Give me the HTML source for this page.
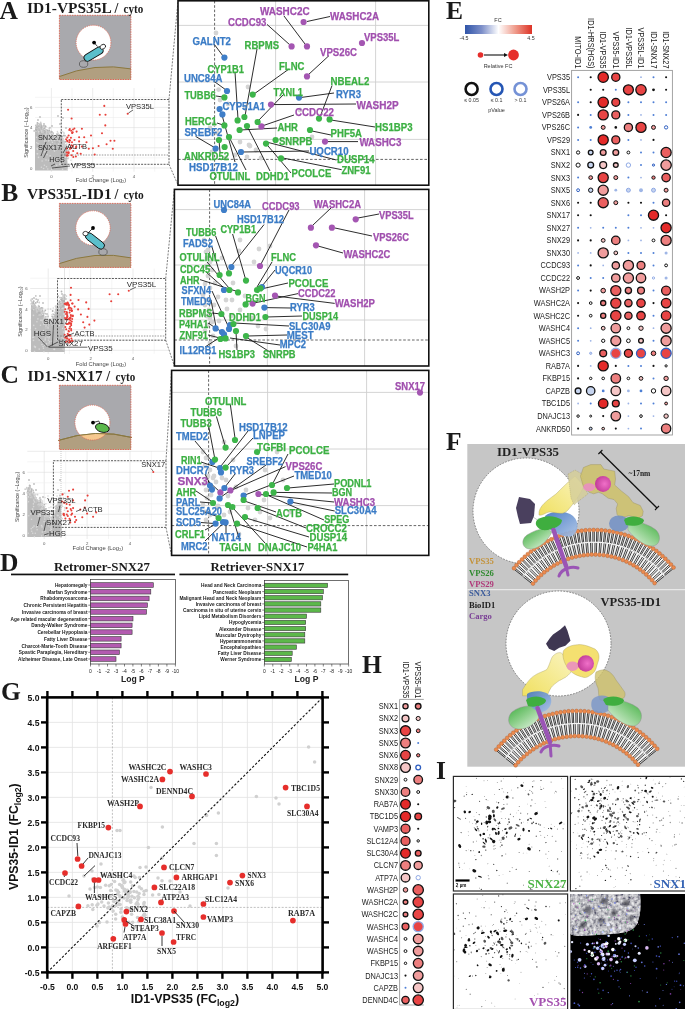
<!DOCTYPE html>
<html><head><meta charset="utf-8"><style>
html,body{margin:0;padding:0;background:#fff;width:685px;height:1009px;overflow:hidden}
svg{display:block;will-change:transform}
</style></head><body>
<svg width="685" height="1009" viewBox="0 0 685 1009" font-family='"Liberation Sans", sans-serif'>
<line x1="51.4" y1="88.0" x2="51.4" y2="171.7" stroke="#dedede" stroke-width="0.6"/>
<line x1="72.0" y1="88.0" x2="72.0" y2="171.7" stroke="#eeeeee" stroke-width="0.6"/>
<line x1="92.7" y1="88.0" x2="92.7" y2="171.7" stroke="#dedede" stroke-width="0.6"/>
<line x1="113.3" y1="88.0" x2="113.3" y2="171.7" stroke="#eeeeee" stroke-width="0.6"/>
<line x1="134.0" y1="88.0" x2="134.0" y2="171.7" stroke="#dedede" stroke-width="0.6"/>
<line x1="154.7" y1="88.0" x2="154.7" y2="171.7" stroke="#eeeeee" stroke-width="0.6"/>
<line x1="35.0" y1="168.0" x2="170.0" y2="168.0" stroke="#dedede" stroke-width="0.6"/>
<line x1="35.0" y1="157.9" x2="170.0" y2="157.9" stroke="#eeeeee" stroke-width="0.6"/>
<line x1="35.0" y1="147.8" x2="170.0" y2="147.8" stroke="#dedede" stroke-width="0.6"/>
<line x1="35.0" y1="137.7" x2="170.0" y2="137.7" stroke="#eeeeee" stroke-width="0.6"/>
<line x1="35.0" y1="127.6" x2="170.0" y2="127.6" stroke="#dedede" stroke-width="0.6"/>
<line x1="35.0" y1="117.5" x2="170.0" y2="117.5" stroke="#eeeeee" stroke-width="0.6"/>
<line x1="35.0" y1="107.4" x2="170.0" y2="107.4" stroke="#dedede" stroke-width="0.6"/>
<line x1="35.0" y1="97.3" x2="170.0" y2="97.3" stroke="#eeeeee" stroke-width="0.6"/>
<text x="51.4" y="177.7" font-size="4.3" font-family='"Liberation Sans", sans-serif' fill="#555" text-anchor="middle">0</text>
<text x="92.7" y="177.7" font-size="4.3" font-family='"Liberation Sans", sans-serif' fill="#555" text-anchor="middle">2</text>
<text x="134.0" y="177.7" font-size="4.3" font-family='"Liberation Sans", sans-serif' fill="#555" text-anchor="middle">4</text>
<text x="32.5" y="169.5" font-size="4.3" font-family='"Liberation Sans", sans-serif' fill="#555" text-anchor="end">0</text>
<text x="32.5" y="149.3" font-size="4.3" font-family='"Liberation Sans", sans-serif' fill="#555" text-anchor="end">2</text>
<text x="32.5" y="129.1" font-size="4.3" font-family='"Liberation Sans", sans-serif' fill="#555" text-anchor="end">4</text>
<text x="32.5" y="108.9" font-size="4.3" font-family='"Liberation Sans", sans-serif' fill="#555" text-anchor="end">6</text>
<text x="101.0" y="182.0" font-size="5.8" font-family='"Liberation Sans", sans-serif' fill="#444" text-anchor="middle">Fold Change (Log₂)</text>
<text transform="translate(27.5,132.7) rotate(-90)" font-family='"Liberation Sans", sans-serif' font-size="5.4" fill="#444" text-anchor="middle">Significance (−Log₁₀)</text>
<path d="M35.0,128.0 L40.0,127.0 L46.0,131.0 L52.0,136.0 L58.0,140.0 L62.0,141.0 L65.0,146.0 L67.0,156.0 L68.0,170.5 L35.0,170.5 Z" fill="#bcbcbc"/>
<circle cx="55.8" cy="142.7" r="0.9" fill="#c4c4c4"/><circle cx="63.1" cy="142.9" r="0.9" fill="#c4c4c4"/><circle cx="64.8" cy="145.3" r="0.9" fill="#b4b4b4"/><circle cx="36.8" cy="130.7" r="0.9" fill="#cfcfcf"/><circle cx="56.7" cy="137.5" r="0.9" fill="#b4b4b4"/><circle cx="58.0" cy="139.0" r="0.9" fill="#b4b4b4"/><circle cx="42.7" cy="129.9" r="0.9" fill="#cfcfcf"/><circle cx="66.2" cy="148.2" r="0.9" fill="#b4b4b4"/><circle cx="61.4" cy="139.7" r="0.9" fill="#cfcfcf"/><circle cx="66.9" cy="146.7" r="0.9" fill="#cfcfcf"/><circle cx="46.0" cy="129.8" r="0.9" fill="#b4b4b4"/><circle cx="65.7" cy="149.4" r="0.9" fill="#cfcfcf"/><circle cx="35.9" cy="128.7" r="0.9" fill="#c4c4c4"/><circle cx="63.8" cy="146.8" r="0.9" fill="#cfcfcf"/><circle cx="48.2" cy="132.5" r="0.9" fill="#c4c4c4"/><circle cx="68.0" cy="158.3" r="0.9" fill="#b4b4b4"/><circle cx="37.4" cy="123.0" r="0.9" fill="#b4b4b4"/><circle cx="54.9" cy="143.2" r="0.9" fill="#c4c4c4"/><circle cx="65.0" cy="135.7" r="0.9" fill="#b4b4b4"/><circle cx="51.0" cy="139.3" r="0.9" fill="#b4b4b4"/><circle cx="41.1" cy="131.8" r="0.9" fill="#cfcfcf"/><circle cx="36.1" cy="129.9" r="0.9" fill="#b4b4b4"/><circle cx="65.4" cy="153.5" r="0.9" fill="#b4b4b4"/><circle cx="35.9" cy="127.4" r="0.9" fill="#c4c4c4"/><circle cx="50.7" cy="136.9" r="0.9" fill="#cfcfcf"/><circle cx="45.7" cy="131.2" r="0.9" fill="#b4b4b4"/><circle cx="65.6" cy="151.8" r="0.9" fill="#cfcfcf"/><circle cx="58.1" cy="146.1" r="0.9" fill="#cfcfcf"/><circle cx="37.3" cy="128.2" r="0.9" fill="#c4c4c4"/><circle cx="45.1" cy="127.5" r="0.9" fill="#cfcfcf"/><circle cx="55.2" cy="139.3" r="0.9" fill="#b4b4b4"/><circle cx="40.7" cy="122.4" r="0.9" fill="#cfcfcf"/><circle cx="36.1" cy="129.5" r="0.9" fill="#b4b4b4"/><circle cx="36.5" cy="126.7" r="0.9" fill="#b4b4b4"/><circle cx="48.0" cy="131.4" r="0.9" fill="#c4c4c4"/><circle cx="45.2" cy="134.9" r="0.9" fill="#cfcfcf"/><circle cx="60.5" cy="141.1" r="0.9" fill="#b4b4b4"/><circle cx="55.0" cy="137.3" r="0.9" fill="#b4b4b4"/><circle cx="60.7" cy="135.8" r="0.9" fill="#c4c4c4"/><circle cx="46.6" cy="134.4" r="0.9" fill="#cfcfcf"/><circle cx="37.9" cy="126.7" r="0.9" fill="#c4c4c4"/><circle cx="46.6" cy="130.2" r="0.9" fill="#c4c4c4"/><circle cx="65.1" cy="145.8" r="0.9" fill="#cfcfcf"/><circle cx="54.3" cy="138.7" r="0.9" fill="#b4b4b4"/><circle cx="63.4" cy="141.4" r="0.9" fill="#c4c4c4"/><circle cx="56.6" cy="138.6" r="0.9" fill="#c4c4c4"/><circle cx="65.9" cy="147.8" r="0.9" fill="#c4c4c4"/><circle cx="58.7" cy="147.6" r="0.9" fill="#b4b4b4"/><circle cx="55.7" cy="137.3" r="0.9" fill="#b4b4b4"/><circle cx="47.2" cy="131.6" r="0.9" fill="#b4b4b4"/><circle cx="65.9" cy="153.3" r="0.9" fill="#b4b4b4"/><circle cx="49.8" cy="133.0" r="0.9" fill="#b4b4b4"/><circle cx="41.9" cy="126.3" r="0.9" fill="#b4b4b4"/><circle cx="41.3" cy="132.0" r="0.9" fill="#cfcfcf"/><circle cx="40.4" cy="126.7" r="0.9" fill="#c4c4c4"/><circle cx="54.7" cy="137.8" r="0.9" fill="#cfcfcf"/><circle cx="61.7" cy="138.2" r="0.9" fill="#cfcfcf"/><circle cx="53.2" cy="138.4" r="0.9" fill="#cfcfcf"/><circle cx="39.3" cy="126.8" r="0.9" fill="#cfcfcf"/><circle cx="65.3" cy="149.7" r="0.9" fill="#b4b4b4"/><circle cx="40.6" cy="126.7" r="0.9" fill="#b4b4b4"/><circle cx="63.1" cy="144.5" r="0.9" fill="#cfcfcf"/><circle cx="66.0" cy="151.4" r="0.9" fill="#c4c4c4"/><circle cx="47.1" cy="135.3" r="0.9" fill="#cfcfcf"/><circle cx="36.8" cy="127.4" r="0.9" fill="#cfcfcf"/><circle cx="60.0" cy="142.3" r="0.9" fill="#cfcfcf"/><circle cx="39.9" cy="131.7" r="0.9" fill="#b4b4b4"/><circle cx="53.2" cy="133.2" r="0.9" fill="#c4c4c4"/><circle cx="59.0" cy="144.5" r="0.9" fill="#c4c4c4"/><circle cx="53.9" cy="138.7" r="0.9" fill="#cfcfcf"/><circle cx="63.4" cy="141.8" r="0.9" fill="#b4b4b4"/><circle cx="48.4" cy="134.4" r="0.9" fill="#cfcfcf"/><circle cx="65.0" cy="145.3" r="0.9" fill="#c4c4c4"/><circle cx="61.9" cy="139.4" r="0.9" fill="#b4b4b4"/><circle cx="66.9" cy="154.0" r="0.9" fill="#cfcfcf"/><circle cx="49.6" cy="137.4" r="0.9" fill="#cfcfcf"/><circle cx="62.6" cy="142.2" r="0.9" fill="#c4c4c4"/><circle cx="62.2" cy="142.8" r="0.9" fill="#cfcfcf"/><circle cx="57.7" cy="139.7" r="0.9" fill="#cfcfcf"/><circle cx="61.1" cy="138.4" r="0.9" fill="#c4c4c4"/><circle cx="66.2" cy="152.7" r="0.9" fill="#b4b4b4"/><circle cx="59.8" cy="138.7" r="0.9" fill="#cfcfcf"/><circle cx="37.4" cy="126.9" r="0.9" fill="#b4b4b4"/><circle cx="60.8" cy="132.2" r="0.9" fill="#b4b4b4"/><circle cx="54.6" cy="139.8" r="0.9" fill="#c4c4c4"/><circle cx="56.6" cy="140.6" r="0.9" fill="#b4b4b4"/><circle cx="56.8" cy="134.5" r="0.9" fill="#c4c4c4"/><circle cx="60.6" cy="141.8" r="0.9" fill="#c4c4c4"/><circle cx="44.2" cy="130.6" r="0.9" fill="#b4b4b4"/><circle cx="41.6" cy="126.0" r="0.9" fill="#b4b4b4"/><circle cx="60.0" cy="136.5" r="0.9" fill="#cfcfcf"/><circle cx="60.2" cy="141.4" r="0.9" fill="#c4c4c4"/><circle cx="37.5" cy="124.5" r="0.9" fill="#b4b4b4"/><circle cx="57.8" cy="137.3" r="0.9" fill="#cfcfcf"/><circle cx="43.8" cy="125.9" r="0.9" fill="#b4b4b4"/><circle cx="64.4" cy="143.0" r="0.9" fill="#cfcfcf"/><circle cx="53.0" cy="137.2" r="0.9" fill="#b4b4b4"/><circle cx="37.3" cy="128.2" r="0.9" fill="#c4c4c4"/><circle cx="51.7" cy="137.9" r="0.9" fill="#cfcfcf"/><circle cx="39.9" cy="124.1" r="0.9" fill="#b4b4b4"/><circle cx="44.9" cy="125.8" r="0.9" fill="#c4c4c4"/><circle cx="37.8" cy="125.5" r="0.9" fill="#cfcfcf"/><circle cx="65.6" cy="149.2" r="0.9" fill="#b4b4b4"/><circle cx="66.0" cy="147.6" r="0.9" fill="#b4b4b4"/><circle cx="42.9" cy="129.4" r="0.9" fill="#c4c4c4"/><circle cx="63.2" cy="148.3" r="0.9" fill="#c4c4c4"/><circle cx="39.8" cy="125.7" r="0.9" fill="#cfcfcf"/><circle cx="48.5" cy="132.8" r="0.9" fill="#cfcfcf"/><circle cx="40.2" cy="128.5" r="0.9" fill="#cfcfcf"/><circle cx="49.0" cy="133.6" r="0.9" fill="#cfcfcf"/><circle cx="63.9" cy="150.4" r="0.9" fill="#cfcfcf"/><circle cx="66.3" cy="158.7" r="0.9" fill="#b4b4b4"/><circle cx="61.8" cy="137.8" r="0.9" fill="#c4c4c4"/><circle cx="36.9" cy="128.2" r="0.9" fill="#c4c4c4"/><circle cx="44.3" cy="134.0" r="0.9" fill="#c4c4c4"/><circle cx="66.0" cy="148.3" r="0.9" fill="#c4c4c4"/><circle cx="48.9" cy="136.2" r="0.9" fill="#cfcfcf"/><circle cx="60.7" cy="138.9" r="0.9" fill="#c4c4c4"/><circle cx="47.6" cy="130.5" r="0.9" fill="#b4b4b4"/><circle cx="55.1" cy="136.0" r="0.9" fill="#b4b4b4"/><circle cx="65.6" cy="148.6" r="0.9" fill="#b4b4b4"/><circle cx="63.1" cy="138.8" r="0.9" fill="#b4b4b4"/><circle cx="63.6" cy="144.7" r="0.9" fill="#c4c4c4"/><circle cx="60.8" cy="137.4" r="0.9" fill="#b4b4b4"/><circle cx="62.3" cy="140.9" r="0.9" fill="#cfcfcf"/><circle cx="68.5" cy="150.2" r="0.9" fill="#c4c4c4"/><circle cx="56.8" cy="142.2" r="0.9" fill="#cfcfcf"/><circle cx="37.2" cy="125.1" r="0.9" fill="#c4c4c4"/><circle cx="59.0" cy="136.9" r="0.9" fill="#c4c4c4"/><circle cx="60.3" cy="138.4" r="0.9" fill="#b4b4b4"/><circle cx="38.1" cy="123.6" r="0.9" fill="#c4c4c4"/><circle cx="66.7" cy="155.3" r="0.9" fill="#c4c4c4"/><circle cx="37.0" cy="127.0" r="0.9" fill="#b4b4b4"/><circle cx="58.0" cy="138.8" r="0.9" fill="#b4b4b4"/><circle cx="56.4" cy="142.5" r="0.9" fill="#b4b4b4"/><circle cx="65.2" cy="148.2" r="0.9" fill="#c4c4c4"/><circle cx="52.0" cy="138.3" r="0.9" fill="#b4b4b4"/><circle cx="37.6" cy="129.6" r="0.9" fill="#cfcfcf"/><circle cx="49.0" cy="133.0" r="0.9" fill="#cfcfcf"/><circle cx="61.9" cy="142.4" r="0.9" fill="#b4b4b4"/><circle cx="42.9" cy="126.3" r="0.9" fill="#cfcfcf"/><circle cx="62.7" cy="140.2" r="0.9" fill="#cfcfcf"/><circle cx="61.5" cy="141.6" r="0.9" fill="#b4b4b4"/><circle cx="45.7" cy="126.4" r="0.9" fill="#b4b4b4"/><circle cx="62.4" cy="143.4" r="0.9" fill="#c4c4c4"/><circle cx="38.9" cy="130.4" r="0.9" fill="#b4b4b4"/><circle cx="64.0" cy="145.2" r="0.9" fill="#cfcfcf"/><circle cx="49.6" cy="131.8" r="0.9" fill="#c4c4c4"/><circle cx="61.1" cy="145.4" r="0.9" fill="#c4c4c4"/><circle cx="65.2" cy="156.9" r="0.9" fill="#c4c4c4"/><circle cx="56.8" cy="137.7" r="0.9" fill="#b4b4b4"/><circle cx="64.0" cy="143.1" r="0.9" fill="#cfcfcf"/><circle cx="67.3" cy="152.6" r="0.9" fill="#b4b4b4"/><circle cx="57.4" cy="140.6" r="0.9" fill="#cfcfcf"/><circle cx="59.2" cy="139.5" r="0.9" fill="#b4b4b4"/><circle cx="35.8" cy="131.1" r="0.9" fill="#cfcfcf"/><circle cx="48.1" cy="133.7" r="0.9" fill="#b4b4b4"/><circle cx="41.2" cy="128.0" r="0.9" fill="#b4b4b4"/><circle cx="49.3" cy="128.5" r="0.9" fill="#cfcfcf"/><circle cx="47.8" cy="134.0" r="0.9" fill="#c4c4c4"/><circle cx="41.6" cy="134.4" r="0.9" fill="#b4b4b4"/><circle cx="37.5" cy="125.7" r="0.9" fill="#c4c4c4"/><circle cx="60.8" cy="141.7" r="0.9" fill="#c4c4c4"/><circle cx="58.3" cy="138.6" r="0.9" fill="#b4b4b4"/><circle cx="64.5" cy="153.9" r="0.9" fill="#b4b4b4"/><circle cx="58.9" cy="141.4" r="0.9" fill="#b4b4b4"/><circle cx="65.1" cy="141.7" r="0.9" fill="#c4c4c4"/><circle cx="66.8" cy="150.2" r="0.9" fill="#b4b4b4"/><circle cx="46.1" cy="130.3" r="0.9" fill="#cfcfcf"/><circle cx="67.0" cy="152.6" r="0.9" fill="#cfcfcf"/><circle cx="51.1" cy="132.7" r="0.9" fill="#c4c4c4"/><circle cx="62.5" cy="136.3" r="0.9" fill="#b4b4b4"/><circle cx="64.3" cy="148.9" r="0.9" fill="#cfcfcf"/><circle cx="49.3" cy="137.2" r="0.9" fill="#c4c4c4"/><circle cx="60.3" cy="136.0" r="0.9" fill="#b4b4b4"/><circle cx="57.2" cy="141.6" r="0.9" fill="#b4b4b4"/><circle cx="63.7" cy="143.9" r="0.9" fill="#c4c4c4"/><circle cx="59.1" cy="141.3" r="0.9" fill="#c4c4c4"/><circle cx="61.0" cy="138.5" r="0.9" fill="#b4b4b4"/><circle cx="38.9" cy="130.7" r="0.9" fill="#b4b4b4"/><circle cx="47.3" cy="132.4" r="0.9" fill="#b4b4b4"/><circle cx="60.5" cy="138.9" r="0.9" fill="#b4b4b4"/><circle cx="47.2" cy="139.0" r="0.9" fill="#cfcfcf"/><circle cx="61.2" cy="135.4" r="0.9" fill="#c4c4c4"/><circle cx="58.5" cy="137.6" r="0.9" fill="#b4b4b4"/><circle cx="57.6" cy="137.8" r="0.9" fill="#b4b4b4"/><circle cx="66.3" cy="159.3" r="0.9" fill="#c4c4c4"/><circle cx="66.4" cy="154.7" r="0.9" fill="#b4b4b4"/><circle cx="67.2" cy="147.0" r="0.9" fill="#cfcfcf"/><circle cx="56.1" cy="139.4" r="0.9" fill="#c4c4c4"/><circle cx="40.7" cy="130.5" r="0.9" fill="#cfcfcf"/><circle cx="66.2" cy="145.6" r="0.9" fill="#b4b4b4"/><circle cx="61.1" cy="146.3" r="0.9" fill="#b4b4b4"/><circle cx="66.4" cy="144.8" r="0.9" fill="#cfcfcf"/><circle cx="39.1" cy="126.7" r="0.9" fill="#cfcfcf"/><circle cx="60.2" cy="140.0" r="0.9" fill="#b4b4b4"/><circle cx="51.6" cy="134.6" r="0.9" fill="#c4c4c4"/><circle cx="40.8" cy="124.2" r="0.9" fill="#c4c4c4"/><circle cx="48.3" cy="134.8" r="0.9" fill="#c4c4c4"/><circle cx="65.3" cy="141.7" r="0.9" fill="#b4b4b4"/><circle cx="63.8" cy="135.4" r="0.9" fill="#b4b4b4"/><circle cx="62.1" cy="146.3" r="0.9" fill="#c4c4c4"/><circle cx="42.9" cy="132.1" r="0.9" fill="#cfcfcf"/><circle cx="46.6" cy="133.0" r="0.9" fill="#cfcfcf"/><circle cx="63.7" cy="140.9" r="0.9" fill="#cfcfcf"/><circle cx="37.8" cy="129.2" r="0.9" fill="#c4c4c4"/><circle cx="51.1" cy="131.3" r="0.9" fill="#c4c4c4"/><circle cx="57.3" cy="140.7" r="0.9" fill="#b4b4b4"/><circle cx="43.5" cy="129.2" r="0.9" fill="#c4c4c4"/><circle cx="38.9" cy="126.1" r="0.9" fill="#b4b4b4"/><circle cx="36.5" cy="130.0" r="0.9" fill="#b4b4b4"/><circle cx="52.1" cy="132.4" r="0.9" fill="#cfcfcf"/><circle cx="43.7" cy="131.3" r="0.9" fill="#c4c4c4"/><circle cx="54.4" cy="137.9" r="0.9" fill="#c4c4c4"/><circle cx="65.4" cy="151.7" r="0.9" fill="#b4b4b4"/><circle cx="49.2" cy="130.3" r="0.9" fill="#b4b4b4"/><circle cx="59.4" cy="135.1" r="0.9" fill="#b4b4b4"/><circle cx="62.1" cy="140.6" r="0.9" fill="#c4c4c4"/><circle cx="58.2" cy="137.5" r="0.9" fill="#cfcfcf"/><circle cx="61.1" cy="151.8" r="0.9" fill="#cfcfcf"/><circle cx="66.8" cy="154.7" r="0.9" fill="#cfcfcf"/><circle cx="45.5" cy="132.3" r="0.9" fill="#c4c4c4"/><circle cx="64.1" cy="147.8" r="0.9" fill="#c4c4c4"/><circle cx="57.8" cy="134.9" r="0.9" fill="#b4b4b4"/><circle cx="59.7" cy="137.0" r="0.9" fill="#c4c4c4"/><circle cx="45.4" cy="136.2" r="0.9" fill="#cfcfcf"/><circle cx="40.0" cy="128.6" r="0.9" fill="#c4c4c4"/><circle cx="45.0" cy="128.9" r="0.9" fill="#cfcfcf"/><circle cx="61.5" cy="137.9" r="0.9" fill="#cfcfcf"/><circle cx="40.4" cy="125.9" r="0.9" fill="#c4c4c4"/><circle cx="60.2" cy="140.8" r="0.9" fill="#b4b4b4"/><circle cx="55.6" cy="139.7" r="0.9" fill="#cfcfcf"/><circle cx="52.9" cy="134.4" r="0.9" fill="#cfcfcf"/><circle cx="44.8" cy="132.3" r="0.9" fill="#b4b4b4"/><circle cx="57.1" cy="137.1" r="0.9" fill="#c4c4c4"/><circle cx="61.2" cy="138.1" r="0.9" fill="#c4c4c4"/><circle cx="57.8" cy="133.2" r="0.9" fill="#cfcfcf"/><circle cx="57.3" cy="140.4" r="0.9" fill="#cfcfcf"/><circle cx="50.0" cy="127.7" r="0.9" fill="#c4c4c4"/><circle cx="35.8" cy="125.3" r="0.9" fill="#c4c4c4"/><circle cx="57.3" cy="141.8" r="0.9" fill="#b4b4b4"/><circle cx="41.1" cy="124.1" r="0.9" fill="#c4c4c4"/><circle cx="38.7" cy="132.7" r="0.9" fill="#cfcfcf"/><circle cx="49.2" cy="140.0" r="0.9" fill="#cfcfcf"/><circle cx="65.6" cy="154.8" r="0.9" fill="#b4b4b4"/><circle cx="44.1" cy="128.2" r="0.9" fill="#b4b4b4"/><circle cx="39.1" cy="131.7" r="0.9" fill="#cfcfcf"/><circle cx="52.8" cy="136.1" r="0.9" fill="#c4c4c4"/><circle cx="39.3" cy="131.6" r="0.9" fill="#c4c4c4"/><circle cx="42.0" cy="127.6" r="0.9" fill="#b4b4b4"/><circle cx="58.5" cy="138.3" r="0.9" fill="#c4c4c4"/><circle cx="40.0" cy="130.7" r="0.9" fill="#b4b4b4"/><circle cx="40.2" cy="132.3" r="0.9" fill="#b4b4b4"/><circle cx="42.6" cy="128.3" r="0.9" fill="#cfcfcf"/><circle cx="61.9" cy="150.0" r="0.9" fill="#cfcfcf"/><circle cx="34.2" cy="130.9" r="0.9" fill="#c4c4c4"/><circle cx="65.2" cy="152.2" r="0.9" fill="#c4c4c4"/><circle cx="53.3" cy="136.7" r="0.9" fill="#cfcfcf"/><circle cx="63.3" cy="142.9" r="0.9" fill="#cfcfcf"/><circle cx="51.8" cy="131.9" r="0.9" fill="#b4b4b4"/><circle cx="56.6" cy="139.1" r="0.8" fill="#d8d8d8"/><circle cx="46.5" cy="166.8" r="0.8" fill="#d8d8d8"/><circle cx="59.3" cy="141.0" r="0.8" fill="#d8d8d8"/><circle cx="58.4" cy="133.6" r="0.8" fill="#d8d8d8"/><circle cx="70.4" cy="147.5" r="0.8" fill="#d8d8d8"/><circle cx="54.5" cy="151.1" r="0.8" fill="#d8d8d8"/><circle cx="37.6" cy="153.8" r="0.8" fill="#d8d8d8"/><circle cx="46.0" cy="140.0" r="0.8" fill="#d8d8d8"/><circle cx="64.1" cy="133.5" r="0.8" fill="#d8d8d8"/><circle cx="46.0" cy="160.0" r="0.8" fill="#d8d8d8"/><circle cx="44.6" cy="141.1" r="0.8" fill="#d8d8d8"/><circle cx="55.2" cy="137.4" r="0.8" fill="#d8d8d8"/><circle cx="67.4" cy="169.2" r="0.8" fill="#d8d8d8"/><circle cx="37.2" cy="148.3" r="0.8" fill="#d8d8d8"/><circle cx="62.3" cy="145.3" r="0.8" fill="#d8d8d8"/><circle cx="68.5" cy="149.8" r="0.8" fill="#d8d8d8"/><circle cx="42.3" cy="152.1" r="0.8" fill="#d8d8d8"/><circle cx="58.6" cy="144.3" r="0.8" fill="#d8d8d8"/><circle cx="59.0" cy="161.1" r="0.8" fill="#d8d8d8"/><circle cx="54.1" cy="150.1" r="0.8" fill="#d8d8d8"/><circle cx="65.6" cy="157.2" r="0.8" fill="#d8d8d8"/><circle cx="54.2" cy="167.8" r="0.8" fill="#d8d8d8"/><circle cx="42.1" cy="161.0" r="0.8" fill="#d8d8d8"/><circle cx="41.8" cy="154.1" r="0.8" fill="#d8d8d8"/><circle cx="44.2" cy="147.5" r="0.8" fill="#d8d8d8"/><circle cx="63.1" cy="161.2" r="0.8" fill="#d8d8d8"/><circle cx="63.7" cy="139.4" r="0.8" fill="#d8d8d8"/><circle cx="53.1" cy="138.8" r="0.8" fill="#d8d8d8"/><circle cx="56.3" cy="149.8" r="0.8" fill="#d8d8d8"/><circle cx="37.2" cy="153.7" r="0.8" fill="#d8d8d8"/><circle cx="61.0" cy="152.7" r="0.8" fill="#d8d8d8"/><circle cx="66.6" cy="137.1" r="0.8" fill="#d8d8d8"/><circle cx="41.3" cy="130.7" r="0.8" fill="#d8d8d8"/><circle cx="53.4" cy="147.3" r="0.8" fill="#d8d8d8"/><circle cx="51.5" cy="140.4" r="0.8" fill="#d8d8d8"/><circle cx="63.9" cy="132.9" r="0.8" fill="#d8d8d8"/><circle cx="67.8" cy="152.6" r="0.8" fill="#d8d8d8"/><circle cx="55.0" cy="161.4" r="0.8" fill="#d8d8d8"/><circle cx="44.3" cy="135.8" r="0.8" fill="#d8d8d8"/><circle cx="46.9" cy="131.7" r="0.8" fill="#d8d8d8"/><circle cx="47.0" cy="154.7" r="0.8" fill="#d8d8d8"/><circle cx="54.4" cy="140.5" r="0.8" fill="#d8d8d8"/><circle cx="56.6" cy="133.5" r="0.8" fill="#d8d8d8"/><circle cx="64.7" cy="136.8" r="0.8" fill="#d8d8d8"/><circle cx="44.9" cy="136.3" r="0.8" fill="#d8d8d8"/><circle cx="60.2" cy="163.0" r="0.8" fill="#d8d8d8"/><circle cx="63.5" cy="132.4" r="0.8" fill="#d8d8d8"/><circle cx="50.4" cy="144.5" r="0.8" fill="#d8d8d8"/><circle cx="43.6" cy="168.5" r="0.8" fill="#d8d8d8"/><circle cx="37.5" cy="149.4" r="0.8" fill="#d8d8d8"/><circle cx="62.6" cy="169.2" r="0.8" fill="#d8d8d8"/><circle cx="41.1" cy="148.1" r="0.8" fill="#d8d8d8"/><circle cx="62.1" cy="131.6" r="0.8" fill="#d8d8d8"/><circle cx="44.4" cy="165.3" r="0.8" fill="#d8d8d8"/><circle cx="41.0" cy="145.6" r="0.8" fill="#d8d8d8"/><circle cx="46.4" cy="146.9" r="0.8" fill="#d8d8d8"/><circle cx="38.7" cy="131.4" r="0.8" fill="#d8d8d8"/><circle cx="70.9" cy="160.3" r="0.8" fill="#d8d8d8"/><circle cx="61.7" cy="139.1" r="0.8" fill="#d8d8d8"/><circle cx="44.9" cy="151.9" r="0.8" fill="#d8d8d8"/><circle cx="44.5" cy="148.3" r="0.8" fill="#d8d8d8"/><circle cx="68.6" cy="144.5" r="0.8" fill="#d8d8d8"/><circle cx="47.8" cy="169.0" r="0.8" fill="#d8d8d8"/><circle cx="57.4" cy="131.6" r="0.8" fill="#d8d8d8"/><circle cx="50.1" cy="155.8" r="0.8" fill="#d8d8d8"/><circle cx="38.0" cy="143.6" r="0.8" fill="#d8d8d8"/><circle cx="60.3" cy="164.3" r="0.8" fill="#d8d8d8"/><circle cx="56.7" cy="165.2" r="0.8" fill="#d8d8d8"/><circle cx="52.2" cy="145.6" r="0.8" fill="#d8d8d8"/><circle cx="65.5" cy="145.1" r="0.8" fill="#d8d8d8"/><circle cx="63.3" cy="138.6" r="0.8" fill="#d8d8d8"/><circle cx="48.2" cy="137.3" r="0.8" fill="#d8d8d8"/><circle cx="55.2" cy="136.5" r="0.8" fill="#d8d8d8"/><circle cx="43.1" cy="138.5" r="0.8" fill="#d8d8d8"/><circle cx="52.4" cy="142.2" r="0.8" fill="#d8d8d8"/><circle cx="51.6" cy="169.4" r="0.8" fill="#d8d8d8"/><circle cx="59.8" cy="164.3" r="0.8" fill="#d8d8d8"/><circle cx="43.2" cy="145.2" r="0.8" fill="#d8d8d8"/><circle cx="38.5" cy="157.4" r="0.8" fill="#d8d8d8"/><circle cx="48.7" cy="140.9" r="0.8" fill="#d8d8d8"/><circle cx="36.6" cy="137.2" r="0.8" fill="#d8d8d8"/><circle cx="45.2" cy="145.6" r="0.8" fill="#d8d8d8"/><circle cx="68.3" cy="158.4" r="0.8" fill="#d8d8d8"/><circle cx="45.4" cy="144.3" r="0.8" fill="#d8d8d8"/><circle cx="41.4" cy="167.2" r="0.8" fill="#d8d8d8"/><circle cx="48.6" cy="160.4" r="0.8" fill="#d8d8d8"/><circle cx="61.3" cy="166.0" r="0.8" fill="#d8d8d8"/><circle cx="36.7" cy="142.8" r="0.8" fill="#d8d8d8"/><circle cx="49.5" cy="133.3" r="0.8" fill="#d8d8d8"/><circle cx="66.9" cy="142.9" r="0.8" fill="#d8d8d8"/><circle cx="38.0" cy="120.0" r="0.9" fill="#bdbdbd"/><circle cx="44.0" cy="124.0" r="0.9" fill="#bdbdbd"/><circle cx="60.0" cy="124.0" r="0.9" fill="#bdbdbd"/><circle cx="63.0" cy="118.0" r="0.9" fill="#bdbdbd"/><circle cx="66.0" cy="128.0" r="0.9" fill="#bdbdbd"/><circle cx="58.0" cy="116.0" r="0.9" fill="#bdbdbd"/><circle cx="40.0" cy="117.0" r="0.9" fill="#bdbdbd"/><circle cx="52.0" cy="126.0" r="0.9" fill="#bdbdbd"/>
<rect x="61.3" y="99.5" width="107.7" height="64.8" fill="none" stroke="#333" stroke-width="0.8" stroke-dasharray="2,1.2"/>
<line x1="61.3" y1="155.0" x2="169.0" y2="155.0" stroke="#555" stroke-width="0.6" stroke-dasharray="1.5,1.2"/>
<circle cx="68.1" cy="109.8" r="1.05" fill="#e8403a"/>
<circle cx="71.6" cy="118.5" r="1.05" fill="#e8403a"/>
<circle cx="104.3" cy="105.9" r="1.05" fill="#e8403a"/>
<circle cx="99.8" cy="114.8" r="1.05" fill="#e8403a"/>
<circle cx="105.5" cy="114.8" r="1.05" fill="#e8403a"/>
<circle cx="105.3" cy="125.4" r="1.05" fill="#e8403a"/>
<circle cx="81.9" cy="128.8" r="1.05" fill="#e8403a"/>
<circle cx="69.3" cy="130.0" r="1.05" fill="#e8403a"/>
<circle cx="72.3" cy="132.7" r="1.05" fill="#e8403a"/>
<circle cx="76.6" cy="131.6" r="1.05" fill="#e8403a"/>
<circle cx="91.0" cy="135.5" r="1.05" fill="#e8403a"/>
<circle cx="102.0" cy="133.2" r="1.05" fill="#e8403a"/>
<circle cx="68.6" cy="135.5" r="1.05" fill="#e8403a"/>
<circle cx="70.9" cy="137.8" r="1.05" fill="#e8403a"/>
<circle cx="79.1" cy="137.3" r="1.05" fill="#e8403a"/>
<circle cx="84.2" cy="137.3" r="1.05" fill="#e8403a"/>
<circle cx="74.5" cy="140.0" r="1.05" fill="#e8403a"/>
<circle cx="79.1" cy="141.4" r="1.05" fill="#e8403a"/>
<circle cx="86.5" cy="142.3" r="1.05" fill="#e8403a"/>
<circle cx="69.3" cy="142.3" r="1.05" fill="#e8403a"/>
<circle cx="71.6" cy="145.3" r="1.05" fill="#e8403a"/>
<circle cx="76.2" cy="146.5" r="1.05" fill="#e8403a"/>
<circle cx="81.9" cy="146.5" r="1.05" fill="#e8403a"/>
<circle cx="88.8" cy="148.8" r="1.05" fill="#e8403a"/>
<circle cx="92.9" cy="148.3" r="1.05" fill="#e8403a"/>
<circle cx="98.6" cy="146.0" r="1.05" fill="#e8403a"/>
<circle cx="106.6" cy="144.2" r="1.05" fill="#e8403a"/>
<circle cx="110.5" cy="140.7" r="1.05" fill="#e8403a"/>
<circle cx="114.4" cy="140.7" r="1.05" fill="#e8403a"/>
<circle cx="112.8" cy="148.8" r="1.05" fill="#e8403a"/>
<circle cx="94.7" cy="154.5" r="1.05" fill="#e8403a"/>
<circle cx="70.0" cy="148.8" r="1.05" fill="#e8403a"/>
<circle cx="73.2" cy="151.0" r="1.05" fill="#e8403a"/>
<circle cx="77.3" cy="153.3" r="1.05" fill="#e8403a"/>
<circle cx="80.7" cy="153.8" r="1.05" fill="#e8403a"/>
<circle cx="68.6" cy="153.3" r="1.05" fill="#e8403a"/>
<circle cx="67.7" cy="155.6" r="1.05" fill="#e8403a"/>
<circle cx="71.6" cy="155.2" r="1.05" fill="#e8403a"/>
<circle cx="127.7" cy="113.7" r="1.05" fill="#e8403a"/>
<circle cx="70.7" cy="147.7" r="1.00" fill="#e8403a"/>
<circle cx="72.7" cy="132.3" r="1.00" fill="#e8403a"/>
<circle cx="66.1" cy="139.2" r="1.00" fill="#e8403a"/>
<circle cx="68.7" cy="152.3" r="1.00" fill="#e8403a"/>
<circle cx="72.9" cy="146.0" r="1.00" fill="#e8403a"/>
<circle cx="71.6" cy="147.8" r="1.00" fill="#e8403a"/>
<circle cx="67.5" cy="141.2" r="1.00" fill="#e8403a"/>
<circle cx="67.6" cy="155.2" r="1.00" fill="#e8403a"/>
<circle cx="66.6" cy="152.6" r="1.00" fill="#e8403a"/>
<circle cx="66.7" cy="148.6" r="1.00" fill="#e8403a"/>
<circle cx="69.4" cy="140.1" r="1.00" fill="#e8403a"/>
<circle cx="74.4" cy="128.6" r="1.00" fill="#e8403a"/>
<circle cx="66.6" cy="155.5" r="1.00" fill="#e8403a"/>
<circle cx="71.1" cy="130.7" r="1.00" fill="#e8403a"/>
<circle cx="75.9" cy="156.4" r="1.00" fill="#e8403a"/>
<circle cx="67.1" cy="140.7" r="1.00" fill="#e8403a"/>
<circle cx="67.4" cy="137.4" r="1.00" fill="#e8403a"/>
<circle cx="72.2" cy="132.9" r="1.00" fill="#e8403a"/>
<circle cx="73.0" cy="129.5" r="1.00" fill="#e8403a"/>
<circle cx="67.7" cy="152.5" r="1.00" fill="#e8403a"/>
<circle cx="70.0" cy="140.6" r="1.00" fill="#e8403a"/>
<circle cx="72.0" cy="142.3" r="1.00" fill="#e8403a"/>
<circle cx="69.8" cy="128.9" r="1.00" fill="#e8403a"/>
<circle cx="73.3" cy="157.0" r="1.00" fill="#e8403a"/>
<circle cx="75.8" cy="147.9" r="1.00" fill="#e8403a"/>
<line x1="128.5" y1="113.0" x2="133.0" y2="110.0" stroke="#222" stroke-width="0.7"/>
<line x1="46.0" y1="142.0" x2="41.0" y2="156.0" stroke="#222" stroke-width="0.7"/>
<line x1="47.0" y1="151.0" x2="43.5" y2="158.0" stroke="#222" stroke-width="0.7"/>
<line x1="67.0" y1="146.0" x2="63.0" y2="153.0" stroke="#222" stroke-width="0.7"/>
<line x1="55.0" y1="164.0" x2="51.0" y2="166.0" stroke="#222" stroke-width="0.7"/>
<line x1="70.0" y1="166.0" x2="52.0" y2="168.0" stroke="#222" stroke-width="0.7"/>
<text x="125.9" y="109.3" font-size="8" font-family='"Liberation Sans", sans-serif' fill="#2a2a2a" textLength="28.1" lengthAdjust="spacingAndGlyphs">VPS35L</text>
<text x="37.9" y="140.0" font-size="8" font-family='"Liberation Sans", sans-serif' fill="#2a2a2a" textLength="23.4" lengthAdjust="spacingAndGlyphs">SNX27</text>
<text x="37.9" y="149.9" font-size="8" font-family='"Liberation Sans", sans-serif' fill="#2a2a2a" textLength="23.4" lengthAdjust="spacingAndGlyphs">SNX17</text>
<text x="67.0" y="148.8" font-size="8" font-family='"Liberation Sans", sans-serif' fill="#2a2a2a" textLength="19.9" lengthAdjust="spacingAndGlyphs">ACTB</text>
<text x="49.3" y="162.0" font-size="8" font-family='"Liberation Sans", sans-serif' fill="#2a2a2a" textLength="15.4" lengthAdjust="spacingAndGlyphs">HGS</text>
<text x="70.9" y="168.2" font-size="8" font-family='"Liberation Sans", sans-serif' fill="#2a2a2a" textLength="24.3" lengthAdjust="spacingAndGlyphs">VPS35</text>
<line x1="169.0" y1="99.5" x2="178.0" y2="0.8" stroke="#444" stroke-width="0.7" stroke-dasharray="2,1.3"/>
<line x1="169.0" y1="164.3" x2="178.0" y2="185.0" stroke="#444" stroke-width="0.7" stroke-dasharray="2,1.3"/>
<line x1="48.2" y1="268.5" x2="48.2" y2="353.8" stroke="#dedede" stroke-width="0.6"/>
<line x1="69.4" y1="268.5" x2="69.4" y2="353.8" stroke="#eeeeee" stroke-width="0.6"/>
<line x1="90.6" y1="268.5" x2="90.6" y2="353.8" stroke="#dedede" stroke-width="0.6"/>
<line x1="111.8" y1="268.5" x2="111.8" y2="353.8" stroke="#eeeeee" stroke-width="0.6"/>
<line x1="133.0" y1="268.5" x2="133.0" y2="353.8" stroke="#dedede" stroke-width="0.6"/>
<line x1="154.2" y1="268.5" x2="154.2" y2="353.8" stroke="#eeeeee" stroke-width="0.6"/>
<line x1="30.2" y1="350.3" x2="168.0" y2="350.3" stroke="#dedede" stroke-width="0.6"/>
<line x1="30.2" y1="340.0" x2="168.0" y2="340.0" stroke="#eeeeee" stroke-width="0.6"/>
<line x1="30.2" y1="329.7" x2="168.0" y2="329.7" stroke="#dedede" stroke-width="0.6"/>
<line x1="30.2" y1="319.4" x2="168.0" y2="319.4" stroke="#eeeeee" stroke-width="0.6"/>
<line x1="30.2" y1="309.1" x2="168.0" y2="309.1" stroke="#dedede" stroke-width="0.6"/>
<line x1="30.2" y1="298.8" x2="168.0" y2="298.8" stroke="#eeeeee" stroke-width="0.6"/>
<line x1="30.2" y1="288.5" x2="168.0" y2="288.5" stroke="#dedede" stroke-width="0.6"/>
<line x1="30.2" y1="278.2" x2="168.0" y2="278.2" stroke="#eeeeee" stroke-width="0.6"/>
<text x="48.2" y="359.8" font-size="4.3" font-family='"Liberation Sans", sans-serif' fill="#555" text-anchor="middle">0</text>
<text x="90.6" y="359.8" font-size="4.3" font-family='"Liberation Sans", sans-serif' fill="#555" text-anchor="middle">2</text>
<text x="133.0" y="359.8" font-size="4.3" font-family='"Liberation Sans", sans-serif' fill="#555" text-anchor="middle">4</text>
<text x="27.7" y="351.8" font-size="4.3" font-family='"Liberation Sans", sans-serif' fill="#555" text-anchor="end">0</text>
<text x="27.7" y="331.2" font-size="4.3" font-family='"Liberation Sans", sans-serif' fill="#555" text-anchor="end">2</text>
<text x="27.7" y="310.6" font-size="4.3" font-family='"Liberation Sans", sans-serif' fill="#555" text-anchor="end">4</text>
<text x="27.7" y="290.0" font-size="4.3" font-family='"Liberation Sans", sans-serif' fill="#555" text-anchor="end">6</text>
<text x="101.0" y="366.0" font-size="5.8" font-family='"Liberation Sans", sans-serif' fill="#444" text-anchor="middle">Fold Change (Log₂)</text>
<text transform="translate(22,311.7) rotate(-90)" font-family='"Liberation Sans", sans-serif' font-size="5.4" fill="#444" text-anchor="middle">Significance (−Log₁₀)</text>
<path d="M31.0,305.0 L36.0,306.0 L41.0,312.0 L45.0,320.0 L48.0,326.0 L52.0,321.0 L56.0,312.0 L60.0,304.0 L63.0,300.0 L64.5,300.0 L64.5,352.0 L31.0,352.0 Z" fill="#bcbcbc"/>
<circle cx="41.3" cy="311.5" r="0.9" fill="#cfcfcf"/><circle cx="38.5" cy="314.3" r="0.9" fill="#b4b4b4"/><circle cx="46.6" cy="329.4" r="0.9" fill="#b4b4b4"/><circle cx="63.3" cy="304.2" r="0.9" fill="#b4b4b4"/><circle cx="34.6" cy="304.9" r="0.9" fill="#b4b4b4"/><circle cx="61.9" cy="301.1" r="0.9" fill="#cfcfcf"/><circle cx="34.0" cy="303.9" r="0.9" fill="#c4c4c4"/><circle cx="49.8" cy="326.7" r="0.9" fill="#cfcfcf"/><circle cx="43.6" cy="313.6" r="0.9" fill="#c4c4c4"/><circle cx="32.1" cy="307.9" r="0.9" fill="#c4c4c4"/><circle cx="62.7" cy="302.2" r="0.9" fill="#b4b4b4"/><circle cx="50.4" cy="322.6" r="0.9" fill="#cfcfcf"/><circle cx="64.4" cy="295.9" r="0.9" fill="#cfcfcf"/><circle cx="56.3" cy="314.1" r="0.9" fill="#c4c4c4"/><circle cx="55.7" cy="312.6" r="0.9" fill="#b4b4b4"/><circle cx="56.2" cy="310.0" r="0.9" fill="#b4b4b4"/><circle cx="65.5" cy="302.8" r="0.9" fill="#cfcfcf"/><circle cx="46.5" cy="324.2" r="0.9" fill="#cfcfcf"/><circle cx="47.4" cy="325.5" r="0.9" fill="#b4b4b4"/><circle cx="45.2" cy="313.7" r="0.9" fill="#c4c4c4"/><circle cx="64.7" cy="299.0" r="0.9" fill="#c4c4c4"/><circle cx="61.4" cy="299.3" r="0.9" fill="#b4b4b4"/><circle cx="51.9" cy="324.8" r="0.9" fill="#cfcfcf"/><circle cx="39.1" cy="310.2" r="0.9" fill="#c4c4c4"/><circle cx="49.0" cy="326.8" r="0.9" fill="#cfcfcf"/><circle cx="40.7" cy="308.6" r="0.9" fill="#b4b4b4"/><circle cx="39.8" cy="312.2" r="0.9" fill="#cfcfcf"/><circle cx="47.7" cy="327.3" r="0.9" fill="#cfcfcf"/><circle cx="42.5" cy="308.1" r="0.9" fill="#b4b4b4"/><circle cx="45.7" cy="318.3" r="0.9" fill="#cfcfcf"/><circle cx="58.6" cy="308.3" r="0.9" fill="#c4c4c4"/><circle cx="40.4" cy="309.9" r="0.9" fill="#cfcfcf"/><circle cx="52.2" cy="316.4" r="0.9" fill="#b4b4b4"/><circle cx="63.8" cy="300.3" r="0.9" fill="#b4b4b4"/><circle cx="63.8" cy="301.0" r="0.9" fill="#b4b4b4"/><circle cx="52.0" cy="321.6" r="0.9" fill="#b4b4b4"/><circle cx="59.6" cy="311.7" r="0.9" fill="#cfcfcf"/><circle cx="65.9" cy="299.0" r="0.9" fill="#c4c4c4"/><circle cx="45.6" cy="318.8" r="0.9" fill="#cfcfcf"/><circle cx="59.6" cy="304.5" r="0.9" fill="#b4b4b4"/><circle cx="60.0" cy="306.0" r="0.9" fill="#c4c4c4"/><circle cx="63.6" cy="300.5" r="0.9" fill="#c4c4c4"/><circle cx="52.7" cy="311.0" r="0.9" fill="#b4b4b4"/><circle cx="45.7" cy="326.0" r="0.9" fill="#cfcfcf"/><circle cx="55.4" cy="321.3" r="0.9" fill="#cfcfcf"/><circle cx="34.6" cy="306.4" r="0.9" fill="#b4b4b4"/><circle cx="42.8" cy="313.2" r="0.9" fill="#c4c4c4"/><circle cx="66.4" cy="296.1" r="0.9" fill="#cfcfcf"/><circle cx="34.1" cy="307.3" r="0.9" fill="#c4c4c4"/><circle cx="48.5" cy="326.1" r="0.9" fill="#c4c4c4"/><circle cx="51.4" cy="322.9" r="0.9" fill="#c4c4c4"/><circle cx="56.4" cy="314.0" r="0.9" fill="#c4c4c4"/><circle cx="53.0" cy="317.9" r="0.9" fill="#b4b4b4"/><circle cx="55.8" cy="310.5" r="0.9" fill="#cfcfcf"/><circle cx="43.8" cy="322.8" r="0.9" fill="#cfcfcf"/><circle cx="43.5" cy="315.5" r="0.9" fill="#b4b4b4"/><circle cx="39.3" cy="308.5" r="0.9" fill="#c4c4c4"/><circle cx="39.9" cy="310.5" r="0.9" fill="#cfcfcf"/><circle cx="61.1" cy="299.3" r="0.9" fill="#c4c4c4"/><circle cx="61.2" cy="302.5" r="0.9" fill="#b4b4b4"/><circle cx="37.3" cy="301.9" r="0.9" fill="#b4b4b4"/><circle cx="62.9" cy="300.7" r="0.9" fill="#b4b4b4"/><circle cx="49.8" cy="321.6" r="0.9" fill="#c4c4c4"/><circle cx="56.1" cy="307.3" r="0.9" fill="#cfcfcf"/><circle cx="61.0" cy="302.8" r="0.9" fill="#b4b4b4"/><circle cx="45.4" cy="316.9" r="0.9" fill="#cfcfcf"/><circle cx="35.3" cy="305.8" r="0.9" fill="#c4c4c4"/><circle cx="64.4" cy="295.0" r="0.9" fill="#cfcfcf"/><circle cx="47.9" cy="316.6" r="0.9" fill="#b4b4b4"/><circle cx="33.7" cy="301.2" r="0.9" fill="#b4b4b4"/><circle cx="44.1" cy="311.8" r="0.9" fill="#c4c4c4"/><circle cx="41.4" cy="307.9" r="0.9" fill="#b4b4b4"/><circle cx="31.8" cy="307.9" r="0.9" fill="#c4c4c4"/><circle cx="43.4" cy="316.8" r="0.9" fill="#c4c4c4"/><circle cx="38.8" cy="309.4" r="0.9" fill="#cfcfcf"/><circle cx="50.5" cy="320.0" r="0.9" fill="#cfcfcf"/><circle cx="54.7" cy="321.5" r="0.9" fill="#b4b4b4"/><circle cx="37.9" cy="311.9" r="0.9" fill="#c4c4c4"/><circle cx="55.4" cy="312.6" r="0.9" fill="#c4c4c4"/><circle cx="49.2" cy="323.7" r="0.9" fill="#b4b4b4"/><circle cx="55.6" cy="306.2" r="0.9" fill="#cfcfcf"/><circle cx="56.2" cy="320.2" r="0.9" fill="#b4b4b4"/><circle cx="62.4" cy="298.8" r="0.9" fill="#b4b4b4"/><circle cx="62.5" cy="301.4" r="0.9" fill="#b4b4b4"/><circle cx="52.7" cy="323.6" r="0.9" fill="#b4b4b4"/><circle cx="54.3" cy="318.3" r="0.9" fill="#b4b4b4"/><circle cx="36.9" cy="307.1" r="0.9" fill="#cfcfcf"/><circle cx="63.3" cy="299.9" r="0.9" fill="#cfcfcf"/><circle cx="50.0" cy="327.1" r="0.9" fill="#b4b4b4"/><circle cx="42.0" cy="312.6" r="0.9" fill="#c4c4c4"/><circle cx="55.1" cy="320.8" r="0.9" fill="#c4c4c4"/><circle cx="63.9" cy="298.1" r="0.9" fill="#b4b4b4"/><circle cx="44.0" cy="318.6" r="0.9" fill="#c4c4c4"/><circle cx="40.1" cy="310.0" r="0.9" fill="#c4c4c4"/><circle cx="58.9" cy="310.3" r="0.9" fill="#cfcfcf"/><circle cx="63.4" cy="305.8" r="0.9" fill="#b4b4b4"/><circle cx="45.9" cy="326.5" r="0.9" fill="#cfcfcf"/><circle cx="53.3" cy="322.0" r="0.9" fill="#cfcfcf"/><circle cx="50.5" cy="320.6" r="0.9" fill="#cfcfcf"/><circle cx="45.9" cy="320.1" r="0.9" fill="#b4b4b4"/><circle cx="46.8" cy="320.6" r="0.9" fill="#c4c4c4"/><circle cx="37.8" cy="312.2" r="0.9" fill="#cfcfcf"/><circle cx="33.3" cy="306.5" r="0.9" fill="#c4c4c4"/><circle cx="59.0" cy="310.2" r="0.9" fill="#b4b4b4"/><circle cx="42.4" cy="316.3" r="0.9" fill="#b4b4b4"/><circle cx="62.5" cy="301.1" r="0.9" fill="#c4c4c4"/><circle cx="48.8" cy="325.4" r="0.9" fill="#cfcfcf"/><circle cx="33.4" cy="304.9" r="0.9" fill="#c4c4c4"/><circle cx="64.2" cy="302.5" r="0.9" fill="#cfcfcf"/><circle cx="37.4" cy="312.1" r="0.9" fill="#c4c4c4"/><circle cx="56.5" cy="309.0" r="0.9" fill="#c4c4c4"/><circle cx="32.4" cy="309.1" r="0.9" fill="#c4c4c4"/><circle cx="48.8" cy="320.5" r="0.9" fill="#c4c4c4"/><circle cx="53.8" cy="323.0" r="0.9" fill="#c4c4c4"/><circle cx="48.0" cy="323.7" r="0.9" fill="#cfcfcf"/><circle cx="38.5" cy="314.2" r="0.9" fill="#b4b4b4"/><circle cx="57.6" cy="308.1" r="0.9" fill="#cfcfcf"/><circle cx="61.1" cy="305.5" r="0.9" fill="#c4c4c4"/><circle cx="61.1" cy="302.8" r="0.9" fill="#b4b4b4"/><circle cx="64.2" cy="297.6" r="0.9" fill="#c4c4c4"/><circle cx="58.8" cy="308.9" r="0.9" fill="#c4c4c4"/><circle cx="39.2" cy="314.9" r="0.9" fill="#cfcfcf"/><circle cx="38.0" cy="312.6" r="0.9" fill="#cfcfcf"/><circle cx="32.9" cy="310.4" r="0.9" fill="#b4b4b4"/><circle cx="46.3" cy="321.5" r="0.9" fill="#b4b4b4"/><circle cx="46.3" cy="324.4" r="0.9" fill="#c4c4c4"/><circle cx="35.1" cy="306.3" r="0.9" fill="#cfcfcf"/><circle cx="63.2" cy="295.1" r="0.9" fill="#cfcfcf"/><circle cx="39.8" cy="312.2" r="0.9" fill="#b4b4b4"/><circle cx="57.0" cy="314.1" r="0.9" fill="#b4b4b4"/><circle cx="47.7" cy="324.8" r="0.9" fill="#cfcfcf"/><circle cx="46.0" cy="321.8" r="0.9" fill="#c4c4c4"/><circle cx="61.3" cy="305.6" r="0.9" fill="#c4c4c4"/><circle cx="44.8" cy="318.6" r="0.9" fill="#b4b4b4"/><circle cx="51.9" cy="323.7" r="0.9" fill="#b4b4b4"/><circle cx="42.8" cy="321.0" r="0.9" fill="#b4b4b4"/><circle cx="56.8" cy="307.5" r="0.9" fill="#cfcfcf"/><circle cx="40.8" cy="314.9" r="0.9" fill="#cfcfcf"/><circle cx="63.4" cy="299.8" r="0.9" fill="#cfcfcf"/><circle cx="31.4" cy="301.1" r="0.9" fill="#cfcfcf"/><circle cx="44.8" cy="321.6" r="0.9" fill="#c4c4c4"/><circle cx="57.9" cy="313.8" r="0.9" fill="#c4c4c4"/><circle cx="60.7" cy="301.8" r="0.9" fill="#cfcfcf"/><circle cx="44.4" cy="318.3" r="0.9" fill="#c4c4c4"/><circle cx="55.3" cy="314.3" r="0.9" fill="#c4c4c4"/><circle cx="40.9" cy="308.3" r="0.9" fill="#c4c4c4"/><circle cx="62.0" cy="297.7" r="0.9" fill="#cfcfcf"/><circle cx="47.1" cy="328.4" r="0.9" fill="#c4c4c4"/><circle cx="37.7" cy="312.4" r="0.9" fill="#b4b4b4"/><circle cx="55.2" cy="317.1" r="0.9" fill="#cfcfcf"/><circle cx="57.7" cy="305.6" r="0.9" fill="#cfcfcf"/><circle cx="62.6" cy="306.1" r="0.9" fill="#b4b4b4"/><circle cx="61.3" cy="299.8" r="0.9" fill="#b4b4b4"/><circle cx="61.2" cy="302.3" r="0.9" fill="#cfcfcf"/><circle cx="49.2" cy="324.6" r="0.9" fill="#b4b4b4"/><circle cx="46.4" cy="319.2" r="0.9" fill="#cfcfcf"/><circle cx="57.7" cy="308.5" r="0.9" fill="#c4c4c4"/><circle cx="32.2" cy="299.0" r="0.9" fill="#c4c4c4"/><circle cx="47.4" cy="325.5" r="0.9" fill="#cfcfcf"/><circle cx="42.2" cy="309.2" r="0.9" fill="#cfcfcf"/><circle cx="39.1" cy="311.2" r="0.9" fill="#c4c4c4"/><circle cx="55.7" cy="312.3" r="0.9" fill="#b4b4b4"/><circle cx="58.9" cy="304.7" r="0.9" fill="#cfcfcf"/><circle cx="46.5" cy="319.4" r="0.9" fill="#cfcfcf"/><circle cx="63.9" cy="299.0" r="0.9" fill="#cfcfcf"/><circle cx="62.9" cy="301.6" r="0.9" fill="#cfcfcf"/><circle cx="59.9" cy="302.2" r="0.9" fill="#cfcfcf"/><circle cx="62.2" cy="308.5" r="0.9" fill="#b4b4b4"/><circle cx="43.4" cy="316.8" r="0.9" fill="#c4c4c4"/><circle cx="33.2" cy="304.3" r="0.9" fill="#cfcfcf"/><circle cx="31.2" cy="303.8" r="0.9" fill="#cfcfcf"/><circle cx="60.9" cy="308.1" r="0.9" fill="#b4b4b4"/><circle cx="48.0" cy="320.5" r="0.9" fill="#cfcfcf"/><circle cx="36.6" cy="310.8" r="0.9" fill="#cfcfcf"/><circle cx="42.8" cy="322.0" r="0.9" fill="#cfcfcf"/><circle cx="54.6" cy="316.3" r="0.9" fill="#b4b4b4"/><circle cx="63.9" cy="300.7" r="0.9" fill="#c4c4c4"/><circle cx="42.8" cy="311.5" r="0.9" fill="#cfcfcf"/><circle cx="32.2" cy="303.7" r="0.9" fill="#c4c4c4"/><circle cx="61.5" cy="291.5" r="0.9" fill="#b4b4b4"/><circle cx="43.7" cy="319.0" r="0.9" fill="#c4c4c4"/><circle cx="46.6" cy="322.4" r="0.9" fill="#b4b4b4"/><circle cx="47.4" cy="326.9" r="0.9" fill="#c4c4c4"/><circle cx="61.7" cy="297.9" r="0.9" fill="#c4c4c4"/><circle cx="45.8" cy="320.8" r="0.9" fill="#c4c4c4"/><circle cx="51.7" cy="323.2" r="0.9" fill="#c4c4c4"/><circle cx="63.5" cy="301.0" r="0.9" fill="#b4b4b4"/><circle cx="57.4" cy="306.6" r="0.9" fill="#cfcfcf"/><circle cx="49.0" cy="325.8" r="0.9" fill="#c4c4c4"/><circle cx="44.6" cy="325.6" r="0.9" fill="#b4b4b4"/><circle cx="53.4" cy="319.3" r="0.9" fill="#b4b4b4"/><circle cx="46.1" cy="325.0" r="0.9" fill="#cfcfcf"/><circle cx="41.1" cy="309.8" r="0.9" fill="#cfcfcf"/><circle cx="48.0" cy="321.9" r="0.9" fill="#cfcfcf"/><circle cx="36.3" cy="308.9" r="0.9" fill="#cfcfcf"/><circle cx="43.9" cy="321.3" r="0.9" fill="#b4b4b4"/><circle cx="38.6" cy="305.6" r="0.9" fill="#cfcfcf"/><circle cx="48.2" cy="327.9" r="0.9" fill="#cfcfcf"/><circle cx="59.6" cy="304.3" r="0.9" fill="#b4b4b4"/><circle cx="42.5" cy="310.9" r="0.9" fill="#b4b4b4"/><circle cx="46.1" cy="316.6" r="0.9" fill="#c4c4c4"/><circle cx="44.2" cy="322.1" r="0.9" fill="#b4b4b4"/><circle cx="57.4" cy="309.3" r="0.9" fill="#cfcfcf"/><circle cx="45.6" cy="322.9" r="0.9" fill="#cfcfcf"/><circle cx="38.8" cy="312.5" r="0.9" fill="#b4b4b4"/><circle cx="47.7" cy="325.1" r="0.9" fill="#b4b4b4"/><circle cx="35.7" cy="302.9" r="0.9" fill="#b4b4b4"/><circle cx="32.6" cy="302.2" r="0.9" fill="#cfcfcf"/><circle cx="64.3" cy="301.0" r="0.9" fill="#b4b4b4"/><circle cx="52.7" cy="321.3" r="0.9" fill="#cfcfcf"/><circle cx="38.3" cy="307.9" r="0.9" fill="#cfcfcf"/><circle cx="59.9" cy="305.1" r="0.9" fill="#cfcfcf"/><circle cx="56.0" cy="317.0" r="0.9" fill="#b4b4b4"/><circle cx="64.8" cy="297.8" r="0.9" fill="#c4c4c4"/><circle cx="62.0" cy="304.1" r="0.9" fill="#cfcfcf"/><circle cx="35.8" cy="295.9" r="0.9" fill="#c4c4c4"/><circle cx="56.1" cy="309.5" r="0.9" fill="#c4c4c4"/><circle cx="65.1" cy="294.9" r="0.9" fill="#cfcfcf"/><circle cx="51.1" cy="320.6" r="0.9" fill="#cfcfcf"/><circle cx="45.9" cy="328.4" r="0.9" fill="#c4c4c4"/><circle cx="39.1" cy="306.7" r="0.9" fill="#b4b4b4"/><circle cx="63.4" cy="301.3" r="0.9" fill="#b4b4b4"/><circle cx="53.8" cy="314.4" r="0.9" fill="#b4b4b4"/><circle cx="56.4" cy="312.7" r="0.9" fill="#b4b4b4"/><circle cx="52.6" cy="322.6" r="0.9" fill="#b4b4b4"/><circle cx="47.4" cy="319.0" r="0.9" fill="#cfcfcf"/><circle cx="46.6" cy="322.8" r="0.9" fill="#b4b4b4"/><circle cx="53.4" cy="317.1" r="0.9" fill="#cfcfcf"/><circle cx="57.8" cy="304.1" r="0.9" fill="#b4b4b4"/><circle cx="49.1" cy="320.5" r="0.9" fill="#c4c4c4"/><circle cx="53.4" cy="323.2" r="0.9" fill="#c4c4c4"/><circle cx="36.2" cy="299.2" r="0.9" fill="#c4c4c4"/><circle cx="59.2" cy="308.1" r="0.9" fill="#b4b4b4"/><circle cx="37.7" cy="311.0" r="0.9" fill="#c4c4c4"/><circle cx="60.0" cy="297.6" r="0.9" fill="#c4c4c4"/><circle cx="34.8" cy="306.5" r="0.9" fill="#c4c4c4"/><circle cx="60.9" cy="305.1" r="0.9" fill="#c4c4c4"/><circle cx="51.1" cy="323.0" r="0.9" fill="#cfcfcf"/><circle cx="64.2" cy="296.3" r="0.9" fill="#cfcfcf"/><circle cx="43.2" cy="315.5" r="0.9" fill="#b4b4b4"/><circle cx="53.5" cy="318.6" r="0.9" fill="#b4b4b4"/><circle cx="63.1" cy="296.2" r="0.9" fill="#cfcfcf"/><circle cx="39.2" cy="302.5" r="0.9" fill="#cfcfcf"/><circle cx="37.0" cy="311.9" r="0.9" fill="#cfcfcf"/><circle cx="31.9" cy="302.9" r="0.9" fill="#cfcfcf"/><circle cx="53.8" cy="317.2" r="0.9" fill="#cfcfcf"/><circle cx="57.6" cy="309.6" r="0.9" fill="#b4b4b4"/><circle cx="59.2" cy="302.4" r="0.9" fill="#b4b4b4"/><circle cx="45.3" cy="310.4" r="0.9" fill="#b4b4b4"/><circle cx="59.4" cy="307.2" r="0.9" fill="#c4c4c4"/><circle cx="33.4" cy="303.0" r="0.9" fill="#b4b4b4"/><circle cx="41.6" cy="313.1" r="0.9" fill="#cfcfcf"/><circle cx="49.6" cy="325.5" r="0.9" fill="#b4b4b4"/><circle cx="57.4" cy="305.4" r="0.9" fill="#c4c4c4"/><circle cx="51.8" cy="322.9" r="0.9" fill="#c4c4c4"/><circle cx="36.4" cy="308.2" r="0.9" fill="#cfcfcf"/><circle cx="62.1" cy="300.4" r="0.9" fill="#b4b4b4"/><circle cx="30.9" cy="300.1" r="0.9" fill="#cfcfcf"/><circle cx="59.5" cy="301.2" r="0.9" fill="#b4b4b4"/><circle cx="43.9" cy="319.0" r="0.9" fill="#cfcfcf"/><circle cx="39.2" cy="349.1" r="0.8" fill="#d8d8d8"/><circle cx="63.4" cy="338.7" r="0.8" fill="#d8d8d8"/><circle cx="63.7" cy="314.1" r="0.8" fill="#d8d8d8"/><circle cx="67.1" cy="317.0" r="0.8" fill="#d8d8d8"/><circle cx="46.6" cy="343.9" r="0.8" fill="#d8d8d8"/><circle cx="48.1" cy="309.0" r="0.8" fill="#d8d8d8"/><circle cx="48.1" cy="315.3" r="0.8" fill="#d8d8d8"/><circle cx="33.7" cy="309.7" r="0.8" fill="#d8d8d8"/><circle cx="53.4" cy="330.7" r="0.8" fill="#d8d8d8"/><circle cx="44.0" cy="324.3" r="0.8" fill="#d8d8d8"/><circle cx="43.5" cy="348.2" r="0.8" fill="#d8d8d8"/><circle cx="35.4" cy="346.8" r="0.8" fill="#d8d8d8"/><circle cx="66.0" cy="330.1" r="0.8" fill="#d8d8d8"/><circle cx="54.5" cy="349.4" r="0.8" fill="#d8d8d8"/><circle cx="37.7" cy="307.7" r="0.8" fill="#d8d8d8"/><circle cx="43.9" cy="351.8" r="0.8" fill="#d8d8d8"/><circle cx="36.9" cy="321.8" r="0.8" fill="#d8d8d8"/><circle cx="63.5" cy="332.0" r="0.8" fill="#d8d8d8"/><circle cx="64.7" cy="327.6" r="0.8" fill="#d8d8d8"/><circle cx="55.5" cy="320.6" r="0.8" fill="#d8d8d8"/><circle cx="66.7" cy="314.4" r="0.8" fill="#d8d8d8"/><circle cx="64.3" cy="350.0" r="0.8" fill="#d8d8d8"/><circle cx="47.2" cy="337.0" r="0.8" fill="#d8d8d8"/><circle cx="48.4" cy="340.2" r="0.8" fill="#d8d8d8"/><circle cx="34.5" cy="351.5" r="0.8" fill="#d8d8d8"/><circle cx="49.1" cy="343.0" r="0.8" fill="#d8d8d8"/><circle cx="51.2" cy="319.0" r="0.8" fill="#d8d8d8"/><circle cx="36.9" cy="331.3" r="0.8" fill="#d8d8d8"/><circle cx="47.3" cy="335.5" r="0.8" fill="#d8d8d8"/><circle cx="43.4" cy="330.5" r="0.8" fill="#d8d8d8"/><circle cx="33.6" cy="337.2" r="0.8" fill="#d8d8d8"/><circle cx="49.8" cy="319.0" r="0.8" fill="#d8d8d8"/><circle cx="35.6" cy="328.6" r="0.8" fill="#d8d8d8"/><circle cx="34.4" cy="346.2" r="0.8" fill="#d8d8d8"/><circle cx="49.0" cy="337.9" r="0.8" fill="#d8d8d8"/><circle cx="43.5" cy="311.5" r="0.8" fill="#d8d8d8"/><circle cx="46.9" cy="316.6" r="0.8" fill="#d8d8d8"/><circle cx="63.0" cy="308.4" r="0.8" fill="#d8d8d8"/><circle cx="35.2" cy="347.4" r="0.8" fill="#d8d8d8"/><circle cx="32.9" cy="337.4" r="0.8" fill="#d8d8d8"/><circle cx="54.5" cy="323.4" r="0.8" fill="#d8d8d8"/><circle cx="65.9" cy="319.3" r="0.8" fill="#d8d8d8"/><circle cx="42.0" cy="344.6" r="0.8" fill="#d8d8d8"/><circle cx="41.4" cy="309.9" r="0.8" fill="#d8d8d8"/><circle cx="52.1" cy="341.3" r="0.8" fill="#d8d8d8"/><circle cx="44.1" cy="324.6" r="0.8" fill="#d8d8d8"/><circle cx="43.3" cy="335.8" r="0.8" fill="#d8d8d8"/><circle cx="49.4" cy="336.6" r="0.8" fill="#d8d8d8"/><circle cx="45.2" cy="339.9" r="0.8" fill="#d8d8d8"/><circle cx="51.9" cy="314.8" r="0.8" fill="#d8d8d8"/><circle cx="46.5" cy="335.2" r="0.8" fill="#d8d8d8"/><circle cx="59.3" cy="325.6" r="0.8" fill="#d8d8d8"/><circle cx="43.1" cy="346.6" r="0.8" fill="#d8d8d8"/><circle cx="53.9" cy="349.3" r="0.8" fill="#d8d8d8"/><circle cx="64.1" cy="326.8" r="0.8" fill="#d8d8d8"/><circle cx="45.3" cy="338.0" r="0.8" fill="#d8d8d8"/><circle cx="59.0" cy="320.5" r="0.8" fill="#d8d8d8"/><circle cx="41.9" cy="320.6" r="0.8" fill="#d8d8d8"/><circle cx="40.5" cy="325.3" r="0.8" fill="#d8d8d8"/><circle cx="49.6" cy="341.6" r="0.8" fill="#d8d8d8"/><circle cx="33.7" cy="325.4" r="0.8" fill="#d8d8d8"/><circle cx="42.1" cy="320.1" r="0.8" fill="#d8d8d8"/><circle cx="41.8" cy="341.6" r="0.8" fill="#d8d8d8"/><circle cx="33.5" cy="340.4" r="0.8" fill="#d8d8d8"/><circle cx="62.6" cy="328.4" r="0.8" fill="#d8d8d8"/><circle cx="63.0" cy="349.0" r="0.8" fill="#d8d8d8"/><circle cx="40.7" cy="320.3" r="0.8" fill="#d8d8d8"/><circle cx="59.1" cy="320.0" r="0.8" fill="#d8d8d8"/><circle cx="48.8" cy="325.0" r="0.8" fill="#d8d8d8"/><circle cx="56.6" cy="339.3" r="0.8" fill="#d8d8d8"/><circle cx="64.4" cy="346.9" r="0.8" fill="#d8d8d8"/><circle cx="61.5" cy="340.1" r="0.8" fill="#d8d8d8"/><circle cx="59.3" cy="308.5" r="0.8" fill="#d8d8d8"/><circle cx="62.1" cy="308.6" r="0.8" fill="#d8d8d8"/><circle cx="67.7" cy="309.6" r="0.8" fill="#d8d8d8"/><circle cx="37.9" cy="318.9" r="0.8" fill="#d8d8d8"/><circle cx="33.5" cy="315.4" r="0.8" fill="#d8d8d8"/><circle cx="39.2" cy="339.9" r="0.8" fill="#d8d8d8"/><circle cx="62.0" cy="337.8" r="0.8" fill="#d8d8d8"/><circle cx="46.0" cy="322.9" r="0.8" fill="#d8d8d8"/><circle cx="50.6" cy="309.1" r="0.8" fill="#d8d8d8"/><circle cx="55.0" cy="312.0" r="0.8" fill="#d8d8d8"/><circle cx="48.6" cy="321.7" r="0.8" fill="#d8d8d8"/><circle cx="67.8" cy="313.3" r="0.8" fill="#d8d8d8"/><circle cx="53.3" cy="308.0" r="0.8" fill="#d8d8d8"/><circle cx="52.8" cy="314.1" r="0.8" fill="#d8d8d8"/><circle cx="44.9" cy="345.2" r="0.8" fill="#d8d8d8"/><circle cx="43.4" cy="341.5" r="0.8" fill="#d8d8d8"/><circle cx="60.3" cy="317.0" r="0.8" fill="#d8d8d8"/><circle cx="57.3" cy="336.0" r="0.8" fill="#d8d8d8"/><circle cx="34.0" cy="298.0" r="0.9" fill="#bdbdbd"/><circle cx="38.0" cy="300.0" r="0.9" fill="#bdbdbd"/><circle cx="43.0" cy="303.0" r="0.9" fill="#bdbdbd"/><circle cx="58.0" cy="296.0" r="0.9" fill="#bdbdbd"/><circle cx="62.0" cy="294.0" r="0.9" fill="#bdbdbd"/><circle cx="47.0" cy="314.0" r="0.9" fill="#bdbdbd"/><circle cx="40.0" cy="296.0" r="0.9" fill="#bdbdbd"/>
<rect x="57.5" y="278.5" width="108.2" height="61.7" fill="none" stroke="#333" stroke-width="0.8" stroke-dasharray="2,1.2"/>
<line x1="57.5" y1="336.0" x2="165.7" y2="336.0" stroke="#555" stroke-width="0.6" stroke-dasharray="1.5,1.2"/>
<line x1="64.5" y1="268.5" x2="64.5" y2="353.8" stroke="#aaa" stroke-width="0.6" stroke-dasharray="1,1"/>
<circle cx="71.0" cy="287.7" r="1.05" fill="#e8403a"/>
<circle cx="70.6" cy="294.9" r="1.05" fill="#e8403a"/>
<circle cx="78.5" cy="300.0" r="1.05" fill="#e8403a"/>
<circle cx="86.2" cy="302.4" r="1.05" fill="#e8403a"/>
<circle cx="109.6" cy="294.2" r="1.05" fill="#e8403a"/>
<circle cx="118.2" cy="294.2" r="1.05" fill="#e8403a"/>
<circle cx="111.2" cy="301.2" r="1.05" fill="#e8403a"/>
<circle cx="94.4" cy="320.6" r="1.05" fill="#e8403a"/>
<circle cx="87.4" cy="316.9" r="1.05" fill="#e8403a"/>
<circle cx="80.9" cy="314.5" r="1.05" fill="#e8403a"/>
<circle cx="83.2" cy="322.2" r="1.05" fill="#e8403a"/>
<circle cx="89.3" cy="324.6" r="1.05" fill="#e8403a"/>
<circle cx="84.6" cy="327.6" r="1.05" fill="#e8403a"/>
<circle cx="78.1" cy="309.4" r="1.05" fill="#e8403a"/>
<circle cx="74.6" cy="306.6" r="1.05" fill="#e8403a"/>
<circle cx="88.6" cy="308.9" r="1.05" fill="#e8403a"/>
<circle cx="128.8" cy="290.7" r="1.05" fill="#e8403a"/>
<circle cx="72.4" cy="340.8" r="1.00" fill="#e8403a"/>
<circle cx="72.1" cy="303.6" r="1.00" fill="#e8403a"/>
<circle cx="69.5" cy="318.2" r="1.00" fill="#e8403a"/>
<circle cx="69.0" cy="305.6" r="1.00" fill="#e8403a"/>
<circle cx="66.1" cy="319.1" r="1.00" fill="#e8403a"/>
<circle cx="66.4" cy="319.6" r="1.00" fill="#e8403a"/>
<circle cx="64.7" cy="303.7" r="1.00" fill="#e8403a"/>
<circle cx="70.5" cy="318.1" r="1.00" fill="#e8403a"/>
<circle cx="68.9" cy="331.6" r="1.00" fill="#e8403a"/>
<circle cx="67.6" cy="302.5" r="1.00" fill="#e8403a"/>
<circle cx="71.2" cy="325.3" r="1.00" fill="#e8403a"/>
<circle cx="70.1" cy="326.7" r="1.00" fill="#e8403a"/>
<circle cx="72.8" cy="315.6" r="1.00" fill="#e8403a"/>
<circle cx="71.0" cy="315.9" r="1.00" fill="#e8403a"/>
<circle cx="69.4" cy="328.4" r="1.00" fill="#e8403a"/>
<circle cx="67.2" cy="303.7" r="1.00" fill="#e8403a"/>
<circle cx="68.5" cy="330.9" r="1.00" fill="#e8403a"/>
<circle cx="69.5" cy="319.2" r="1.00" fill="#e8403a"/>
<circle cx="70.0" cy="307.8" r="1.00" fill="#e8403a"/>
<circle cx="66.0" cy="313.9" r="1.00" fill="#e8403a"/>
<circle cx="71.4" cy="308.4" r="1.00" fill="#e8403a"/>
<circle cx="65.5" cy="304.2" r="1.00" fill="#e8403a"/>
<circle cx="64.8" cy="311.8" r="1.00" fill="#e8403a"/>
<circle cx="69.4" cy="335.3" r="1.00" fill="#e8403a"/>
<circle cx="67.3" cy="315.9" r="1.00" fill="#e8403a"/>
<circle cx="67.0" cy="313.1" r="1.00" fill="#e8403a"/>
<circle cx="71.1" cy="323.6" r="1.00" fill="#e8403a"/>
<circle cx="66.7" cy="304.6" r="1.00" fill="#e8403a"/>
<circle cx="71.2" cy="330.4" r="1.00" fill="#e8403a"/>
<circle cx="71.5" cy="310.2" r="1.00" fill="#e8403a"/>
<circle cx="69.1" cy="339.5" r="1.00" fill="#e8403a"/>
<circle cx="69.5" cy="340.7" r="1.00" fill="#e8403a"/>
<circle cx="65.9" cy="341.9" r="1.00" fill="#e8403a"/>
<circle cx="65.0" cy="317.9" r="1.00" fill="#e8403a"/>
<circle cx="64.7" cy="334.8" r="1.00" fill="#e8403a"/>
<circle cx="70.3" cy="341.9" r="1.00" fill="#e8403a"/>
<circle cx="71.3" cy="340.8" r="1.00" fill="#e8403a"/>
<circle cx="69.1" cy="342.5" r="1.00" fill="#e8403a"/>
<circle cx="70.9" cy="314.9" r="1.00" fill="#e8403a"/>
<circle cx="72.8" cy="316.2" r="1.00" fill="#e8403a"/>
<circle cx="66.1" cy="303.3" r="1.00" fill="#e8403a"/>
<circle cx="68.5" cy="308.5" r="1.00" fill="#e8403a"/>
<circle cx="72.4" cy="340.9" r="1.00" fill="#e8403a"/>
<circle cx="66.3" cy="304.5" r="1.00" fill="#e8403a"/>
<circle cx="69.0" cy="307.3" r="1.00" fill="#e8403a"/>
<circle cx="69.1" cy="335.0" r="1.00" fill="#e8403a"/>
<circle cx="66.7" cy="318.1" r="1.00" fill="#e8403a"/>
<circle cx="72.2" cy="319.1" r="1.00" fill="#e8403a"/>
<circle cx="67.4" cy="338.4" r="1.00" fill="#e8403a"/>
<circle cx="71.4" cy="338.5" r="1.00" fill="#e8403a"/>
<circle cx="70.3" cy="317.7" r="1.00" fill="#e8403a"/>
<circle cx="70.4" cy="335.7" r="1.00" fill="#e8403a"/>
<circle cx="69.9" cy="310.3" r="1.00" fill="#e8403a"/>
<circle cx="67.0" cy="317.6" r="1.00" fill="#e8403a"/>
<circle cx="71.1" cy="324.0" r="1.00" fill="#e8403a"/>
<circle cx="69.2" cy="335.5" r="1.00" fill="#e8403a"/>
<circle cx="65.4" cy="327.1" r="1.00" fill="#e8403a"/>
<circle cx="67.3" cy="324.1" r="1.00" fill="#e8403a"/>
<circle cx="71.6" cy="310.7" r="1.00" fill="#e8403a"/>
<circle cx="72.6" cy="303.4" r="1.00" fill="#e8403a"/>
<circle cx="69.3" cy="323.3" r="1.00" fill="#e8403a"/>
<circle cx="66.5" cy="324.1" r="1.00" fill="#e8403a"/>
<circle cx="68.5" cy="319.3" r="1.00" fill="#e8403a"/>
<circle cx="70.6" cy="300.2" r="1.00" fill="#e8403a"/>
<circle cx="67.7" cy="333.8" r="1.00" fill="#e8403a"/>
<circle cx="65.7" cy="337.3" r="1.00" fill="#e8403a"/>
<circle cx="66.2" cy="329.3" r="1.00" fill="#e8403a"/>
<circle cx="66.0" cy="319.3" r="1.00" fill="#e8403a"/>
<circle cx="68.1" cy="303.5" r="1.00" fill="#e8403a"/>
<circle cx="70.4" cy="320.6" r="1.00" fill="#e8403a"/>
<circle cx="70.4" cy="323.2" r="1.00" fill="#e8403a"/>
<circle cx="69.2" cy="322.6" r="1.00" fill="#e8403a"/>
<circle cx="67.0" cy="338.6" r="1.00" fill="#e8403a"/>
<circle cx="65.2" cy="337.7" r="1.00" fill="#e8403a"/>
<circle cx="71.8" cy="321.4" r="1.00" fill="#e8403a"/>
<circle cx="71.1" cy="329.0" r="1.00" fill="#e8403a"/>
<circle cx="69.6" cy="312.5" r="1.00" fill="#e8403a"/>
<circle cx="67.2" cy="315.0" r="1.00" fill="#e8403a"/>
<circle cx="67.1" cy="341.3" r="1.00" fill="#e8403a"/>
<circle cx="67.4" cy="316.7" r="1.00" fill="#e8403a"/>
<circle cx="68.1" cy="335.1" r="1.00" fill="#e8403a"/>
<circle cx="68.6" cy="323.8" r="1.00" fill="#e8403a"/>
<circle cx="66.7" cy="312.0" r="1.00" fill="#e8403a"/>
<circle cx="65.3" cy="309.3" r="1.00" fill="#e8403a"/>
<circle cx="66.7" cy="336.6" r="1.00" fill="#e8403a"/>
<circle cx="68.8" cy="304.7" r="1.00" fill="#e8403a"/>
<circle cx="68.4" cy="305.2" r="1.00" fill="#e8403a"/>
<circle cx="69.3" cy="319.0" r="1.00" fill="#e8403a"/>
<circle cx="71.8" cy="311.1" r="1.00" fill="#e8403a"/>
<circle cx="71.7" cy="310.6" r="1.00" fill="#e8403a"/>
<line x1="130.0" y1="290.0" x2="136.0" y2="287.0" stroke="#222" stroke-width="0.7"/>
<line x1="53.5" y1="325.0" x2="52.4" y2="345.6" stroke="#222" stroke-width="0.7"/>
<line x1="38.4" y1="337.4" x2="47.2" y2="346.8" stroke="#222" stroke-width="0.7"/>
<line x1="74.0" y1="333.0" x2="65.0" y2="337.0" stroke="#222" stroke-width="0.7"/>
<line x1="58.0" y1="342.0" x2="48.0" y2="347.0" stroke="#222" stroke-width="0.7"/>
<line x1="48.9" y1="347.2" x2="87.4" y2="347.2" stroke="#222" stroke-width="0.7"/>
<text x="126.7" y="286.5" font-size="8" font-family='"Liberation Sans", sans-serif' fill="#2a2a2a" textLength="29.6" lengthAdjust="spacingAndGlyphs">VPS35L</text>
<text x="43.5" y="323.9" font-size="8" font-family='"Liberation Sans", sans-serif' fill="#2a2a2a" textLength="24.8" lengthAdjust="spacingAndGlyphs">SNX17</text>
<text x="33.7" y="335.5" font-size="8" font-family='"Liberation Sans", sans-serif' fill="#2a2a2a" textLength="17.5" lengthAdjust="spacingAndGlyphs">HGS</text>
<text x="74.6" y="335.5" font-size="8" font-family='"Liberation Sans", sans-serif' fill="#2a2a2a" textLength="19.8" lengthAdjust="spacingAndGlyphs">ACTB</text>
<text x="58.2" y="345.6" font-size="8" font-family='"Liberation Sans", sans-serif' fill="#2a2a2a" textLength="24.5" lengthAdjust="spacingAndGlyphs">SNX27</text>
<text x="87.9" y="351.0" font-size="8" font-family='"Liberation Sans", sans-serif' fill="#2a2a2a" textLength="24.7" lengthAdjust="spacingAndGlyphs">VPS35</text>
<line x1="165.7" y1="278.5" x2="174.4" y2="189.4" stroke="#444" stroke-width="0.7" stroke-dasharray="2,1.3"/>
<line x1="165.7" y1="340.2" x2="174.4" y2="366.0" stroke="#444" stroke-width="0.7" stroke-dasharray="2,1.3"/>
<line x1="44.2" y1="451.0" x2="44.2" y2="539.0" stroke="#dedede" stroke-width="0.6"/>
<line x1="65.7" y1="451.0" x2="65.7" y2="539.0" stroke="#eeeeee" stroke-width="0.6"/>
<line x1="87.1" y1="451.0" x2="87.1" y2="539.0" stroke="#dedede" stroke-width="0.6"/>
<line x1="108.5" y1="451.0" x2="108.5" y2="539.0" stroke="#eeeeee" stroke-width="0.6"/>
<line x1="130.0" y1="451.0" x2="130.0" y2="539.0" stroke="#dedede" stroke-width="0.6"/>
<line x1="151.4" y1="451.0" x2="151.4" y2="539.0" stroke="#eeeeee" stroke-width="0.6"/>
<line x1="27.3" y1="535.3" x2="169.0" y2="535.3" stroke="#dedede" stroke-width="0.6"/>
<line x1="27.3" y1="524.8" x2="169.0" y2="524.8" stroke="#eeeeee" stroke-width="0.6"/>
<line x1="27.3" y1="514.3" x2="169.0" y2="514.3" stroke="#dedede" stroke-width="0.6"/>
<line x1="27.3" y1="503.8" x2="169.0" y2="503.8" stroke="#eeeeee" stroke-width="0.6"/>
<line x1="27.3" y1="493.3" x2="169.0" y2="493.3" stroke="#dedede" stroke-width="0.6"/>
<line x1="27.3" y1="482.8" x2="169.0" y2="482.8" stroke="#eeeeee" stroke-width="0.6"/>
<line x1="27.3" y1="472.3" x2="169.0" y2="472.3" stroke="#dedede" stroke-width="0.6"/>
<line x1="27.3" y1="461.8" x2="169.0" y2="461.8" stroke="#eeeeee" stroke-width="0.6"/>
<line x1="27.3" y1="451.3" x2="169.0" y2="451.3" stroke="#dedede" stroke-width="0.6"/>
<text x="44.2" y="545.0" font-size="4.3" font-family='"Liberation Sans", sans-serif' fill="#555" text-anchor="middle">0</text>
<text x="87.1" y="545.0" font-size="4.3" font-family='"Liberation Sans", sans-serif' fill="#555" text-anchor="middle">2</text>
<text x="130.0" y="545.0" font-size="4.3" font-family='"Liberation Sans", sans-serif' fill="#555" text-anchor="middle">4</text>
<text x="24.8" y="536.8" font-size="4.3" font-family='"Liberation Sans", sans-serif' fill="#555" text-anchor="end">0</text>
<text x="24.8" y="515.8" font-size="4.3" font-family='"Liberation Sans", sans-serif' fill="#555" text-anchor="end">2</text>
<text x="24.8" y="494.8" font-size="4.3" font-family='"Liberation Sans", sans-serif' fill="#555" text-anchor="end">4</text>
<text x="24.8" y="473.8" font-size="4.3" font-family='"Liberation Sans", sans-serif' fill="#555" text-anchor="end">6</text>
<text x="97.9" y="550.0" font-size="5.8" font-family='"Liberation Sans", sans-serif' fill="#444" text-anchor="middle">Fold Change (Log₂)</text>
<text transform="translate(19,496.8) rotate(-90)" font-family='"Liberation Sans", sans-serif' font-size="5.4" fill="#444" text-anchor="middle">Significance (−Log₁₀)</text>
<path d="M27.3,490.0 L31.0,492.0 L36.0,498.0 L41.0,505.0 L45.0,511.0 L48.0,519.0 L50.0,526.0 L53.0,519.0 L56.0,510.0 L59.0,503.0 L61.0,500.0 L62.0,537.0 L27.3,537.0 Z" fill="#bcbcbc"/>
<circle cx="61.2" cy="503.1" r="0.9" fill="#c4c4c4"/><circle cx="60.1" cy="505.3" r="0.9" fill="#cfcfcf"/><circle cx="55.9" cy="506.4" r="0.9" fill="#c4c4c4"/><circle cx="33.6" cy="492.5" r="0.9" fill="#b4b4b4"/><circle cx="59.1" cy="498.0" r="0.9" fill="#c4c4c4"/><circle cx="48.7" cy="522.3" r="0.9" fill="#b4b4b4"/><circle cx="50.6" cy="525.4" r="0.9" fill="#b4b4b4"/><circle cx="48.9" cy="518.9" r="0.9" fill="#c4c4c4"/><circle cx="47.9" cy="516.5" r="0.9" fill="#c4c4c4"/><circle cx="50.7" cy="525.3" r="0.9" fill="#cfcfcf"/><circle cx="58.7" cy="505.3" r="0.9" fill="#c4c4c4"/><circle cx="28.2" cy="489.8" r="0.9" fill="#b4b4b4"/><circle cx="51.5" cy="520.0" r="0.9" fill="#cfcfcf"/><circle cx="55.7" cy="511.5" r="0.9" fill="#c4c4c4"/><circle cx="50.7" cy="523.6" r="0.9" fill="#b4b4b4"/><circle cx="29.6" cy="488.7" r="0.9" fill="#cfcfcf"/><circle cx="39.4" cy="503.9" r="0.9" fill="#cfcfcf"/><circle cx="35.1" cy="499.5" r="0.9" fill="#c4c4c4"/><circle cx="53.5" cy="516.5" r="0.9" fill="#cfcfcf"/><circle cx="53.3" cy="515.7" r="0.9" fill="#c4c4c4"/><circle cx="38.0" cy="500.6" r="0.9" fill="#cfcfcf"/><circle cx="49.1" cy="520.5" r="0.9" fill="#c4c4c4"/><circle cx="49.2" cy="525.5" r="0.9" fill="#c4c4c4"/><circle cx="60.7" cy="505.9" r="0.9" fill="#cfcfcf"/><circle cx="28.6" cy="492.4" r="0.9" fill="#cfcfcf"/><circle cx="34.5" cy="496.1" r="0.9" fill="#cfcfcf"/><circle cx="31.2" cy="492.2" r="0.9" fill="#c4c4c4"/><circle cx="58.1" cy="512.3" r="0.9" fill="#c4c4c4"/><circle cx="30.2" cy="492.5" r="0.9" fill="#b4b4b4"/><circle cx="30.7" cy="492.1" r="0.9" fill="#cfcfcf"/><circle cx="33.8" cy="499.4" r="0.9" fill="#c4c4c4"/><circle cx="46.0" cy="518.9" r="0.9" fill="#b4b4b4"/><circle cx="30.0" cy="490.3" r="0.9" fill="#cfcfcf"/><circle cx="40.2" cy="505.5" r="0.9" fill="#c4c4c4"/><circle cx="45.9" cy="514.4" r="0.9" fill="#b4b4b4"/><circle cx="45.6" cy="510.4" r="0.9" fill="#c4c4c4"/><circle cx="58.9" cy="504.6" r="0.9" fill="#b4b4b4"/><circle cx="27.9" cy="491.2" r="0.9" fill="#cfcfcf"/><circle cx="44.5" cy="508.7" r="0.9" fill="#c4c4c4"/><circle cx="53.7" cy="506.8" r="0.9" fill="#c4c4c4"/><circle cx="45.0" cy="508.9" r="0.9" fill="#b4b4b4"/><circle cx="47.6" cy="520.4" r="0.9" fill="#c4c4c4"/><circle cx="49.8" cy="516.4" r="0.9" fill="#cfcfcf"/><circle cx="37.6" cy="502.3" r="0.9" fill="#b4b4b4"/><circle cx="58.0" cy="502.6" r="0.9" fill="#c4c4c4"/><circle cx="46.4" cy="511.3" r="0.9" fill="#c4c4c4"/><circle cx="42.4" cy="507.7" r="0.9" fill="#c4c4c4"/><circle cx="54.7" cy="516.1" r="0.9" fill="#c4c4c4"/><circle cx="37.0" cy="500.6" r="0.9" fill="#b4b4b4"/><circle cx="50.0" cy="528.5" r="0.9" fill="#b4b4b4"/><circle cx="42.3" cy="508.0" r="0.9" fill="#b4b4b4"/><circle cx="59.0" cy="502.3" r="0.9" fill="#b4b4b4"/><circle cx="61.0" cy="498.5" r="0.9" fill="#c4c4c4"/><circle cx="53.1" cy="518.2" r="0.9" fill="#cfcfcf"/><circle cx="51.4" cy="517.6" r="0.9" fill="#b4b4b4"/><circle cx="52.6" cy="522.2" r="0.9" fill="#c4c4c4"/><circle cx="29.5" cy="495.7" r="0.9" fill="#b4b4b4"/><circle cx="45.7" cy="515.6" r="0.9" fill="#cfcfcf"/><circle cx="52.2" cy="522.5" r="0.9" fill="#b4b4b4"/><circle cx="42.3" cy="503.7" r="0.9" fill="#c4c4c4"/><circle cx="59.9" cy="495.4" r="0.9" fill="#c4c4c4"/><circle cx="47.4" cy="519.3" r="0.9" fill="#cfcfcf"/><circle cx="40.8" cy="505.0" r="0.9" fill="#c4c4c4"/><circle cx="56.3" cy="510.4" r="0.9" fill="#cfcfcf"/><circle cx="51.7" cy="520.1" r="0.9" fill="#cfcfcf"/><circle cx="29.6" cy="485.4" r="0.9" fill="#b4b4b4"/><circle cx="47.2" cy="513.7" r="0.9" fill="#cfcfcf"/><circle cx="49.8" cy="522.8" r="0.9" fill="#c4c4c4"/><circle cx="40.0" cy="497.7" r="0.9" fill="#c4c4c4"/><circle cx="48.7" cy="516.0" r="0.9" fill="#b4b4b4"/><circle cx="45.1" cy="515.2" r="0.9" fill="#cfcfcf"/><circle cx="61.2" cy="501.1" r="0.9" fill="#c4c4c4"/><circle cx="39.3" cy="503.0" r="0.9" fill="#c4c4c4"/><circle cx="59.2" cy="500.5" r="0.9" fill="#cfcfcf"/><circle cx="55.4" cy="516.4" r="0.9" fill="#b4b4b4"/><circle cx="35.1" cy="499.1" r="0.9" fill="#c4c4c4"/><circle cx="57.2" cy="508.1" r="0.9" fill="#b4b4b4"/><circle cx="31.7" cy="493.3" r="0.9" fill="#b4b4b4"/><circle cx="39.6" cy="498.4" r="0.9" fill="#cfcfcf"/><circle cx="53.2" cy="512.4" r="0.9" fill="#cfcfcf"/><circle cx="59.8" cy="500.2" r="0.9" fill="#cfcfcf"/><circle cx="48.2" cy="517.9" r="0.9" fill="#b4b4b4"/><circle cx="39.5" cy="500.4" r="0.9" fill="#cfcfcf"/><circle cx="50.3" cy="523.9" r="0.9" fill="#cfcfcf"/><circle cx="37.4" cy="500.4" r="0.9" fill="#cfcfcf"/><circle cx="45.2" cy="511.8" r="0.9" fill="#b4b4b4"/><circle cx="57.3" cy="506.1" r="0.9" fill="#cfcfcf"/><circle cx="49.5" cy="519.0" r="0.9" fill="#b4b4b4"/><circle cx="44.9" cy="511.3" r="0.9" fill="#b4b4b4"/><circle cx="35.1" cy="496.1" r="0.9" fill="#cfcfcf"/><circle cx="29.8" cy="487.8" r="0.9" fill="#b4b4b4"/><circle cx="29.4" cy="489.1" r="0.9" fill="#c4c4c4"/><circle cx="53.1" cy="520.1" r="0.9" fill="#c4c4c4"/><circle cx="50.8" cy="531.4" r="0.9" fill="#cfcfcf"/><circle cx="45.0" cy="509.4" r="0.9" fill="#c4c4c4"/><circle cx="52.7" cy="522.4" r="0.9" fill="#c4c4c4"/><circle cx="31.8" cy="497.2" r="0.9" fill="#cfcfcf"/><circle cx="60.0" cy="499.7" r="0.9" fill="#b4b4b4"/><circle cx="41.2" cy="502.5" r="0.9" fill="#cfcfcf"/><circle cx="46.3" cy="510.9" r="0.9" fill="#b4b4b4"/><circle cx="39.0" cy="506.6" r="0.9" fill="#c4c4c4"/><circle cx="60.3" cy="504.1" r="0.9" fill="#b4b4b4"/><circle cx="42.2" cy="510.4" r="0.9" fill="#cfcfcf"/><circle cx="44.9" cy="516.5" r="0.9" fill="#cfcfcf"/><circle cx="44.1" cy="510.4" r="0.9" fill="#cfcfcf"/><circle cx="51.9" cy="520.4" r="0.9" fill="#b4b4b4"/><circle cx="58.8" cy="507.2" r="0.9" fill="#b4b4b4"/><circle cx="30.3" cy="495.5" r="0.9" fill="#b4b4b4"/><circle cx="49.8" cy="520.9" r="0.9" fill="#c4c4c4"/><circle cx="59.6" cy="502.6" r="0.9" fill="#c4c4c4"/><circle cx="48.9" cy="525.7" r="0.9" fill="#cfcfcf"/><circle cx="50.7" cy="528.0" r="0.9" fill="#cfcfcf"/><circle cx="36.3" cy="497.8" r="0.9" fill="#cfcfcf"/><circle cx="40.3" cy="502.9" r="0.9" fill="#b4b4b4"/><circle cx="27.7" cy="491.5" r="0.9" fill="#b4b4b4"/><circle cx="31.1" cy="492.6" r="0.9" fill="#c4c4c4"/><circle cx="39.9" cy="504.9" r="0.9" fill="#cfcfcf"/><circle cx="26.9" cy="488.8" r="0.9" fill="#cfcfcf"/><circle cx="59.0" cy="501.6" r="0.9" fill="#cfcfcf"/><circle cx="40.3" cy="501.4" r="0.9" fill="#b4b4b4"/><circle cx="55.2" cy="510.8" r="0.9" fill="#c4c4c4"/><circle cx="58.4" cy="502.9" r="0.9" fill="#b4b4b4"/><circle cx="52.8" cy="516.8" r="0.9" fill="#c4c4c4"/><circle cx="48.3" cy="514.4" r="0.9" fill="#b4b4b4"/><circle cx="56.2" cy="506.2" r="0.9" fill="#c4c4c4"/><circle cx="49.3" cy="527.7" r="0.9" fill="#b4b4b4"/><circle cx="46.2" cy="508.8" r="0.9" fill="#c4c4c4"/><circle cx="47.6" cy="517.6" r="0.9" fill="#c4c4c4"/><circle cx="33.8" cy="495.3" r="0.9" fill="#c4c4c4"/><circle cx="33.4" cy="493.5" r="0.9" fill="#cfcfcf"/><circle cx="54.5" cy="521.7" r="0.9" fill="#cfcfcf"/><circle cx="30.7" cy="493.4" r="0.9" fill="#cfcfcf"/><circle cx="52.5" cy="520.0" r="0.9" fill="#b4b4b4"/><circle cx="55.8" cy="519.3" r="0.9" fill="#c4c4c4"/><circle cx="48.2" cy="516.0" r="0.9" fill="#cfcfcf"/><circle cx="40.7" cy="499.5" r="0.9" fill="#c4c4c4"/><circle cx="51.3" cy="527.1" r="0.9" fill="#cfcfcf"/><circle cx="43.4" cy="506.9" r="0.9" fill="#c4c4c4"/><circle cx="50.1" cy="526.3" r="0.9" fill="#b4b4b4"/><circle cx="44.3" cy="510.6" r="0.9" fill="#c4c4c4"/><circle cx="30.6" cy="493.7" r="0.9" fill="#b4b4b4"/><circle cx="56.1" cy="507.1" r="0.9" fill="#cfcfcf"/><circle cx="47.4" cy="520.2" r="0.9" fill="#b4b4b4"/><circle cx="46.4" cy="516.3" r="0.9" fill="#c4c4c4"/><circle cx="36.9" cy="500.0" r="0.9" fill="#cfcfcf"/><circle cx="39.1" cy="504.2" r="0.9" fill="#cfcfcf"/><circle cx="36.5" cy="502.2" r="0.9" fill="#c4c4c4"/><circle cx="30.6" cy="493.6" r="0.9" fill="#cfcfcf"/><circle cx="28.5" cy="488.2" r="0.9" fill="#b4b4b4"/><circle cx="41.8" cy="508.2" r="0.9" fill="#cfcfcf"/><circle cx="47.7" cy="514.3" r="0.9" fill="#b4b4b4"/><circle cx="34.8" cy="500.3" r="0.9" fill="#b4b4b4"/><circle cx="60.1" cy="499.2" r="0.9" fill="#b4b4b4"/><circle cx="29.2" cy="489.4" r="0.9" fill="#c4c4c4"/><circle cx="25.2" cy="489.2" r="0.9" fill="#cfcfcf"/><circle cx="51.3" cy="517.8" r="0.9" fill="#c4c4c4"/><circle cx="60.5" cy="501.8" r="0.9" fill="#c4c4c4"/><circle cx="53.8" cy="520.1" r="0.9" fill="#b4b4b4"/><circle cx="27.6" cy="496.6" r="0.9" fill="#cfcfcf"/><circle cx="52.9" cy="523.8" r="0.9" fill="#cfcfcf"/><circle cx="30.8" cy="497.4" r="0.9" fill="#cfcfcf"/><circle cx="59.0" cy="504.5" r="0.9" fill="#cfcfcf"/><circle cx="46.4" cy="515.6" r="0.9" fill="#cfcfcf"/><circle cx="50.7" cy="522.7" r="0.9" fill="#b4b4b4"/><circle cx="31.0" cy="495.5" r="0.9" fill="#c4c4c4"/><circle cx="50.2" cy="522.5" r="0.9" fill="#c4c4c4"/><circle cx="52.5" cy="518.3" r="0.9" fill="#cfcfcf"/><circle cx="58.2" cy="508.9" r="0.9" fill="#c4c4c4"/><circle cx="57.1" cy="511.2" r="0.9" fill="#b4b4b4"/><circle cx="44.9" cy="516.6" r="0.9" fill="#cfcfcf"/><circle cx="61.5" cy="503.2" r="0.9" fill="#cfcfcf"/><circle cx="52.6" cy="519.7" r="0.9" fill="#c4c4c4"/><circle cx="46.6" cy="517.7" r="0.9" fill="#c4c4c4"/><circle cx="57.3" cy="505.5" r="0.9" fill="#c4c4c4"/><circle cx="31.6" cy="491.0" r="0.9" fill="#b4b4b4"/><circle cx="49.2" cy="526.8" r="0.9" fill="#c4c4c4"/><circle cx="61.2" cy="504.6" r="0.9" fill="#c4c4c4"/><circle cx="27.4" cy="492.8" r="0.9" fill="#c4c4c4"/><circle cx="52.0" cy="518.8" r="0.9" fill="#cfcfcf"/><circle cx="40.7" cy="504.0" r="0.9" fill="#cfcfcf"/><circle cx="60.1" cy="500.1" r="0.9" fill="#c4c4c4"/><circle cx="47.1" cy="520.5" r="0.9" fill="#b4b4b4"/><circle cx="61.7" cy="505.3" r="0.9" fill="#cfcfcf"/><circle cx="48.8" cy="517.6" r="0.9" fill="#c4c4c4"/><circle cx="35.0" cy="496.5" r="0.9" fill="#cfcfcf"/><circle cx="60.4" cy="499.2" r="0.9" fill="#c4c4c4"/><circle cx="49.2" cy="521.9" r="0.9" fill="#c4c4c4"/><circle cx="57.4" cy="505.0" r="0.9" fill="#cfcfcf"/><circle cx="27.5" cy="492.6" r="0.9" fill="#cfcfcf"/><circle cx="60.1" cy="497.3" r="0.9" fill="#cfcfcf"/><circle cx="45.6" cy="511.0" r="0.9" fill="#c4c4c4"/><circle cx="55.9" cy="508.7" r="0.9" fill="#b4b4b4"/><circle cx="44.1" cy="508.0" r="0.9" fill="#cfcfcf"/><circle cx="42.6" cy="505.6" r="0.9" fill="#c4c4c4"/><circle cx="43.5" cy="509.3" r="0.9" fill="#b4b4b4"/><circle cx="45.2" cy="514.5" r="0.9" fill="#b4b4b4"/><circle cx="33.2" cy="490.4" r="0.9" fill="#c4c4c4"/><circle cx="59.6" cy="506.8" r="0.9" fill="#b4b4b4"/><circle cx="57.0" cy="507.7" r="0.9" fill="#cfcfcf"/><circle cx="41.8" cy="510.4" r="0.9" fill="#c4c4c4"/><circle cx="57.4" cy="506.0" r="0.9" fill="#cfcfcf"/><circle cx="42.2" cy="509.2" r="0.9" fill="#cfcfcf"/><circle cx="60.7" cy="504.8" r="0.9" fill="#cfcfcf"/><circle cx="44.0" cy="512.8" r="0.9" fill="#cfcfcf"/><circle cx="49.9" cy="526.3" r="0.9" fill="#b4b4b4"/><circle cx="37.4" cy="501.3" r="0.9" fill="#c4c4c4"/><circle cx="36.0" cy="498.2" r="0.9" fill="#cfcfcf"/><circle cx="52.2" cy="520.8" r="0.9" fill="#c4c4c4"/><circle cx="60.8" cy="507.5" r="0.9" fill="#b4b4b4"/><circle cx="28.2" cy="489.9" r="0.9" fill="#c4c4c4"/><circle cx="47.2" cy="516.0" r="0.9" fill="#cfcfcf"/><circle cx="54.8" cy="515.2" r="0.9" fill="#b4b4b4"/><circle cx="44.3" cy="504.6" r="0.9" fill="#b4b4b4"/><circle cx="49.2" cy="515.1" r="0.9" fill="#c4c4c4"/><circle cx="47.8" cy="520.3" r="0.9" fill="#cfcfcf"/><circle cx="53.4" cy="514.2" r="0.9" fill="#b4b4b4"/><circle cx="40.4" cy="509.3" r="0.9" fill="#cfcfcf"/><circle cx="43.6" cy="507.3" r="0.9" fill="#c4c4c4"/><circle cx="35.6" cy="497.6" r="0.9" fill="#cfcfcf"/><circle cx="57.8" cy="502.4" r="0.9" fill="#c4c4c4"/><circle cx="29.5" cy="494.0" r="0.9" fill="#cfcfcf"/><circle cx="26.8" cy="487.7" r="0.9" fill="#cfcfcf"/><circle cx="49.5" cy="522.2" r="0.9" fill="#c4c4c4"/><circle cx="56.6" cy="506.3" r="0.9" fill="#b4b4b4"/><circle cx="44.5" cy="510.5" r="0.9" fill="#b4b4b4"/><circle cx="50.0" cy="527.0" r="0.9" fill="#c4c4c4"/><circle cx="59.6" cy="500.5" r="0.9" fill="#cfcfcf"/><circle cx="36.4" cy="500.7" r="0.9" fill="#c4c4c4"/><circle cx="33.9" cy="494.4" r="0.9" fill="#cfcfcf"/><circle cx="44.6" cy="511.4" r="0.9" fill="#cfcfcf"/><circle cx="32.3" cy="497.8" r="0.9" fill="#c4c4c4"/><circle cx="40.6" cy="500.6" r="0.9" fill="#c4c4c4"/><circle cx="54.2" cy="517.9" r="0.9" fill="#cfcfcf"/><circle cx="53.5" cy="519.6" r="0.9" fill="#c4c4c4"/><circle cx="51.0" cy="525.9" r="0.9" fill="#cfcfcf"/><circle cx="28.7" cy="487.6" r="0.9" fill="#c4c4c4"/><circle cx="29.7" cy="487.3" r="0.9" fill="#c4c4c4"/><circle cx="38.2" cy="504.7" r="0.9" fill="#cfcfcf"/><circle cx="30.2" cy="491.6" r="0.9" fill="#c4c4c4"/><circle cx="47.9" cy="521.4" r="0.9" fill="#b4b4b4"/><circle cx="52.4" cy="516.5" r="0.9" fill="#c4c4c4"/><circle cx="53.4" cy="521.9" r="0.9" fill="#cfcfcf"/><circle cx="56.3" cy="499.9" r="0.9" fill="#c4c4c4"/><circle cx="30.4" cy="494.4" r="0.9" fill="#c4c4c4"/><circle cx="50.0" cy="525.2" r="0.9" fill="#b4b4b4"/><circle cx="43.4" cy="510.3" r="0.9" fill="#c4c4c4"/><circle cx="60.8" cy="501.0" r="0.9" fill="#cfcfcf"/><circle cx="49.2" cy="523.2" r="0.9" fill="#c4c4c4"/><circle cx="54.8" cy="518.1" r="0.9" fill="#cfcfcf"/><circle cx="60.4" cy="501.1" r="0.9" fill="#b4b4b4"/><circle cx="57.3" cy="515.5" r="0.9" fill="#cfcfcf"/><circle cx="54.4" cy="516.0" r="0.9" fill="#cfcfcf"/><circle cx="47.1" cy="513.7" r="0.9" fill="#b4b4b4"/><circle cx="35.5" cy="498.2" r="0.9" fill="#cfcfcf"/><circle cx="30.6" cy="488.5" r="0.9" fill="#cfcfcf"/><circle cx="60.8" cy="498.4" r="0.9" fill="#b4b4b4"/><circle cx="31.8" cy="489.2" r="0.9" fill="#b4b4b4"/><circle cx="37.5" cy="494.7" r="0.9" fill="#cfcfcf"/><circle cx="57.4" cy="506.8" r="0.9" fill="#b4b4b4"/><circle cx="35.7" cy="502.1" r="0.9" fill="#c4c4c4"/><circle cx="49.0" cy="507.8" r="0.8" fill="#d8d8d8"/><circle cx="36.1" cy="498.5" r="0.8" fill="#d8d8d8"/><circle cx="43.5" cy="510.9" r="0.8" fill="#d8d8d8"/><circle cx="62.9" cy="513.2" r="0.8" fill="#d8d8d8"/><circle cx="42.5" cy="514.4" r="0.8" fill="#d8d8d8"/><circle cx="39.3" cy="514.6" r="0.8" fill="#d8d8d8"/><circle cx="42.6" cy="501.1" r="0.8" fill="#d8d8d8"/><circle cx="42.0" cy="526.9" r="0.8" fill="#d8d8d8"/><circle cx="31.5" cy="519.3" r="0.8" fill="#d8d8d8"/><circle cx="62.3" cy="518.5" r="0.8" fill="#d8d8d8"/><circle cx="45.0" cy="531.1" r="0.8" fill="#d8d8d8"/><circle cx="54.9" cy="507.2" r="0.8" fill="#d8d8d8"/><circle cx="28.3" cy="533.2" r="0.8" fill="#d8d8d8"/><circle cx="44.8" cy="506.4" r="0.8" fill="#d8d8d8"/><circle cx="28.5" cy="501.8" r="0.8" fill="#d8d8d8"/><circle cx="55.2" cy="519.2" r="0.8" fill="#d8d8d8"/><circle cx="34.0" cy="526.1" r="0.8" fill="#d8d8d8"/><circle cx="57.1" cy="496.1" r="0.8" fill="#d8d8d8"/><circle cx="50.9" cy="507.0" r="0.8" fill="#d8d8d8"/><circle cx="42.2" cy="505.0" r="0.8" fill="#d8d8d8"/><circle cx="48.0" cy="496.0" r="0.8" fill="#d8d8d8"/><circle cx="63.5" cy="498.6" r="0.8" fill="#d8d8d8"/><circle cx="64.5" cy="493.2" r="0.8" fill="#d8d8d8"/><circle cx="43.3" cy="504.3" r="0.8" fill="#d8d8d8"/><circle cx="64.7" cy="507.5" r="0.8" fill="#d8d8d8"/><circle cx="65.0" cy="508.8" r="0.8" fill="#d8d8d8"/><circle cx="32.5" cy="509.0" r="0.8" fill="#d8d8d8"/><circle cx="30.7" cy="513.9" r="0.8" fill="#d8d8d8"/><circle cx="34.3" cy="501.9" r="0.8" fill="#d8d8d8"/><circle cx="33.6" cy="506.6" r="0.8" fill="#d8d8d8"/><circle cx="64.7" cy="516.1" r="0.8" fill="#d8d8d8"/><circle cx="51.5" cy="529.3" r="0.8" fill="#d8d8d8"/><circle cx="44.1" cy="521.7" r="0.8" fill="#d8d8d8"/><circle cx="28.8" cy="515.7" r="0.8" fill="#d8d8d8"/><circle cx="58.9" cy="508.1" r="0.8" fill="#d8d8d8"/><circle cx="32.7" cy="533.3" r="0.8" fill="#d8d8d8"/><circle cx="57.1" cy="506.3" r="0.8" fill="#d8d8d8"/><circle cx="32.6" cy="509.2" r="0.8" fill="#d8d8d8"/><circle cx="45.9" cy="503.8" r="0.8" fill="#d8d8d8"/><circle cx="59.6" cy="517.3" r="0.8" fill="#d8d8d8"/><circle cx="58.0" cy="515.6" r="0.8" fill="#d8d8d8"/><circle cx="62.7" cy="520.6" r="0.8" fill="#d8d8d8"/><circle cx="46.7" cy="513.9" r="0.8" fill="#d8d8d8"/><circle cx="59.7" cy="520.0" r="0.8" fill="#d8d8d8"/><circle cx="48.7" cy="499.5" r="0.8" fill="#d8d8d8"/><circle cx="60.6" cy="522.2" r="0.8" fill="#d8d8d8"/><circle cx="64.4" cy="510.3" r="0.8" fill="#d8d8d8"/><circle cx="35.8" cy="494.4" r="0.8" fill="#d8d8d8"/><circle cx="40.5" cy="514.5" r="0.8" fill="#d8d8d8"/><circle cx="37.4" cy="524.6" r="0.8" fill="#d8d8d8"/><circle cx="35.3" cy="533.3" r="0.8" fill="#d8d8d8"/><circle cx="33.9" cy="500.2" r="0.8" fill="#d8d8d8"/><circle cx="32.7" cy="527.5" r="0.8" fill="#d8d8d8"/><circle cx="60.6" cy="523.1" r="0.8" fill="#d8d8d8"/><circle cx="37.1" cy="529.7" r="0.8" fill="#d8d8d8"/><circle cx="53.9" cy="503.4" r="0.8" fill="#d8d8d8"/><circle cx="61.4" cy="526.3" r="0.8" fill="#d8d8d8"/><circle cx="38.2" cy="516.1" r="0.8" fill="#d8d8d8"/><circle cx="28.6" cy="496.9" r="0.8" fill="#d8d8d8"/><circle cx="31.2" cy="528.8" r="0.8" fill="#d8d8d8"/><circle cx="44.9" cy="519.1" r="0.8" fill="#d8d8d8"/><circle cx="61.9" cy="504.9" r="0.8" fill="#d8d8d8"/><circle cx="33.4" cy="503.9" r="0.8" fill="#d8d8d8"/><circle cx="62.6" cy="506.5" r="0.8" fill="#d8d8d8"/><circle cx="29.9" cy="495.1" r="0.8" fill="#d8d8d8"/><circle cx="42.3" cy="532.0" r="0.8" fill="#d8d8d8"/><circle cx="36.6" cy="527.0" r="0.8" fill="#d8d8d8"/><circle cx="41.6" cy="536.0" r="0.8" fill="#d8d8d8"/><circle cx="50.6" cy="502.7" r="0.8" fill="#d8d8d8"/><circle cx="40.3" cy="515.9" r="0.8" fill="#d8d8d8"/><circle cx="43.0" cy="512.3" r="0.8" fill="#d8d8d8"/><circle cx="63.4" cy="493.7" r="0.8" fill="#d8d8d8"/><circle cx="41.5" cy="525.5" r="0.8" fill="#d8d8d8"/><circle cx="61.4" cy="531.4" r="0.8" fill="#d8d8d8"/><circle cx="42.2" cy="508.2" r="0.8" fill="#d8d8d8"/><circle cx="61.0" cy="517.9" r="0.8" fill="#d8d8d8"/><circle cx="63.4" cy="497.5" r="0.8" fill="#d8d8d8"/><circle cx="56.7" cy="524.8" r="0.8" fill="#d8d8d8"/><circle cx="64.8" cy="503.3" r="0.8" fill="#d8d8d8"/><circle cx="50.3" cy="530.3" r="0.8" fill="#d8d8d8"/><circle cx="45.0" cy="497.6" r="0.8" fill="#d8d8d8"/><circle cx="53.4" cy="499.4" r="0.8" fill="#d8d8d8"/><circle cx="34.4" cy="536.7" r="0.8" fill="#d8d8d8"/><circle cx="45.4" cy="535.2" r="0.8" fill="#d8d8d8"/><circle cx="62.9" cy="498.6" r="0.8" fill="#d8d8d8"/><circle cx="36.9" cy="526.3" r="0.8" fill="#d8d8d8"/><circle cx="34.8" cy="496.6" r="0.8" fill="#d8d8d8"/><circle cx="31.7" cy="531.2" r="0.8" fill="#d8d8d8"/><circle cx="61.1" cy="531.2" r="0.8" fill="#d8d8d8"/><circle cx="42.4" cy="502.7" r="0.8" fill="#d8d8d8"/><circle cx="30.0" cy="486.0" r="0.9" fill="#bdbdbd"/><circle cx="34.0" cy="484.0" r="0.9" fill="#bdbdbd"/><circle cx="29.0" cy="480.0" r="0.9" fill="#bdbdbd"/><circle cx="43.0" cy="497.0" r="0.9" fill="#bdbdbd"/><circle cx="52.0" cy="498.0" r="0.9" fill="#bdbdbd"/><circle cx="58.0" cy="490.0" r="0.9" fill="#bdbdbd"/><circle cx="60.0" cy="480.0" r="0.9" fill="#bdbdbd"/><circle cx="36.0" cy="490.0" r="0.9" fill="#bdbdbd"/>
<rect x="53.4" y="460.7" width="112.6" height="66.7" fill="none" stroke="#333" stroke-width="0.8" stroke-dasharray="2,1.2"/>
<line x1="61.0" y1="451.0" x2="61.0" y2="539.0" stroke="#aaa" stroke-width="0.6" stroke-dasharray="1,1"/>
<circle cx="73.1" cy="489.6" r="1.05" fill="#e8403a"/>
<circle cx="69.0" cy="490.8" r="1.05" fill="#e8403a"/>
<circle cx="62.5" cy="494.4" r="1.05" fill="#e8403a"/>
<circle cx="67.8" cy="496.8" r="1.05" fill="#e8403a"/>
<circle cx="87.6" cy="495.6" r="1.05" fill="#e8403a"/>
<circle cx="85.1" cy="500.4" r="1.05" fill="#e8403a"/>
<circle cx="73.1" cy="500.4" r="1.05" fill="#e8403a"/>
<circle cx="64.2" cy="502.8" r="1.05" fill="#e8403a"/>
<circle cx="69.7" cy="504.7" r="1.05" fill="#e8403a"/>
<circle cx="66.6" cy="508.1" r="1.05" fill="#e8403a"/>
<circle cx="73.1" cy="508.1" r="1.05" fill="#e8403a"/>
<circle cx="84.7" cy="507.6" r="1.05" fill="#e8403a"/>
<circle cx="80.3" cy="509.5" r="1.05" fill="#e8403a"/>
<circle cx="67.8" cy="511.2" r="1.05" fill="#e8403a"/>
<circle cx="72.1" cy="513.6" r="1.05" fill="#e8403a"/>
<circle cx="63.5" cy="514.4" r="1.05" fill="#e8403a"/>
<circle cx="67.8" cy="516.0" r="1.05" fill="#e8403a"/>
<circle cx="75.0" cy="516.8" r="1.05" fill="#e8403a"/>
<circle cx="87.1" cy="513.6" r="1.05" fill="#e8403a"/>
<circle cx="93.1" cy="516.8" r="1.05" fill="#e8403a"/>
<circle cx="96.2" cy="512.4" r="1.05" fill="#e8403a"/>
<circle cx="65.4" cy="518.5" r="1.05" fill="#e8403a"/>
<circle cx="76.2" cy="520.1" r="1.05" fill="#e8403a"/>
<circle cx="82.3" cy="517.3" r="1.05" fill="#e8403a"/>
<circle cx="75.0" cy="522.1" r="1.05" fill="#e8403a"/>
<circle cx="153.3" cy="472.0" r="1.05" fill="#e8403a"/>
<circle cx="66.8" cy="514.6" r="1.00" fill="#e8403a"/>
<circle cx="70.3" cy="522.5" r="1.00" fill="#e8403a"/>
<circle cx="70.7" cy="509.1" r="1.00" fill="#e8403a"/>
<circle cx="71.4" cy="510.6" r="1.00" fill="#e8403a"/>
<circle cx="64.4" cy="502.4" r="1.00" fill="#e8403a"/>
<circle cx="66.6" cy="503.9" r="1.00" fill="#e8403a"/>
<circle cx="64.0" cy="515.3" r="1.00" fill="#e8403a"/>
<circle cx="69.5" cy="518.8" r="1.00" fill="#e8403a"/>
<circle cx="62.0" cy="501.5" r="1.00" fill="#e8403a"/>
<circle cx="63.8" cy="513.8" r="1.00" fill="#e8403a"/>
<circle cx="70.2" cy="520.0" r="1.00" fill="#e8403a"/>
<circle cx="71.3" cy="514.7" r="1.00" fill="#e8403a"/>
<line x1="151.0" y1="468.5" x2="153.0" y2="471.0" stroke="#222" stroke-width="0.7"/>
<line x1="60.0" y1="505.5" x2="58.5" y2="512.0" stroke="#222" stroke-width="0.7"/>
<line x1="40.0" y1="517.0" x2="37.5" y2="526.0" stroke="#222" stroke-width="0.7"/>
<line x1="81.0" y1="509.5" x2="76.0" y2="511.5" stroke="#222" stroke-width="0.7"/>
<line x1="46.0" y1="522.0" x2="44.0" y2="531.0" stroke="#222" stroke-width="0.7"/>
<line x1="48.5" y1="533.5" x2="44.0" y2="535.0" stroke="#222" stroke-width="0.7"/>
<text x="141.3" y="467.2" font-size="8" font-family='"Liberation Sans", sans-serif' fill="#2a2a2a" textLength="24.0" lengthAdjust="spacingAndGlyphs">SNX17</text>
<text x="47.3" y="503.3" font-size="8" font-family='"Liberation Sans", sans-serif' fill="#2a2a2a" textLength="28.2" lengthAdjust="spacingAndGlyphs">VPS35L</text>
<text x="30.5" y="514.8" font-size="8" font-family='"Liberation Sans", sans-serif' fill="#2a2a2a" textLength="24.1" lengthAdjust="spacingAndGlyphs">VPS35</text>
<text x="82.3" y="512.0" font-size="8" font-family='"Liberation Sans", sans-serif' fill="#2a2a2a" textLength="20.4" lengthAdjust="spacingAndGlyphs">ACTB</text>
<text x="46.1" y="525.0" font-size="8" font-family='"Liberation Sans", sans-serif' fill="#2a2a2a" textLength="25.3" lengthAdjust="spacingAndGlyphs">SNX27</text>
<text x="49.0" y="536.0" font-size="8" font-family='"Liberation Sans", sans-serif' fill="#2a2a2a" textLength="16.9" lengthAdjust="spacingAndGlyphs">HGS</text>
<line x1="166.0" y1="460.7" x2="171.6" y2="370.4" stroke="#444" stroke-width="0.7" stroke-dasharray="2,1.3"/>
<line x1="166.0" y1="527.4" x2="171.6" y2="555.4" stroke="#444" stroke-width="0.7" stroke-dasharray="2,1.3"/>
<rect x="178" y="0.8" width="250.8" height="184.4" fill="#fff"/>
<line x1="275.6" y1="0.8" x2="275.6" y2="185.2" stroke="#cfcfcf" stroke-width="0.9"/>
<line x1="375.6" y1="0.8" x2="375.6" y2="185.2" stroke="#cfcfcf" stroke-width="0.9"/>
<line x1="178.0" y1="25.4" x2="428.8" y2="25.4" stroke="#cfcfcf" stroke-width="0.9"/>
<line x1="178.0" y1="82.0" x2="428.8" y2="82.0" stroke="#cfcfcf" stroke-width="0.9"/>
<line x1="178.0" y1="139.4" x2="428.8" y2="139.4" stroke="#cfcfcf" stroke-width="0.9"/>
<line x1="214.6" y1="0.8" x2="214.6" y2="185.2" stroke="#555" stroke-width="0.9" stroke-dasharray="2.6,1.8"/>
<line x1="178.0" y1="159.4" x2="428.8" y2="159.4" stroke="#555" stroke-width="0.9" stroke-dasharray="2.6,1.8"/>
<circle cx="216.0" cy="33.0" r="2.40" fill="#d4d4d4"/>
<circle cx="218.6" cy="89.6" r="2.40" fill="#d4d4d4"/>
<circle cx="248.0" cy="87.0" r="2.40" fill="#d4d4d4"/>
<circle cx="210.0" cy="128.0" r="2.40" fill="#d4d4d4"/>
<circle cx="214.0" cy="124.0" r="2.40" fill="#d4d4d4"/>
<circle cx="249.0" cy="145.0" r="2.40" fill="#d4d4d4"/>
<circle cx="247.0" cy="157.0" r="2.40" fill="#d4d4d4"/>
<circle cx="235.0" cy="155.0" r="2.40" fill="#d4d4d4"/>
<circle cx="250.0" cy="146.0" r="2.40" fill="#d4d4d4"/>
<circle cx="261.0" cy="158.0" r="2.40" fill="#d4d4d4"/>
<circle cx="228.0" cy="104.0" r="2.40" fill="#d4d4d4"/>
<circle cx="220.0" cy="100.0" r="2.40" fill="#d4d4d4"/>
<circle cx="256.0" cy="150.0" r="2.40" fill="#d4d4d4"/>
<circle cx="240.0" cy="142.0" r="2.40" fill="#d4d4d4"/>
<circle cx="212.0" cy="152.0" r="2.40" fill="#d4d4d4"/>
<circle cx="300.0" cy="110.0" r="2.40" fill="#d4d4d4"/>
<circle cx="312.0" cy="137.0" r="2.40" fill="#d4d4d4"/>
<circle cx="226.0" cy="158.0" r="2.40" fill="#d4d4d4"/>
<circle cx="217.0" cy="133.0" r="2.40" fill="#d4d4d4"/>
<circle cx="245.0" cy="108.0" r="2.40" fill="#d4d4d4"/>
<line x1="284.0" y1="16.0" x2="305.0" y2="44.0" stroke="#151515" stroke-width="0.9"/>
<line x1="267.0" y1="24.4" x2="290.0" y2="45.0" stroke="#151515" stroke-width="0.9"/>
<line x1="214.0" y1="44.0" x2="223.0" y2="56.0" stroke="#151515" stroke-width="0.9"/>
<line x1="307.0" y1="21.5" x2="330.0" y2="16.5" stroke="#151515" stroke-width="0.9"/>
<line x1="329.0" y1="55.6" x2="308.0" y2="75.0" stroke="#151515" stroke-width="0.9"/>
<line x1="257.0" y1="49.0" x2="245.0" y2="116.0" stroke="#151515" stroke-width="0.9"/>
<line x1="235.0" y1="72.0" x2="238.0" y2="119.0" stroke="#151515" stroke-width="0.9"/>
<line x1="289.0" y1="69.0" x2="254.0" y2="94.0" stroke="#151515" stroke-width="0.9"/>
<line x1="215.0" y1="82.0" x2="226.0" y2="90.0" stroke="#151515" stroke-width="0.9"/>
<line x1="216.0" y1="96.0" x2="223.0" y2="97.0" stroke="#151515" stroke-width="0.9"/>
<line x1="332.0" y1="85.6" x2="320.0" y2="117.0" stroke="#151515" stroke-width="0.9"/>
<line x1="334.0" y1="93.0" x2="300.0" y2="97.6" stroke="#151515" stroke-width="0.9"/>
<line x1="284.0" y1="94.0" x2="258.0" y2="121.0" stroke="#151515" stroke-width="0.9"/>
<line x1="272.0" y1="104.6" x2="356.0" y2="104.0" stroke="#151515" stroke-width="0.9"/>
<line x1="294.0" y1="115.0" x2="262.0" y2="126.0" stroke="#151515" stroke-width="0.9"/>
<line x1="331.0" y1="120.0" x2="375.0" y2="127.0" stroke="#151515" stroke-width="0.9"/>
<line x1="277.0" y1="128.0" x2="240.0" y2="130.0" stroke="#151515" stroke-width="0.9"/>
<line x1="217.0" y1="123.0" x2="223.0" y2="125.0" stroke="#151515" stroke-width="0.9"/>
<line x1="312.0" y1="131.0" x2="331.0" y2="135.0" stroke="#151515" stroke-width="0.9"/>
<line x1="328.0" y1="141.6" x2="358.0" y2="141.6" stroke="#151515" stroke-width="0.9"/>
<line x1="195.6" y1="136.4" x2="214.6" y2="147.6" stroke="#151515" stroke-width="0.9"/>
<line x1="242.0" y1="152.0" x2="309.0" y2="151.0" stroke="#151515" stroke-width="0.9"/>
<line x1="235.0" y1="162.0" x2="222.0" y2="115.0" stroke="#151515" stroke-width="0.9"/>
<line x1="246.0" y1="170.0" x2="229.0" y2="137.0" stroke="#151515" stroke-width="0.9"/>
<line x1="270.0" y1="171.0" x2="247.0" y2="126.0" stroke="#151515" stroke-width="0.9"/>
<line x1="291.0" y1="173.0" x2="266.0" y2="143.6" stroke="#151515" stroke-width="0.9"/>
<line x1="266.4" y1="142.0" x2="336.4" y2="160.0" stroke="#151515" stroke-width="0.9"/>
<line x1="281.4" y1="157.7" x2="341.7" y2="169.7" stroke="#151515" stroke-width="0.9"/>
<line x1="220.0" y1="152.0" x2="219.0" y2="140.0" stroke="#151515" stroke-width="0.9"/>
<circle cx="303.6" cy="22.0" r="3.10" fill="#a456b2"/>
<circle cx="291.6" cy="46.4" r="3.10" fill="#a456b2"/>
<circle cx="307.0" cy="46.4" r="3.10" fill="#a456b2"/>
<circle cx="362.0" cy="43.0" r="3.10" fill="#a456b2"/>
<circle cx="307.0" cy="76.4" r="3.10" fill="#a456b2"/>
<circle cx="271.0" cy="104.6" r="3.10" fill="#a456b2"/>
<circle cx="261.4" cy="126.4" r="3.10" fill="#a456b2"/>
<circle cx="325.0" cy="141.6" r="3.10" fill="#a456b2"/>
<circle cx="224.4" cy="57.6" r="3.10" fill="#3f7ec8"/>
<circle cx="227.0" cy="91.0" r="3.10" fill="#3f7ec8"/>
<circle cx="299.0" cy="97.6" r="3.10" fill="#3f7ec8"/>
<circle cx="219.6" cy="109.0" r="3.10" fill="#3f7ec8"/>
<circle cx="222.4" cy="114.4" r="3.10" fill="#3f7ec8"/>
<circle cx="215.6" cy="148.6" r="3.10" fill="#3f7ec8"/>
<circle cx="241.0" cy="152.0" r="3.10" fill="#3f7ec8"/>
<circle cx="224.4" cy="97.4" r="3.10" fill="#3db54a"/>
<circle cx="252.7" cy="94.6" r="3.10" fill="#3db54a"/>
<circle cx="244.4" cy="117.0" r="3.10" fill="#3db54a"/>
<circle cx="237.6" cy="120.4" r="3.10" fill="#3db54a"/>
<circle cx="257.6" cy="122.0" r="3.10" fill="#3db54a"/>
<circle cx="247.0" cy="126.0" r="3.10" fill="#3db54a"/>
<circle cx="239.6" cy="130.0" r="3.10" fill="#3db54a"/>
<circle cx="224.4" cy="125.4" r="3.10" fill="#3db54a"/>
<circle cx="229.0" cy="137.0" r="3.10" fill="#3db54a"/>
<circle cx="219.0" cy="140.0" r="3.10" fill="#3db54a"/>
<circle cx="275.6" cy="140.0" r="3.10" fill="#3db54a"/>
<circle cx="266.0" cy="143.6" r="3.10" fill="#3db54a"/>
<circle cx="224.6" cy="147.0" r="3.10" fill="#3db54a"/>
<circle cx="281.0" cy="158.4" r="3.10" fill="#3db54a"/>
<circle cx="319.0" cy="118.6" r="3.10" fill="#3db54a"/>
<circle cx="329.6" cy="119.4" r="3.10" fill="#3db54a"/>
<circle cx="310.0" cy="130.0" r="3.10" fill="#3db54a"/>
<text x="260.0" y="14.7" font-size="10.3" font-family='"Liberation Sans", sans-serif' font-weight="bold" fill="#a04fae" textLength="49.6" lengthAdjust="spacingAndGlyphs" stroke="#a04fae" stroke-width="0.25">WASHC2C</text>
<text x="228.0" y="26.1" font-size="10.3" font-family='"Liberation Sans", sans-serif' font-weight="bold" fill="#a04fae" textLength="38.4" lengthAdjust="spacingAndGlyphs" stroke="#a04fae" stroke-width="0.25">CCDC93</text>
<text x="330.0" y="19.5" font-size="10.3" font-family='"Liberation Sans", sans-serif' font-weight="bold" fill="#a04fae" textLength="49.0" lengthAdjust="spacingAndGlyphs" stroke="#a04fae" stroke-width="0.25">WASHC2A</text>
<text x="364.0" y="40.7" font-size="10.3" font-family='"Liberation Sans", sans-serif' font-weight="bold" fill="#a04fae" textLength="35.4" lengthAdjust="spacingAndGlyphs" stroke="#a04fae" stroke-width="0.25">VPS35L</text>
<text x="192.4" y="44.7" font-size="10.3" font-family='"Liberation Sans", sans-serif' font-weight="bold" fill="#3b7cc6" textLength="38.6" lengthAdjust="spacingAndGlyphs" stroke="#3b7cc6" stroke-width="0.25">GALNT2</text>
<text x="244.6" y="49.1" font-size="10.3" font-family='"Liberation Sans", sans-serif' font-weight="bold" fill="#3cb043" textLength="34.4" lengthAdjust="spacingAndGlyphs" stroke="#3cb043" stroke-width="0.25">RBPMS</text>
<text x="320.0" y="55.5" font-size="10.3" font-family='"Liberation Sans", sans-serif' font-weight="bold" fill="#a04fae" textLength="37.0" lengthAdjust="spacingAndGlyphs" stroke="#a04fae" stroke-width="0.25">VPS26C</text>
<text x="279.0" y="70.1" font-size="10.3" font-family='"Liberation Sans", sans-serif' font-weight="bold" fill="#3cb043" textLength="25.4" lengthAdjust="spacingAndGlyphs" stroke="#3cb043" stroke-width="0.25">FLNC</text>
<text x="207.6" y="72.7" font-size="10.3" font-family='"Liberation Sans", sans-serif' font-weight="bold" fill="#3cb043" textLength="36.4" lengthAdjust="spacingAndGlyphs" stroke="#3cb043" stroke-width="0.25">CYP1B1</text>
<text x="184.0" y="82.1" font-size="10.3" font-family='"Liberation Sans", sans-serif' font-weight="bold" fill="#3b7cc6" textLength="38.4" lengthAdjust="spacingAndGlyphs" stroke="#3b7cc6" stroke-width="0.25">UNC84A</text>
<text x="330.6" y="84.7" font-size="10.3" font-family='"Liberation Sans", sans-serif' font-weight="bold" fill="#3cb043" textLength="38.8" lengthAdjust="spacingAndGlyphs" stroke="#3cb043" stroke-width="0.25">NBEAL2</text>
<text x="273.6" y="95.5" font-size="10.3" font-family='"Liberation Sans", sans-serif' font-weight="bold" fill="#3cb043" textLength="29.4" lengthAdjust="spacingAndGlyphs" stroke="#3cb043" stroke-width="0.25">TXNL1</text>
<text x="336.0" y="97.5" font-size="10.3" font-family='"Liberation Sans", sans-serif' font-weight="bold" fill="#3b7cc6" textLength="25.0" lengthAdjust="spacingAndGlyphs" stroke="#3b7cc6" stroke-width="0.25">RYR3</text>
<text x="184.4" y="99.1" font-size="10.3" font-family='"Liberation Sans", sans-serif' font-weight="bold" fill="#3cb043" textLength="31.2" lengthAdjust="spacingAndGlyphs" stroke="#3cb043" stroke-width="0.25">TUBB6</text>
<text x="222.4" y="109.5" font-size="10.3" font-family='"Liberation Sans", sans-serif' font-weight="bold" fill="#3b7cc6" textLength="42.6" lengthAdjust="spacingAndGlyphs" stroke="#3b7cc6" stroke-width="0.25">CYP51A1</text>
<text x="356.6" y="109.1" font-size="10.3" font-family='"Liberation Sans", sans-serif' font-weight="bold" fill="#a04fae" textLength="42.0" lengthAdjust="spacingAndGlyphs" stroke="#a04fae" stroke-width="0.25">WASH2P</text>
<text x="295.0" y="115.5" font-size="10.3" font-family='"Liberation Sans", sans-serif' font-weight="bold" fill="#a04fae" textLength="39.0" lengthAdjust="spacingAndGlyphs" stroke="#a04fae" stroke-width="0.25">CCDC22</text>
<text x="185.0" y="124.7" font-size="10.3" font-family='"Liberation Sans", sans-serif' font-weight="bold" fill="#3cb043" textLength="31.6" lengthAdjust="spacingAndGlyphs" stroke="#3cb043" stroke-width="0.25">HERC1</text>
<text x="375.0" y="131.1" font-size="10.3" font-family='"Liberation Sans", sans-serif' font-weight="bold" fill="#3cb043" textLength="37.6" lengthAdjust="spacingAndGlyphs" stroke="#3cb043" stroke-width="0.25">HS1BP3</text>
<text x="277.4" y="131.1" font-size="10.3" font-family='"Liberation Sans", sans-serif' font-weight="bold" fill="#3cb043" textLength="20.6" lengthAdjust="spacingAndGlyphs" stroke="#3cb043" stroke-width="0.25">AHR</text>
<text x="184.4" y="136.1" font-size="10.3" font-family='"Liberation Sans", sans-serif' font-weight="bold" fill="#3b7cc6" textLength="38.0" lengthAdjust="spacingAndGlyphs" stroke="#3b7cc6" stroke-width="0.25">SREBF2</text>
<text x="330.6" y="136.7" font-size="10.3" font-family='"Liberation Sans", sans-serif' font-weight="bold" fill="#3cb043" textLength="31.4" lengthAdjust="spacingAndGlyphs" stroke="#3cb043" stroke-width="0.25">PHF5A</text>
<text x="279.0" y="144.7" font-size="10.3" font-family='"Liberation Sans", sans-serif' font-weight="bold" fill="#3cb043" textLength="33.4" lengthAdjust="spacingAndGlyphs" stroke="#3cb043" stroke-width="0.25">SNRPB</text>
<text x="359.4" y="145.5" font-size="10.3" font-family='"Liberation Sans", sans-serif' font-weight="bold" fill="#a04fae" textLength="42.0" lengthAdjust="spacingAndGlyphs" stroke="#a04fae" stroke-width="0.25">WASHC3</text>
<text x="309.4" y="154.7" font-size="10.3" font-family='"Liberation Sans", sans-serif' font-weight="bold" fill="#3b7cc6" textLength="39.2" lengthAdjust="spacingAndGlyphs" stroke="#3b7cc6" stroke-width="0.25">UQCR10</text>
<text x="184.0" y="160.1" font-size="10.3" font-family='"Liberation Sans", sans-serif' font-weight="bold" fill="#3cb043" textLength="45.0" lengthAdjust="spacingAndGlyphs" stroke="#3cb043" stroke-width="0.25">ANKRD52</text>
<text x="337.0" y="163.1" font-size="10.3" font-family='"Liberation Sans", sans-serif' font-weight="bold" fill="#3cb043" textLength="37.6" lengthAdjust="spacingAndGlyphs" stroke="#3cb043" stroke-width="0.25">DUSP14</text>
<text x="189.0" y="170.7" font-size="10.3" font-family='"Liberation Sans", sans-serif' font-weight="bold" fill="#3b7cc6" textLength="49.0" lengthAdjust="spacingAndGlyphs" stroke="#3b7cc6" stroke-width="0.25">HSD17B12</text>
<text x="341.4" y="173.5" font-size="10.3" font-family='"Liberation Sans", sans-serif' font-weight="bold" fill="#3cb043" textLength="29.2" lengthAdjust="spacingAndGlyphs" stroke="#3cb043" stroke-width="0.25">ZNF91</text>
<text x="291.6" y="177.1" font-size="10.3" font-family='"Liberation Sans", sans-serif' font-weight="bold" fill="#3cb043" textLength="39.8" lengthAdjust="spacingAndGlyphs" stroke="#3cb043" stroke-width="0.25">PCOLCE</text>
<text x="209.4" y="179.5" font-size="10.3" font-family='"Liberation Sans", sans-serif' font-weight="bold" fill="#3cb043" textLength="41.0" lengthAdjust="spacingAndGlyphs" stroke="#3cb043" stroke-width="0.25">OTULINL</text>
<text x="256.0" y="179.5" font-size="10.3" font-family='"Liberation Sans", sans-serif' font-weight="bold" fill="#3cb043" textLength="33.0" lengthAdjust="spacingAndGlyphs" stroke="#3cb043" stroke-width="0.25">DDHD1</text>
<rect x="178" y="0.8" width="250.8" height="184.4" fill="none" stroke="#111" stroke-width="1.6"/>
<rect x="174.4" y="189.4" width="254.4" height="176.6" fill="#fff"/>
<line x1="267.4" y1="189.4" x2="267.4" y2="366.0" stroke="#cfcfcf" stroke-width="0.9"/>
<line x1="364.6" y1="189.4" x2="364.6" y2="366.0" stroke="#cfcfcf" stroke-width="0.9"/>
<line x1="174.4" y1="209.6" x2="428.8" y2="209.6" stroke="#cfcfcf" stroke-width="0.9"/>
<line x1="174.4" y1="265.0" x2="428.8" y2="265.0" stroke="#cfcfcf" stroke-width="0.9"/>
<line x1="174.4" y1="320.0" x2="428.8" y2="320.0" stroke="#cfcfcf" stroke-width="0.9"/>
<line x1="209.6" y1="189.4" x2="209.6" y2="366.0" stroke="#555" stroke-width="0.9" stroke-dasharray="2.6,1.8"/>
<line x1="174.4" y1="340.0" x2="428.8" y2="340.0" stroke="#555" stroke-width="0.9" stroke-dasharray="2.6,1.8"/>
<circle cx="206.0" cy="252.0" r="2.40" fill="#d4d4d4"/>
<circle cx="207.0" cy="258.0" r="2.40" fill="#d4d4d4"/>
<circle cx="206.0" cy="266.0" r="2.40" fill="#d4d4d4"/>
<circle cx="208.0" cy="276.0" r="2.40" fill="#d4d4d4"/>
<circle cx="205.0" cy="284.0" r="2.40" fill="#d4d4d4"/>
<circle cx="210.0" cy="288.0" r="2.40" fill="#d4d4d4"/>
<circle cx="206.0" cy="300.0" r="2.40" fill="#d4d4d4"/>
<circle cx="209.0" cy="310.0" r="2.40" fill="#d4d4d4"/>
<circle cx="207.0" cy="316.0" r="2.40" fill="#d4d4d4"/>
<circle cx="212.0" cy="322.0" r="2.40" fill="#d4d4d4"/>
<circle cx="205.0" cy="331.0" r="2.40" fill="#d4d4d4"/>
<circle cx="210.0" cy="343.0" r="2.40" fill="#d4d4d4"/>
<circle cx="204.0" cy="240.0" r="2.40" fill="#d4d4d4"/>
<circle cx="226.0" cy="300.0" r="2.40" fill="#d4d4d4"/>
<circle cx="231.0" cy="316.0" r="2.40" fill="#d4d4d4"/>
<circle cx="219.0" cy="321.0" r="2.40" fill="#d4d4d4"/>
<circle cx="240.0" cy="240.0" r="2.40" fill="#d4d4d4"/>
<circle cx="259.0" cy="249.0" r="2.40" fill="#d4d4d4"/>
<circle cx="239.0" cy="251.0" r="2.40" fill="#d4d4d4"/>
<circle cx="254.0" cy="262.0" r="2.40" fill="#d4d4d4"/>
<circle cx="212.0" cy="270.0" r="2.40" fill="#d4d4d4"/>
<circle cx="215.0" cy="283.0" r="2.40" fill="#d4d4d4"/>
<circle cx="218.0" cy="297.0" r="2.40" fill="#d4d4d4"/>
<circle cx="214.0" cy="305.0" r="2.40" fill="#d4d4d4"/>
<circle cx="232.0" cy="300.0" r="2.40" fill="#d4d4d4"/>
<circle cx="240.0" cy="310.0" r="2.40" fill="#d4d4d4"/>
<circle cx="252.0" cy="318.0" r="2.40" fill="#d4d4d4"/>
<circle cx="258.0" cy="326.0" r="2.40" fill="#d4d4d4"/>
<circle cx="266.0" cy="329.0" r="2.40" fill="#d4d4d4"/>
<circle cx="210.0" cy="318.0" r="2.40" fill="#d4d4d4"/>
<circle cx="213.0" cy="336.0" r="2.40" fill="#d4d4d4"/>
<circle cx="227.0" cy="309.0" r="2.40" fill="#d4d4d4"/>
<circle cx="245.0" cy="296.0" r="2.40" fill="#d4d4d4"/>
<circle cx="208.0" cy="250.0" r="2.40" fill="#d4d4d4"/>
<circle cx="233.0" cy="283.0" r="2.40" fill="#d4d4d4"/>
<circle cx="270.0" cy="246.0" r="2.40" fill="#d4d4d4"/>
<circle cx="203.0" cy="295.0" r="2.40" fill="#d4d4d4"/>
<circle cx="210.0" cy="262.0" r="2.40" fill="#d4d4d4"/>
<circle cx="222.0" cy="258.0" r="2.40" fill="#d4d4d4"/>
<circle cx="205.0" cy="305.0" r="2.40" fill="#d4d4d4"/>
<circle cx="207.0" cy="325.0" r="2.40" fill="#d4d4d4"/>
<circle cx="236.0" cy="346.0" r="2.40" fill="#d4d4d4"/>
<line x1="289.0" y1="210.0" x2="261.0" y2="264.0" stroke="#151515" stroke-width="0.9"/>
<line x1="264.0" y1="224.6" x2="232.0" y2="265.0" stroke="#151515" stroke-width="0.9"/>
<line x1="232.6" y1="234.0" x2="245.5" y2="279.0" stroke="#151515" stroke-width="0.9"/>
<line x1="215.6" y1="236.0" x2="228.5" y2="271.5" stroke="#151515" stroke-width="0.9"/>
<line x1="212.0" y1="247.0" x2="219.6" y2="273.0" stroke="#151515" stroke-width="0.9"/>
<line x1="207.0" y1="262.0" x2="229.0" y2="288.0" stroke="#151515" stroke-width="0.9"/>
<line x1="206.0" y1="272.0" x2="223.0" y2="287.0" stroke="#151515" stroke-width="0.9"/>
<line x1="200.0" y1="279.6" x2="237.6" y2="291.6" stroke="#151515" stroke-width="0.9"/>
<line x1="272.0" y1="262.0" x2="257.0" y2="287.0" stroke="#151515" stroke-width="0.9"/>
<line x1="275.0" y1="270.0" x2="262.5" y2="285.5" stroke="#151515" stroke-width="0.9"/>
<line x1="288.0" y1="283.0" x2="261.0" y2="289.0" stroke="#151515" stroke-width="0.9"/>
<line x1="313.0" y1="225.0" x2="331.0" y2="208.0" stroke="#151515" stroke-width="0.9"/>
<line x1="358.0" y1="218.0" x2="379.0" y2="214.0" stroke="#151515" stroke-width="0.9"/>
<line x1="335.0" y1="228.0" x2="372.0" y2="236.0" stroke="#151515" stroke-width="0.9"/>
<line x1="318.0" y1="246.0" x2="343.0" y2="253.0" stroke="#151515" stroke-width="0.9"/>
<line x1="298.0" y1="293.6" x2="254.0" y2="303.0" stroke="#151515" stroke-width="0.9"/>
<line x1="334.7" y1="303.4" x2="276.0" y2="296.0" stroke="#151515" stroke-width="0.9"/>
<line x1="291.0" y1="308.0" x2="265.0" y2="307.6" stroke="#151515" stroke-width="0.9"/>
<line x1="302.0" y1="316.0" x2="266.0" y2="317.0" stroke="#151515" stroke-width="0.9"/>
<line x1="289.0" y1="326.0" x2="234.0" y2="323.0" stroke="#151515" stroke-width="0.9"/>
<line x1="287.0" y1="335.0" x2="247.0" y2="336.0" stroke="#151515" stroke-width="0.9"/>
<line x1="280.0" y1="345.0" x2="230.0" y2="338.0" stroke="#151515" stroke-width="0.9"/>
<line x1="270.0" y1="352.0" x2="246.0" y2="337.0" stroke="#151515" stroke-width="0.9"/>
<line x1="237.0" y1="350.0" x2="236.0" y2="332.0" stroke="#151515" stroke-width="0.9"/>
<line x1="212.0" y1="291.0" x2="229.0" y2="328.0" stroke="#151515" stroke-width="0.9"/>
<line x1="211.0" y1="300.0" x2="216.0" y2="327.0" stroke="#151515" stroke-width="0.9"/>
<line x1="212.0" y1="313.0" x2="221.0" y2="314.0" stroke="#151515" stroke-width="0.9"/>
<line x1="208.0" y1="323.0" x2="222.0" y2="332.0" stroke="#151515" stroke-width="0.9"/>
<line x1="208.0" y1="335.0" x2="220.0" y2="338.0" stroke="#151515" stroke-width="0.9"/>
<line x1="205.0" y1="347.0" x2="222.0" y2="336.0" stroke="#151515" stroke-width="0.9"/>
<circle cx="355.7" cy="219.3" r="3.10" fill="#a456b2"/>
<circle cx="310.9" cy="227.7" r="3.10" fill="#a456b2"/>
<circle cx="331.9" cy="227.7" r="3.10" fill="#a456b2"/>
<circle cx="316.0" cy="245.3" r="3.10" fill="#a456b2"/>
<circle cx="260.0" cy="266.0" r="3.10" fill="#a456b2"/>
<circle cx="275.0" cy="295.6" r="3.10" fill="#a456b2"/>
<circle cx="252.6" cy="303.6" r="3.10" fill="#a456b2"/>
<circle cx="224.0" cy="210.0" r="3.10" fill="#3f7ec8"/>
<circle cx="231.4" cy="267.0" r="3.10" fill="#3f7ec8"/>
<circle cx="262.0" cy="287.0" r="3.10" fill="#3f7ec8"/>
<circle cx="224.0" cy="290.0" r="3.10" fill="#3f7ec8"/>
<circle cx="264.4" cy="307.6" r="3.10" fill="#3f7ec8"/>
<circle cx="215.6" cy="328.4" r="3.10" fill="#3f7ec8"/>
<circle cx="229.0" cy="329.0" r="3.10" fill="#3f7ec8"/>
<circle cx="230.0" cy="325.0" r="3.10" fill="#3f7ec8"/>
<circle cx="222.0" cy="332.0" r="3.10" fill="#3f7ec8"/>
<circle cx="224.0" cy="334.4" r="3.10" fill="#3f7ec8"/>
<circle cx="229.0" cy="273.4" r="3.10" fill="#3db54a"/>
<circle cx="246.0" cy="280.6" r="3.10" fill="#3db54a"/>
<circle cx="219.6" cy="275.0" r="3.10" fill="#3db54a"/>
<circle cx="229.4" cy="290.0" r="3.10" fill="#3db54a"/>
<circle cx="238.0" cy="292.4" r="3.10" fill="#3db54a"/>
<circle cx="257.0" cy="290.0" r="3.10" fill="#3db54a"/>
<circle cx="260.4" cy="288.4" r="3.10" fill="#3db54a"/>
<circle cx="245.6" cy="304.4" r="3.10" fill="#3db54a"/>
<circle cx="221.4" cy="314.0" r="3.10" fill="#3db54a"/>
<circle cx="265.4" cy="317.0" r="3.10" fill="#3db54a"/>
<circle cx="233.4" cy="324.0" r="3.10" fill="#3db54a"/>
<circle cx="236.0" cy="331.0" r="3.10" fill="#3db54a"/>
<circle cx="246.0" cy="336.0" r="3.10" fill="#3db54a"/>
<circle cx="220.4" cy="339.0" r="3.10" fill="#3db54a"/>
<circle cx="225.6" cy="338.4" r="3.10" fill="#3db54a"/>
<text x="213.6" y="207.7" font-size="10.3" font-family='"Liberation Sans", sans-serif' font-weight="bold" fill="#3b7cc6" textLength="37.4" lengthAdjust="spacingAndGlyphs" stroke="#3b7cc6" stroke-width="0.25">UNC84A</text>
<text x="262.0" y="209.5" font-size="10.3" font-family='"Liberation Sans", sans-serif' font-weight="bold" fill="#a04fae" textLength="37.6" lengthAdjust="spacingAndGlyphs" stroke="#a04fae" stroke-width="0.25">CCDC93</text>
<text x="313.7" y="207.8" font-size="10.3" font-family='"Liberation Sans", sans-serif' font-weight="bold" fill="#a04fae" textLength="47.3" lengthAdjust="spacingAndGlyphs" stroke="#a04fae" stroke-width="0.25">WASHC2A</text>
<text x="379.0" y="219.1" font-size="10.3" font-family='"Liberation Sans", sans-serif' font-weight="bold" fill="#a04fae" textLength="34.6" lengthAdjust="spacingAndGlyphs" stroke="#a04fae" stroke-width="0.25">VPS35L</text>
<text x="237.0" y="222.7" font-size="10.3" font-family='"Liberation Sans", sans-serif' font-weight="bold" fill="#3b7cc6" textLength="47.0" lengthAdjust="spacingAndGlyphs" stroke="#3b7cc6" stroke-width="0.25">HSD17B12</text>
<text x="220.4" y="232.5" font-size="10.3" font-family='"Liberation Sans", sans-serif' font-weight="bold" fill="#3cb043" textLength="35.6" lengthAdjust="spacingAndGlyphs" stroke="#3cb043" stroke-width="0.25">CYP1B1</text>
<text x="186.0" y="235.7" font-size="10.3" font-family='"Liberation Sans", sans-serif' font-weight="bold" fill="#3cb043" textLength="30.4" lengthAdjust="spacingAndGlyphs" stroke="#3cb043" stroke-width="0.25">TUBB6</text>
<text x="373.0" y="240.7" font-size="10.3" font-family='"Liberation Sans", sans-serif' font-weight="bold" fill="#a04fae" textLength="36.0" lengthAdjust="spacingAndGlyphs" stroke="#a04fae" stroke-width="0.25">VPS26C</text>
<text x="183.0" y="246.7" font-size="10.3" font-family='"Liberation Sans", sans-serif' font-weight="bold" fill="#3b7cc6" textLength="30.0" lengthAdjust="spacingAndGlyphs" stroke="#3b7cc6" stroke-width="0.25">FADS2</text>
<text x="343.4" y="258.1" font-size="10.3" font-family='"Liberation Sans", sans-serif' font-weight="bold" fill="#a04fae" textLength="47.0" lengthAdjust="spacingAndGlyphs" stroke="#a04fae" stroke-width="0.25">WASHC2C</text>
<text x="179.6" y="260.5" font-size="10.3" font-family='"Liberation Sans", sans-serif' font-weight="bold" fill="#3cb043" textLength="40.0" lengthAdjust="spacingAndGlyphs" stroke="#3cb043" stroke-width="0.25">OTULINL</text>
<text x="271.0" y="260.5" font-size="10.3" font-family='"Liberation Sans", sans-serif' font-weight="bold" fill="#3cb043" textLength="25.0" lengthAdjust="spacingAndGlyphs" stroke="#3cb043" stroke-width="0.25">FLNC</text>
<text x="180.0" y="272.5" font-size="10.3" font-family='"Liberation Sans", sans-serif' font-weight="bold" fill="#3cb043" textLength="30.0" lengthAdjust="spacingAndGlyphs" stroke="#3cb043" stroke-width="0.25">CDC45</text>
<text x="275.0" y="273.7" font-size="10.3" font-family='"Liberation Sans", sans-serif' font-weight="bold" fill="#3b7cc6" textLength="37.0" lengthAdjust="spacingAndGlyphs" stroke="#3b7cc6" stroke-width="0.25">UQCR10</text>
<text x="180.0" y="283.5" font-size="10.3" font-family='"Liberation Sans", sans-serif' font-weight="bold" fill="#3cb043" textLength="19.6" lengthAdjust="spacingAndGlyphs" stroke="#3cb043" stroke-width="0.25">AHR</text>
<text x="288.4" y="287.1" font-size="10.3" font-family='"Liberation Sans", sans-serif' font-weight="bold" fill="#3cb043" textLength="40.0" lengthAdjust="spacingAndGlyphs" stroke="#3cb043" stroke-width="0.25">PCOLCE</text>
<text x="181.6" y="294.1" font-size="10.3" font-family='"Liberation Sans", sans-serif' font-weight="bold" fill="#3b7cc6" textLength="29.4" lengthAdjust="spacingAndGlyphs" stroke="#3b7cc6" stroke-width="0.25">SFXN4</text>
<text x="298.0" y="296.5" font-size="10.3" font-family='"Liberation Sans", sans-serif' font-weight="bold" fill="#a04fae" textLength="37.4" lengthAdjust="spacingAndGlyphs" stroke="#a04fae" stroke-width="0.25">CCDC22</text>
<text x="245.6" y="301.5" font-size="10.3" font-family='"Liberation Sans", sans-serif' font-weight="bold" fill="#3cb043" textLength="20.0" lengthAdjust="spacingAndGlyphs" stroke="#3cb043" stroke-width="0.25">BGN</text>
<text x="181.0" y="305.1" font-size="10.3" font-family='"Liberation Sans", sans-serif' font-weight="bold" fill="#3b7cc6" textLength="30.6" lengthAdjust="spacingAndGlyphs" stroke="#3b7cc6" stroke-width="0.25">TMED9</text>
<text x="334.7" y="307.0" font-size="10.3" font-family='"Liberation Sans", sans-serif' font-weight="bold" fill="#a04fae" textLength="40.3" lengthAdjust="spacingAndGlyphs" stroke="#a04fae" stroke-width="0.25">WASH2P</text>
<text x="290.0" y="311.1" font-size="10.3" font-family='"Liberation Sans", sans-serif' font-weight="bold" fill="#3b7cc6" textLength="24.7" lengthAdjust="spacingAndGlyphs" stroke="#3b7cc6" stroke-width="0.25">RYR3</text>
<text x="179.0" y="316.7" font-size="10.3" font-family='"Liberation Sans", sans-serif' font-weight="bold" fill="#3cb043" textLength="33.4" lengthAdjust="spacingAndGlyphs" stroke="#3cb043" stroke-width="0.25">RBPMS</text>
<text x="302.4" y="319.9" font-size="10.3" font-family='"Liberation Sans", sans-serif' font-weight="bold" fill="#3cb043" textLength="35.6" lengthAdjust="spacingAndGlyphs" stroke="#3cb043" stroke-width="0.25">DUSP14</text>
<text x="229.0" y="321.1" font-size="10.3" font-family='"Liberation Sans", sans-serif' font-weight="bold" fill="#3cb043" textLength="32.0" lengthAdjust="spacingAndGlyphs" stroke="#3cb043" stroke-width="0.25">DDHD1</text>
<text x="179.0" y="327.5" font-size="10.3" font-family='"Liberation Sans", sans-serif' font-weight="bold" fill="#3cb043" textLength="29.4" lengthAdjust="spacingAndGlyphs" stroke="#3cb043" stroke-width="0.25">P4HA1</text>
<text x="289.0" y="329.8" font-size="10.3" font-family='"Liberation Sans", sans-serif' font-weight="bold" fill="#3b7cc6" textLength="41.5" lengthAdjust="spacingAndGlyphs" stroke="#3b7cc6" stroke-width="0.25">SLC30A9</text>
<text x="286.7" y="338.5" font-size="10.3" font-family='"Liberation Sans", sans-serif' font-weight="bold" fill="#3b7cc6" textLength="27.0" lengthAdjust="spacingAndGlyphs" stroke="#3b7cc6" stroke-width="0.25">MEST</text>
<text x="179.6" y="339.1" font-size="10.3" font-family='"Liberation Sans", sans-serif' font-weight="bold" fill="#3cb043" textLength="28.4" lengthAdjust="spacingAndGlyphs" stroke="#3cb043" stroke-width="0.25">ZNF91</text>
<text x="279.7" y="348.0" font-size="10.3" font-family='"Liberation Sans", sans-serif' font-weight="bold" fill="#3b7cc6" textLength="26.3" lengthAdjust="spacingAndGlyphs" stroke="#3b7cc6" stroke-width="0.25">MPC2</text>
<text x="179.6" y="353.5" font-size="10.3" font-family='"Liberation Sans", sans-serif' font-weight="bold" fill="#3b7cc6" textLength="36.8" lengthAdjust="spacingAndGlyphs" stroke="#3b7cc6" stroke-width="0.25">IL12RB1</text>
<text x="218.4" y="358.1" font-size="10.3" font-family='"Liberation Sans", sans-serif' font-weight="bold" fill="#3cb043" textLength="36.6" lengthAdjust="spacingAndGlyphs" stroke="#3cb043" stroke-width="0.25">HS1BP3</text>
<text x="263.0" y="358.1" font-size="10.3" font-family='"Liberation Sans", sans-serif' font-weight="bold" fill="#3cb043" textLength="32.6" lengthAdjust="spacingAndGlyphs" stroke="#3cb043" stroke-width="0.25">SNRPB</text>
<rect x="174.4" y="189.4" width="254.4" height="176.6" fill="none" stroke="#111" stroke-width="1.6"/>
<rect x="171.6" y="370.4" width="257.2" height="185.0" fill="#fff"/>
<line x1="267.6" y1="370.4" x2="267.6" y2="555.4" stroke="#cfcfcf" stroke-width="0.9"/>
<line x1="366.6" y1="370.4" x2="366.6" y2="555.4" stroke="#cfcfcf" stroke-width="0.9"/>
<line x1="171.6" y1="392.4" x2="428.8" y2="392.4" stroke="#cfcfcf" stroke-width="0.9"/>
<line x1="171.6" y1="449.0" x2="428.8" y2="449.0" stroke="#cfcfcf" stroke-width="0.9"/>
<line x1="171.6" y1="505.6" x2="428.8" y2="505.6" stroke="#cfcfcf" stroke-width="0.9"/>
<line x1="208.6" y1="370.4" x2="208.6" y2="555.4" stroke="#555" stroke-width="0.9" stroke-dasharray="2.6,1.8"/>
<line x1="171.6" y1="525.6" x2="428.8" y2="525.6" stroke="#555" stroke-width="0.9" stroke-dasharray="2.6,1.8"/>
<circle cx="206.0" cy="458.0" r="2.40" fill="#d4d4d4"/>
<circle cx="205.0" cy="466.0" r="2.40" fill="#d4d4d4"/>
<circle cx="208.0" cy="476.0" r="2.40" fill="#d4d4d4"/>
<circle cx="204.0" cy="484.0" r="2.40" fill="#d4d4d4"/>
<circle cx="207.0" cy="498.0" r="2.40" fill="#d4d4d4"/>
<circle cx="203.0" cy="505.0" r="2.40" fill="#d4d4d4"/>
<circle cx="210.0" cy="515.0" r="2.40" fill="#d4d4d4"/>
<circle cx="206.0" cy="520.0" r="2.40" fill="#d4d4d4"/>
<circle cx="214.0" cy="476.0" r="2.40" fill="#d4d4d4"/>
<circle cx="226.0" cy="480.0" r="2.40" fill="#d4d4d4"/>
<circle cx="217.0" cy="508.0" r="2.40" fill="#d4d4d4"/>
<circle cx="224.0" cy="515.0" r="2.40" fill="#d4d4d4"/>
<circle cx="203.0" cy="452.0" r="2.40" fill="#d4d4d4"/>
<circle cx="224.0" cy="442.0" r="2.40" fill="#d4d4d4"/>
<circle cx="265.0" cy="470.0" r="2.40" fill="#d4d4d4"/>
<circle cx="210.0" cy="470.0" r="2.40" fill="#d4d4d4"/>
<circle cx="213.0" cy="478.0" r="2.40" fill="#d4d4d4"/>
<circle cx="216.0" cy="482.0" r="2.40" fill="#d4d4d4"/>
<circle cx="206.0" cy="490.0" r="2.40" fill="#d4d4d4"/>
<circle cx="218.0" cy="506.0" r="2.40" fill="#d4d4d4"/>
<circle cx="228.0" cy="496.0" r="2.40" fill="#d4d4d4"/>
<circle cx="236.0" cy="487.0" r="2.40" fill="#d4d4d4"/>
<circle cx="248.0" cy="508.0" r="2.40" fill="#d4d4d4"/>
<circle cx="260.0" cy="512.0" r="2.40" fill="#d4d4d4"/>
<circle cx="270.0" cy="518.0" r="2.40" fill="#d4d4d4"/>
<circle cx="255.0" cy="520.0" r="2.40" fill="#d4d4d4"/>
<circle cx="230.0" cy="512.0" r="2.40" fill="#d4d4d4"/>
<circle cx="239.0" cy="534.0" r="2.40" fill="#d4d4d4"/>
<circle cx="205.0" cy="512.0" r="2.40" fill="#d4d4d4"/>
<circle cx="211.0" cy="495.0" r="2.40" fill="#d4d4d4"/>
<circle cx="233.0" cy="460.0" r="2.40" fill="#d4d4d4"/>
<circle cx="277.0" cy="452.0" r="2.40" fill="#d4d4d4"/>
<circle cx="264.0" cy="500.0" r="2.40" fill="#d4d4d4"/>
<circle cx="283.0" cy="480.0" r="2.40" fill="#d4d4d4"/>
<circle cx="290.0" cy="512.0" r="2.40" fill="#d4d4d4"/>
<circle cx="246.0" cy="490.0" r="2.40" fill="#d4d4d4"/>
<circle cx="222.0" cy="478.0" r="2.40" fill="#d4d4d4"/>
<line x1="230.4" y1="405.0" x2="235.0" y2="438.0" stroke="#151515" stroke-width="0.9"/>
<line x1="216.4" y1="416.4" x2="225.0" y2="445.5" stroke="#151515" stroke-width="0.9"/>
<line x1="208.6" y1="426.0" x2="214.5" y2="457.0" stroke="#151515" stroke-width="0.9"/>
<line x1="248.0" y1="431.0" x2="221.0" y2="466.0" stroke="#151515" stroke-width="0.9"/>
<line x1="253.0" y1="438.0" x2="227.0" y2="466.0" stroke="#151515" stroke-width="0.9"/>
<line x1="195.0" y1="441.0" x2="211.0" y2="460.0" stroke="#151515" stroke-width="0.9"/>
<line x1="201.0" y1="462.0" x2="219.0" y2="468.0" stroke="#151515" stroke-width="0.9"/>
<line x1="266.0" y1="465.0" x2="221.0" y2="497.0" stroke="#151515" stroke-width="0.9"/>
<line x1="285.6" y1="466.6" x2="232.0" y2="490.0" stroke="#151515" stroke-width="0.9"/>
<line x1="288.0" y1="454.0" x2="272.5" y2="484.0" stroke="#151515" stroke-width="0.9"/>
<line x1="294.0" y1="476.0" x2="245.0" y2="495.0" stroke="#151515" stroke-width="0.9"/>
<line x1="334.0" y1="484.0" x2="288.0" y2="488.0" stroke="#151515" stroke-width="0.9"/>
<line x1="332.0" y1="493.0" x2="275.0" y2="492.4" stroke="#151515" stroke-width="0.9"/>
<line x1="334.0" y1="502.0" x2="260.0" y2="494.5" stroke="#151515" stroke-width="0.9"/>
<line x1="334.7" y1="511.0" x2="291.0" y2="502.0" stroke="#151515" stroke-width="0.9"/>
<line x1="324.0" y1="520.0" x2="267.0" y2="495.0" stroke="#151515" stroke-width="0.9"/>
<line x1="306.0" y1="528.0" x2="258.5" y2="509.0" stroke="#151515" stroke-width="0.9"/>
<line x1="309.0" y1="537.0" x2="246.0" y2="518.0" stroke="#151515" stroke-width="0.9"/>
<line x1="307.0" y1="547.0" x2="238.0" y2="524.0" stroke="#151515" stroke-width="0.9"/>
<line x1="276.0" y1="512.0" x2="244.5" y2="501.0" stroke="#151515" stroke-width="0.9"/>
<line x1="265.0" y1="543.0" x2="233.0" y2="508.0" stroke="#151515" stroke-width="0.9"/>
<line x1="240.0" y1="541.0" x2="229.0" y2="506.0" stroke="#151515" stroke-width="0.9"/>
<line x1="226.0" y1="533.0" x2="226.0" y2="524.0" stroke="#151515" stroke-width="0.9"/>
<line x1="205.0" y1="541.0" x2="223.0" y2="523.5" stroke="#151515" stroke-width="0.9"/>
<line x1="205.0" y1="530.0" x2="215.0" y2="524.5" stroke="#151515" stroke-width="0.9"/>
<line x1="201.0" y1="522.5" x2="214.0" y2="523.5" stroke="#151515" stroke-width="0.9"/>
<line x1="205.0" y1="512.0" x2="218.5" y2="517.0" stroke="#151515" stroke-width="0.9"/>
<line x1="200.0" y1="502.0" x2="212.0" y2="503.0" stroke="#151515" stroke-width="0.9"/>
<line x1="196.0" y1="491.0" x2="212.5" y2="502.0" stroke="#151515" stroke-width="0.9"/>
<line x1="208.0" y1="481.0" x2="219.5" y2="491.5" stroke="#151515" stroke-width="0.9"/>
<line x1="205.0" y1="474.0" x2="210.0" y2="484.0" stroke="#151515" stroke-width="0.9"/>
<line x1="235.0" y1="474.0" x2="225.0" y2="487.0" stroke="#151515" stroke-width="0.9"/>
<circle cx="420.0" cy="392.6" r="3.10" fill="#a456b2"/>
<circle cx="220.4" cy="492.4" r="3.10" fill="#a456b2"/>
<circle cx="230.4" cy="490.4" r="3.10" fill="#a456b2"/>
<circle cx="258.4" cy="494.0" r="3.10" fill="#a456b2"/>
<circle cx="212.4" cy="462.0" r="3.10" fill="#3f7ec8"/>
<circle cx="220.0" cy="468.0" r="3.10" fill="#3f7ec8"/>
<circle cx="221.0" cy="472.4" r="3.10" fill="#3f7ec8"/>
<circle cx="210.0" cy="485.6" r="3.10" fill="#3f7ec8"/>
<circle cx="212.0" cy="489.6" r="3.10" fill="#3f7ec8"/>
<circle cx="224.4" cy="488.0" r="3.10" fill="#3f7ec8"/>
<circle cx="219.6" cy="498.4" r="3.10" fill="#3f7ec8"/>
<circle cx="243.6" cy="495.6" r="3.10" fill="#3f7ec8"/>
<circle cx="290.4" cy="501.6" r="3.10" fill="#3f7ec8"/>
<circle cx="215.6" cy="523.6" r="3.10" fill="#3f7ec8"/>
<circle cx="223.0" cy="522.0" r="3.10" fill="#3f7ec8"/>
<circle cx="225.6" cy="522.4" r="3.10" fill="#3f7ec8"/>
<circle cx="235.0" cy="440.0" r="3.10" fill="#3db54a"/>
<circle cx="225.6" cy="447.6" r="3.10" fill="#3db54a"/>
<circle cx="257.0" cy="452.0" r="3.10" fill="#3db54a"/>
<circle cx="215.0" cy="459.6" r="3.10" fill="#3db54a"/>
<circle cx="225.6" cy="467.6" r="3.10" fill="#3db54a"/>
<circle cx="272.0" cy="485.0" r="3.10" fill="#3db54a"/>
<circle cx="287.0" cy="488.0" r="3.10" fill="#3db54a"/>
<circle cx="266.0" cy="494.0" r="3.10" fill="#3db54a"/>
<circle cx="273.6" cy="492.4" r="3.10" fill="#3db54a"/>
<circle cx="243.6" cy="500.0" r="3.10" fill="#3db54a"/>
<circle cx="213.0" cy="503.0" r="3.10" fill="#3db54a"/>
<circle cx="228.0" cy="505.0" r="3.10" fill="#3db54a"/>
<circle cx="232.4" cy="507.0" r="3.10" fill="#3db54a"/>
<circle cx="257.6" cy="508.0" r="3.10" fill="#3db54a"/>
<circle cx="245.0" cy="517.0" r="3.10" fill="#3db54a"/>
<circle cx="218.6" cy="518.0" r="3.10" fill="#3db54a"/>
<circle cx="237.0" cy="523.6" r="3.10" fill="#3db54a"/>
<text x="395.0" y="389.5" font-size="10.3" font-family='"Liberation Sans", sans-serif' font-weight="bold" fill="#a04fae" textLength="30.0" lengthAdjust="spacingAndGlyphs" stroke="#a04fae" stroke-width="0.25">SNX17</text>
<text x="205.0" y="405.1" font-size="10.3" font-family='"Liberation Sans", sans-serif' font-weight="bold" fill="#3cb043" textLength="41.4" lengthAdjust="spacingAndGlyphs" stroke="#3cb043" stroke-width="0.25">OTULINL</text>
<text x="190.4" y="415.5" font-size="10.3" font-family='"Liberation Sans", sans-serif' font-weight="bold" fill="#3cb043" textLength="31.6" lengthAdjust="spacingAndGlyphs" stroke="#3cb043" stroke-width="0.25">TUBB6</text>
<text x="180.4" y="426.7" font-size="10.3" font-family='"Liberation Sans", sans-serif' font-weight="bold" fill="#3cb043" textLength="31.2" lengthAdjust="spacingAndGlyphs" stroke="#3cb043" stroke-width="0.25">TUBB3</text>
<text x="239.0" y="430.7" font-size="10.3" font-family='"Liberation Sans", sans-serif' font-weight="bold" fill="#3b7cc6" textLength="48.6" lengthAdjust="spacingAndGlyphs" stroke="#3b7cc6" stroke-width="0.25">HSD17B12</text>
<text x="176.0" y="440.1" font-size="10.3" font-family='"Liberation Sans", sans-serif' font-weight="bold" fill="#3b7cc6" textLength="32.0" lengthAdjust="spacingAndGlyphs" stroke="#3b7cc6" stroke-width="0.25">TMED2</text>
<text x="253.0" y="439.1" font-size="10.3" font-family='"Liberation Sans", sans-serif' font-weight="bold" fill="#3b7cc6" textLength="32.0" lengthAdjust="spacingAndGlyphs" stroke="#3b7cc6" stroke-width="0.25">LNPEP</text>
<text x="257.0" y="450.7" font-size="10.3" font-family='"Liberation Sans", sans-serif' font-weight="bold" fill="#3cb043" textLength="29.0" lengthAdjust="spacingAndGlyphs" stroke="#3cb043" stroke-width="0.25">TGFBI</text>
<text x="289.0" y="454.4" font-size="10.3" font-family='"Liberation Sans", sans-serif' font-weight="bold" fill="#3cb043" textLength="40.4" lengthAdjust="spacingAndGlyphs" stroke="#3cb043" stroke-width="0.25">PCOLCE</text>
<text x="181.0" y="463.5" font-size="10.3" font-family='"Liberation Sans", sans-serif' font-weight="bold" fill="#3cb043" textLength="20.6" lengthAdjust="spacingAndGlyphs" stroke="#3cb043" stroke-width="0.25">RIN1</text>
<text x="246.4" y="465.1" font-size="10.3" font-family='"Liberation Sans", sans-serif' font-weight="bold" fill="#3b7cc6" textLength="36.6" lengthAdjust="spacingAndGlyphs" stroke="#3b7cc6" stroke-width="0.25">SREBF2</text>
<text x="285.6" y="470.1" font-size="10.3" font-family='"Liberation Sans", sans-serif' font-weight="bold" fill="#a04fae" textLength="36.8" lengthAdjust="spacingAndGlyphs" stroke="#a04fae" stroke-width="0.25">VPS26C</text>
<text x="176.0" y="474.1" font-size="10.3" font-family='"Liberation Sans", sans-serif' font-weight="bold" fill="#3b7cc6" textLength="33.0" lengthAdjust="spacingAndGlyphs" stroke="#3b7cc6" stroke-width="0.25">DHCR7</text>
<text x="229.6" y="474.1" font-size="10.3" font-family='"Liberation Sans", sans-serif' font-weight="bold" fill="#3b7cc6" textLength="24.4" lengthAdjust="spacingAndGlyphs" stroke="#3b7cc6" stroke-width="0.25">RYR3</text>
<text x="294.4" y="478.9" font-size="10.3" font-family='"Liberation Sans", sans-serif' font-weight="bold" fill="#3b7cc6" textLength="37.5" lengthAdjust="spacingAndGlyphs" stroke="#3b7cc6" stroke-width="0.25">TMED10</text>
<text x="177.6" y="485.1" font-size="10.3" font-family='"Liberation Sans", sans-serif' font-weight="bold" fill="#a04fae" textLength="30.4" lengthAdjust="spacingAndGlyphs" stroke="#a04fae" stroke-width="0.25">SNX3</text>
<text x="334.0" y="487.0" font-size="10.3" font-family='"Liberation Sans", sans-serif' font-weight="bold" fill="#3cb043" textLength="37.5" lengthAdjust="spacingAndGlyphs" stroke="#3cb043" stroke-width="0.25">PODNL1</text>
<text x="176.0" y="495.5" font-size="10.3" font-family='"Liberation Sans", sans-serif' font-weight="bold" fill="#3cb043" textLength="20.4" lengthAdjust="spacingAndGlyphs" stroke="#3cb043" stroke-width="0.25">AHR</text>
<text x="331.9" y="496.4" font-size="10.3" font-family='"Liberation Sans", sans-serif' font-weight="bold" fill="#3cb043" textLength="20.3" lengthAdjust="spacingAndGlyphs" stroke="#3cb043" stroke-width="0.25">BGN</text>
<text x="176.0" y="505.5" font-size="10.3" font-family='"Liberation Sans", sans-serif' font-weight="bold" fill="#3b7cc6" textLength="24.4" lengthAdjust="spacingAndGlyphs" stroke="#3b7cc6" stroke-width="0.25">PARL</text>
<text x="334.0" y="505.6" font-size="10.3" font-family='"Liberation Sans", sans-serif' font-weight="bold" fill="#a04fae" textLength="41.0" lengthAdjust="spacingAndGlyphs" stroke="#a04fae" stroke-width="0.25">WASHC3</text>
<text x="334.7" y="514.3" font-size="10.3" font-family='"Liberation Sans", sans-serif' font-weight="bold" fill="#3b7cc6" textLength="42.0" lengthAdjust="spacingAndGlyphs" stroke="#3b7cc6" stroke-width="0.25">SLC30A4</text>
<text x="176.0" y="515.1" font-size="10.3" font-family='"Liberation Sans", sans-serif' font-weight="bold" fill="#3b7cc6" textLength="46.0" lengthAdjust="spacingAndGlyphs" stroke="#3b7cc6" stroke-width="0.25">SLC25A20</text>
<text x="276.0" y="517.1" font-size="10.3" font-family='"Liberation Sans", sans-serif' font-weight="bold" fill="#3cb043" textLength="26.0" lengthAdjust="spacingAndGlyphs" stroke="#3cb043" stroke-width="0.25">ACTB</text>
<text x="324.2" y="523.1" font-size="10.3" font-family='"Liberation Sans", sans-serif' font-weight="bold" fill="#3cb043" textLength="25.2" lengthAdjust="spacingAndGlyphs" stroke="#3cb043" stroke-width="0.25">SPEG</text>
<text x="176.0" y="526.1" font-size="10.3" font-family='"Liberation Sans", sans-serif' font-weight="bold" fill="#3b7cc6" textLength="25.0" lengthAdjust="spacingAndGlyphs" stroke="#3b7cc6" stroke-width="0.25">SCD5</text>
<text x="306.0" y="531.8" font-size="10.3" font-family='"Liberation Sans", sans-serif' font-weight="bold" fill="#3cb043" textLength="41.0" lengthAdjust="spacingAndGlyphs" stroke="#3cb043" stroke-width="0.25">CROCC2</text>
<text x="175.0" y="537.5" font-size="10.3" font-family='"Liberation Sans", sans-serif' font-weight="bold" fill="#3cb043" textLength="30.0" lengthAdjust="spacingAndGlyphs" stroke="#3cb043" stroke-width="0.25">CRLF1</text>
<text x="211.6" y="541.1" font-size="10.3" font-family='"Liberation Sans", sans-serif' font-weight="bold" fill="#3b7cc6" textLength="29.4" lengthAdjust="spacingAndGlyphs" stroke="#3b7cc6" stroke-width="0.25">NAT14</text>
<text x="309.5" y="541.3" font-size="10.3" font-family='"Liberation Sans", sans-serif' font-weight="bold" fill="#3cb043" textLength="37.5" lengthAdjust="spacingAndGlyphs" stroke="#3cb043" stroke-width="0.25">DUSP14</text>
<text x="181.0" y="549.5" font-size="10.3" font-family='"Liberation Sans", sans-serif' font-weight="bold" fill="#3b7cc6" textLength="26.6" lengthAdjust="spacingAndGlyphs" stroke="#3b7cc6" stroke-width="0.25">MRC2</text>
<text x="219.6" y="551.1" font-size="10.3" font-family='"Liberation Sans", sans-serif' font-weight="bold" fill="#3cb043" textLength="31.4" lengthAdjust="spacingAndGlyphs" stroke="#3cb043" stroke-width="0.25">TAGLN</text>
<text x="258.0" y="551.1" font-size="10.3" font-family='"Liberation Sans", sans-serif' font-weight="bold" fill="#3cb043" textLength="43.0" lengthAdjust="spacingAndGlyphs" stroke="#3cb043" stroke-width="0.25">DNAJC10</text>
<text x="307.4" y="551.1" font-size="10.3" font-family='"Liberation Sans", sans-serif' font-weight="bold" fill="#3cb043" textLength="30.1" lengthAdjust="spacingAndGlyphs" stroke="#3cb043" stroke-width="0.25">P4HA1</text>
<rect x="171.6" y="370.4" width="257.2" height="185.0" fill="none" stroke="#111" stroke-width="1.6"/>
<defs><clipPath id="ca"><rect x="59.4" y="15.3" width="71.5" height="64.2"/></clipPath></defs>
<rect x="59.4" y="15.3" width="71.5" height="64.2" fill="#a9a9ad"/>
<g clip-path="url(#ca)">
<circle cx="93.5" cy="42.6" r="17.40" fill="#fff"/>
<path d="M58,77 Q95,62 132,69 L132,81 L58,81 Z" fill="#b19f80" stroke="#8a7840" stroke-width="1"/>
</g>
<circle cx="93.5" cy="42.6" r="17.40" fill="none" stroke="#e46a55" stroke-width="0.8" stroke-dasharray="1.2,1"/>
<g transform="translate(93.55,54.05) rotate(-31)"><rect x="-10.5" y="-3.6" width="21" height="7.2" rx="3.6" fill="#5bbfcb" stroke="#111" stroke-width="0.9"/></g>
<ellipse cx="102.8" cy="46.8" rx="3" ry="2.2" fill="#fff" stroke="#111" stroke-width="0.8" transform="rotate(-31 102.8 46.8)"/>
<ellipse cx="83.6" cy="64" rx="4.2" ry="3.3" fill="none" stroke="#555" stroke-width="0.8"/>
<circle cx="94.1" cy="42.6" r="1.90" fill="#000"/>
<line x1="94.1" y1="42.6" x2="97.5" y2="46.5" stroke="#111" stroke-width="0.8"/>
<rect x="59.4" y="15.3" width="71.5" height="64.2" fill="none" stroke="#e0553f" stroke-width="0.8" stroke-dasharray="1.5,1"/>
<defs><clipPath id="cb"><rect x="59.4" y="203.4" width="71.5" height="64.0"/></clipPath></defs>
<rect x="59.4" y="203.4" width="71.5" height="64.0" fill="#a9a9ad"/>
<g clip-path="url(#cb)">
<circle cx="93.0" cy="228.0" r="17.20" fill="#fff"/>
<path d="M58,264 Q95,250 132,258 L132,269 L58,269 Z" fill="#b19f80" stroke="#8a7840" stroke-width="1"/>
</g>
<circle cx="93.0" cy="228.0" r="17.20" fill="none" stroke="#e46a55" stroke-width="0.8" stroke-dasharray="1.2,1"/>
<g transform="translate(95,241) rotate(38)"><rect x="-11" y="-3.6" width="22" height="7.2" rx="3.6" fill="#5bbfcb" stroke="#111" stroke-width="0.9"/></g>
<ellipse cx="85.5" cy="233.6" rx="2.6" ry="2.2" fill="#fff" stroke="#111" stroke-width="0.8"/>
<ellipse cx="103" cy="252" rx="4.2" ry="3.3" fill="none" stroke="#555" stroke-width="0.8"/>
<circle cx="93.0" cy="228.0" r="1.90" fill="#000"/>
<line x1="93.0" y1="228.0" x2="88.0" y2="233.0" stroke="#111" stroke-width="0.8"/>
<rect x="59.4" y="203.4" width="71.5" height="64" fill="none" stroke="#e0553f" stroke-width="0.8" stroke-dasharray="1.5,1"/>
<defs><clipPath id="cc"><rect x="59.4" y="385.3" width="71.5" height="64.2"/></clipPath></defs>
<rect x="59.4" y="385.3" width="71.5" height="64.2" fill="#a9a9ad"/>
<g clip-path="url(#cc)">
<circle cx="92.4" cy="422.6" r="17.50" fill="#fff"/>
<path d="M58,440.5 Q96,428 132,437.5 L132,451 L58,451 Z" fill="#b19f80" stroke="#8a7840" stroke-width="1"/>
</g>
<defs><clipPath id="ccc"><circle cx="92.4" cy="422.6" r="17.5"/></clipPath></defs>
<path d="M58,440.5 Q96,428 132,437.5 L132,451 L58,451 Z" fill="#f6c88e" clip-path="url(#ccc)"/>
<path d="M58,440.5 Q96,428 132,437.5" fill="none" stroke="#8a7840" stroke-width="1"/>
<circle cx="92.4" cy="422.6" r="17.50" fill="none" stroke="#e46a55" stroke-width="0.8" stroke-dasharray="1.2,1"/>
<ellipse cx="102.3" cy="427.9" rx="7" ry="4.3" fill="#5cb84c" stroke="#111" stroke-width="0.9" transform="rotate(15 102.3 427.9)"/>
<circle cx="93.0" cy="422.6" r="1.90" fill="#000"/>
<path d="M93,422.6 L98.8,421 L100,424" fill="none" stroke="#111" stroke-width="0.8"/>
<rect x="59.4" y="385.3" width="71.5" height="64.2" fill="none" stroke="#e0553f" stroke-width="0.8" stroke-dasharray="1.5,1"/>
<text x="-0.5" y="19.2" font-size="25.5" font-family='"Liberation Serif", serif' font-weight="bold" fill="#1a1a1a">A</text>
<text x="1.2" y="200.6" font-size="25.5" font-family='"Liberation Serif", serif' font-weight="bold" fill="#1a1a1a">B</text>
<text x="0.5" y="383.4" font-size="25.5" font-family='"Liberation Serif", serif' font-weight="bold" fill="#1a1a1a">C</text>
<text x="0.0" y="570.6" font-size="25.5" font-family='"Liberation Serif", serif' font-weight="bold" fill="#1a1a1a">D</text>
<text x="446.0" y="19.2" font-size="25.5" font-family='"Liberation Serif", serif' font-weight="bold" fill="#1a1a1a">E</text>
<text x="446.0" y="450.0" font-size="25.5" font-family='"Liberation Serif", serif' font-weight="bold" fill="#1a1a1a">F</text>
<text x="1.0" y="700.0" font-size="25.5" font-family='"Liberation Serif", serif' font-weight="bold" fill="#1a1a1a">G</text>
<text x="362.0" y="673.0" font-size="25.5" font-family='"Liberation Serif", serif' font-weight="bold" fill="#1a1a1a">H</text>
<text x="436.0" y="778.5" font-size="25.5" font-family='"Liberation Serif", serif' font-weight="bold" fill="#1a1a1a">I</text>
<text x="27.0" y="12.6" font-size="14.5" font-family='"Liberation Serif", serif' font-weight="bold" fill="#1a1a1a" textLength="84.7" lengthAdjust="spacingAndGlyphs">ID1-VPS35L</text>
<text x="114.5" y="12.6" font-size="14" font-family='"Liberation Serif", serif' font-weight="bold" fill="#1a1a1a">/</text>
<text x="123.5" y="12.6" font-size="12" font-family='"Liberation Serif", serif' font-weight="bold" fill="#1a1a1a" textLength="19.7" lengthAdjust="spacingAndGlyphs">cyto</text>
<text x="27.0" y="199.4" font-size="14.5" font-family='"Liberation Serif", serif' font-weight="bold" fill="#1a1a1a" textLength="84.7" lengthAdjust="spacingAndGlyphs">VPS35L-ID1</text>
<text x="114.5" y="199.4" font-size="14" font-family='"Liberation Serif", serif' font-weight="bold" fill="#1a1a1a">/</text>
<text x="123.5" y="199.4" font-size="12" font-family='"Liberation Serif", serif' font-weight="bold" fill="#1a1a1a" textLength="20.3" lengthAdjust="spacingAndGlyphs">cyto</text>
<text x="27.6" y="381.3" font-size="14.5" font-family='"Liberation Serif", serif' font-weight="bold" fill="#1a1a1a" textLength="74.9" lengthAdjust="spacingAndGlyphs">ID1-SNX17</text>
<text x="106.2" y="381.3" font-size="14" font-family='"Liberation Serif", serif' font-weight="bold" fill="#1a1a1a">/</text>
<text x="115.6" y="381.3" font-size="12" font-family='"Liberation Serif", serif' font-weight="bold" fill="#1a1a1a" textLength="19.7" lengthAdjust="spacingAndGlyphs">cyto</text>
<text x="54.0" y="571.4" font-size="13.5" font-family='"Liberation Serif", serif' font-weight="bold" fill="#1a1a1a" textLength="96.0" lengthAdjust="spacingAndGlyphs">Retromer-SNX27</text>
<text x="210.5" y="571.4" font-size="13.5" font-family='"Liberation Serif", serif' font-weight="bold" fill="#1a1a1a" textLength="94.0" lengthAdjust="spacingAndGlyphs">Retriever-SNX17</text>
<rect x="11.0" y="573.6" width="164.0" height="1.7" fill="#111"/>
<rect x="179.4" y="573.6" width="168.8" height="1.7" fill="#111"/>
<rect x="90.5" y="579.4" width="84.9" height="84.6" fill="#fff" stroke="#333" stroke-width="0.7"/>
<rect x="90.5" y="582.70" width="62.8" height="4.6" fill="#b35bb0" stroke="#3a3a3a" stroke-width="0.6"/>
<line x1="88.3" y1="585.0" x2="90.5" y2="585.0" stroke="#333" stroke-width="0.6"/>
<text x="87.5" y="586.9" font-size="5.3" font-family='"Liberation Sans", sans-serif' font-weight="bold" fill="#1a1a1a" text-anchor="end" textLength="32.6" lengthAdjust="spacingAndGlyphs">Hepatomegaly</text>
<rect x="90.5" y="589.43" width="60.3" height="4.6" fill="#b35bb0" stroke="#3a3a3a" stroke-width="0.6"/>
<line x1="88.3" y1="591.7" x2="90.5" y2="591.7" stroke="#333" stroke-width="0.6"/>
<text x="87.5" y="593.6" font-size="5.3" font-family='"Liberation Sans", sans-serif' font-weight="bold" fill="#1a1a1a" text-anchor="end" textLength="40.3" lengthAdjust="spacingAndGlyphs">Marfan Syndrome</text>
<rect x="90.5" y="596.16" width="58.6" height="4.6" fill="#b35bb0" stroke="#3a3a3a" stroke-width="0.6"/>
<line x1="88.3" y1="598.5" x2="90.5" y2="598.5" stroke="#333" stroke-width="0.6"/>
<text x="87.5" y="600.4" font-size="5.3" font-family='"Liberation Sans", sans-serif' font-weight="bold" fill="#1a1a1a" text-anchor="end" textLength="47.2" lengthAdjust="spacingAndGlyphs">Rhabdomyosarcoma</text>
<rect x="90.5" y="602.89" width="56.9" height="4.6" fill="#b35bb0" stroke="#3a3a3a" stroke-width="0.6"/>
<line x1="88.3" y1="605.2" x2="90.5" y2="605.2" stroke="#333" stroke-width="0.6"/>
<text x="87.5" y="607.1" font-size="5.3" font-family='"Liberation Sans", sans-serif' font-weight="bold" fill="#1a1a1a" text-anchor="end" textLength="63.9" lengthAdjust="spacingAndGlyphs">Chronic Persistent Hepatitis</text>
<rect x="90.5" y="609.62" width="56.0" height="4.6" fill="#b35bb0" stroke="#3a3a3a" stroke-width="0.6"/>
<line x1="88.3" y1="611.9" x2="90.5" y2="611.9" stroke="#333" stroke-width="0.6"/>
<text x="87.5" y="613.8" font-size="5.3" font-family='"Liberation Sans", sans-serif' font-weight="bold" fill="#1a1a1a" text-anchor="end" textLength="65.5" lengthAdjust="spacingAndGlyphs">Invasive carcinoma of breast</text>
<rect x="90.5" y="616.35" width="42.5" height="4.6" fill="#b35bb0" stroke="#3a3a3a" stroke-width="0.6"/>
<line x1="88.3" y1="618.6" x2="90.5" y2="618.6" stroke="#333" stroke-width="0.6"/>
<text x="87.5" y="620.5" font-size="5.3" font-family='"Liberation Sans", sans-serif' font-weight="bold" fill="#1a1a1a" text-anchor="end" textLength="76.9" lengthAdjust="spacingAndGlyphs">Age related macular degeneration</text>
<rect x="90.5" y="623.08" width="41.6" height="4.6" fill="#b35bb0" stroke="#3a3a3a" stroke-width="0.6"/>
<line x1="88.3" y1="625.4" x2="90.5" y2="625.4" stroke="#333" stroke-width="0.6"/>
<text x="87.5" y="627.3" font-size="5.3" font-family='"Liberation Sans", sans-serif' font-weight="bold" fill="#1a1a1a" text-anchor="end" textLength="56.3" lengthAdjust="spacingAndGlyphs">Dandy-Walker Syndrome</text>
<rect x="90.5" y="629.81" width="41.6" height="4.6" fill="#b35bb0" stroke="#3a3a3a" stroke-width="0.6"/>
<line x1="88.3" y1="632.1" x2="90.5" y2="632.1" stroke="#333" stroke-width="0.6"/>
<text x="87.5" y="634.0" font-size="5.3" font-family='"Liberation Sans", sans-serif' font-weight="bold" fill="#1a1a1a" text-anchor="end" textLength="50.1" lengthAdjust="spacingAndGlyphs">Cerebellar Hypoplasia</text>
<rect x="90.5" y="636.54" width="30.6" height="4.6" fill="#b35bb0" stroke="#3a3a3a" stroke-width="0.6"/>
<line x1="88.3" y1="638.8" x2="90.5" y2="638.8" stroke="#333" stroke-width="0.6"/>
<text x="87.5" y="640.7" font-size="5.3" font-family='"Liberation Sans", sans-serif' font-weight="bold" fill="#1a1a1a" text-anchor="end" textLength="43.5" lengthAdjust="spacingAndGlyphs">Fatty Liver Disease</text>
<rect x="90.5" y="643.27" width="30.6" height="4.6" fill="#b35bb0" stroke="#3a3a3a" stroke-width="0.6"/>
<line x1="88.3" y1="645.6" x2="90.5" y2="645.6" stroke="#333" stroke-width="0.6"/>
<text x="87.5" y="647.5" font-size="5.3" font-family='"Liberation Sans", sans-serif' font-weight="bold" fill="#1a1a1a" text-anchor="end" textLength="65.9" lengthAdjust="spacingAndGlyphs">Charcot-Marie-Tooth Disease</text>
<rect x="90.5" y="650.00" width="28.9" height="4.6" fill="#b35bb0" stroke="#3a3a3a" stroke-width="0.6"/>
<line x1="88.3" y1="652.3" x2="90.5" y2="652.3" stroke="#333" stroke-width="0.6"/>
<text x="87.5" y="654.2" font-size="5.3" font-family='"Liberation Sans", sans-serif' font-weight="bold" fill="#1a1a1a" text-anchor="end" textLength="68.7" lengthAdjust="spacingAndGlyphs">Spastic Paraplegia, Hereditary</text>
<rect x="90.5" y="656.73" width="25.5" height="4.6" fill="#b35bb0" stroke="#3a3a3a" stroke-width="0.6"/>
<line x1="88.3" y1="659.0" x2="90.5" y2="659.0" stroke="#333" stroke-width="0.6"/>
<text x="87.5" y="660.9" font-size="5.3" font-family='"Liberation Sans", sans-serif' font-weight="bold" fill="#1a1a1a" text-anchor="end" textLength="69.5" lengthAdjust="spacingAndGlyphs">Alzheimer Disease, Late Onset</text>
<line x1="90.5" y1="664.0" x2="90.5" y2="666.5" stroke="#333" stroke-width="0.6"/>
<text x="90.5" y="673.3" font-size="5.0" font-family='"Liberation Sans", sans-serif' fill="#222" text-anchor="middle">0</text>
<line x1="99.0" y1="664.0" x2="99.0" y2="666.5" stroke="#333" stroke-width="0.6"/>
<text x="99.0" y="673.3" font-size="5.0" font-family='"Liberation Sans", sans-serif' fill="#222" text-anchor="middle">-1</text>
<line x1="107.5" y1="664.0" x2="107.5" y2="666.5" stroke="#333" stroke-width="0.6"/>
<text x="107.5" y="673.3" font-size="5.0" font-family='"Liberation Sans", sans-serif' fill="#222" text-anchor="middle">-2</text>
<line x1="116.0" y1="664.0" x2="116.0" y2="666.5" stroke="#333" stroke-width="0.6"/>
<text x="116.0" y="673.3" font-size="5.0" font-family='"Liberation Sans", sans-serif' fill="#222" text-anchor="middle">-3</text>
<line x1="124.5" y1="664.0" x2="124.5" y2="666.5" stroke="#333" stroke-width="0.6"/>
<text x="124.5" y="673.3" font-size="5.0" font-family='"Liberation Sans", sans-serif' fill="#222" text-anchor="middle">-4</text>
<line x1="132.9" y1="664.0" x2="132.9" y2="666.5" stroke="#333" stroke-width="0.6"/>
<text x="132.9" y="673.3" font-size="5.0" font-family='"Liberation Sans", sans-serif' fill="#222" text-anchor="middle">-5</text>
<line x1="141.4" y1="664.0" x2="141.4" y2="666.5" stroke="#333" stroke-width="0.6"/>
<text x="141.4" y="673.3" font-size="5.0" font-family='"Liberation Sans", sans-serif' fill="#222" text-anchor="middle">-6</text>
<line x1="149.9" y1="664.0" x2="149.9" y2="666.5" stroke="#333" stroke-width="0.6"/>
<text x="149.9" y="673.3" font-size="5.0" font-family='"Liberation Sans", sans-serif' fill="#222" text-anchor="middle">-7</text>
<line x1="158.4" y1="664.0" x2="158.4" y2="666.5" stroke="#333" stroke-width="0.6"/>
<text x="158.4" y="673.3" font-size="5.0" font-family='"Liberation Sans", sans-serif' fill="#222" text-anchor="middle">-8</text>
<line x1="166.9" y1="664.0" x2="166.9" y2="666.5" stroke="#333" stroke-width="0.6"/>
<text x="166.9" y="673.3" font-size="5.0" font-family='"Liberation Sans", sans-serif' fill="#222" text-anchor="middle">-9</text>
<line x1="175.4" y1="664.0" x2="175.4" y2="666.5" stroke="#333" stroke-width="0.6"/>
<text x="175.4" y="673.3" font-size="5.0" font-family='"Liberation Sans", sans-serif' fill="#222" text-anchor="middle">-10</text>
<text x="132.9" y="681.5" font-size="8.6" font-family='"Liberation Sans", sans-serif' font-weight="bold" fill="#222" text-anchor="middle">Log P</text>
<rect x="264.4" y="580.4" width="84.2" height="83.6" fill="#fff" stroke="#333" stroke-width="0.7"/>
<rect x="264.4" y="583.25" width="63.2" height="4.3" fill="#5cb84a" stroke="#3a3a3a" stroke-width="0.6"/>
<line x1="262.2" y1="585.4" x2="264.4" y2="585.4" stroke="#333" stroke-width="0.6"/>
<text x="261.3" y="587.3" font-size="5.3" font-family='"Liberation Sans", sans-serif' font-weight="bold" fill="#1a1a1a" text-anchor="end" textLength="60.2" lengthAdjust="spacingAndGlyphs">Head and Neck Carcinoma</text>
<rect x="264.4" y="589.42" width="58.9" height="4.3" fill="#5cb84a" stroke="#3a3a3a" stroke-width="0.6"/>
<line x1="262.2" y1="591.6" x2="264.4" y2="591.6" stroke="#333" stroke-width="0.6"/>
<text x="261.3" y="593.5" font-size="5.3" font-family='"Liberation Sans", sans-serif' font-weight="bold" fill="#1a1a1a" text-anchor="end" textLength="48.3" lengthAdjust="spacingAndGlyphs">Pancreatic Neoplasm</text>
<rect x="264.4" y="595.59" width="58.1" height="4.3" fill="#5cb84a" stroke="#3a3a3a" stroke-width="0.6"/>
<line x1="262.2" y1="597.7" x2="264.4" y2="597.7" stroke="#333" stroke-width="0.6"/>
<text x="261.3" y="599.6" font-size="5.3" font-family='"Liberation Sans", sans-serif' font-weight="bold" fill="#1a1a1a" text-anchor="end" textLength="81.9" lengthAdjust="spacingAndGlyphs">Malignant Head and Neck Neoplasm</text>
<rect x="264.4" y="601.76" width="56.4" height="4.3" fill="#5cb84a" stroke="#3a3a3a" stroke-width="0.6"/>
<line x1="262.2" y1="603.9" x2="264.4" y2="603.9" stroke="#333" stroke-width="0.6"/>
<text x="261.3" y="605.8" font-size="5.3" font-family='"Liberation Sans", sans-serif' font-weight="bold" fill="#1a1a1a" text-anchor="end" textLength="65.5" lengthAdjust="spacingAndGlyphs">Invasive carcinoma of breast</text>
<rect x="264.4" y="607.93" width="56.4" height="4.3" fill="#5cb84a" stroke="#3a3a3a" stroke-width="0.6"/>
<line x1="262.2" y1="610.1" x2="264.4" y2="610.1" stroke="#333" stroke-width="0.6"/>
<text x="261.3" y="612.0" font-size="5.3" font-family='"Liberation Sans", sans-serif' font-weight="bold" fill="#1a1a1a" text-anchor="end" textLength="78.2" lengthAdjust="spacingAndGlyphs">Carcinoma in situ of uterine cervix</text>
<rect x="264.4" y="614.10" width="42.1" height="4.3" fill="#5cb84a" stroke="#3a3a3a" stroke-width="0.6"/>
<line x1="262.2" y1="616.2" x2="264.4" y2="616.2" stroke="#333" stroke-width="0.6"/>
<text x="261.3" y="618.1" font-size="5.3" font-family='"Liberation Sans", sans-serif' font-weight="bold" fill="#1a1a1a" text-anchor="end" textLength="62.6" lengthAdjust="spacingAndGlyphs">Lipid Metabolism Disorders</text>
<rect x="264.4" y="620.27" width="41.3" height="4.3" fill="#5cb84a" stroke="#3a3a3a" stroke-width="0.6"/>
<line x1="262.2" y1="622.4" x2="264.4" y2="622.4" stroke="#333" stroke-width="0.6"/>
<text x="261.3" y="624.3" font-size="5.3" font-family='"Liberation Sans", sans-serif' font-weight="bold" fill="#1a1a1a" text-anchor="end" textLength="32.3" lengthAdjust="spacingAndGlyphs">Hypoglycemia</text>
<rect x="264.4" y="626.44" width="41.3" height="4.3" fill="#5cb84a" stroke="#3a3a3a" stroke-width="0.6"/>
<line x1="262.2" y1="628.6" x2="264.4" y2="628.6" stroke="#333" stroke-width="0.6"/>
<text x="261.3" y="630.5" font-size="5.3" font-family='"Liberation Sans", sans-serif' font-weight="bold" fill="#1a1a1a" text-anchor="end" textLength="42.4" lengthAdjust="spacingAndGlyphs">Alexander Disease</text>
<rect x="264.4" y="632.61" width="40.4" height="4.3" fill="#5cb84a" stroke="#3a3a3a" stroke-width="0.6"/>
<line x1="262.2" y1="634.8" x2="264.4" y2="634.8" stroke="#333" stroke-width="0.6"/>
<text x="261.3" y="636.7" font-size="5.3" font-family='"Liberation Sans", sans-serif' font-weight="bold" fill="#1a1a1a" text-anchor="end" textLength="45.9" lengthAdjust="spacingAndGlyphs">Muscular Dystrophy</text>
<rect x="264.4" y="638.78" width="40.4" height="4.3" fill="#5cb84a" stroke="#3a3a3a" stroke-width="0.6"/>
<line x1="262.2" y1="640.9" x2="264.4" y2="640.9" stroke="#333" stroke-width="0.6"/>
<text x="261.3" y="642.8" font-size="5.3" font-family='"Liberation Sans", sans-serif' font-weight="bold" fill="#1a1a1a" text-anchor="end" textLength="41.4" lengthAdjust="spacingAndGlyphs">Hyperammonemia</text>
<rect x="264.4" y="644.95" width="32.0" height="4.3" fill="#5cb84a" stroke="#3a3a3a" stroke-width="0.6"/>
<line x1="262.2" y1="647.1" x2="264.4" y2="647.1" stroke="#333" stroke-width="0.6"/>
<text x="261.3" y="649.0" font-size="5.3" font-family='"Liberation Sans", sans-serif' font-weight="bold" fill="#1a1a1a" text-anchor="end" textLength="40.8" lengthAdjust="spacingAndGlyphs">Encephalopathies</text>
<rect x="264.4" y="651.12" width="27.8" height="4.3" fill="#5cb84a" stroke="#3a3a3a" stroke-width="0.6"/>
<line x1="262.2" y1="653.3" x2="264.4" y2="653.3" stroke="#333" stroke-width="0.6"/>
<text x="261.3" y="655.2" font-size="5.3" font-family='"Liberation Sans", sans-serif' font-weight="bold" fill="#1a1a1a" text-anchor="end" textLength="43.5" lengthAdjust="spacingAndGlyphs">Fatty Liver Disease</text>
<rect x="264.4" y="657.29" width="26.9" height="4.3" fill="#5cb84a" stroke="#3a3a3a" stroke-width="0.6"/>
<line x1="262.2" y1="659.4" x2="264.4" y2="659.4" stroke="#333" stroke-width="0.6"/>
<text x="261.3" y="661.3" font-size="5.3" font-family='"Liberation Sans", sans-serif' font-weight="bold" fill="#1a1a1a" text-anchor="end" textLength="41.0" lengthAdjust="spacingAndGlyphs">Werner Syndrome</text>
<line x1="264.4" y1="664.0" x2="264.4" y2="666.5" stroke="#333" stroke-width="0.6"/>
<text x="264.4" y="673.3" font-size="5.0" font-family='"Liberation Sans", sans-serif' fill="#222" text-anchor="middle">0</text>
<line x1="272.8" y1="664.0" x2="272.8" y2="666.5" stroke="#333" stroke-width="0.6"/>
<text x="272.8" y="673.3" font-size="5.0" font-family='"Liberation Sans", sans-serif' fill="#222" text-anchor="middle">-1</text>
<line x1="281.2" y1="664.0" x2="281.2" y2="666.5" stroke="#333" stroke-width="0.6"/>
<text x="281.2" y="673.3" font-size="5.0" font-family='"Liberation Sans", sans-serif' fill="#222" text-anchor="middle">-2</text>
<line x1="289.7" y1="664.0" x2="289.7" y2="666.5" stroke="#333" stroke-width="0.6"/>
<text x="289.7" y="673.3" font-size="5.0" font-family='"Liberation Sans", sans-serif' fill="#222" text-anchor="middle">-3</text>
<line x1="298.1" y1="664.0" x2="298.1" y2="666.5" stroke="#333" stroke-width="0.6"/>
<text x="298.1" y="673.3" font-size="5.0" font-family='"Liberation Sans", sans-serif' fill="#222" text-anchor="middle">-4</text>
<line x1="306.5" y1="664.0" x2="306.5" y2="666.5" stroke="#333" stroke-width="0.6"/>
<text x="306.5" y="673.3" font-size="5.0" font-family='"Liberation Sans", sans-serif' fill="#222" text-anchor="middle">-5</text>
<line x1="314.9" y1="664.0" x2="314.9" y2="666.5" stroke="#333" stroke-width="0.6"/>
<text x="314.9" y="673.3" font-size="5.0" font-family='"Liberation Sans", sans-serif' fill="#222" text-anchor="middle">-6</text>
<line x1="323.3" y1="664.0" x2="323.3" y2="666.5" stroke="#333" stroke-width="0.6"/>
<text x="323.3" y="673.3" font-size="5.0" font-family='"Liberation Sans", sans-serif' fill="#222" text-anchor="middle">-7</text>
<line x1="331.8" y1="664.0" x2="331.8" y2="666.5" stroke="#333" stroke-width="0.6"/>
<text x="331.8" y="673.3" font-size="5.0" font-family='"Liberation Sans", sans-serif' fill="#222" text-anchor="middle">-8</text>
<line x1="340.2" y1="664.0" x2="340.2" y2="666.5" stroke="#333" stroke-width="0.6"/>
<text x="340.2" y="673.3" font-size="5.0" font-family='"Liberation Sans", sans-serif' fill="#222" text-anchor="middle">-9</text>
<line x1="348.6" y1="664.0" x2="348.6" y2="666.5" stroke="#333" stroke-width="0.6"/>
<text x="348.6" y="673.3" font-size="5.0" font-family='"Liberation Sans", sans-serif' fill="#222" text-anchor="middle">-10</text>
<text x="306.5" y="681.5" font-size="8.6" font-family='"Liberation Sans", sans-serif' font-weight="bold" fill="#222" text-anchor="middle">Log P</text>
<line x1="72.4" y1="697.4" x2="72.4" y2="972.4" stroke="#e2e2e2" stroke-width="0.8"/>
<line x1="47.2" y1="947.4" x2="322.6" y2="947.4" stroke="#e2e2e2" stroke-width="0.8"/>
<line x1="97.4" y1="697.4" x2="97.4" y2="972.4" stroke="#e2e2e2" stroke-width="0.8"/>
<line x1="47.2" y1="922.4" x2="322.6" y2="922.4" stroke="#e2e2e2" stroke-width="0.8"/>
<line x1="122.4" y1="697.4" x2="122.4" y2="972.4" stroke="#e2e2e2" stroke-width="0.8"/>
<line x1="47.2" y1="897.4" x2="322.6" y2="897.4" stroke="#e2e2e2" stroke-width="0.8"/>
<line x1="147.4" y1="697.4" x2="147.4" y2="972.4" stroke="#e2e2e2" stroke-width="0.8"/>
<line x1="47.2" y1="872.4" x2="322.6" y2="872.4" stroke="#e2e2e2" stroke-width="0.8"/>
<line x1="172.4" y1="697.4" x2="172.4" y2="972.4" stroke="#e2e2e2" stroke-width="0.8"/>
<line x1="47.2" y1="847.4" x2="322.6" y2="847.4" stroke="#e2e2e2" stroke-width="0.8"/>
<line x1="197.4" y1="697.4" x2="197.4" y2="972.4" stroke="#e2e2e2" stroke-width="0.8"/>
<line x1="47.2" y1="822.4" x2="322.6" y2="822.4" stroke="#e2e2e2" stroke-width="0.8"/>
<line x1="222.4" y1="697.4" x2="222.4" y2="972.4" stroke="#e2e2e2" stroke-width="0.8"/>
<line x1="47.2" y1="797.4" x2="322.6" y2="797.4" stroke="#e2e2e2" stroke-width="0.8"/>
<line x1="247.4" y1="697.4" x2="247.4" y2="972.4" stroke="#e2e2e2" stroke-width="0.8"/>
<line x1="47.2" y1="772.4" x2="322.6" y2="772.4" stroke="#e2e2e2" stroke-width="0.8"/>
<line x1="272.4" y1="697.4" x2="272.4" y2="972.4" stroke="#e2e2e2" stroke-width="0.8"/>
<line x1="47.2" y1="747.4" x2="322.6" y2="747.4" stroke="#e2e2e2" stroke-width="0.8"/>
<line x1="297.4" y1="697.4" x2="297.4" y2="972.4" stroke="#e2e2e2" stroke-width="0.8"/>
<line x1="47.2" y1="722.4" x2="322.6" y2="722.4" stroke="#e2e2e2" stroke-width="0.8"/>
<line x1="112.4" y1="697.4" x2="112.4" y2="972.4" stroke="#b0b0b0" stroke-width="0.8" stroke-dasharray="2,1.5"/>
<line x1="47.2" y1="907.4" x2="322.6" y2="907.4" stroke="#b0b0b0" stroke-width="0.8" stroke-dasharray="2,1.5"/>
<circle cx="194.0" cy="843.6" r="1.75" fill="#d0d0d0"/>
<circle cx="216.4" cy="843.6" r="1.75" fill="#d0d0d0"/>
<circle cx="216.4" cy="855.6" r="1.75" fill="#d0d0d0"/>
<circle cx="175.6" cy="871.0" r="1.75" fill="#d0d0d0"/>
<circle cx="158.0" cy="878.0" r="1.75" fill="#d0d0d0"/>
<circle cx="162.0" cy="880.8" r="1.75" fill="#d0d0d0"/>
<circle cx="170.0" cy="881.0" r="1.75" fill="#d0d0d0"/>
<circle cx="180.0" cy="892.0" r="1.75" fill="#d0d0d0"/>
<circle cx="190.0" cy="906.0" r="1.75" fill="#d0d0d0"/>
<circle cx="151.0" cy="787.6" r="1.75" fill="#d0d0d0"/>
<circle cx="117.0" cy="830.4" r="1.75" fill="#d0d0d0"/>
<circle cx="120.0" cy="830.4" r="1.75" fill="#d0d0d0"/>
<circle cx="162.4" cy="827.0" r="1.75" fill="#d0d0d0"/>
<circle cx="206.6" cy="815.6" r="1.75" fill="#d0d0d0"/>
<circle cx="148.4" cy="847.4" r="1.75" fill="#d0d0d0"/>
<circle cx="146.0" cy="867.0" r="1.75" fill="#d0d0d0"/>
<circle cx="140.0" cy="867.6" r="1.75" fill="#d0d0d0"/>
<circle cx="162.0" cy="858.0" r="1.75" fill="#d0d0d0"/>
<circle cx="308.6" cy="747.0" r="1.75" fill="#d0d0d0"/>
<circle cx="314.6" cy="762.0" r="1.75" fill="#d0d0d0"/>
<circle cx="256.4" cy="796.4" r="1.75" fill="#d0d0d0"/>
<circle cx="276.0" cy="798.0" r="1.75" fill="#d0d0d0"/>
<circle cx="279.0" cy="804.0" r="1.75" fill="#d0d0d0"/>
<circle cx="218.4" cy="813.0" r="1.75" fill="#d0d0d0"/>
<circle cx="206.0" cy="815.0" r="1.75" fill="#d0d0d0"/>
<circle cx="228.0" cy="888.0" r="1.75" fill="#d0d0d0"/>
<circle cx="92.0" cy="871.0" r="1.75" fill="#d0d0d0"/>
<circle cx="84.0" cy="876.0" r="1.75" fill="#d0d0d0"/>
<circle cx="101.0" cy="864.0" r="1.75" fill="#d0d0d0"/>
<circle cx="77.0" cy="859.5" r="1.75" fill="#d0d0d0"/>
<circle cx="72.0" cy="883.0" r="1.75" fill="#d0d0d0"/>
<circle cx="90.0" cy="889.0" r="1.75" fill="#d0d0d0"/>
<circle cx="69.0" cy="896.0" r="1.75" fill="#d0d0d0"/>
<circle cx="98.0" cy="904.0" r="1.75" fill="#d0d0d0"/>
<circle cx="104.0" cy="906.0" r="1.75" fill="#d0d0d0"/>
<circle cx="118.6" cy="892.2" r="1.75" fill="#d0d0d0"/>
<circle cx="119.0" cy="904.6" r="1.75" fill="#d0d0d0"/>
<circle cx="108.4" cy="903.1" r="1.75" fill="#d0d0d0"/>
<circle cx="139.1" cy="893.5" r="1.75" fill="#d0d0d0"/>
<circle cx="138.0" cy="896.2" r="1.75" fill="#d0d0d0"/>
<circle cx="128.3" cy="897.1" r="1.75" fill="#d0d0d0"/>
<circle cx="97.4" cy="887.1" r="1.75" fill="#d0d0d0"/>
<circle cx="130.0" cy="892.4" r="1.75" fill="#d0d0d0"/>
<circle cx="97.0" cy="926.1" r="1.75" fill="#d0d0d0"/>
<circle cx="109.1" cy="906.9" r="1.75" fill="#d0d0d0"/>
<circle cx="127.0" cy="900.6" r="1.75" fill="#d0d0d0"/>
<circle cx="130.2" cy="909.5" r="1.75" fill="#d0d0d0"/>
<circle cx="127.0" cy="894.0" r="1.75" fill="#d0d0d0"/>
<circle cx="112.5" cy="874.1" r="1.75" fill="#d0d0d0"/>
<circle cx="130.7" cy="881.9" r="1.75" fill="#d0d0d0"/>
<circle cx="113.1" cy="911.0" r="1.75" fill="#d0d0d0"/>
<circle cx="117.2" cy="901.5" r="1.75" fill="#d0d0d0"/>
<circle cx="131.9" cy="896.2" r="1.75" fill="#d0d0d0"/>
<circle cx="115.7" cy="914.3" r="1.75" fill="#d0d0d0"/>
<circle cx="114.6" cy="881.6" r="1.75" fill="#d0d0d0"/>
<circle cx="110.3" cy="896.2" r="1.75" fill="#d0d0d0"/>
<circle cx="128.8" cy="922.2" r="1.75" fill="#d0d0d0"/>
<circle cx="123.1" cy="880.3" r="1.75" fill="#d0d0d0"/>
<circle cx="92.2" cy="904.7" r="1.75" fill="#d0d0d0"/>
<circle cx="120.8" cy="912.2" r="1.75" fill="#d0d0d0"/>
<circle cx="129.9" cy="900.8" r="1.75" fill="#d0d0d0"/>
<circle cx="100.4" cy="887.5" r="1.75" fill="#d0d0d0"/>
<circle cx="132.4" cy="885.7" r="1.75" fill="#d0d0d0"/>
<circle cx="144.0" cy="894.5" r="1.75" fill="#d0d0d0"/>
<circle cx="124.2" cy="919.4" r="1.75" fill="#d0d0d0"/>
<circle cx="131.6" cy="909.1" r="1.75" fill="#d0d0d0"/>
<circle cx="115.6" cy="918.9" r="1.75" fill="#d0d0d0"/>
<circle cx="107.9" cy="907.9" r="1.75" fill="#d0d0d0"/>
<circle cx="141.7" cy="930.4" r="1.75" fill="#d0d0d0"/>
<circle cx="100.5" cy="896.3" r="1.75" fill="#d0d0d0"/>
<circle cx="144.1" cy="891.2" r="1.75" fill="#d0d0d0"/>
<circle cx="127.8" cy="910.9" r="1.75" fill="#d0d0d0"/>
<circle cx="105.6" cy="885.2" r="1.75" fill="#d0d0d0"/>
<circle cx="138.9" cy="897.5" r="1.75" fill="#d0d0d0"/>
<circle cx="126.1" cy="893.4" r="1.75" fill="#d0d0d0"/>
<circle cx="146.3" cy="890.6" r="1.75" fill="#d0d0d0"/>
<circle cx="130.2" cy="891.7" r="1.75" fill="#d0d0d0"/>
<circle cx="98.9" cy="880.7" r="1.75" fill="#d0d0d0"/>
<circle cx="136.7" cy="892.0" r="1.75" fill="#d0d0d0"/>
<circle cx="92.8" cy="909.4" r="1.75" fill="#d0d0d0"/>
<circle cx="135.0" cy="927.1" r="1.75" fill="#d0d0d0"/>
<circle cx="119.6" cy="884.6" r="1.75" fill="#d0d0d0"/>
<circle cx="102.7" cy="875.7" r="1.75" fill="#d0d0d0"/>
<circle cx="130.7" cy="902.2" r="1.75" fill="#d0d0d0"/>
<circle cx="127.3" cy="890.2" r="1.75" fill="#d0d0d0"/>
<circle cx="124.2" cy="882.7" r="1.75" fill="#d0d0d0"/>
<circle cx="112.5" cy="906.1" r="1.75" fill="#d0d0d0"/>
<circle cx="138.0" cy="899.5" r="1.75" fill="#d0d0d0"/>
<circle cx="109.2" cy="885.7" r="1.75" fill="#d0d0d0"/>
<circle cx="144.4" cy="906.6" r="1.75" fill="#d0d0d0"/>
<circle cx="101.7" cy="901.9" r="1.75" fill="#d0d0d0"/>
<circle cx="120.2" cy="904.4" r="1.75" fill="#d0d0d0"/>
<circle cx="143.5" cy="915.3" r="1.75" fill="#d0d0d0"/>
<circle cx="141.3" cy="918.9" r="1.75" fill="#d0d0d0"/>
<circle cx="110.6" cy="890.4" r="1.75" fill="#d0d0d0"/>
<circle cx="139.3" cy="887.0" r="1.75" fill="#d0d0d0"/>
<circle cx="127.6" cy="897.8" r="1.75" fill="#d0d0d0"/>
<circle cx="124.7" cy="891.3" r="1.75" fill="#d0d0d0"/>
<circle cx="119.8" cy="895.7" r="1.75" fill="#d0d0d0"/>
<circle cx="131.0" cy="899.9" r="1.75" fill="#d0d0d0"/>
<circle cx="133.9" cy="891.4" r="1.75" fill="#d0d0d0"/>
<circle cx="152.6" cy="895.0" r="1.75" fill="#d0d0d0"/>
<circle cx="116.0" cy="905.5" r="1.75" fill="#d0d0d0"/>
<circle cx="122.2" cy="886.0" r="1.75" fill="#d0d0d0"/>
<circle cx="117.4" cy="894.1" r="1.75" fill="#d0d0d0"/>
<circle cx="105.5" cy="896.2" r="1.75" fill="#d0d0d0"/>
<circle cx="128.4" cy="896.3" r="1.75" fill="#d0d0d0"/>
<circle cx="115.9" cy="890.1" r="1.75" fill="#d0d0d0"/>
<circle cx="126.6" cy="907.7" r="1.75" fill="#d0d0d0"/>
<circle cx="158.9" cy="894.6" r="1.75" fill="#d0d0d0"/>
<circle cx="114.1" cy="901.4" r="1.75" fill="#d0d0d0"/>
<circle cx="119.0" cy="900.8" r="1.75" fill="#d0d0d0"/>
<circle cx="137.5" cy="917.4" r="1.75" fill="#d0d0d0"/>
<circle cx="121.4" cy="885.6" r="1.75" fill="#d0d0d0"/>
<circle cx="135.2" cy="877.5" r="1.75" fill="#d0d0d0"/>
<circle cx="96.9" cy="905.2" r="1.75" fill="#d0d0d0"/>
<circle cx="117.3" cy="890.6" r="1.75" fill="#d0d0d0"/>
<circle cx="138.7" cy="921.6" r="1.75" fill="#d0d0d0"/>
<circle cx="132.6" cy="922.3" r="1.75" fill="#d0d0d0"/>
<circle cx="125.0" cy="882.0" r="1.75" fill="#d0d0d0"/>
<circle cx="120.2" cy="897.0" r="1.75" fill="#d0d0d0"/>
<circle cx="134.4" cy="897.8" r="1.75" fill="#d0d0d0"/>
<circle cx="121.1" cy="876.9" r="1.75" fill="#d0d0d0"/>
<circle cx="138.1" cy="904.3" r="1.75" fill="#d0d0d0"/>
<circle cx="136.1" cy="903.9" r="1.75" fill="#d0d0d0"/>
<circle cx="124.4" cy="889.3" r="1.75" fill="#d0d0d0"/>
<circle cx="125.7" cy="890.3" r="1.75" fill="#d0d0d0"/>
<circle cx="99.5" cy="922.5" r="1.75" fill="#d0d0d0"/>
<circle cx="131.6" cy="914.3" r="1.75" fill="#d0d0d0"/>
<circle cx="107.0" cy="922.0" r="1.75" fill="#d0d0d0"/>
<circle cx="141.4" cy="888.7" r="1.75" fill="#d0d0d0"/>
<circle cx="144.5" cy="914.0" r="1.75" fill="#d0d0d0"/>
<circle cx="122.4" cy="917.0" r="1.75" fill="#d0d0d0"/>
<circle cx="133.9" cy="876.1" r="1.75" fill="#d0d0d0"/>
<circle cx="109.0" cy="876.5" r="1.75" fill="#d0d0d0"/>
<circle cx="137.2" cy="902.6" r="1.75" fill="#d0d0d0"/>
<circle cx="92.8" cy="878.8" r="1.75" fill="#d0d0d0"/>
<circle cx="121.0" cy="908.9" r="1.75" fill="#d0d0d0"/>
<circle cx="128.4" cy="893.8" r="1.75" fill="#d0d0d0"/>
<circle cx="144.9" cy="915.2" r="1.75" fill="#d0d0d0"/>
<circle cx="139.4" cy="877.6" r="1.75" fill="#d0d0d0"/>
<circle cx="144.2" cy="902.6" r="1.75" fill="#d0d0d0"/>
<circle cx="111.2" cy="884.6" r="1.75" fill="#d0d0d0"/>
<circle cx="124.1" cy="898.0" r="1.75" fill="#d0d0d0"/>
<circle cx="143.8" cy="903.9" r="1.75" fill="#d0d0d0"/>
<circle cx="87.9" cy="905.7" r="1.75" fill="#d0d0d0"/>
<circle cx="94.6" cy="887.6" r="1.75" fill="#d0d0d0"/>
<circle cx="127.2" cy="909.1" r="1.75" fill="#d0d0d0"/>
<circle cx="122.3" cy="887.4" r="1.75" fill="#d0d0d0"/>
<circle cx="123.6" cy="880.0" r="1.75" fill="#d0d0d0"/>
<line x1="47.2" y1="972.4" x2="322.6" y2="697.4" stroke="#111" stroke-width="1.1" stroke-dasharray="2.4,1.8"/>
<rect x="47.2" y="697.4" width="275.4" height="275" fill="none" stroke="#000" stroke-width="2.6"/>
<line x1="41.0" y1="972.4" x2="47.2" y2="972.4" stroke="#000" stroke-width="2.4"/>
<line x1="322.6" y1="972.4" x2="329.0" y2="972.4" stroke="#000" stroke-width="2.4"/>
<line x1="47.4" y1="697.4" x2="47.4" y2="691.0" stroke="#000" stroke-width="2.4"/>
<line x1="47.4" y1="972.4" x2="47.4" y2="978.8" stroke="#000" stroke-width="2.4"/>
<text x="39.5" y="975.6" font-size="8.6" font-family='"Liberation Sans", sans-serif' font-weight="bold" fill="#111" text-anchor="end">-0.5</text>
<text x="47.4" y="989.5" font-size="8.6" font-family='"Liberation Sans", sans-serif' font-weight="bold" fill="#111" text-anchor="middle">-0.5</text>
<line x1="41.0" y1="947.4" x2="47.2" y2="947.4" stroke="#000" stroke-width="2.4"/>
<line x1="322.6" y1="947.4" x2="329.0" y2="947.4" stroke="#000" stroke-width="2.4"/>
<line x1="72.4" y1="697.4" x2="72.4" y2="691.0" stroke="#000" stroke-width="2.4"/>
<line x1="72.4" y1="972.4" x2="72.4" y2="978.8" stroke="#000" stroke-width="2.4"/>
<text x="39.5" y="950.6" font-size="8.6" font-family='"Liberation Sans", sans-serif' font-weight="bold" fill="#111" text-anchor="end">0.0</text>
<text x="72.4" y="989.5" font-size="8.6" font-family='"Liberation Sans", sans-serif' font-weight="bold" fill="#111" text-anchor="middle">0.0</text>
<line x1="41.0" y1="922.4" x2="47.2" y2="922.4" stroke="#000" stroke-width="2.4"/>
<line x1="322.6" y1="922.4" x2="329.0" y2="922.4" stroke="#000" stroke-width="2.4"/>
<line x1="97.4" y1="697.4" x2="97.4" y2="691.0" stroke="#000" stroke-width="2.4"/>
<line x1="97.4" y1="972.4" x2="97.4" y2="978.8" stroke="#000" stroke-width="2.4"/>
<text x="39.5" y="925.6" font-size="8.6" font-family='"Liberation Sans", sans-serif' font-weight="bold" fill="#111" text-anchor="end">0.5</text>
<text x="97.4" y="989.5" font-size="8.6" font-family='"Liberation Sans", sans-serif' font-weight="bold" fill="#111" text-anchor="middle">0.5</text>
<line x1="41.0" y1="897.4" x2="47.2" y2="897.4" stroke="#000" stroke-width="2.4"/>
<line x1="322.6" y1="897.4" x2="329.0" y2="897.4" stroke="#000" stroke-width="2.4"/>
<line x1="122.4" y1="697.4" x2="122.4" y2="691.0" stroke="#000" stroke-width="2.4"/>
<line x1="122.4" y1="972.4" x2="122.4" y2="978.8" stroke="#000" stroke-width="2.4"/>
<text x="39.5" y="900.6" font-size="8.6" font-family='"Liberation Sans", sans-serif' font-weight="bold" fill="#111" text-anchor="end">1.0</text>
<text x="122.4" y="989.5" font-size="8.6" font-family='"Liberation Sans", sans-serif' font-weight="bold" fill="#111" text-anchor="middle">1.0</text>
<line x1="41.0" y1="872.4" x2="47.2" y2="872.4" stroke="#000" stroke-width="2.4"/>
<line x1="322.6" y1="872.4" x2="329.0" y2="872.4" stroke="#000" stroke-width="2.4"/>
<line x1="147.4" y1="697.4" x2="147.4" y2="691.0" stroke="#000" stroke-width="2.4"/>
<line x1="147.4" y1="972.4" x2="147.4" y2="978.8" stroke="#000" stroke-width="2.4"/>
<text x="39.5" y="875.6" font-size="8.6" font-family='"Liberation Sans", sans-serif' font-weight="bold" fill="#111" text-anchor="end">1.5</text>
<text x="147.4" y="989.5" font-size="8.6" font-family='"Liberation Sans", sans-serif' font-weight="bold" fill="#111" text-anchor="middle">1.5</text>
<line x1="41.0" y1="847.4" x2="47.2" y2="847.4" stroke="#000" stroke-width="2.4"/>
<line x1="322.6" y1="847.4" x2="329.0" y2="847.4" stroke="#000" stroke-width="2.4"/>
<line x1="172.4" y1="697.4" x2="172.4" y2="691.0" stroke="#000" stroke-width="2.4"/>
<line x1="172.4" y1="972.4" x2="172.4" y2="978.8" stroke="#000" stroke-width="2.4"/>
<text x="39.5" y="850.6" font-size="8.6" font-family='"Liberation Sans", sans-serif' font-weight="bold" fill="#111" text-anchor="end">2.0</text>
<text x="172.4" y="989.5" font-size="8.6" font-family='"Liberation Sans", sans-serif' font-weight="bold" fill="#111" text-anchor="middle">2.0</text>
<line x1="41.0" y1="822.4" x2="47.2" y2="822.4" stroke="#000" stroke-width="2.4"/>
<line x1="322.6" y1="822.4" x2="329.0" y2="822.4" stroke="#000" stroke-width="2.4"/>
<line x1="197.4" y1="697.4" x2="197.4" y2="691.0" stroke="#000" stroke-width="2.4"/>
<line x1="197.4" y1="972.4" x2="197.4" y2="978.8" stroke="#000" stroke-width="2.4"/>
<text x="39.5" y="825.6" font-size="8.6" font-family='"Liberation Sans", sans-serif' font-weight="bold" fill="#111" text-anchor="end">2.5</text>
<text x="197.4" y="989.5" font-size="8.6" font-family='"Liberation Sans", sans-serif' font-weight="bold" fill="#111" text-anchor="middle">2.5</text>
<line x1="41.0" y1="797.4" x2="47.2" y2="797.4" stroke="#000" stroke-width="2.4"/>
<line x1="322.6" y1="797.4" x2="329.0" y2="797.4" stroke="#000" stroke-width="2.4"/>
<line x1="222.4" y1="697.4" x2="222.4" y2="691.0" stroke="#000" stroke-width="2.4"/>
<line x1="222.4" y1="972.4" x2="222.4" y2="978.8" stroke="#000" stroke-width="2.4"/>
<text x="39.5" y="800.6" font-size="8.6" font-family='"Liberation Sans", sans-serif' font-weight="bold" fill="#111" text-anchor="end">3.0</text>
<text x="222.4" y="989.5" font-size="8.6" font-family='"Liberation Sans", sans-serif' font-weight="bold" fill="#111" text-anchor="middle">3.0</text>
<line x1="41.0" y1="772.4" x2="47.2" y2="772.4" stroke="#000" stroke-width="2.4"/>
<line x1="322.6" y1="772.4" x2="329.0" y2="772.4" stroke="#000" stroke-width="2.4"/>
<line x1="247.4" y1="697.4" x2="247.4" y2="691.0" stroke="#000" stroke-width="2.4"/>
<line x1="247.4" y1="972.4" x2="247.4" y2="978.8" stroke="#000" stroke-width="2.4"/>
<text x="39.5" y="775.6" font-size="8.6" font-family='"Liberation Sans", sans-serif' font-weight="bold" fill="#111" text-anchor="end">3.5</text>
<text x="247.4" y="989.5" font-size="8.6" font-family='"Liberation Sans", sans-serif' font-weight="bold" fill="#111" text-anchor="middle">3.5</text>
<line x1="41.0" y1="747.4" x2="47.2" y2="747.4" stroke="#000" stroke-width="2.4"/>
<line x1="322.6" y1="747.4" x2="329.0" y2="747.4" stroke="#000" stroke-width="2.4"/>
<line x1="272.4" y1="697.4" x2="272.4" y2="691.0" stroke="#000" stroke-width="2.4"/>
<line x1="272.4" y1="972.4" x2="272.4" y2="978.8" stroke="#000" stroke-width="2.4"/>
<text x="39.5" y="750.6" font-size="8.6" font-family='"Liberation Sans", sans-serif' font-weight="bold" fill="#111" text-anchor="end">4.0</text>
<text x="272.4" y="989.5" font-size="8.6" font-family='"Liberation Sans", sans-serif' font-weight="bold" fill="#111" text-anchor="middle">4.0</text>
<line x1="41.0" y1="722.4" x2="47.2" y2="722.4" stroke="#000" stroke-width="2.4"/>
<line x1="322.6" y1="722.4" x2="329.0" y2="722.4" stroke="#000" stroke-width="2.4"/>
<line x1="297.4" y1="697.4" x2="297.4" y2="691.0" stroke="#000" stroke-width="2.4"/>
<line x1="297.4" y1="972.4" x2="297.4" y2="978.8" stroke="#000" stroke-width="2.4"/>
<text x="39.5" y="725.6" font-size="8.6" font-family='"Liberation Sans", sans-serif' font-weight="bold" fill="#111" text-anchor="end">4.5</text>
<text x="297.4" y="989.5" font-size="8.6" font-family='"Liberation Sans", sans-serif' font-weight="bold" fill="#111" text-anchor="middle">4.5</text>
<line x1="41.0" y1="697.4" x2="47.2" y2="697.4" stroke="#000" stroke-width="2.4"/>
<line x1="322.6" y1="697.4" x2="329.0" y2="697.4" stroke="#000" stroke-width="2.4"/>
<line x1="322.4" y1="697.4" x2="322.4" y2="691.0" stroke="#000" stroke-width="2.4"/>
<line x1="322.4" y1="972.4" x2="322.4" y2="978.8" stroke="#000" stroke-width="2.4"/>
<text x="39.5" y="700.6" font-size="8.6" font-family='"Liberation Sans", sans-serif' font-weight="bold" fill="#111" text-anchor="end">5.0</text>
<text x="322.4" y="989.5" font-size="8.6" font-family='"Liberation Sans", sans-serif' font-weight="bold" fill="#111" text-anchor="middle">5.0</text>
<text x="185" y="1002.6" font-family='"Liberation Sans", sans-serif' font-weight="bold" font-size="12.4" fill="#111" text-anchor="middle">ID1-VPS35 (FC<tspan font-size="8.8" dy="3">log2</tspan><tspan dy="-3">)</tspan></text>
<text transform="translate(18,836.7) rotate(-90)" x="0" y="0" font-family='"Liberation Sans", sans-serif' font-weight="bold" font-size="12.2" fill="#111" text-anchor="middle">VPS35-ID1 (FC<tspan font-size="8.6" dy="2.7">log2</tspan><tspan dy="-2.7">)</tspan></text>
<circle cx="170.0" cy="771.6" r="2.85" fill="#e62e2b"/>
<circle cx="206.0" cy="774.0" r="2.85" fill="#e62e2b"/>
<circle cx="162.4" cy="779.4" r="2.85" fill="#e62e2b"/>
<circle cx="192.0" cy="796.4" r="2.85" fill="#e62e2b"/>
<circle cx="140.0" cy="806.4" r="2.85" fill="#e62e2b"/>
<circle cx="108.4" cy="827.6" r="2.85" fill="#e62e2b"/>
<circle cx="285.6" cy="787.6" r="2.85" fill="#e62e2b"/>
<circle cx="307.0" cy="806.4" r="2.85" fill="#e62e2b"/>
<circle cx="77.6" cy="859.0" r="2.85" fill="#e62e2b"/>
<circle cx="81.6" cy="866.0" r="2.85" fill="#e62e2b"/>
<circle cx="65.0" cy="873.0" r="2.85" fill="#e62e2b"/>
<circle cx="94.4" cy="880.0" r="2.85" fill="#e62e2b"/>
<circle cx="98.6" cy="880.0" r="2.85" fill="#e62e2b"/>
<circle cx="78.4" cy="906.4" r="2.85" fill="#e62e2b"/>
<circle cx="126.4" cy="911.6" r="2.85" fill="#e62e2b"/>
<circle cx="141.0" cy="919.4" r="2.85" fill="#e62e2b"/>
<circle cx="124.2" cy="919.9" r="2.85" fill="#e62e2b"/>
<circle cx="125.5" cy="924.0" r="2.85" fill="#e62e2b"/>
<circle cx="113.3" cy="938.8" r="2.85" fill="#e62e2b"/>
<circle cx="161.0" cy="902.4" r="2.85" fill="#e62e2b"/>
<circle cx="154.4" cy="887.4" r="2.85" fill="#e62e2b"/>
<circle cx="164.0" cy="867.4" r="2.85" fill="#e62e2b"/>
<circle cx="176.4" cy="877.4" r="2.85" fill="#e62e2b"/>
<circle cx="174.0" cy="911.0" r="2.85" fill="#e62e2b"/>
<circle cx="203.4" cy="904.0" r="2.85" fill="#e62e2b"/>
<circle cx="203.4" cy="917.0" r="2.85" fill="#e62e2b"/>
<circle cx="242.4" cy="875.6" r="2.85" fill="#e62e2b"/>
<circle cx="230.0" cy="882.6" r="2.85" fill="#e62e2b"/>
<circle cx="162.0" cy="933.0" r="2.85" fill="#e62e2b"/>
<circle cx="173.6" cy="942.0" r="2.85" fill="#e62e2b"/>
<circle cx="292.9" cy="920.6" r="2.85" fill="#e62e2b"/>
<line x1="77.0" y1="843.0" x2="77.8" y2="856.0" stroke="#222" stroke-width="0.9"/>
<line x1="88.0" y1="858.0" x2="83.0" y2="864.0" stroke="#222" stroke-width="0.9"/>
<line x1="64.0" y1="877.0" x2="65.0" y2="875.5" stroke="#222" stroke-width="0.9"/>
<line x1="94.4" y1="882.5" x2="94.4" y2="893.0" stroke="#222" stroke-width="0.9"/>
<line x1="84.0" y1="876.0" x2="95.0" y2="865.6" stroke="#222" stroke-width="0.9"/>
<line x1="174.0" y1="911.0" x2="184.0" y2="922.0" stroke="#222" stroke-width="0.9"/>
<line x1="162.0" y1="936.0" x2="162.0" y2="946.0" stroke="#222" stroke-width="0.9"/>
<line x1="126.0" y1="921.0" x2="133.0" y2="925.5" stroke="#222" stroke-width="0.9"/>
<line x1="125.0" y1="927.0" x2="124.0" y2="932.5" stroke="#222" stroke-width="0.9"/>
<text x="128.4" y="770.0" font-size="8.4" font-family='"Liberation Serif", serif' font-weight="bold" fill="#2a2a2a" textLength="38.0" lengthAdjust="spacingAndGlyphs">WASHC2C</text>
<text x="179.6" y="770.0" font-size="8.4" font-family='"Liberation Serif", serif' font-weight="bold" fill="#2a2a2a" textLength="32.4" lengthAdjust="spacingAndGlyphs">WASHC3</text>
<text x="121.0" y="781.6" font-size="8.4" font-family='"Liberation Serif", serif' font-weight="bold" fill="#2a2a2a" textLength="38.0" lengthAdjust="spacingAndGlyphs">WASHC2A</text>
<text x="156.0" y="794.0" font-size="8.4" font-family='"Liberation Serif", serif' font-weight="bold" fill="#2a2a2a" textLength="37.0" lengthAdjust="spacingAndGlyphs">DENND4C</text>
<text x="107.0" y="806.0" font-size="8.4" font-family='"Liberation Serif", serif' font-weight="bold" fill="#2a2a2a" textLength="32.0" lengthAdjust="spacingAndGlyphs">WASH2P</text>
<text x="77.6" y="827.6" font-size="8.4" font-family='"Liberation Serif", serif' font-weight="bold" fill="#2a2a2a" textLength="27.4" lengthAdjust="spacingAndGlyphs">FKBP15</text>
<text x="291.0" y="790.5" font-size="8.4" font-family='"Liberation Serif", serif' font-weight="bold" fill="#2a2a2a" textLength="29.0" lengthAdjust="spacingAndGlyphs">TBC1D5</text>
<text x="287.0" y="816.4" font-size="8.4" font-family='"Liberation Serif", serif' font-weight="bold" fill="#2a2a2a" textLength="31.6" lengthAdjust="spacingAndGlyphs">SLC30A4</text>
<text x="50.4" y="841.0" font-size="8.4" font-family='"Liberation Serif", serif' font-weight="bold" fill="#2a2a2a" textLength="29.6" lengthAdjust="spacingAndGlyphs">CCDC93</text>
<text x="88.4" y="858.0" font-size="8.4" font-family='"Liberation Serif", serif' font-weight="bold" fill="#2a2a2a" textLength="33.2" lengthAdjust="spacingAndGlyphs">DNAJC13</text>
<text x="49.0" y="885.0" font-size="8.4" font-family='"Liberation Serif", serif' font-weight="bold" fill="#2a2a2a" textLength="29.0" lengthAdjust="spacingAndGlyphs">CCDC22</text>
<text x="100.0" y="878.4" font-size="8.4" font-family='"Liberation Serif", serif' font-weight="bold" fill="#2a2a2a" textLength="32.4" lengthAdjust="spacingAndGlyphs">WASHC4</text>
<text x="85.0" y="900.0" font-size="8.4" font-family='"Liberation Serif", serif' font-weight="bold" fill="#2a2a2a" textLength="32.0" lengthAdjust="spacingAndGlyphs">WASHC5</text>
<text x="50.4" y="916.0" font-size="8.4" font-family='"Liberation Serif", serif' font-weight="bold" fill="#2a2a2a" textLength="25.6" lengthAdjust="spacingAndGlyphs">CAPZB</text>
<text x="129.4" y="912.0" font-size="8.4" font-family='"Liberation Serif", serif' font-weight="bold" fill="#2a2a2a" textLength="18.6" lengthAdjust="spacingAndGlyphs">SNX2</text>
<text x="144.0" y="923.0" font-size="8.4" font-family='"Liberation Serif", serif' font-weight="bold" fill="#2a2a2a" textLength="32.0" lengthAdjust="spacingAndGlyphs">SLC38A1</text>
<text x="130.4" y="930.8" font-size="8.4" font-family='"Liberation Serif", serif' font-weight="bold" fill="#2a2a2a" textLength="28.4" lengthAdjust="spacingAndGlyphs">STEAP3</text>
<text x="123.0" y="940.3" font-size="8.4" font-family='"Liberation Serif", serif' font-weight="bold" fill="#2a2a2a" textLength="23.4" lengthAdjust="spacingAndGlyphs">ATP7A</text>
<text x="97.2" y="949.3" font-size="8.4" font-family='"Liberation Serif", serif' font-weight="bold" fill="#2a2a2a" textLength="34.6" lengthAdjust="spacingAndGlyphs">ARFGEF1</text>
<text x="169.0" y="870.0" font-size="8.4" font-family='"Liberation Serif", serif' font-weight="bold" fill="#2a2a2a" textLength="25.4" lengthAdjust="spacingAndGlyphs">CLCN7</text>
<text x="181.6" y="880.0" font-size="8.4" font-family='"Liberation Serif", serif' font-weight="bold" fill="#2a2a2a" textLength="36.4" lengthAdjust="spacingAndGlyphs">ARHGAP1</text>
<text x="159.0" y="890.0" font-size="8.4" font-family='"Liberation Serif", serif' font-weight="bold" fill="#2a2a2a" textLength="36.0" lengthAdjust="spacingAndGlyphs">SLC22A18</text>
<text x="161.6" y="899.6" font-size="8.4" font-family='"Liberation Serif", serif' font-weight="bold" fill="#2a2a2a" textLength="27.4" lengthAdjust="spacingAndGlyphs">ATP2A3</text>
<text x="205.0" y="902.4" font-size="8.4" font-family='"Liberation Serif", serif' font-weight="bold" fill="#2a2a2a" textLength="32.0" lengthAdjust="spacingAndGlyphs">SLC12A4</text>
<text x="176.0" y="928.0" font-size="8.4" font-family='"Liberation Serif", serif' font-weight="bold" fill="#2a2a2a" textLength="23.0" lengthAdjust="spacingAndGlyphs">SNX30</text>
<text x="207.0" y="922.4" font-size="8.4" font-family='"Liberation Serif", serif' font-weight="bold" fill="#2a2a2a" textLength="26.0" lengthAdjust="spacingAndGlyphs">VAMP3</text>
<text x="247.6" y="878.4" font-size="8.4" font-family='"Liberation Serif", serif' font-weight="bold" fill="#2a2a2a" textLength="18.4" lengthAdjust="spacingAndGlyphs">SNX3</text>
<text x="235.0" y="885.6" font-size="8.4" font-family='"Liberation Serif", serif' font-weight="bold" fill="#2a2a2a" textLength="19.0" lengthAdjust="spacingAndGlyphs">SNX6</text>
<text x="157.0" y="954.0" font-size="8.4" font-family='"Liberation Serif", serif' font-weight="bold" fill="#2a2a2a" textLength="19.0" lengthAdjust="spacingAndGlyphs">SNX5</text>
<text x="176.0" y="940.0" font-size="8.4" font-family='"Liberation Serif", serif' font-weight="bold" fill="#2a2a2a" textLength="20.0" lengthAdjust="spacingAndGlyphs">TFRC</text>
<text x="288.0" y="915.5" font-size="8.4" font-family='"Liberation Serif", serif' font-weight="bold" fill="#2a2a2a" textLength="27.0" lengthAdjust="spacingAndGlyphs">RAB7A</text>
<rect x="571.6" y="70.4" width="100.8" height="364.6" fill="none" stroke="#9a9a9a" stroke-width="0.9"/>
<text transform="translate(575.2,68.5) rotate(90)" x="0" y="0" font-family='"Liberation Sans", sans-serif' font-size="8.2" fill="#222" text-anchor="end" textLength="32.3" lengthAdjust="spacingAndGlyphs">MITO-ID1</text>
<text transform="translate(587.8,68.5) rotate(90)" x="0" y="0" font-family='"Liberation Sans", sans-serif' font-size="8.2" fill="#222" text-anchor="end" textLength="50.4" lengthAdjust="spacingAndGlyphs">ID1-HRS(HGS)</text>
<text transform="translate(600.3,68.5) rotate(90)" x="0" y="0" font-family='"Liberation Sans", sans-serif' font-size="8.2" fill="#222" text-anchor="end" textLength="36.9" lengthAdjust="spacingAndGlyphs">ID1-VPS35</text>
<text transform="translate(612.9,68.5) rotate(90)" x="0" y="0" font-family='"Liberation Sans", sans-serif' font-size="8.2" fill="#222" text-anchor="end" textLength="36.9" lengthAdjust="spacingAndGlyphs">VPS35-ID1</text>
<text transform="translate(625.5,68.5) rotate(90)" x="0" y="0" font-family='"Liberation Sans", sans-serif' font-size="8.2" fill="#222" text-anchor="end" textLength="41.0" lengthAdjust="spacingAndGlyphs">ID1-VPS35L</text>
<text transform="translate(638.1,68.5) rotate(90)" x="0" y="0" font-family='"Liberation Sans", sans-serif' font-size="8.2" fill="#222" text-anchor="end" textLength="41.0" lengthAdjust="spacingAndGlyphs">VPS35L-ID1</text>
<text transform="translate(650.6,68.5) rotate(90)" x="0" y="0" font-family='"Liberation Sans", sans-serif' font-size="8.2" fill="#222" text-anchor="end" textLength="37.3" lengthAdjust="spacingAndGlyphs">ID1-SNX17</text>
<text transform="translate(663.2,68.5) rotate(90)" x="0" y="0" font-family='"Liberation Sans", sans-serif' font-size="8.2" fill="#222" text-anchor="end" textLength="37.3" lengthAdjust="spacingAndGlyphs">ID1-SNX27</text>
<text x="570.0" y="80.1" font-size="8.2" font-family='"Liberation Sans", sans-serif' fill="#222" text-anchor="end" textLength="23.0" lengthAdjust="spacingAndGlyphs">VPS35</text>
<circle cx="578.1" cy="77.2" r="1.00" fill="#4f7fd6"/>
<circle cx="590.7" cy="77.2" r="1.05" fill="#111"/>
<circle cx="603.2" cy="77.2" r="5.18" fill="#e42a29" stroke="#111111" stroke-width="1.3"/>
<circle cx="615.8" cy="77.2" r="4.10" fill="#e84444" stroke="#111111" stroke-width="1.3"/>
<circle cx="641.0" cy="77.2" r="0.90" fill="#9cb3e6"/>
<circle cx="653.5" cy="77.2" r="1.00" fill="#4f7fd6"/>
<circle cx="666.1" cy="77.2" r="1.05" fill="#111"/>
<text x="570.0" y="92.7" font-size="8.2" font-family='"Liberation Sans", sans-serif' fill="#222" text-anchor="end" textLength="27.1" lengthAdjust="spacingAndGlyphs">VPS35L</text>
<circle cx="590.7" cy="89.8" r="1.05" fill="#111"/>
<circle cx="603.2" cy="89.8" r="1.05" fill="#111"/>
<circle cx="615.8" cy="89.8" r="1.00" fill="#4f7fd6"/>
<circle cx="628.4" cy="89.8" r="4.97" fill="#e84444" stroke="#111111" stroke-width="1.3"/>
<circle cx="641.0" cy="89.8" r="5.18" fill="#e84444" stroke="#111111" stroke-width="1.3"/>
<circle cx="653.5" cy="89.8" r="1.40" fill="#111111"/>
<circle cx="666.1" cy="89.8" r="1.05" fill="#111"/>
<text x="570.0" y="105.2" font-size="8.2" font-family='"Liberation Sans", sans-serif' fill="#222" text-anchor="end" textLength="27.9" lengthAdjust="spacingAndGlyphs">VPS26A</text>
<circle cx="578.1" cy="102.3" r="1.00" fill="#4f7fd6"/>
<circle cx="590.7" cy="102.3" r="1.05" fill="#111"/>
<circle cx="603.2" cy="102.3" r="5.18" fill="#e42a29" stroke="#111111" stroke-width="1.3"/>
<circle cx="615.8" cy="102.3" r="3.99" fill="#e84444" stroke="#111111" stroke-width="1.3"/>
<circle cx="628.4" cy="102.3" r="1.00" fill="#4f7fd6"/>
<circle cx="641.0" cy="102.3" r="1.00" fill="#4f7fd6"/>
<circle cx="653.5" cy="102.3" r="1.00" fill="#4f7fd6"/>
<circle cx="666.1" cy="102.3" r="1.00" fill="#4f7fd6"/>
<text x="570.0" y="117.8" font-size="8.2" font-family='"Liberation Sans", sans-serif' fill="#222" text-anchor="end" textLength="27.9" lengthAdjust="spacingAndGlyphs">VPS26B</text>
<circle cx="578.1" cy="114.9" r="1.05" fill="#111"/>
<circle cx="590.7" cy="114.9" r="1.00" fill="#4f7fd6"/>
<circle cx="603.2" cy="114.9" r="5.07" fill="#e84444" stroke="#111111" stroke-width="1.3"/>
<circle cx="615.8" cy="114.9" r="3.99" fill="#ea5f5f" stroke="#111111" stroke-width="1.3"/>
<circle cx="628.4" cy="114.9" r="1.00" fill="#4f7fd6"/>
<circle cx="641.0" cy="114.9" r="0.90" fill="#9cb3e6"/>
<circle cx="653.5" cy="114.9" r="1.00" fill="#4f7fd6"/>
<circle cx="666.1" cy="114.9" r="1.00" fill="#4f7fd6"/>
<text x="570.0" y="130.3" font-size="8.2" font-family='"Liberation Sans", sans-serif' fill="#222" text-anchor="end" textLength="28.3" lengthAdjust="spacingAndGlyphs">VPS26C</text>
<circle cx="578.1" cy="127.4" r="1.00" fill="#4f7fd6"/>
<circle cx="590.7" cy="127.4" r="1.40" fill="#4d7fd4"/>
<circle cx="603.2" cy="127.4" r="1.98" fill="#f09c9c" stroke="#111111" stroke-width="1.0"/>
<circle cx="615.8" cy="127.4" r="1.30" fill="#111111"/>
<circle cx="628.4" cy="127.4" r="4.10" fill="#ed7f7f" stroke="#111111" stroke-width="1.3"/>
<circle cx="641.0" cy="127.4" r="5.07" fill="#e84444" stroke="#111111" stroke-width="1.3"/>
<circle cx="653.5" cy="127.4" r="1.98" fill="#f09c9c" stroke="#111111" stroke-width="1.0"/>
<circle cx="666.1" cy="127.4" r="1.66" fill="#ffffff" stroke="#2f5fc0" stroke-width="1.0"/>
<text x="570.0" y="142.8" font-size="8.2" font-family='"Liberation Sans", sans-serif' fill="#222" text-anchor="end" textLength="23.0" lengthAdjust="spacingAndGlyphs">VPS29</text>
<circle cx="578.1" cy="139.9" r="1.00" fill="#4f7fd6"/>
<circle cx="590.7" cy="139.9" r="1.00" fill="#4f7fd6"/>
<circle cx="603.2" cy="139.9" r="5.07" fill="#e42a29" stroke="#111111" stroke-width="1.3"/>
<circle cx="615.8" cy="139.9" r="3.99" fill="#ea5f5f" stroke="#111111" stroke-width="1.3"/>
<circle cx="628.4" cy="139.9" r="1.00" fill="#4f7fd6"/>
<circle cx="641.0" cy="139.9" r="0.90" fill="#9cb3e6"/>
<circle cx="653.5" cy="139.9" r="1.05" fill="#111"/>
<text x="570.0" y="155.4" font-size="8.2" font-family='"Liberation Sans", sans-serif' fill="#222" text-anchor="end" textLength="19.3" lengthAdjust="spacingAndGlyphs">SNX1</text>
<circle cx="578.1" cy="152.5" r="1.66" fill="#ffffff" stroke="#111111" stroke-width="1.0"/>
<circle cx="590.7" cy="152.5" r="2.37" fill="#c6d4ef" stroke="#111111" stroke-width="1.3"/>
<circle cx="603.2" cy="152.5" r="2.91" fill="#f09c9c" stroke="#111111" stroke-width="1.3"/>
<circle cx="615.8" cy="152.5" r="2.91" fill="#f09c9c" stroke="#111111" stroke-width="1.3"/>
<circle cx="628.4" cy="152.5" r="1.44" fill="#ffffff" stroke="#111111" stroke-width="1.0"/>
<circle cx="641.0" cy="152.5" r="1.00" fill="#4f7fd6"/>
<circle cx="653.5" cy="152.5" r="1.00" fill="#4f7fd6"/>
<circle cx="666.1" cy="152.5" r="5.07" fill="#ea5f5f" stroke="#111111" stroke-width="1.3"/>
<text x="570.0" y="168.0" font-size="8.2" font-family='"Liberation Sans", sans-serif' fill="#222" text-anchor="end" textLength="19.3" lengthAdjust="spacingAndGlyphs">SNX2</text>
<circle cx="578.1" cy="165.1" r="2.09" fill="#ffffff" stroke="#111111" stroke-width="1.0"/>
<circle cx="590.7" cy="165.1" r="2.91" fill="#c6d4ef" stroke="#111111" stroke-width="1.3"/>
<circle cx="603.2" cy="165.1" r="3.45" fill="#f5c6c6" stroke="#111111" stroke-width="1.3"/>
<circle cx="615.8" cy="165.1" r="2.37" fill="#f5c6c6" stroke="#111111" stroke-width="1.3"/>
<circle cx="628.4" cy="165.1" r="2.20" fill="#ffffff" stroke="#8ea8e4" stroke-width="1.0"/>
<circle cx="641.0" cy="165.1" r="1.00" fill="#4f7fd6"/>
<circle cx="653.5" cy="165.1" r="1.12" fill="#c6d4ef" stroke="#2f5fc0" stroke-width="1.0"/>
<circle cx="666.1" cy="165.1" r="5.18" fill="#f09c9c" stroke="#111111" stroke-width="1.3"/>
<text x="570.0" y="180.5" font-size="8.2" font-family='"Liberation Sans", sans-serif' fill="#222" text-anchor="end" textLength="19.3" lengthAdjust="spacingAndGlyphs">SNX3</text>
<circle cx="578.1" cy="177.6" r="1.00" fill="#4f7fd6"/>
<circle cx="590.7" cy="177.6" r="1.88" fill="#f09c9c" stroke="#111111" stroke-width="1.0"/>
<circle cx="603.2" cy="177.6" r="5.07" fill="#e84444" stroke="#111111" stroke-width="1.3"/>
<circle cx="615.8" cy="177.6" r="1.98" fill="#f09c9c" stroke="#111111" stroke-width="1.0"/>
<circle cx="628.4" cy="177.6" r="1.00" fill="#4f7fd6"/>
<circle cx="641.0" cy="177.6" r="0.90" fill="#9cb3e6"/>
<circle cx="653.5" cy="177.6" r="1.66" fill="#ed7f7f" stroke="#111111" stroke-width="1.0"/>
<circle cx="666.1" cy="177.6" r="4.21" fill="#ea5f5f" stroke="#111111" stroke-width="1.3"/>
<text x="570.0" y="193.1" font-size="8.2" font-family='"Liberation Sans", sans-serif' fill="#222" text-anchor="end" textLength="19.3" lengthAdjust="spacingAndGlyphs">SNX5</text>
<circle cx="578.1" cy="190.2" r="1.44" fill="#ffffff" stroke="#2f5fc0" stroke-width="1.0"/>
<circle cx="590.7" cy="190.2" r="2.20" fill="#c6d4ef" stroke="#111111" stroke-width="1.0"/>
<circle cx="603.2" cy="190.2" r="5.07" fill="#f09c9c" stroke="#111111" stroke-width="1.3"/>
<circle cx="615.8" cy="190.2" r="1.40" fill="#9fb6e6"/>
<circle cx="628.4" cy="190.2" r="1.98" fill="#c6d4ef" stroke="#8ea8e4" stroke-width="1.0"/>
<circle cx="641.0" cy="190.2" r="1.94" fill="#9fb6e6"/>
<circle cx="653.5" cy="190.2" r="1.98" fill="#c6d4ef" stroke="#8ea8e4" stroke-width="1.0"/>
<circle cx="666.1" cy="190.2" r="1.98" fill="#f09c9c" stroke="#111111" stroke-width="1.0"/>
<text x="570.0" y="205.6" font-size="8.2" font-family='"Liberation Sans", sans-serif' fill="#222" text-anchor="end" textLength="19.3" lengthAdjust="spacingAndGlyphs">SNX6</text>
<circle cx="578.1" cy="202.7" r="1.05" fill="#111"/>
<circle cx="590.7" cy="202.7" r="1.05" fill="#111"/>
<circle cx="603.2" cy="202.7" r="5.07" fill="#ea5f5f" stroke="#111111" stroke-width="1.3"/>
<circle cx="615.8" cy="202.7" r="1.98" fill="#f09c9c" stroke="#111111" stroke-width="1.0"/>
<circle cx="628.4" cy="202.7" r="1.05" fill="#111"/>
<circle cx="641.0" cy="202.7" r="1.05" fill="#111"/>
<circle cx="653.5" cy="202.7" r="1.00" fill="#4f7fd6"/>
<circle cx="666.1" cy="202.7" r="3.67" fill="#ed7f7f" stroke="#111111" stroke-width="1.3"/>
<text x="570.0" y="218.2" font-size="8.2" font-family='"Liberation Sans", sans-serif' fill="#222" text-anchor="end" textLength="23.4" lengthAdjust="spacingAndGlyphs">SNX17</text>
<circle cx="578.1" cy="215.2" r="1.05" fill="#111"/>
<circle cx="590.7" cy="215.2" r="1.05" fill="#111"/>
<circle cx="628.4" cy="215.2" r="1.00" fill="#4f7fd6"/>
<circle cx="641.0" cy="215.2" r="1.00" fill="#4f7fd6"/>
<circle cx="653.5" cy="215.2" r="5.07" fill="#e42a29" stroke="#111111" stroke-width="1.3"/>
<circle cx="666.1" cy="215.2" r="1.05" fill="#111"/>
<text x="570.0" y="230.7" font-size="8.2" font-family='"Liberation Sans", sans-serif' fill="#222" text-anchor="end" textLength="23.4" lengthAdjust="spacingAndGlyphs">SNX27</text>
<circle cx="578.1" cy="227.8" r="1.00" fill="#4f7fd6"/>
<circle cx="590.7" cy="227.8" r="0.90" fill="#9cb3e6"/>
<circle cx="603.2" cy="227.8" r="1.00" fill="#4f7fd6"/>
<circle cx="615.8" cy="227.8" r="1.00" fill="#4f7fd6"/>
<circle cx="628.4" cy="227.8" r="1.00" fill="#4f7fd6"/>
<circle cx="641.0" cy="227.8" r="0.90" fill="#9cb3e6"/>
<circle cx="653.5" cy="227.8" r="0.90" fill="#9cb3e6"/>
<circle cx="666.1" cy="227.8" r="5.07" fill="#e42a29" stroke="#111111" stroke-width="1.3"/>
<text x="570.0" y="243.3" font-size="8.2" font-family='"Liberation Sans", sans-serif' fill="#222" text-anchor="end" textLength="23.4" lengthAdjust="spacingAndGlyphs">SNX29</text>
<circle cx="578.1" cy="240.4" r="1.05" fill="#111"/>
<circle cx="590.7" cy="240.4" r="1.05" fill="#111"/>
<circle cx="603.2" cy="240.4" r="1.88" fill="#f5c6c6" stroke="#111111" stroke-width="1.0"/>
<circle cx="615.8" cy="240.4" r="4.21" fill="#ed7f7f" stroke="#111111" stroke-width="1.3"/>
<circle cx="628.4" cy="240.4" r="0.90" fill="#9cb3e6"/>
<circle cx="641.0" cy="240.4" r="0.90" fill="#9cb3e6"/>
<circle cx="653.5" cy="240.4" r="1.44" fill="#ffffff" stroke="#111111" stroke-width="1.0"/>
<circle cx="666.1" cy="240.4" r="5.07" fill="#ed7f7f" stroke="#111111" stroke-width="1.3"/>
<text x="570.0" y="255.8" font-size="8.2" font-family='"Liberation Sans", sans-serif' fill="#222" text-anchor="end" textLength="23.4" lengthAdjust="spacingAndGlyphs">SNX30</text>
<circle cx="578.1" cy="252.9" r="0.90" fill="#9cb3e6"/>
<circle cx="590.7" cy="252.9" r="0.90" fill="#9cb3e6"/>
<circle cx="603.2" cy="252.9" r="5.07" fill="#f09c9c" stroke="#111111" stroke-width="1.3"/>
<circle cx="615.8" cy="252.9" r="1.88" fill="#f5c6c6" stroke="#111111" stroke-width="1.0"/>
<circle cx="628.4" cy="252.9" r="1.00" fill="#4f7fd6"/>
<circle cx="641.0" cy="252.9" r="1.00" fill="#4f7fd6"/>
<circle cx="653.5" cy="252.9" r="1.00" fill="#4f7fd6"/>
<circle cx="666.1" cy="252.9" r="1.51" fill="#9fb6e6"/>
<text x="570.0" y="268.3" font-size="8.2" font-family='"Liberation Sans", sans-serif' fill="#222" text-anchor="end" textLength="29.5" lengthAdjust="spacingAndGlyphs">CCDC93</text>
<circle cx="578.1" cy="265.4" r="1.00" fill="#4f7fd6"/>
<circle cx="590.7" cy="265.4" r="1.05" fill="#111"/>
<circle cx="603.2" cy="265.4" r="0.90" fill="#9cb3e6"/>
<circle cx="615.8" cy="265.4" r="3.67" fill="#f09c9c" stroke="#111111" stroke-width="1.3"/>
<circle cx="628.4" cy="265.4" r="5.07" fill="#f09c9c" stroke="#111111" stroke-width="1.3"/>
<circle cx="641.0" cy="265.4" r="3.99" fill="#ed7f7f" stroke="#111111" stroke-width="1.3"/>
<circle cx="653.5" cy="265.4" r="1.00" fill="#4f7fd6"/>
<circle cx="666.1" cy="265.4" r="1.44" fill="#ffffff" stroke="#111111" stroke-width="1.0"/>
<text x="570.0" y="280.9" font-size="8.2" font-family='"Liberation Sans", sans-serif' fill="#222" text-anchor="end" textLength="29.5" lengthAdjust="spacingAndGlyphs">CCDC22</text>
<circle cx="578.1" cy="278.0" r="1.44" fill="#ffffff" stroke="#111111" stroke-width="1.0"/>
<circle cx="590.7" cy="278.0" r="1.00" fill="#4f7fd6"/>
<circle cx="603.2" cy="278.0" r="1.00" fill="#4f7fd6"/>
<circle cx="615.8" cy="278.0" r="4.21" fill="#f09c9c" stroke="#111111" stroke-width="1.3"/>
<circle cx="628.4" cy="278.0" r="5.07" fill="#f09c9c" stroke="#111111" stroke-width="1.3"/>
<circle cx="641.0" cy="278.0" r="4.75" fill="#f09c9c" stroke="#111111" stroke-width="1.3"/>
<circle cx="653.5" cy="278.0" r="1.12" fill="#ffffff" stroke="#8ea8e4" stroke-width="1.0"/>
<circle cx="666.1" cy="278.0" r="1.51" fill="#9fb6e6"/>
<text x="570.0" y="293.4" font-size="8.2" font-family='"Liberation Sans", sans-serif' fill="#222" text-anchor="end" textLength="30.9" lengthAdjust="spacingAndGlyphs">WASH2P</text>
<circle cx="578.1" cy="290.6" r="1.00" fill="#4f7fd6"/>
<circle cx="590.7" cy="290.6" r="1.05" fill="#111"/>
<circle cx="603.2" cy="290.6" r="2.31" fill="#f09c9c" stroke="#111111" stroke-width="1.0"/>
<circle cx="615.8" cy="290.6" r="5.07" fill="#ea5f5f" stroke="#111111" stroke-width="1.3"/>
<circle cx="628.4" cy="290.6" r="3.13" fill="#ed7f7f" stroke="#111111" stroke-width="1.3"/>
<circle cx="641.0" cy="290.6" r="3.45" fill="#ed7f7f" stroke="#111111" stroke-width="1.3"/>
<circle cx="653.5" cy="290.6" r="1.00" fill="#4f7fd6"/>
<circle cx="666.1" cy="290.6" r="4.53" fill="#ea5f5f" stroke="#111111" stroke-width="1.3"/>
<text x="570.0" y="306.0" font-size="8.2" font-family='"Liberation Sans", sans-serif' fill="#222" text-anchor="end" textLength="36.2" lengthAdjust="spacingAndGlyphs">WASHC2A</text>
<circle cx="578.1" cy="303.1" r="1.05" fill="#111"/>
<circle cx="590.7" cy="303.1" r="1.34" fill="#ffffff" stroke="#111111" stroke-width="1.0"/>
<circle cx="603.2" cy="303.1" r="2.59" fill="#ed7f7f" stroke="#111111" stroke-width="1.3"/>
<circle cx="615.8" cy="303.1" r="5.07" fill="#e84444" stroke="#111111" stroke-width="1.3"/>
<circle cx="628.4" cy="303.1" r="3.67" fill="#ea5f5f" stroke="#111111" stroke-width="1.3"/>
<circle cx="641.0" cy="303.1" r="4.21" fill="#e84444" stroke="#111111" stroke-width="1.3"/>
<circle cx="653.5" cy="303.1" r="1.05" fill="#111"/>
<circle cx="666.1" cy="303.1" r="4.75" fill="#e84444" stroke="#111111" stroke-width="1.3"/>
<text x="570.0" y="318.6" font-size="8.2" font-family='"Liberation Sans", sans-serif' fill="#222" text-anchor="end" textLength="36.6" lengthAdjust="spacingAndGlyphs">WASHC2C</text>
<circle cx="578.1" cy="315.7" r="1.05" fill="#111"/>
<circle cx="590.7" cy="315.7" r="1.34" fill="#ffffff" stroke="#111111" stroke-width="1.0"/>
<circle cx="603.2" cy="315.7" r="2.59" fill="#ed7f7f" stroke="#111111" stroke-width="1.3"/>
<circle cx="615.8" cy="315.7" r="5.18" fill="#e84444" stroke="#111111" stroke-width="1.3"/>
<circle cx="628.4" cy="315.7" r="3.67" fill="#ea5f5f" stroke="#111111" stroke-width="1.3"/>
<circle cx="641.0" cy="315.7" r="4.21" fill="#e84444" stroke="#111111" stroke-width="1.3"/>
<circle cx="653.5" cy="315.7" r="1.00" fill="#4f7fd6"/>
<circle cx="666.1" cy="315.7" r="4.75" fill="#e84444" stroke="#111111" stroke-width="1.3"/>
<text x="570.0" y="331.1" font-size="8.2" font-family='"Liberation Sans", sans-serif' fill="#222" text-anchor="end" textLength="31.3" lengthAdjust="spacingAndGlyphs">WASHC4</text>
<circle cx="578.1" cy="328.2" r="1.00" fill="#4f7fd6"/>
<circle cx="590.7" cy="328.2" r="0.90" fill="#9cb3e6"/>
<circle cx="603.2" cy="328.2" r="1.88" fill="#f5c6c6" stroke="#111111" stroke-width="1.0"/>
<circle cx="615.8" cy="328.2" r="4.75" fill="#f09c9c" stroke="#111111" stroke-width="1.3"/>
<circle cx="628.4" cy="328.2" r="1.44" fill="#ffffff" stroke="#111111" stroke-width="1.0"/>
<circle cx="641.0" cy="328.2" r="2.20" fill="#f5c6c6" stroke="#111111" stroke-width="1.0"/>
<circle cx="653.5" cy="328.2" r="0.90" fill="#9cb3e6"/>
<circle cx="666.1" cy="328.2" r="5.07" fill="#f09c9c" stroke="#111111" stroke-width="1.3"/>
<text x="570.0" y="343.6" font-size="8.2" font-family='"Liberation Sans", sans-serif' fill="#222" text-anchor="end" textLength="31.3" lengthAdjust="spacingAndGlyphs">WASHC5</text>
<circle cx="578.1" cy="340.8" r="1.00" fill="#4f7fd6"/>
<circle cx="590.7" cy="340.8" r="0.90" fill="#9cb3e6"/>
<circle cx="603.2" cy="340.8" r="1.66" fill="#ffffff" stroke="#111111" stroke-width="1.0"/>
<circle cx="615.8" cy="340.8" r="4.97" fill="#f09c9c" stroke="#111111" stroke-width="1.3"/>
<circle cx="628.4" cy="340.8" r="1.88" fill="#ffffff" stroke="#111111" stroke-width="1.0"/>
<circle cx="641.0" cy="340.8" r="2.37" fill="#f5c6c6" stroke="#111111" stroke-width="1.3"/>
<circle cx="653.5" cy="340.8" r="1.00" fill="#4f7fd6"/>
<circle cx="666.1" cy="340.8" r="5.07" fill="#f09c9c" stroke="#111111" stroke-width="1.3"/>
<text x="570.0" y="356.2" font-size="8.2" font-family='"Liberation Sans", sans-serif' fill="#222" text-anchor="end" textLength="31.3" lengthAdjust="spacingAndGlyphs">WASHC3</text>
<circle cx="578.1" cy="353.3" r="1.44" fill="#ffffff" stroke="#2f5fc0" stroke-width="1.0"/>
<circle cx="590.7" cy="353.3" r="1.12" fill="#c6d4ef" stroke="#8ea8e4" stroke-width="1.0"/>
<circle cx="603.2" cy="353.3" r="3.45" fill="#ea5f5f" stroke="#111111" stroke-width="1.3"/>
<circle cx="615.8" cy="353.3" r="5.07" fill="#e84444" stroke="#8ea8e4" stroke-width="1.3"/>
<circle cx="628.4" cy="353.3" r="3.99" fill="#e84444" stroke="#111111" stroke-width="1.3"/>
<circle cx="641.0" cy="353.3" r="4.53" fill="#e84444" stroke="#2f5fc0" stroke-width="1.3"/>
<circle cx="653.5" cy="353.3" r="2.31" fill="#ed7f7f" stroke="#111111" stroke-width="1.0"/>
<circle cx="666.1" cy="353.3" r="5.07" fill="#e84444" stroke="#2f5fc0" stroke-width="1.3"/>
<text x="570.0" y="368.8" font-size="8.2" font-family='"Liberation Sans", sans-serif' fill="#222" text-anchor="end" textLength="24.2" lengthAdjust="spacingAndGlyphs">RAB7A</text>
<circle cx="578.1" cy="365.9" r="1.05" fill="#111"/>
<circle cx="590.7" cy="365.9" r="0.90" fill="#9cb3e6"/>
<circle cx="603.2" cy="365.9" r="5.07" fill="#e42a29" stroke="#111111" stroke-width="1.3"/>
<circle cx="615.8" cy="365.9" r="1.05" fill="#111"/>
<circle cx="628.4" cy="365.9" r="1.00" fill="#4f7fd6"/>
<circle cx="641.0" cy="365.9" r="1.00" fill="#4f7fd6"/>
<circle cx="653.5" cy="365.9" r="1.05" fill="#111"/>
<circle cx="666.1" cy="365.9" r="1.12" fill="#ffffff" stroke="#111111" stroke-width="1.0"/>
<text x="570.0" y="381.3" font-size="8.2" font-family='"Liberation Sans", sans-serif' fill="#222" text-anchor="end" textLength="27.5" lengthAdjust="spacingAndGlyphs">FKBP15</text>
<circle cx="578.1" cy="378.4" r="1.05" fill="#111"/>
<circle cx="590.7" cy="378.4" r="1.23" fill="#ffffff" stroke="#111111" stroke-width="1.0"/>
<circle cx="603.2" cy="378.4" r="1.34" fill="#ffffff" stroke="#111111" stroke-width="1.0"/>
<circle cx="615.8" cy="378.4" r="4.75" fill="#ed7f7f" stroke="#111111" stroke-width="1.3"/>
<circle cx="628.4" cy="378.4" r="1.34" fill="#ffffff" stroke="#111111" stroke-width="1.0"/>
<circle cx="641.0" cy="378.4" r="1.88" fill="#f5c6c6" stroke="#111111" stroke-width="1.0"/>
<circle cx="653.5" cy="378.4" r="1.00" fill="#4f7fd6"/>
<circle cx="666.1" cy="378.4" r="2.20" fill="#f09c9c" stroke="#111111" stroke-width="1.0"/>
<text x="570.0" y="393.8" font-size="8.2" font-family='"Liberation Sans", sans-serif' fill="#222" text-anchor="end" textLength="24.6" lengthAdjust="spacingAndGlyphs">CAPZB</text>
<circle cx="578.1" cy="390.9" r="2.91" fill="#c6d4ef" stroke="#111111" stroke-width="1.3"/>
<circle cx="590.7" cy="390.9" r="4.21" fill="#c6d4ef" stroke="#111111" stroke-width="1.3"/>
<circle cx="603.2" cy="390.9" r="1.40" fill="#4d7fd4"/>
<circle cx="615.8" cy="390.9" r="4.75" fill="#f5c6c6" stroke="#111111" stroke-width="1.3"/>
<circle cx="628.4" cy="390.9" r="1.40" fill="#9fb6e6"/>
<circle cx="641.0" cy="390.9" r="1.40" fill="#4d7fd4"/>
<circle cx="653.5" cy="390.9" r="2.20" fill="#ffffff" stroke="#111111" stroke-width="1.0"/>
<circle cx="666.1" cy="390.9" r="4.75" fill="#f5c6c6" stroke="#111111" stroke-width="1.3"/>
<text x="570.0" y="406.4" font-size="8.2" font-family='"Liberation Sans", sans-serif' fill="#222" text-anchor="end" textLength="28.3" lengthAdjust="spacingAndGlyphs">TBC1D5</text>
<circle cx="578.1" cy="403.5" r="0.90" fill="#9cb3e6"/>
<circle cx="590.7" cy="403.5" r="1.00" fill="#4f7fd6"/>
<circle cx="603.2" cy="403.5" r="4.75" fill="#e42a29" stroke="#111111" stroke-width="1.3"/>
<circle cx="615.8" cy="403.5" r="3.45" fill="#e84444" stroke="#111111" stroke-width="1.3"/>
<circle cx="628.4" cy="403.5" r="0.90" fill="#9cb3e6"/>
<circle cx="641.0" cy="403.5" r="1.00" fill="#4f7fd6"/>
<circle cx="653.5" cy="403.5" r="1.00" fill="#4f7fd6"/>
<circle cx="666.1" cy="403.5" r="1.44" fill="#f09c9c" stroke="#111111" stroke-width="1.0"/>
<text x="570.0" y="418.9" font-size="8.2" font-family='"Liberation Sans", sans-serif' fill="#222" text-anchor="end" textLength="32.8" lengthAdjust="spacingAndGlyphs">DNAJC13</text>
<circle cx="578.1" cy="416.1" r="1.23" fill="#ffffff" stroke="#111111" stroke-width="1.0"/>
<circle cx="590.7" cy="416.1" r="1.01" fill="#ffffff" stroke="#111111" stroke-width="1.0"/>
<circle cx="603.2" cy="416.1" r="1.05" fill="#111"/>
<circle cx="615.8" cy="416.1" r="4.75" fill="#f09c9c" stroke="#111111" stroke-width="1.3"/>
<circle cx="628.4" cy="416.1" r="0.90" fill="#9cb3e6"/>
<circle cx="641.0" cy="416.1" r="1.34" fill="#ffffff" stroke="#111111" stroke-width="1.0"/>
<circle cx="653.5" cy="416.1" r="0.90" fill="#9cb3e6"/>
<circle cx="666.1" cy="416.1" r="2.20" fill="#f5c6c6" stroke="#111111" stroke-width="1.0"/>
<text x="570.0" y="431.5" font-size="8.2" font-family='"Liberation Sans", sans-serif' fill="#222" text-anchor="end" textLength="34.0" lengthAdjust="spacingAndGlyphs">ANKRD50</text>
<circle cx="578.1" cy="428.6" r="1.05" fill="#111"/>
<circle cx="590.7" cy="428.6" r="1.44" fill="#c6d4ef" stroke="#111111" stroke-width="1.0"/>
<circle cx="603.2" cy="428.6" r="1.34" fill="#f5c6c6" stroke="#111111" stroke-width="1.0"/>
<circle cx="615.8" cy="428.6" r="1.05" fill="#111"/>
<circle cx="628.4" cy="428.6" r="0.90" fill="#9cb3e6"/>
<circle cx="641.0" cy="428.6" r="1.00" fill="#4f7fd6"/>
<circle cx="666.1" cy="428.6" r="4.64" fill="#ed7f7f" stroke="#111111" stroke-width="1.3"/>
<defs><linearGradient id="fcg" x1="0" x2="1" y1="0" y2="0"><stop offset="0" stop-color="#2f54a8"/><stop offset="0.25" stop-color="#7d8fc9"/><stop offset="0.5" stop-color="#ffffff"/><stop offset="0.75" stop-color="#ef9c8c"/><stop offset="1" stop-color="#dd3226"/></linearGradient></defs>
<rect x="465.0" y="25.0" width="67.0" height="9.0" fill="url(#fcg)"/>
<text x="498.0" y="22.0" font-size="5.5" font-family='"Liberation Sans", sans-serif' fill="#333" text-anchor="middle">FC</text>
<text x="464.0" y="40.0" font-size="5.3" font-family='"Liberation Sans", sans-serif' fill="#333" text-anchor="middle">-4.5</text>
<text x="531.0" y="40.0" font-size="5.3" font-family='"Liberation Sans", sans-serif' fill="#333" text-anchor="middle">4.5</text>
<circle cx="480.5" cy="55.0" r="2.80" fill="#e62e2b"/>
<line x1="484.0" y1="55.0" x2="505.0" y2="55.0" stroke="#111" stroke-width="1.1"/>
<path d="M504,53 L508,55 L504,57 Z" fill="#111"/>
<circle cx="513.5" cy="55.0" r="5.40" fill="#e62e2b"/>
<text x="498.0" y="67.5" font-size="5.5" font-family='"Liberation Sans", sans-serif' fill="#333" text-anchor="middle">Relative FC</text>
<circle cx="471.6" cy="89.0" r="6.00" fill="none" stroke="#111" stroke-width="2.6"/>
<circle cx="496.5" cy="89.0" r="6.00" fill="none" stroke="#2556b4" stroke-width="2.6"/>
<circle cx="520.5" cy="89.0" r="6.00" fill="none" stroke="#7592d6" stroke-width="2.6"/>
<text x="471.6" y="101.5" font-size="5.3" font-family='"Liberation Sans", sans-serif' fill="#333" text-anchor="middle">≤ 0.05</text>
<text x="496.5" y="101.5" font-size="5.3" font-family='"Liberation Sans", sans-serif' fill="#333" text-anchor="middle">≤ 0.1</text>
<text x="520.5" y="101.5" font-size="5.3" font-family='"Liberation Sans", sans-serif' fill="#333" text-anchor="middle">&gt; 0.1</text>
<text x="496.5" y="111.5" font-size="5.5" font-family='"Liberation Sans", sans-serif' fill="#333" text-anchor="middle">pValue</text>
<path d="M423.8,699.4 L399.6,699.4 L399.6,1005 L423.8,1005" fill="none" stroke="#9a9a9a" stroke-width="0.9"/>
<text transform="translate(402.6,661.5) rotate(90)" x="0" y="0" font-family='"Liberation Sans", sans-serif' font-size="8.2" fill="#222" textLength="36.9" lengthAdjust="spacingAndGlyphs">ID1-VPS35</text>
<text transform="translate(415.3,661.5) rotate(90)" x="0" y="0" font-family='"Liberation Sans", sans-serif' font-size="8.2" fill="#222" textLength="36.9" lengthAdjust="spacingAndGlyphs">VPS35-ID1</text>
<text x="398.0" y="709.2" font-size="8.2" font-family='"Liberation Sans", sans-serif' fill="#222" text-anchor="end" textLength="19.3" lengthAdjust="spacingAndGlyphs">SNX1</text>
<circle cx="405.5" cy="706.3" r="2.59" fill="#f09c9c" stroke="#111111" stroke-width="1.3"/>
<circle cx="418.2" cy="706.3" r="2.81" fill="#ed7f7f" stroke="#111111" stroke-width="1.3"/>
<text x="398.0" y="721.4" font-size="8.2" font-family='"Liberation Sans", sans-serif' fill="#222" text-anchor="end" textLength="19.3" lengthAdjust="spacingAndGlyphs">SNX2</text>
<circle cx="405.5" cy="718.5" r="3.45" fill="#f5c6c6" stroke="#111111" stroke-width="1.3"/>
<circle cx="418.2" cy="718.5" r="2.09" fill="#f5c6c6" stroke="#111111" stroke-width="1.0"/>
<text x="398.0" y="733.7" font-size="8.2" font-family='"Liberation Sans", sans-serif' fill="#222" text-anchor="end" textLength="19.3" lengthAdjust="spacingAndGlyphs">SNX3</text>
<circle cx="405.5" cy="730.8" r="5.07" fill="#e84444" stroke="#111111" stroke-width="1.3"/>
<circle cx="418.2" cy="730.8" r="1.88" fill="#ed7f7f" stroke="#111111" stroke-width="1.0"/>
<text x="398.0" y="745.9" font-size="8.2" font-family='"Liberation Sans", sans-serif' fill="#222" text-anchor="end" textLength="19.3" lengthAdjust="spacingAndGlyphs">SNX5</text>
<circle cx="405.5" cy="743.0" r="4.86" fill="#ed7f7f" stroke="#111111" stroke-width="1.3"/>
<circle cx="418.2" cy="743.0" r="1.00" fill="#4f7fd6"/>
<text x="398.0" y="758.2" font-size="8.2" font-family='"Liberation Sans", sans-serif' fill="#222" text-anchor="end" textLength="19.3" lengthAdjust="spacingAndGlyphs">SNX6</text>
<circle cx="405.5" cy="755.3" r="4.86" fill="#e84444" stroke="#111111" stroke-width="1.3"/>
<circle cx="418.2" cy="755.3" r="1.66" fill="#ed7f7f" stroke="#111111" stroke-width="1.0"/>
<text x="398.0" y="770.4" font-size="8.2" font-family='"Liberation Sans", sans-serif' fill="#222" text-anchor="end" textLength="19.3" lengthAdjust="spacingAndGlyphs">SNX8</text>
<circle cx="405.5" cy="767.5" r="4.86" fill="#f5c6c6" stroke="#111111" stroke-width="1.3"/>
<circle cx="418.2" cy="767.5" r="2.37" fill="#ffffff" stroke="#2f5fc0" stroke-width="1.3"/>
<text x="398.0" y="782.6" font-size="8.2" font-family='"Liberation Sans", sans-serif' fill="#222" text-anchor="end" textLength="23.4" lengthAdjust="spacingAndGlyphs">SNX29</text>
<circle cx="405.5" cy="779.7" r="1.44" fill="#ffffff" stroke="#111111" stroke-width="1.0"/>
<circle cx="418.2" cy="779.7" r="4.32" fill="#ed7f7f" stroke="#111111" stroke-width="1.3"/>
<text x="398.0" y="794.9" font-size="8.2" font-family='"Liberation Sans", sans-serif' fill="#222" text-anchor="end" textLength="23.4" lengthAdjust="spacingAndGlyphs">SNX30</text>
<circle cx="405.5" cy="792.0" r="4.32" fill="#ed7f7f" stroke="#111111" stroke-width="1.3"/>
<circle cx="418.2" cy="792.0" r="1.44" fill="#ffffff" stroke="#111111" stroke-width="1.0"/>
<text x="398.0" y="807.1" font-size="8.2" font-family='"Liberation Sans", sans-serif' fill="#222" text-anchor="end" textLength="24.2" lengthAdjust="spacingAndGlyphs">RAB7A</text>
<circle cx="405.5" cy="804.2" r="4.86" fill="#e42a29" stroke="#111111" stroke-width="1.3"/>
<circle cx="418.2" cy="804.2" r="1.05" fill="#111"/>
<text x="398.0" y="819.4" font-size="8.2" font-family='"Liberation Sans", sans-serif' fill="#222" text-anchor="end" textLength="28.3" lengthAdjust="spacingAndGlyphs">TBC1D5</text>
<circle cx="405.5" cy="816.5" r="5.07" fill="#e42a29" stroke="#111111" stroke-width="1.3"/>
<circle cx="418.2" cy="816.5" r="3.35" fill="#e84444" stroke="#111111" stroke-width="1.3"/>
<text x="398.0" y="831.6" font-size="8.2" font-family='"Liberation Sans", sans-serif' fill="#222" text-anchor="end" textLength="24.5" lengthAdjust="spacingAndGlyphs">VAMP3</text>
<circle cx="405.5" cy="828.7" r="4.53" fill="#ea5f5f" stroke="#111111" stroke-width="1.3"/>
<circle cx="418.2" cy="828.7" r="1.05" fill="#111"/>
<text x="398.0" y="843.8" font-size="8.2" font-family='"Liberation Sans", sans-serif' fill="#222" text-anchor="end" textLength="31.6" lengthAdjust="spacingAndGlyphs">SLC12A4</text>
<circle cx="405.5" cy="840.9" r="4.53" fill="#ea5f5f" stroke="#111111" stroke-width="1.3"/>
<circle cx="418.2" cy="840.9" r="1.23" fill="#ffffff" stroke="#111111" stroke-width="1.0"/>
<text x="398.0" y="856.1" font-size="8.2" font-family='"Liberation Sans", sans-serif' fill="#222" text-anchor="end" textLength="31.6" lengthAdjust="spacingAndGlyphs">SLC30A4</text>
<circle cx="405.5" cy="853.2" r="4.86" fill="#e42a29" stroke="#111111" stroke-width="1.3"/>
<circle cx="418.2" cy="853.2" r="2.91" fill="#ea5f5f" stroke="#111111" stroke-width="1.3"/>
<text x="398.0" y="868.3" font-size="8.2" font-family='"Liberation Sans", sans-serif' fill="#222" text-anchor="end" textLength="24.2" lengthAdjust="spacingAndGlyphs">CLCN7</text>
<circle cx="405.5" cy="865.4" r="4.86" fill="#ed7f7f" stroke="#111111" stroke-width="1.3"/>
<circle cx="418.2" cy="865.4" r="4.10" fill="#f09c9c" stroke="#111111" stroke-width="1.3"/>
<text x="398.0" y="880.6" font-size="8.2" font-family='"Liberation Sans", sans-serif' fill="#222" text-anchor="end" textLength="22.8" lengthAdjust="spacingAndGlyphs">ATP7A</text>
<circle cx="405.5" cy="877.7" r="4.32" fill="#f5c6c6" stroke="#111111" stroke-width="1.3"/>
<circle cx="418.2" cy="877.7" r="2.20" fill="#ffffff" stroke="#8ea8e4" stroke-width="1.0"/>
<text x="398.0" y="892.8" font-size="8.2" font-family='"Liberation Sans", sans-serif' fill="#222" text-anchor="end" textLength="30.9" lengthAdjust="spacingAndGlyphs">WASH2P</text>
<circle cx="405.5" cy="889.9" r="2.31" fill="#f09c9c" stroke="#111111" stroke-width="1.0"/>
<circle cx="418.2" cy="889.9" r="5.18" fill="#ea5f5f" stroke="#111111" stroke-width="1.3"/>
<text x="398.0" y="905.0" font-size="8.2" font-family='"Liberation Sans", sans-serif' fill="#222" text-anchor="end" textLength="36.2" lengthAdjust="spacingAndGlyphs">WASHC2A</text>
<circle cx="405.5" cy="902.1" r="2.37" fill="#ed7f7f" stroke="#111111" stroke-width="1.3"/>
<circle cx="418.2" cy="902.1" r="5.18" fill="#e84444" stroke="#111111" stroke-width="1.3"/>
<text x="398.0" y="917.3" font-size="8.2" font-family='"Liberation Sans", sans-serif' fill="#222" text-anchor="end" textLength="36.6" lengthAdjust="spacingAndGlyphs">WASHC2C</text>
<circle cx="405.5" cy="914.4" r="2.37" fill="#ed7f7f" stroke="#111111" stroke-width="1.3"/>
<circle cx="418.2" cy="914.4" r="5.18" fill="#e84444" stroke="#111111" stroke-width="1.3"/>
<text x="398.0" y="929.5" font-size="8.2" font-family='"Liberation Sans", sans-serif' fill="#222" text-anchor="end" textLength="31.3" lengthAdjust="spacingAndGlyphs">WASHC3</text>
<circle cx="405.5" cy="926.6" r="3.45" fill="#ea5f5f" stroke="#111111" stroke-width="1.3"/>
<circle cx="418.2" cy="926.6" r="5.07" fill="#e84444" stroke="#8ea8e4" stroke-width="1.3"/>
<text x="398.0" y="941.8" font-size="8.2" font-family='"Liberation Sans", sans-serif' fill="#222" text-anchor="end" textLength="31.3" lengthAdjust="spacingAndGlyphs">WASHC4</text>
<circle cx="405.5" cy="938.9" r="1.44" fill="#ffffff" stroke="#111111" stroke-width="1.0"/>
<circle cx="418.2" cy="938.9" r="4.86" fill="#f09c9c" stroke="#111111" stroke-width="1.3"/>
<text x="398.0" y="954.0" font-size="8.2" font-family='"Liberation Sans", sans-serif' fill="#222" text-anchor="end" textLength="31.3" lengthAdjust="spacingAndGlyphs">WASHC5</text>
<circle cx="405.5" cy="951.1" r="1.44" fill="#ffffff" stroke="#111111" stroke-width="1.0"/>
<circle cx="418.2" cy="951.1" r="4.86" fill="#f09c9c" stroke="#111111" stroke-width="1.3"/>
<text x="398.0" y="966.2" font-size="8.2" font-family='"Liberation Sans", sans-serif' fill="#222" text-anchor="end" textLength="27.5" lengthAdjust="spacingAndGlyphs">FKBP15</text>
<circle cx="405.5" cy="963.3" r="1.23" fill="#ffffff" stroke="#111111" stroke-width="1.0"/>
<circle cx="418.2" cy="963.3" r="4.86" fill="#ed7f7f" stroke="#111111" stroke-width="1.3"/>
<text x="398.0" y="978.5" font-size="8.2" font-family='"Liberation Sans", sans-serif' fill="#222" text-anchor="end" textLength="32.8" lengthAdjust="spacingAndGlyphs">DNAJC13</text>
<circle cx="405.5" cy="975.6" r="1.05" fill="#111"/>
<circle cx="418.2" cy="975.6" r="4.86" fill="#f09c9c" stroke="#111111" stroke-width="1.3"/>
<text x="398.0" y="990.7" font-size="8.2" font-family='"Liberation Sans", sans-serif' fill="#222" text-anchor="end" textLength="24.6" lengthAdjust="spacingAndGlyphs">CAPZB</text>
<circle cx="405.5" cy="987.8" r="1.00" fill="#4f7fd6"/>
<circle cx="418.2" cy="987.8" r="4.86" fill="#f5c6c6" stroke="#111111" stroke-width="1.3"/>
<text x="398.0" y="1003.0" font-size="8.2" font-family='"Liberation Sans", sans-serif' fill="#222" text-anchor="end" textLength="35.7" lengthAdjust="spacingAndGlyphs">DENND4C</text>
<circle cx="405.5" cy="1000.1" r="3.67" fill="#ea5f5f" stroke="#111111" stroke-width="1.3"/>
<circle cx="418.2" cy="1000.1" r="5.18" fill="#e84444" stroke="#111111" stroke-width="1.3"/>
<defs>
<linearGradient id="lg1" x1="0" y1="0" x2="1" y2="1"><stop offset="0" stop-color="#3fae3f"/><stop offset="0.45" stop-color="#8ccf8a"/><stop offset="1" stop-color="#f2faf0"/></linearGradient>
<linearGradient id="lg2" x1="1" y1="0" x2="0" y2="1"><stop offset="0" stop-color="#3fae3f"/><stop offset="0.45" stop-color="#8ccf8a"/><stop offset="1" stop-color="#eef8ec"/></linearGradient>
<linearGradient id="yg" x1="0" y1="1" x2="1" y2="0"><stop offset="0" stop-color="#f0e060"/><stop offset="1" stop-color="#faf4c0"/></linearGradient>
<linearGradient id="bg" x1="0" y1="0" x2="1" y2="1"><stop offset="0" stop-color="#3f74c2"/><stop offset="1" stop-color="#a9c2e6"/></linearGradient>
<radialGradient id="pk" cx="0.6" cy="0.5" r="0.6"><stop offset="0" stop-color="#f070c8"/><stop offset="1" stop-color="#c03a98"/></radialGradient>
</defs>
<rect x="467.3" y="444.0" width="218.0" height="322.7" fill="#c6c6c6"/>
<line x1="467.3" y1="589.6" x2="685.0" y2="589.6" stroke="#e8e8e8" stroke-width="1.4"/>
<circle cx="526.0" cy="511.0" r="53.00" fill="#fff" stroke="#6a6a6a" stroke-width="0.8" stroke-dasharray="1.6,1.4"/>
<text x="497.0" y="455.5" font-size="13" font-family='"Liberation Serif", serif' font-weight="bold" fill="#222" textLength="62.0" lengthAdjust="spacingAndGlyphs">ID1-VPS35</text>
<line x1="600.4" y1="452.0" x2="657.0" y2="508.0" stroke="#111" stroke-width="1.3"/>
<line x1="598.4" y1="454.0" x2="602.4" y2="450.0" stroke="#111" stroke-width="1.1"/>
<line x1="655.0" y1="510.0" x2="659.0" y2="506.0" stroke="#111" stroke-width="1.1"/>
<text x="628.5" y="476.0" font-size="7.5" font-family='"Liberation Serif", serif' font-weight="bold" fill="#222">~17nm</text>
<path d="M514.0,568.2 A103,103 0 0 1 673.5,567.5 L654.6,583.1 A78.5,78.5 0 0 0 533.0,583.6 Z" fill="#f4f4f4"/>
<path d="M514.7,569.8L522.6,576.0M515.7,568.6L523.4,575.0M517.2,566.8L524.8,573.3M518.2,565.6L525.7,572.3M519.8,563.9L527.2,570.7M520.9,562.8L528.1,569.7M522.6,561.0L529.6,568.2M523.6,560.0L530.6,567.2M525.4,558.3L532.2,565.7M526.5,557.4L533.2,564.9M528.3,555.8L534.8,563.4M529.4,554.8L535.8,562.6M531.3,553.3L537.5,561.2M532.5,552.4L538.6,560.4M534.4,550.9L540.3,559.1M535.6,550.1L541.4,558.3M537.6,548.7L543.2,557.1M538.9,547.9L544.3,556.3M540.9,546.6L546.2,555.2M542.2,545.8L547.3,554.5M544.3,544.6L549.2,553.4M545.6,543.9L550.4,552.7M547.7,542.8L552.3,551.7M549.1,542.1L553.5,551.1M551.2,541.1L555.5,550.2M552.6,540.4L556.7,549.6M554.8,539.5L558.7,548.7M556.2,538.9L559.9,548.2M558.4,538.0L562.0,547.4M559.8,537.5L563.2,547.0M562.1,536.7L565.3,546.3M563.5,536.3L566.6,545.9M565.9,535.6L568.6,545.2M567.3,535.2L569.9,544.9M569.6,534.6L572.0,544.3M571.1,534.2L573.3,544.0M573.4,533.7L575.5,543.5M574.9,533.4L576.8,543.3M577.3,533.0L578.9,542.9M578.7,532.8L580.2,542.7M581.1,532.4L582.4,542.4M582.6,532.2L583.7,542.2M585.0,532.0L585.9,542.0M586.5,531.9L587.2,541.9M588.9,531.7L589.4,541.8M590.4,531.7L590.7,541.7M592.8,531.6L592.9,541.7M594.3,531.6L594.3,541.7M596.7,531.6L596.5,541.7M598.2,531.7L597.8,541.7M600.6,531.8L600.0,541.8M602.1,531.9L601.3,541.9M604.5,532.1L603.5,542.1M606.0,532.3L604.8,542.3M608.4,532.6L607.0,542.6M609.9,532.8L608.3,542.8M612.2,533.3L610.4,543.1M613.7,533.5L611.7,543.4M616.1,534.0L613.9,543.8M617.5,534.4L615.2,544.1M619.9,535.0L617.3,544.7M621.3,535.3L618.6,545.0M623.6,536.0L620.7,545.6M625.0,536.5L622.0,546.0M627.3,537.2L624.0,546.7M628.7,537.7L625.3,547.2M631.0,538.6L627.3,547.9M632.4,539.1L628.6,548.4M634.6,540.1L630.6,549.3M636.0,540.7L631.8,549.8M638.2,541.7L633.8,550.8M639.5,542.4L635.0,551.4M641.6,543.5L636.9,552.4M642.9,544.2L638.1,553.0M645.0,545.4L640.0,554.1M646.3,546.1L641.1,554.7M648.4,547.4L643.0,555.9M649.6,548.2L644.1,556.6M651.6,549.6L645.9,557.8M652.8,550.4L647.0,558.6M654.8,551.9L648.8,559.9M656.0,552.7L649.8,560.7M657.9,554.3L651.6,562.1M659.0,555.2L652.6,562.9M660.9,556.8L654.2,564.3M662.0,557.8L655.2,565.2M663.8,559.4L656.8,566.7M664.8,560.4L657.8,567.6M666.5,562.1L659.3,569.2M667.6,563.2L660.3,570.1M669.2,565.0L661.8,571.7M670.2,566.1L662.6,572.7M671.8,567.9L664.1,574.4M672.7,569.1L664.9,575.4M531.3,583.2L523.4,576.9M532.2,582.0L524.5,575.6M533.9,580.1L526.3,573.4M534.9,578.9L527.5,572.2M536.6,577.1L529.4,570.1M537.7,576.0L530.6,568.9M539.5,574.3L532.7,566.9M540.7,573.2L534.0,565.7M542.6,571.6L536.1,563.9M543.8,570.6L537.4,562.8M545.7,569.1L539.7,561.0M547.0,568.2L541.1,560.0M549.0,566.7L543.4,558.4M550.3,565.9L544.8,557.4M552.4,564.5L547.2,555.9M553.8,563.7L548.7,555.0M556.0,562.5L551.2,553.7M557.3,561.8L552.7,552.9M559.6,560.7L555.3,551.6M561.0,560.0L556.8,550.9M563.3,559.0L559.4,549.7M564.7,558.4L561.0,549.1M567.1,557.6L563.7,548.1M568.5,557.1L565.3,547.5M570.9,556.3L568.0,546.7M572.4,555.9L569.7,546.2M574.8,555.2L572.4,545.5M576.3,554.9L574.1,545.1M578.8,554.4L576.9,544.5M580.3,554.1L578.6,544.2M582.8,553.7L581.4,543.7M584.3,553.5L583.1,543.5M586.8,553.2L585.9,543.2M588.3,553.1L587.6,543.1M590.9,553.0L590.5,542.9M592.4,552.9L592.2,542.9M594.9,552.9L595.0,542.9M596.4,552.9L596.7,542.9M599.0,553.1L599.6,543.0M600.5,553.2L601.3,543.1M603.0,553.4L604.1,543.4M604.5,553.6L605.8,543.6M607.0,554.0L608.7,544.0M608.5,554.2L610.3,544.3M611.0,554.7L613.1,544.9M612.5,555.1L614.8,545.3M614.9,555.7L617.6,546.0M616.4,556.1L619.2,546.5M618.8,556.8L621.9,547.3M620.3,557.3L623.6,547.8M622.6,558.2L626.2,548.8M624.1,558.8L627.8,549.4M626.4,559.7L630.5,550.5M627.8,560.4L632.0,551.3M630.1,561.5L634.6,552.5M631.4,562.2L636.1,553.3M633.6,563.4L638.6,554.7M635.0,564.2L640.1,555.5M637.1,565.5L642.5,557.0M638.4,566.3L644.0,558.0M640.5,567.8L646.3,559.6M641.7,568.7L647.7,560.6M643.7,570.2L649.9,562.3M644.9,571.1L651.3,563.4M646.8,572.8L653.4,565.2M648.0,573.8L654.7,566.4M649.8,575.5L656.8,568.3M650.9,576.6L658.0,569.5M652.6,578.4L660.0,571.6M653.7,579.6L661.1,572.9M655.3,581.5L663.0,575.0M656.3,582.6L664.1,576.3" stroke="#2a2a2a" stroke-width="0.9" fill="none"/>
<circle cx="514.0" cy="568.2" r="1.95" fill="#ec8a4e" stroke="#a85a2a" stroke-width="0.4"/>
<circle cx="516.5" cy="565.1" r="1.95" fill="#ec8a4e" stroke="#a85a2a" stroke-width="0.4"/>
<circle cx="519.2" cy="562.2" r="1.95" fill="#ec8a4e" stroke="#a85a2a" stroke-width="0.4"/>
<circle cx="522.0" cy="559.4" r="1.95" fill="#ec8a4e" stroke="#a85a2a" stroke-width="0.4"/>
<circle cx="524.8" cy="556.7" r="1.95" fill="#ec8a4e" stroke="#a85a2a" stroke-width="0.4"/>
<circle cx="527.8" cy="554.1" r="1.95" fill="#ec8a4e" stroke="#a85a2a" stroke-width="0.4"/>
<circle cx="530.9" cy="551.6" r="1.95" fill="#ec8a4e" stroke="#a85a2a" stroke-width="0.4"/>
<circle cx="534.1" cy="549.2" r="1.95" fill="#ec8a4e" stroke="#a85a2a" stroke-width="0.4"/>
<circle cx="537.4" cy="547.0" r="1.95" fill="#ec8a4e" stroke="#a85a2a" stroke-width="0.4"/>
<circle cx="540.7" cy="544.8" r="1.95" fill="#ec8a4e" stroke="#a85a2a" stroke-width="0.4"/>
<circle cx="544.2" cy="542.9" r="1.95" fill="#ec8a4e" stroke="#a85a2a" stroke-width="0.4"/>
<circle cx="547.7" cy="541.0" r="1.95" fill="#ec8a4e" stroke="#a85a2a" stroke-width="0.4"/>
<circle cx="551.3" cy="539.3" r="1.95" fill="#ec8a4e" stroke="#a85a2a" stroke-width="0.4"/>
<circle cx="554.9" cy="537.7" r="1.95" fill="#ec8a4e" stroke="#a85a2a" stroke-width="0.4"/>
<circle cx="558.6" cy="536.3" r="1.95" fill="#ec8a4e" stroke="#a85a2a" stroke-width="0.4"/>
<circle cx="562.3" cy="535.0" r="1.95" fill="#ec8a4e" stroke="#a85a2a" stroke-width="0.4"/>
<circle cx="566.1" cy="533.8" r="1.95" fill="#ec8a4e" stroke="#a85a2a" stroke-width="0.4"/>
<circle cx="570.0" cy="532.8" r="1.95" fill="#ec8a4e" stroke="#a85a2a" stroke-width="0.4"/>
<circle cx="573.8" cy="532.0" r="1.95" fill="#ec8a4e" stroke="#a85a2a" stroke-width="0.4"/>
<circle cx="577.8" cy="531.3" r="1.95" fill="#ec8a4e" stroke="#a85a2a" stroke-width="0.4"/>
<circle cx="581.7" cy="530.7" r="1.95" fill="#ec8a4e" stroke="#a85a2a" stroke-width="0.4"/>
<circle cx="585.6" cy="530.3" r="1.95" fill="#ec8a4e" stroke="#a85a2a" stroke-width="0.4"/>
<circle cx="589.6" cy="530.1" r="1.95" fill="#ec8a4e" stroke="#a85a2a" stroke-width="0.4"/>
<circle cx="593.6" cy="530.0" r="1.95" fill="#ec8a4e" stroke="#a85a2a" stroke-width="0.4"/>
<circle cx="597.5" cy="530.1" r="1.95" fill="#ec8a4e" stroke="#a85a2a" stroke-width="0.4"/>
<circle cx="601.5" cy="530.3" r="1.95" fill="#ec8a4e" stroke="#a85a2a" stroke-width="0.4"/>
<circle cx="605.4" cy="530.6" r="1.95" fill="#ec8a4e" stroke="#a85a2a" stroke-width="0.4"/>
<circle cx="609.4" cy="531.2" r="1.95" fill="#ec8a4e" stroke="#a85a2a" stroke-width="0.4"/>
<circle cx="613.3" cy="531.8" r="1.95" fill="#ec8a4e" stroke="#a85a2a" stroke-width="0.4"/>
<circle cx="617.2" cy="532.6" r="1.95" fill="#ec8a4e" stroke="#a85a2a" stroke-width="0.4"/>
<circle cx="621.0" cy="533.6" r="1.95" fill="#ec8a4e" stroke="#a85a2a" stroke-width="0.4"/>
<circle cx="624.8" cy="534.7" r="1.95" fill="#ec8a4e" stroke="#a85a2a" stroke-width="0.4"/>
<circle cx="628.6" cy="536.0" r="1.95" fill="#ec8a4e" stroke="#a85a2a" stroke-width="0.4"/>
<circle cx="632.3" cy="537.4" r="1.95" fill="#ec8a4e" stroke="#a85a2a" stroke-width="0.4"/>
<circle cx="635.9" cy="538.9" r="1.95" fill="#ec8a4e" stroke="#a85a2a" stroke-width="0.4"/>
<circle cx="639.5" cy="540.6" r="1.95" fill="#ec8a4e" stroke="#a85a2a" stroke-width="0.4"/>
<circle cx="643.0" cy="542.4" r="1.95" fill="#ec8a4e" stroke="#a85a2a" stroke-width="0.4"/>
<circle cx="646.5" cy="544.4" r="1.95" fill="#ec8a4e" stroke="#a85a2a" stroke-width="0.4"/>
<circle cx="649.9" cy="546.5" r="1.95" fill="#ec8a4e" stroke="#a85a2a" stroke-width="0.4"/>
<circle cx="653.2" cy="548.7" r="1.95" fill="#ec8a4e" stroke="#a85a2a" stroke-width="0.4"/>
<circle cx="656.4" cy="551.0" r="1.95" fill="#ec8a4e" stroke="#a85a2a" stroke-width="0.4"/>
<circle cx="659.5" cy="553.5" r="1.95" fill="#ec8a4e" stroke="#a85a2a" stroke-width="0.4"/>
<circle cx="662.5" cy="556.1" r="1.95" fill="#ec8a4e" stroke="#a85a2a" stroke-width="0.4"/>
<circle cx="665.4" cy="558.8" r="1.95" fill="#ec8a4e" stroke="#a85a2a" stroke-width="0.4"/>
<circle cx="668.2" cy="561.6" r="1.95" fill="#ec8a4e" stroke="#a85a2a" stroke-width="0.4"/>
<circle cx="670.9" cy="564.5" r="1.95" fill="#ec8a4e" stroke="#a85a2a" stroke-width="0.4"/>
<circle cx="673.5" cy="567.5" r="1.95" fill="#ec8a4e" stroke="#a85a2a" stroke-width="0.4"/>
<circle cx="533.0" cy="583.6" r="1.95" fill="#ec8a4e" stroke="#a85a2a" stroke-width="0.4"/>
<circle cx="535.6" cy="580.6" r="1.95" fill="#ec8a4e" stroke="#a85a2a" stroke-width="0.4"/>
<circle cx="538.3" cy="577.7" r="1.95" fill="#ec8a4e" stroke="#a85a2a" stroke-width="0.4"/>
<circle cx="541.2" cy="574.9" r="1.95" fill="#ec8a4e" stroke="#a85a2a" stroke-width="0.4"/>
<circle cx="544.2" cy="572.3" r="1.95" fill="#ec8a4e" stroke="#a85a2a" stroke-width="0.4"/>
<circle cx="547.3" cy="569.9" r="1.95" fill="#ec8a4e" stroke="#a85a2a" stroke-width="0.4"/>
<circle cx="550.6" cy="567.6" r="1.95" fill="#ec8a4e" stroke="#a85a2a" stroke-width="0.4"/>
<circle cx="553.9" cy="565.5" r="1.95" fill="#ec8a4e" stroke="#a85a2a" stroke-width="0.4"/>
<circle cx="557.4" cy="563.6" r="1.95" fill="#ec8a4e" stroke="#a85a2a" stroke-width="0.4"/>
<circle cx="560.9" cy="561.8" r="1.95" fill="#ec8a4e" stroke="#a85a2a" stroke-width="0.4"/>
<circle cx="564.6" cy="560.2" r="1.95" fill="#ec8a4e" stroke="#a85a2a" stroke-width="0.4"/>
<circle cx="568.3" cy="558.8" r="1.95" fill="#ec8a4e" stroke="#a85a2a" stroke-width="0.4"/>
<circle cx="572.1" cy="557.6" r="1.95" fill="#ec8a4e" stroke="#a85a2a" stroke-width="0.4"/>
<circle cx="575.9" cy="556.6" r="1.95" fill="#ec8a4e" stroke="#a85a2a" stroke-width="0.4"/>
<circle cx="579.8" cy="555.8" r="1.95" fill="#ec8a4e" stroke="#a85a2a" stroke-width="0.4"/>
<circle cx="583.8" cy="555.2" r="1.95" fill="#ec8a4e" stroke="#a85a2a" stroke-width="0.4"/>
<circle cx="587.7" cy="554.8" r="1.95" fill="#ec8a4e" stroke="#a85a2a" stroke-width="0.4"/>
<circle cx="591.7" cy="554.5" r="1.95" fill="#ec8a4e" stroke="#a85a2a" stroke-width="0.4"/>
<circle cx="595.6" cy="554.5" r="1.95" fill="#ec8a4e" stroke="#a85a2a" stroke-width="0.4"/>
<circle cx="599.6" cy="554.7" r="1.95" fill="#ec8a4e" stroke="#a85a2a" stroke-width="0.4"/>
<circle cx="603.6" cy="555.1" r="1.95" fill="#ec8a4e" stroke="#a85a2a" stroke-width="0.4"/>
<circle cx="607.5" cy="555.7" r="1.95" fill="#ec8a4e" stroke="#a85a2a" stroke-width="0.4"/>
<circle cx="611.4" cy="556.5" r="1.95" fill="#ec8a4e" stroke="#a85a2a" stroke-width="0.4"/>
<circle cx="615.2" cy="557.4" r="1.95" fill="#ec8a4e" stroke="#a85a2a" stroke-width="0.4"/>
<circle cx="619.0" cy="558.6" r="1.95" fill="#ec8a4e" stroke="#a85a2a" stroke-width="0.4"/>
<circle cx="622.8" cy="560.0" r="1.95" fill="#ec8a4e" stroke="#a85a2a" stroke-width="0.4"/>
<circle cx="626.4" cy="561.5" r="1.95" fill="#ec8a4e" stroke="#a85a2a" stroke-width="0.4"/>
<circle cx="630.0" cy="563.2" r="1.95" fill="#ec8a4e" stroke="#a85a2a" stroke-width="0.4"/>
<circle cx="633.5" cy="565.2" r="1.95" fill="#ec8a4e" stroke="#a85a2a" stroke-width="0.4"/>
<circle cx="636.9" cy="567.2" r="1.95" fill="#ec8a4e" stroke="#a85a2a" stroke-width="0.4"/>
<circle cx="640.1" cy="569.5" r="1.95" fill="#ec8a4e" stroke="#a85a2a" stroke-width="0.4"/>
<circle cx="643.3" cy="571.9" r="1.95" fill="#ec8a4e" stroke="#a85a2a" stroke-width="0.4"/>
<circle cx="646.3" cy="574.5" r="1.95" fill="#ec8a4e" stroke="#a85a2a" stroke-width="0.4"/>
<circle cx="649.2" cy="577.2" r="1.95" fill="#ec8a4e" stroke="#a85a2a" stroke-width="0.4"/>
<circle cx="652.0" cy="580.1" r="1.95" fill="#ec8a4e" stroke="#a85a2a" stroke-width="0.4"/>
<circle cx="654.6" cy="583.1" r="1.95" fill="#ec8a4e" stroke="#a85a2a" stroke-width="0.4"/>
<path d="M519,497 L530,499 L535,504 L534,516 L531,523 L520,524 L518,517 L516,508 Z" fill="#4a405e"/>
<line x1="533.0" y1="517.0" x2="545.0" y2="525.0" stroke="#888" stroke-width="0.5"/>
<path d="M527,535 C520,540 522,550 532,549 C540,548 548,540 552,532 C548,527 538,528 527,535 Z" fill="url(#lg1)" stroke="#888" stroke-width="0.4"/>
<path d="M545,516 C552,510 566,510 573,516 C580,522 578,533 572,536 C565,538 556,534 548,528 Z" fill="url(#bg)" opacity="0.92"/>
<path d="M537,520 C545,514 556,516 562,520 C562,526 552,531 542,530 C537,528 534,524 537,520 Z" fill="#3fae3f"/>
<path d="M539,515 C538,506 548,500 556,494 C562,488 568,482 575,476 L584,486 C580,495 574,503 568,510 C563,516 556,512 549,512 C545,513 542,516 539,515 Z" fill="url(#yg)" stroke="#aaa060" stroke-width="0.4"/>
<path d="M568,474 L575,470 L582,474 L584,486 L588,494 L580,500 L574,505 L571,498 Z" fill="#d6cf9a" opacity="0.85" stroke="#8a8050" stroke-width="0.4" stroke-dasharray="1,1"/>
<path d="M580.4,476.3 L583.4,467.5 L590.7,464.6 L600.9,464.6 L603.8,469.0 L614.7,471.2 L615.5,479.2 L614.7,485.0 L621.3,490.9 L628.6,496.7 L633.0,502.6 L640.3,505.5 L643.2,511.3 L642.5,515.7 L638.8,517.9 L628.6,515.7 L619.9,518.6 L617.0,514.2 L616.2,508.4 L617.7,504.0 L614.0,499.6 L608.2,498.2 L602.3,493.8 L598.7,492.3 L593.6,493.8 L589.2,492.3 L583.4,486.5 Z" fill="#cfc26a" opacity="0.85" stroke="#8a8050" stroke-width="0.4" stroke-linejoin="round"/>
<ellipse cx="589.2" cy="487.2" rx="6" ry="4" fill="#ea8fc0" opacity="0.9"/>
<circle cx="603.0" cy="483.9" r="8.00" fill="url(#pk)"/>
<ellipse cx="619" cy="523.5" rx="10" ry="8" fill="#7592c4" opacity="0.9"/>
<path d="M628,522 C636,520 648,524 656,530 C662,536 660,546 652,546 C644,546 634,538 628,530 Z" fill="url(#lg2)" stroke="#888" stroke-width="0.4"/>
<path d="M624,520 C628,515 640,516 644,520 C644,525 634,527 626,525 Z" fill="#3fae3f"/>
<path d="M553.5,530 L566,566" stroke="#9a55b5" stroke-width="4.5" stroke-linecap="round" fill="none"/>
<path d="M559,576 C562,568 572,566 578,568 M566,566 L568,575" stroke="#9a55b5" stroke-width="3" fill="none" stroke-linecap="round"/>
<text x="469.0" y="564.0" font-size="8.6" font-family='"Liberation Serif", serif' font-weight="bold" fill="#c3923a">VPS35</text>
<text x="469.0" y="575.5" font-size="8.6" font-family='"Liberation Serif", serif' font-weight="bold" fill="#2f8a2f">VPS26</text>
<text x="469.0" y="586.5" font-size="8.6" font-family='"Liberation Serif", serif' font-weight="bold" fill="#b03a7a">VPS29</text>
<circle cx="558.5" cy="643.5" r="52.50" fill="#fff" stroke="#6a6a6a" stroke-width="0.8" stroke-dasharray="1.6,1.4"/>
<text x="600.6" y="606.4" font-size="13" font-family='"Liberation Serif", serif' font-weight="bold" fill="#222" textLength="60.4" lengthAdjust="spacingAndGlyphs">VPS35-ID1</text>
<text x="469.0" y="596.0" font-size="8.6" font-family='"Liberation Serif", serif' font-weight="bold" fill="#3a5a9a">SNX3</text>
<text x="469.0" y="607.5" font-size="8.6" font-family='"Liberation Serif", serif' font-weight="bold" fill="#222">BioID1</text>
<text x="469.0" y="618.5" font-size="8.6" font-family='"Liberation Serif", serif' font-weight="bold" fill="#7a3f95">Cargo</text>
<path d="M496.2,749.6 A104,104 0 0 1 657.2,748.8 L638.0,764.7 A79,79 0 0 0 515.6,765.3 Z" fill="#f4f4f4"/>
<path d="M497.0,751.1L505.0,757.6M497.9,750.0L505.8,756.5M499.5,748.1L507.3,754.8M500.4,747.0L508.1,753.8M502.1,745.2L509.6,752.2M503.1,744.1L510.6,751.2M504.9,742.3L512.1,749.6M505.9,741.3L513.1,748.7M507.7,739.6L514.7,747.2M508.8,738.6L515.7,746.3M510.7,737.0L517.3,744.8M511.8,736.0L518.3,744.0M513.7,734.5L520.1,742.6M514.9,733.6L521.1,741.8M516.9,732.1L522.9,740.5M518.1,731.3L524.0,739.7M520.1,729.9L525.8,738.4M521.3,729.1L526.9,737.7M523.4,727.7L528.8,736.5M524.7,727.0L529.9,735.8M526.8,725.7L531.9,734.7M528.1,725.0L533.0,734.1M530.3,723.9L535.0,733.0M531.6,723.2L536.2,732.4M533.8,722.1L538.2,731.5M535.2,721.5L539.4,730.9M537.4,720.6L541.4,730.1M538.8,720.0L542.6,729.5M541.1,719.1L544.7,728.7M542.5,718.6L546.0,728.3M544.8,717.8L548.1,727.6M546.2,717.3L549.3,727.2M548.6,716.6L551.4,726.5M550.0,716.2L552.7,726.2M552.4,715.6L554.9,725.6M553.8,715.3L556.2,725.3M556.2,714.7L558.3,724.8M557.7,714.4L559.6,724.6M560.1,714.0L561.8,724.2M561.6,713.8L563.1,724.0M564.0,713.4L565.3,723.6M565.5,713.2L566.6,723.5M567.9,713.0L568.9,723.3M569.4,712.9L570.2,723.2M571.9,712.7L572.4,723.0M573.3,712.7L573.7,723.0M575.8,712.6L575.9,722.9M577.3,712.6L577.3,722.9M579.8,712.6L579.5,722.9M581.2,712.7L580.8,723.0M583.7,712.8L583.0,723.1M585.2,712.9L584.3,723.2M587.6,713.2L586.6,723.4M589.1,713.3L587.9,723.5M591.5,713.6L590.1,723.8M593.0,713.9L591.4,724.0M595.4,714.3L593.6,724.4M596.9,714.5L594.9,724.7M599.3,715.1L597.1,725.1M600.7,715.4L598.3,725.4M603.1,716.0L600.5,725.9M604.6,716.4L601.8,726.3M606.9,717.1L603.9,726.9M608.3,717.5L605.2,727.3M610.7,718.3L607.3,728.0M612.1,718.8L608.5,728.5M614.4,719.7L610.6,729.3M615.7,720.2L611.8,729.7M618.0,721.2L613.9,730.6M619.4,721.8L615.1,731.1M621.6,722.8L617.1,732.1M622.9,723.5L618.3,732.7M625.1,724.6L620.3,733.7M626.4,725.3L621.4,734.3M628.6,726.5L623.4,735.4M629.8,727.3L624.5,736.1M631.9,728.6L626.4,737.3M633.2,729.4L627.5,738.0M635.2,730.8L629.4,739.2M636.4,731.6L630.4,740.0M638.4,733.1L632.2,741.3M639.6,734.0L633.3,742.1M641.5,735.5L635.0,743.5M642.7,736.4L636.1,744.3M644.5,738.0L637.7,745.8M645.6,739.0L638.7,746.7M647.4,740.7L640.4,748.2M648.5,741.7L641.3,749.1M650.3,743.4L642.9,750.6M651.3,744.5L643.8,751.6M653.0,746.3L645.3,753.2M653.9,747.4L646.2,754.2M655.5,749.3L647.6,755.9M656.5,750.4L648.5,756.9M513.9,764.9L505.8,758.5M514.8,763.7L506.9,757.1M516.5,761.7L508.8,754.9M517.5,760.6L509.9,753.7M519.3,758.8L511.9,751.6M520.4,757.7L513.1,750.3M522.2,755.9L515.2,748.4M523.3,754.9L516.5,747.2M525.3,753.2L518.6,745.3M526.4,752.2L520.0,744.2M528.4,750.7L522.2,742.4M529.7,749.8L523.6,741.4M531.8,748.3L526.0,739.8M533.0,747.4L527.4,738.8M535.2,746.1L529.9,737.3M536.5,745.3L531.3,736.4M538.7,744.1L533.8,735.0M540.1,743.3L535.4,734.2M542.4,742.2L537.9,732.9M543.8,741.6L539.5,732.2M546.1,740.6L542.1,731.0M547.5,740.0L543.7,730.4M549.9,739.1L546.4,729.4M551.4,738.6L548.1,728.8M553.8,737.8L550.8,728.0M555.2,737.4L552.5,727.5M557.7,736.7L555.2,726.7M559.2,736.4L556.9,726.3M561.7,735.9L559.7,725.8M563.2,735.6L561.4,725.4M565.7,735.2L564.3,725.0M567.2,735.0L566.0,724.8M569.8,734.7L568.9,724.5M571.3,734.6L570.6,724.3M573.8,734.5L573.4,724.2M575.4,734.4L575.2,724.1M577.9,734.4L578.0,724.1M579.5,734.4L579.8,724.1M582.0,734.6L582.6,724.3M583.5,734.7L584.4,724.4M586.1,734.9L587.2,724.7M587.6,735.1L588.9,724.9M590.1,735.5L591.8,725.3M591.6,735.7L593.5,725.6M594.1,736.2L596.3,726.2M595.6,736.6L598.0,726.6M598.1,737.2L600.8,727.3M599.5,737.6L602.4,727.7M602.0,738.4L605.2,728.6M603.4,738.9L606.8,729.1M605.8,739.7L609.5,730.1M607.3,740.3L611.1,730.7M609.6,741.3L613.8,731.9M611.0,741.9L615.3,732.6M613.3,743.0L617.9,733.8M614.6,743.7L619.5,734.6M616.9,745.0L622.0,736.0M618.2,745.7L623.5,736.9M620.4,747.1L625.9,738.4M621.7,747.9L627.4,739.3M623.8,749.3L629.7,741.0M625.0,750.2L631.1,742.0M627.0,751.8L633.4,743.7M628.2,752.8L634.8,744.8M630.1,754.4L636.9,746.7M631.3,755.4L638.2,747.8M633.1,757.2L640.3,749.8M634.2,758.3L641.5,751.0M636.0,760.1L643.5,753.1M637.0,761.2L644.7,754.3M638.7,763.1L646.6,756.5M639.7,764.3L647.7,757.8" stroke="#2a2a2a" stroke-width="0.9" fill="none"/>
<circle cx="496.2" cy="749.6" r="1.95" fill="#ec8a4e" stroke="#a85a2a" stroke-width="0.4"/>
<circle cx="498.8" cy="746.5" r="1.95" fill="#ec8a4e" stroke="#a85a2a" stroke-width="0.4"/>
<circle cx="501.5" cy="743.5" r="1.95" fill="#ec8a4e" stroke="#a85a2a" stroke-width="0.4"/>
<circle cx="504.3" cy="740.7" r="1.95" fill="#ec8a4e" stroke="#a85a2a" stroke-width="0.4"/>
<circle cx="507.2" cy="737.9" r="1.95" fill="#ec8a4e" stroke="#a85a2a" stroke-width="0.4"/>
<circle cx="510.2" cy="735.3" r="1.95" fill="#ec8a4e" stroke="#a85a2a" stroke-width="0.4"/>
<circle cx="513.3" cy="732.8" r="1.95" fill="#ec8a4e" stroke="#a85a2a" stroke-width="0.4"/>
<circle cx="516.5" cy="730.4" r="1.95" fill="#ec8a4e" stroke="#a85a2a" stroke-width="0.4"/>
<circle cx="519.8" cy="728.1" r="1.95" fill="#ec8a4e" stroke="#a85a2a" stroke-width="0.4"/>
<circle cx="523.2" cy="726.0" r="1.95" fill="#ec8a4e" stroke="#a85a2a" stroke-width="0.4"/>
<circle cx="526.7" cy="724.0" r="1.95" fill="#ec8a4e" stroke="#a85a2a" stroke-width="0.4"/>
<circle cx="530.2" cy="722.1" r="1.95" fill="#ec8a4e" stroke="#a85a2a" stroke-width="0.4"/>
<circle cx="533.8" cy="720.4" r="1.95" fill="#ec8a4e" stroke="#a85a2a" stroke-width="0.4"/>
<circle cx="537.5" cy="718.8" r="1.95" fill="#ec8a4e" stroke="#a85a2a" stroke-width="0.4"/>
<circle cx="541.2" cy="717.3" r="1.95" fill="#ec8a4e" stroke="#a85a2a" stroke-width="0.4"/>
<circle cx="545.0" cy="716.0" r="1.95" fill="#ec8a4e" stroke="#a85a2a" stroke-width="0.4"/>
<circle cx="548.9" cy="714.9" r="1.95" fill="#ec8a4e" stroke="#a85a2a" stroke-width="0.4"/>
<circle cx="552.7" cy="713.9" r="1.95" fill="#ec8a4e" stroke="#a85a2a" stroke-width="0.4"/>
<circle cx="556.7" cy="713.0" r="1.95" fill="#ec8a4e" stroke="#a85a2a" stroke-width="0.4"/>
<circle cx="560.6" cy="712.3" r="1.95" fill="#ec8a4e" stroke="#a85a2a" stroke-width="0.4"/>
<circle cx="564.6" cy="711.7" r="1.95" fill="#ec8a4e" stroke="#a85a2a" stroke-width="0.4"/>
<circle cx="568.5" cy="711.3" r="1.95" fill="#ec8a4e" stroke="#a85a2a" stroke-width="0.4"/>
<circle cx="572.5" cy="711.1" r="1.95" fill="#ec8a4e" stroke="#a85a2a" stroke-width="0.4"/>
<circle cx="576.5" cy="711.0" r="1.95" fill="#ec8a4e" stroke="#a85a2a" stroke-width="0.4"/>
<circle cx="580.6" cy="711.1" r="1.95" fill="#ec8a4e" stroke="#a85a2a" stroke-width="0.4"/>
<circle cx="584.5" cy="711.3" r="1.95" fill="#ec8a4e" stroke="#a85a2a" stroke-width="0.4"/>
<circle cx="588.5" cy="711.6" r="1.95" fill="#ec8a4e" stroke="#a85a2a" stroke-width="0.4"/>
<circle cx="592.5" cy="712.2" r="1.95" fill="#ec8a4e" stroke="#a85a2a" stroke-width="0.4"/>
<circle cx="596.5" cy="712.8" r="1.95" fill="#ec8a4e" stroke="#a85a2a" stroke-width="0.4"/>
<circle cx="600.4" cy="713.7" r="1.95" fill="#ec8a4e" stroke="#a85a2a" stroke-width="0.4"/>
<circle cx="604.3" cy="714.6" r="1.95" fill="#ec8a4e" stroke="#a85a2a" stroke-width="0.4"/>
<circle cx="608.1" cy="715.8" r="1.95" fill="#ec8a4e" stroke="#a85a2a" stroke-width="0.4"/>
<circle cx="611.9" cy="717.0" r="1.95" fill="#ec8a4e" stroke="#a85a2a" stroke-width="0.4"/>
<circle cx="615.6" cy="718.4" r="1.95" fill="#ec8a4e" stroke="#a85a2a" stroke-width="0.4"/>
<circle cx="619.3" cy="720.0" r="1.95" fill="#ec8a4e" stroke="#a85a2a" stroke-width="0.4"/>
<circle cx="623.0" cy="721.7" r="1.95" fill="#ec8a4e" stroke="#a85a2a" stroke-width="0.4"/>
<circle cx="626.5" cy="723.5" r="1.95" fill="#ec8a4e" stroke="#a85a2a" stroke-width="0.4"/>
<circle cx="630.0" cy="725.5" r="1.95" fill="#ec8a4e" stroke="#a85a2a" stroke-width="0.4"/>
<circle cx="633.4" cy="727.6" r="1.95" fill="#ec8a4e" stroke="#a85a2a" stroke-width="0.4"/>
<circle cx="636.7" cy="729.9" r="1.95" fill="#ec8a4e" stroke="#a85a2a" stroke-width="0.4"/>
<circle cx="640.0" cy="732.2" r="1.95" fill="#ec8a4e" stroke="#a85a2a" stroke-width="0.4"/>
<circle cx="643.1" cy="734.7" r="1.95" fill="#ec8a4e" stroke="#a85a2a" stroke-width="0.4"/>
<circle cx="646.1" cy="737.3" r="1.95" fill="#ec8a4e" stroke="#a85a2a" stroke-width="0.4"/>
<circle cx="649.1" cy="740.0" r="1.95" fill="#ec8a4e" stroke="#a85a2a" stroke-width="0.4"/>
<circle cx="651.9" cy="742.9" r="1.95" fill="#ec8a4e" stroke="#a85a2a" stroke-width="0.4"/>
<circle cx="654.6" cy="745.8" r="1.95" fill="#ec8a4e" stroke="#a85a2a" stroke-width="0.4"/>
<circle cx="657.2" cy="748.8" r="1.95" fill="#ec8a4e" stroke="#a85a2a" stroke-width="0.4"/>
<circle cx="515.6" cy="765.3" r="1.95" fill="#ec8a4e" stroke="#a85a2a" stroke-width="0.4"/>
<circle cx="518.2" cy="762.2" r="1.95" fill="#ec8a4e" stroke="#a85a2a" stroke-width="0.4"/>
<circle cx="520.9" cy="759.3" r="1.95" fill="#ec8a4e" stroke="#a85a2a" stroke-width="0.4"/>
<circle cx="523.8" cy="756.6" r="1.95" fill="#ec8a4e" stroke="#a85a2a" stroke-width="0.4"/>
<circle cx="526.9" cy="754.0" r="1.95" fill="#ec8a4e" stroke="#a85a2a" stroke-width="0.4"/>
<circle cx="530.0" cy="751.5" r="1.95" fill="#ec8a4e" stroke="#a85a2a" stroke-width="0.4"/>
<circle cx="533.3" cy="749.2" r="1.95" fill="#ec8a4e" stroke="#a85a2a" stroke-width="0.4"/>
<circle cx="536.7" cy="747.1" r="1.95" fill="#ec8a4e" stroke="#a85a2a" stroke-width="0.4"/>
<circle cx="540.2" cy="745.1" r="1.95" fill="#ec8a4e" stroke="#a85a2a" stroke-width="0.4"/>
<circle cx="543.7" cy="743.3" r="1.95" fill="#ec8a4e" stroke="#a85a2a" stroke-width="0.4"/>
<circle cx="547.4" cy="741.8" r="1.95" fill="#ec8a4e" stroke="#a85a2a" stroke-width="0.4"/>
<circle cx="551.1" cy="740.3" r="1.95" fill="#ec8a4e" stroke="#a85a2a" stroke-width="0.4"/>
<circle cx="555.0" cy="739.1" r="1.95" fill="#ec8a4e" stroke="#a85a2a" stroke-width="0.4"/>
<circle cx="558.8" cy="738.1" r="1.95" fill="#ec8a4e" stroke="#a85a2a" stroke-width="0.4"/>
<circle cx="562.7" cy="737.3" r="1.95" fill="#ec8a4e" stroke="#a85a2a" stroke-width="0.4"/>
<circle cx="566.7" cy="736.7" r="1.95" fill="#ec8a4e" stroke="#a85a2a" stroke-width="0.4"/>
<circle cx="570.7" cy="736.3" r="1.95" fill="#ec8a4e" stroke="#a85a2a" stroke-width="0.4"/>
<circle cx="574.7" cy="736.0" r="1.95" fill="#ec8a4e" stroke="#a85a2a" stroke-width="0.4"/>
<circle cx="578.7" cy="736.0" r="1.95" fill="#ec8a4e" stroke="#a85a2a" stroke-width="0.4"/>
<circle cx="582.6" cy="736.2" r="1.95" fill="#ec8a4e" stroke="#a85a2a" stroke-width="0.4"/>
<circle cx="586.6" cy="736.6" r="1.95" fill="#ec8a4e" stroke="#a85a2a" stroke-width="0.4"/>
<circle cx="590.6" cy="737.2" r="1.95" fill="#ec8a4e" stroke="#a85a2a" stroke-width="0.4"/>
<circle cx="594.5" cy="738.0" r="1.95" fill="#ec8a4e" stroke="#a85a2a" stroke-width="0.4"/>
<circle cx="598.4" cy="738.9" r="1.95" fill="#ec8a4e" stroke="#a85a2a" stroke-width="0.4"/>
<circle cx="602.2" cy="740.1" r="1.95" fill="#ec8a4e" stroke="#a85a2a" stroke-width="0.4"/>
<circle cx="606.0" cy="741.5" r="1.95" fill="#ec8a4e" stroke="#a85a2a" stroke-width="0.4"/>
<circle cx="609.6" cy="743.1" r="1.95" fill="#ec8a4e" stroke="#a85a2a" stroke-width="0.4"/>
<circle cx="613.2" cy="744.8" r="1.95" fill="#ec8a4e" stroke="#a85a2a" stroke-width="0.4"/>
<circle cx="616.7" cy="746.7" r="1.95" fill="#ec8a4e" stroke="#a85a2a" stroke-width="0.4"/>
<circle cx="620.1" cy="748.8" r="1.95" fill="#ec8a4e" stroke="#a85a2a" stroke-width="0.4"/>
<circle cx="623.4" cy="751.1" r="1.95" fill="#ec8a4e" stroke="#a85a2a" stroke-width="0.4"/>
<circle cx="626.6" cy="753.5" r="1.95" fill="#ec8a4e" stroke="#a85a2a" stroke-width="0.4"/>
<circle cx="629.7" cy="756.1" r="1.95" fill="#ec8a4e" stroke="#a85a2a" stroke-width="0.4"/>
<circle cx="632.6" cy="758.8" r="1.95" fill="#ec8a4e" stroke="#a85a2a" stroke-width="0.4"/>
<circle cx="635.3" cy="761.7" r="1.95" fill="#ec8a4e" stroke="#a85a2a" stroke-width="0.4"/>
<circle cx="638.0" cy="764.7" r="1.95" fill="#ec8a4e" stroke="#a85a2a" stroke-width="0.4"/>
<path d="M546,643.7 L550,638 L553,634.5 L560.3,629.4 L565,625.3 L567.4,630.4 L570.5,640.7 L565.4,645.8 L559.3,647.8 L554.2,650.9 L549,648.8 Z" fill="#3f3752"/>
<path d="M522.5,689.7 C526,684 530,678 534.7,675.4 C540,672 545,671 547,669.3 C550,664 551,658 553,656 C556,653 559,652 561.3,653 C564,655 565,657 565.4,659 C567,664 570,668 571.5,671.3 C569,675 567,676 565.4,677.4 C562,679 561,680 559.3,680.5 C556,683 553,685 551,687.7 C549,691 548,694 547,695.8 L530.7,695.8 L522.5,695.8 Z" fill="url(#yg)" stroke="#aaa060" stroke-width="0.4"/>
<path d="M563.4,650.9 C566,647 572,645 577.7,644.7 C584,644 590,647 595,649 C599,652 600,657 598,662 C596,668 596,671 592,674 C588,677 586,678 583.8,677.4 C578,676 572,674 568,668 C564,663 562,656 563.4,650.9 Z" fill="#f4e070" stroke="#aaa060" stroke-width="0.4"/>
<ellipse cx="572.5" cy="666.2" rx="6" ry="4.8" fill="#ea8fc0" opacity="0.9"/>
<circle cx="585.8" cy="663.5" r="8.20" fill="url(#pk)"/>
<path d="M596,672 C600,670 604,669 606.3,670.3 C611,672 614,676 616,680 C619,684 622,688 624.7,692 C626,696 624,699 620,700 C614,701 606,701 600,700 C598,696 599,692 598,688 C596,684 594,678 596,672 Z" fill="#cfc26a" opacity="0.8" stroke="#8a8050" stroke-width="0.4"/>
<path d="M512,712 C506,718 508,728 518,729 C528,730 538,722 542,712 C538,704 522,704 512,712 Z" fill="url(#lg1)" stroke="#888" stroke-width="0.4"/>
<path d="M527,694 C532,690 546,690 550,696 C554,704 548,712 540,712 C532,710 526,702 527,694 Z" fill="url(#bg)" opacity="0.9"/>
<path d="M526,700 C532,695 542,696 546,700 C546,705 536,708 528,706 Z" fill="#3fae3f"/>
<path d="M592,700 C596,694 608,694 612,700 C614,708 608,714 598,713 C592,712 590,706 592,700 Z" fill="#7c98c8" opacity="0.85"/>
<path d="M608,700 C616,698 630,702 638,708 C644,714 642,724 634,726 C624,726 614,718 608,710 Z" fill="url(#lg2)" stroke="#888" stroke-width="0.4"/>
<path d="M603,700 C608,695 620,696 624,700 C624,705 614,707 606,705 Z" fill="#3fae3f"/>
<path d="M537.5,708 L550,742" stroke="#9a55b5" stroke-width="4.5" stroke-linecap="round" fill="none"/>
<path d="M541,752 C543,746 553,744 559,746 M550,742 L551,756" stroke="#9a55b5" stroke-width="3" fill="none" stroke-linecap="round"/>
<defs><clipPath id="ci101"><rect x="453.4" y="776.4" width="114.2" height="114.6"/></clipPath></defs>
<rect x="453.4" y="776.4" width="114.2" height="114.6" fill="#fff"/>
<g clip-path="url(#ci101)">
<ellipse cx="486.8" cy="822.5" rx="2.1" ry="1.5" transform="rotate(84 486.8 822.5)" fill="#111"/><ellipse cx="498.5" cy="833.6" rx="1.1" ry="1.3" transform="rotate(38 498.5 833.6)" fill="#111"/><ellipse cx="505.5" cy="829.1" rx="0.8" ry="1.3" transform="rotate(66 505.5 829.1)" fill="#111"/><ellipse cx="485.5" cy="839.9" rx="1.3" ry="0.7" transform="rotate(77 485.5 839.9)" fill="#111"/><ellipse cx="518.9" cy="839.1" rx="1.7" ry="1.2" transform="rotate(159 518.9 839.1)" fill="#111"/><ellipse cx="483.8" cy="833.9" rx="1.3" ry="1.2" transform="rotate(1 483.8 833.9)" fill="#111"/><ellipse cx="481.6" cy="823.8" rx="0.7" ry="1.3" transform="rotate(2 481.6 823.8)" fill="#111"/><ellipse cx="498.4" cy="828.4" rx="1.0" ry="0.6" transform="rotate(27 498.4 828.4)" fill="#111"/><ellipse cx="493.9" cy="815.7" rx="1.7" ry="1.0" transform="rotate(90 493.9 815.7)" fill="#111"/><ellipse cx="483.9" cy="846.6" rx="1.7" ry="1.2" transform="rotate(1 483.9 846.6)" fill="#555"/><ellipse cx="510.4" cy="828.0" rx="2.1" ry="1.4" transform="rotate(151 510.4 828.0)" fill="#555"/><ellipse cx="488.4" cy="807.7" rx="1.9" ry="1.4" transform="rotate(25 488.4 807.7)" fill="#555"/><ellipse cx="502.9" cy="808.6" rx="2.0" ry="1.0" transform="rotate(160 502.9 808.6)" fill="#555"/><ellipse cx="528.0" cy="819.9" rx="1.2" ry="0.6" transform="rotate(99 528.0 819.9)" fill="#111"/><ellipse cx="492.8" cy="829.1" rx="1.1" ry="1.4" transform="rotate(16 492.8 829.1)" fill="#111"/><ellipse cx="496.0" cy="833.4" rx="0.9" ry="1.6" transform="rotate(162 496.0 833.4)" fill="#111"/><ellipse cx="515.2" cy="835.1" rx="2.0" ry="0.5" transform="rotate(114 515.2 835.1)" fill="#111"/><ellipse cx="475.9" cy="829.7" rx="1.9" ry="0.8" transform="rotate(49 475.9 829.7)" fill="#111"/><ellipse cx="477.3" cy="821.6" rx="1.2" ry="1.5" transform="rotate(52 477.3 821.6)" fill="#111"/><ellipse cx="508.7" cy="819.1" rx="0.8" ry="0.7" transform="rotate(12 508.7 819.1)" fill="#555"/><ellipse cx="506.7" cy="832.9" rx="1.3" ry="1.0" transform="rotate(120 506.7 832.9)" fill="#111"/><ellipse cx="490.1" cy="816.3" rx="1.7" ry="1.1" transform="rotate(23 490.1 816.3)" fill="#111"/><ellipse cx="486.0" cy="841.0" rx="1.8" ry="0.8" transform="rotate(78 486.0 841.0)" fill="#111"/><ellipse cx="494.7" cy="829.0" rx="0.8" ry="1.6" transform="rotate(133 494.7 829.0)" fill="#111"/><ellipse cx="489.7" cy="818.5" rx="1.8" ry="1.5" transform="rotate(139 489.7 818.5)" fill="#111"/><ellipse cx="532.0" cy="823.4" rx="0.8" ry="0.9" transform="rotate(81 532.0 823.4)" fill="#555"/><ellipse cx="489.4" cy="821.9" rx="1.8" ry="1.4" transform="rotate(11 489.4 821.9)" fill="#111"/><ellipse cx="493.7" cy="841.6" rx="1.7" ry="1.6" transform="rotate(144 493.7 841.6)" fill="#111"/><ellipse cx="494.9" cy="819.9" rx="1.8" ry="1.0" transform="rotate(48 494.9 819.9)" fill="#555"/><ellipse cx="501.9" cy="845.2" rx="0.8" ry="0.8" transform="rotate(35 501.9 845.2)" fill="#555"/><ellipse cx="493.3" cy="811.5" rx="1.7" ry="1.5" transform="rotate(81 493.3 811.5)" fill="#555"/><ellipse cx="503.2" cy="838.3" rx="1.8" ry="1.5" transform="rotate(92 503.2 838.3)" fill="#555"/><ellipse cx="464.8" cy="811.9" rx="1.2" ry="1.5" transform="rotate(163 464.8 811.9)" fill="#111"/><ellipse cx="487.7" cy="826.7" rx="0.9" ry="0.5" transform="rotate(110 487.7 826.7)" fill="#111"/><ellipse cx="517.7" cy="825.4" rx="2.2" ry="0.9" transform="rotate(24 517.7 825.4)" fill="#555"/><ellipse cx="491.3" cy="839.1" rx="2.2" ry="0.8" transform="rotate(42 491.3 839.1)" fill="#111"/><ellipse cx="480.4" cy="835.1" rx="0.9" ry="1.4" transform="rotate(165 480.4 835.1)" fill="#111"/><ellipse cx="509.2" cy="822.1" rx="0.7" ry="0.8" transform="rotate(162 509.2 822.1)" fill="#111"/><ellipse cx="498.8" cy="832.0" rx="0.9" ry="1.0" transform="rotate(167 498.8 832.0)" fill="#111"/><ellipse cx="497.3" cy="807.5" rx="1.0" ry="1.3" transform="rotate(40 497.3 807.5)" fill="#111"/><ellipse cx="529.0" cy="830.9" rx="0.9" ry="1.1" transform="rotate(119 529.0 830.9)" fill="#111"/><ellipse cx="489.7" cy="816.4" rx="1.9" ry="1.5" transform="rotate(111 489.7 816.4)" fill="#111"/><ellipse cx="499.2" cy="823.0" rx="1.7" ry="0.6" transform="rotate(119 499.2 823.0)" fill="#111"/><ellipse cx="499.0" cy="823.4" rx="2.1" ry="0.5" transform="rotate(10 499.0 823.4)" fill="#555"/><ellipse cx="529.0" cy="848.8" rx="2.0" ry="1.5" transform="rotate(34 529.0 848.8)" fill="#111"/><ellipse cx="543.5" cy="766.3" rx="1.1" ry="1.6" transform="rotate(131 543.5 766.3)" fill="#111"/><ellipse cx="523.5" cy="829.6" rx="1.8" ry="1.1" transform="rotate(88 523.5 829.6)" fill="#111"/><ellipse cx="477.9" cy="828.7" rx="0.8" ry="1.1" transform="rotate(128 477.9 828.7)" fill="#555"/><ellipse cx="521.9" cy="785.6" rx="1.6" ry="1.2" transform="rotate(25 521.9 785.6)" fill="#111"/><ellipse cx="530.8" cy="818.5" rx="1.4" ry="0.6" transform="rotate(18 530.8 818.5)" fill="#111"/><ellipse cx="560.6" cy="823.0" rx="2.0" ry="1.0" transform="rotate(147 560.6 823.0)" fill="#111"/><ellipse cx="536.1" cy="813.6" rx="1.9" ry="1.4" transform="rotate(154 536.1 813.6)" fill="#111"/><ellipse cx="454.6" cy="801.1" rx="1.8" ry="1.3" transform="rotate(164 454.6 801.1)" fill="#555"/><ellipse cx="527.8" cy="771.9" rx="0.7" ry="0.8" transform="rotate(129 527.8 771.9)" fill="#111"/><ellipse cx="507.2" cy="797.1" rx="1.6" ry="1.5" transform="rotate(176 507.2 797.1)" fill="#111"/><ellipse cx="528.5" cy="794.4" rx="0.9" ry="1.1" transform="rotate(149 528.5 794.4)" fill="#555"/><ellipse cx="551.2" cy="828.5" rx="1.2" ry="0.7" transform="rotate(29 551.2 828.5)" fill="#111"/><ellipse cx="484.1" cy="843.2" rx="1.9" ry="0.6" transform="rotate(45 484.1 843.2)" fill="#111"/><ellipse cx="502.0" cy="855.8" rx="0.9" ry="0.7" transform="rotate(160 502.0 855.8)" fill="#555"/><ellipse cx="469.7" cy="811.9" rx="1.1" ry="1.4" transform="rotate(58 469.7 811.9)" fill="#111"/><ellipse cx="459.7" cy="846.0" rx="2.0" ry="1.3" transform="rotate(57 459.7 846.0)" fill="#111"/><ellipse cx="474.3" cy="870.8" rx="2.1" ry="1.6" transform="rotate(28 474.3 870.8)" fill="#111"/><ellipse cx="479.2" cy="852.1" rx="0.9" ry="1.0" transform="rotate(160 479.2 852.1)" fill="#111"/><ellipse cx="479.9" cy="876.7" rx="2.1" ry="0.7" transform="rotate(19 479.9 876.7)" fill="#111"/><ellipse cx="458.6" cy="818.2" rx="2.0" ry="0.5" transform="rotate(32 458.6 818.2)" fill="#555"/><circle cx="521.4" cy="822.9" r="0.58" fill="#222"/><circle cx="531.9" cy="799.9" r="0.69" fill="#777"/><circle cx="468.5" cy="849.8" r="0.39" fill="#999"/><circle cx="533.4" cy="822.2" r="0.70" fill="#444"/><circle cx="486.2" cy="799.6" r="0.71" fill="#777"/><circle cx="429.2" cy="791.6" r="0.33" fill="#999"/><circle cx="496.5" cy="802.0" r="0.38" fill="#444"/><circle cx="556.7" cy="791.9" r="0.42" fill="#222"/><circle cx="554.4" cy="792.9" r="0.31" fill="#444"/><circle cx="523.2" cy="853.1" r="0.47" fill="#777"/><circle cx="538.7" cy="824.1" r="0.65" fill="#444"/><circle cx="519.8" cy="819.5" r="0.64" fill="#444"/><circle cx="491.5" cy="838.7" r="0.46" fill="#444"/><circle cx="479.6" cy="801.3" r="0.51" fill="#222"/><circle cx="545.9" cy="807.4" r="0.33" fill="#222"/><circle cx="483.0" cy="839.1" r="0.33" fill="#444"/><circle cx="545.7" cy="842.6" r="0.71" fill="#777"/><circle cx="475.0" cy="820.0" r="0.68" fill="#222"/><circle cx="575.0" cy="812.2" r="0.37" fill="#444"/><circle cx="531.9" cy="847.0" r="0.43" fill="#444"/><circle cx="493.3" cy="846.0" r="0.48" fill="#444"/><circle cx="501.6" cy="837.2" r="0.32" fill="#444"/><circle cx="468.2" cy="831.8" r="0.37" fill="#444"/><circle cx="496.8" cy="870.5" r="0.66" fill="#222"/><circle cx="540.8" cy="835.3" r="0.54" fill="#999"/><circle cx="499.3" cy="789.5" r="0.55" fill="#222"/><circle cx="506.6" cy="836.9" r="0.53" fill="#222"/><circle cx="508.2" cy="823.9" r="0.40" fill="#444"/><circle cx="528.0" cy="775.4" r="0.68" fill="#222"/><circle cx="513.1" cy="771.7" r="0.72" fill="#222"/><circle cx="555.8" cy="841.3" r="0.74" fill="#999"/><circle cx="557.3" cy="871.7" r="0.58" fill="#222"/><circle cx="555.6" cy="791.2" r="0.52" fill="#777"/><circle cx="540.9" cy="789.3" r="0.64" fill="#777"/><circle cx="546.3" cy="842.6" r="0.41" fill="#444"/><circle cx="474.2" cy="827.4" r="0.41" fill="#222"/><circle cx="503.9" cy="804.5" r="0.52" fill="#777"/><circle cx="494.8" cy="845.8" r="0.49" fill="#444"/><circle cx="474.0" cy="816.6" r="0.35" fill="#999"/><circle cx="473.7" cy="850.7" r="0.45" fill="#444"/><circle cx="541.0" cy="780.5" r="0.62" fill="#444"/><circle cx="516.8" cy="812.9" r="0.30" fill="#777"/><circle cx="417.8" cy="791.0" r="0.43" fill="#222"/><circle cx="516.2" cy="869.3" r="0.56" fill="#222"/><circle cx="523.4" cy="822.1" r="0.42" fill="#999"/><circle cx="461.1" cy="832.6" r="0.58" fill="#444"/><circle cx="475.8" cy="878.1" r="0.74" fill="#777"/><circle cx="531.9" cy="889.3" r="0.52" fill="#222"/><circle cx="481.3" cy="889.4" r="0.53" fill="#222"/><circle cx="531.6" cy="791.6" r="0.57" fill="#999"/><circle cx="535.1" cy="803.6" r="0.35" fill="#444"/><circle cx="523.5" cy="885.2" r="0.59" fill="#999"/><circle cx="543.6" cy="788.2" r="0.54" fill="#999"/><circle cx="460.4" cy="819.3" r="0.69" fill="#999"/><circle cx="473.4" cy="842.1" r="0.75" fill="#999"/><circle cx="547.4" cy="835.6" r="0.47" fill="#444"/><circle cx="501.7" cy="818.5" r="0.59" fill="#999"/><circle cx="489.8" cy="834.7" r="0.58" fill="#999"/><circle cx="518.2" cy="810.6" r="0.40" fill="#444"/><circle cx="501.2" cy="840.0" r="0.52" fill="#777"/><circle cx="554.3" cy="826.6" r="0.32" fill="#222"/><circle cx="509.8" cy="871.4" r="0.68" fill="#999"/><circle cx="451.1" cy="811.9" r="0.75" fill="#444"/><circle cx="466.6" cy="794.6" r="0.53" fill="#444"/><circle cx="549.1" cy="866.1" r="0.41" fill="#222"/><circle cx="500.3" cy="846.7" r="0.58" fill="#999"/><circle cx="505.5" cy="818.6" r="0.43" fill="#444"/><circle cx="495.3" cy="848.6" r="0.42" fill="#444"/><circle cx="540.0" cy="831.5" r="0.50" fill="#222"/><circle cx="557.9" cy="870.5" r="0.50" fill="#999"/><circle cx="505.8" cy="854.0" r="0.45" fill="#444"/><circle cx="564.6" cy="882.2" r="0.57" fill="#444"/><circle cx="512.2" cy="867.6" r="0.53" fill="#999"/><circle cx="486.2" cy="809.6" r="0.32" fill="#222"/><circle cx="510.7" cy="813.9" r="0.34" fill="#777"/><circle cx="494.7" cy="794.6" r="0.30" fill="#222"/><circle cx="560.8" cy="886.3" r="0.73" fill="#999"/><circle cx="544.7" cy="837.2" r="0.49" fill="#444"/><circle cx="548.5" cy="828.6" r="0.50" fill="#222"/><circle cx="464.2" cy="796.2" r="0.63" fill="#777"/><circle cx="477.2" cy="826.7" r="0.57" fill="#222"/><circle cx="532.4" cy="781.6" r="0.34" fill="#444"/><circle cx="551.4" cy="870.4" r="0.72" fill="#222"/><circle cx="479.4" cy="888.1" r="0.46" fill="#444"/><circle cx="454.6" cy="807.6" r="0.63" fill="#444"/><circle cx="501.2" cy="781.0" r="0.53" fill="#444"/><circle cx="539.6" cy="850.7" r="0.58" fill="#444"/><circle cx="486.3" cy="817.0" r="0.63" fill="#444"/><circle cx="459.0" cy="865.0" r="0.36" fill="#222"/><circle cx="515.9" cy="828.2" r="0.60" fill="#222"/><circle cx="530.9" cy="805.8" r="0.60" fill="#222"/><circle cx="507.3" cy="883.2" r="0.71" fill="#999"/><circle cx="465.6" cy="818.3" r="0.50" fill="#222"/><circle cx="503.0" cy="874.5" r="0.30" fill="#777"/><circle cx="512.9" cy="798.0" r="0.65" fill="#777"/><circle cx="467.6" cy="773.2" r="0.71" fill="#999"/><circle cx="532.7" cy="792.9" r="0.51" fill="#444"/><circle cx="476.5" cy="812.4" r="0.51" fill="#999"/><circle cx="466.1" cy="786.4" r="0.31" fill="#777"/><circle cx="526.9" cy="853.0" r="0.35" fill="#999"/><circle cx="507.5" cy="824.2" r="0.45" fill="#222"/><circle cx="553.0" cy="871.7" r="0.44" fill="#777"/><circle cx="546.4" cy="879.1" r="0.33" fill="#222"/><circle cx="469.2" cy="880.1" r="0.48" fill="#999"/><circle cx="455.8" cy="774.3" r="0.42" fill="#999"/><circle cx="511.7" cy="790.0" r="0.37" fill="#222"/><circle cx="545.0" cy="801.5" r="0.43" fill="#999"/><circle cx="493.7" cy="864.3" r="0.65" fill="#444"/><circle cx="519.1" cy="852.4" r="0.48" fill="#222"/><circle cx="449.8" cy="812.0" r="0.47" fill="#222"/><circle cx="529.8" cy="790.4" r="0.65" fill="#999"/><circle cx="498.1" cy="832.2" r="0.51" fill="#222"/><circle cx="475.9" cy="859.6" r="0.67" fill="#222"/><circle cx="491.6" cy="817.7" r="0.52" fill="#777"/><circle cx="488.2" cy="875.8" r="0.46" fill="#444"/><circle cx="540.2" cy="825.0" r="0.63" fill="#444"/><circle cx="516.7" cy="777.0" r="0.51" fill="#777"/><circle cx="529.2" cy="871.6" r="0.49" fill="#222"/><circle cx="504.4" cy="835.5" r="0.46" fill="#999"/><circle cx="541.4" cy="762.7" r="0.63" fill="#999"/><circle cx="472.4" cy="823.5" r="0.30" fill="#222"/><circle cx="532.6" cy="786.7" r="0.70" fill="#444"/><circle cx="478.9" cy="830.8" r="0.58" fill="#777"/><circle cx="457.7" cy="887.2" r="0.47" fill="#999"/><circle cx="553.5" cy="881.1" r="0.35" fill="#999"/><circle cx="502.1" cy="788.6" r="0.59" fill="#999"/><circle cx="563.0" cy="788.7" r="0.31" fill="#777"/><circle cx="507.1" cy="804.1" r="0.72" fill="#999"/><circle cx="484.0" cy="780.8" r="0.42" fill="#444"/><circle cx="476.0" cy="823.7" r="0.54" fill="#222"/><circle cx="479.2" cy="814.6" r="0.71" fill="#777"/><circle cx="523.5" cy="782.8" r="0.38" fill="#222"/><circle cx="497.1" cy="830.0" r="0.42" fill="#999"/><circle cx="530.4" cy="888.9" r="0.67" fill="#222"/><circle cx="488.2" cy="837.8" r="0.68" fill="#999"/><circle cx="502.5" cy="830.8" r="0.46" fill="#222"/><circle cx="508.8" cy="797.2" r="0.73" fill="#999"/><circle cx="541.8" cy="789.5" r="0.45" fill="#222"/><circle cx="499.2" cy="840.0" r="0.37" fill="#222"/><circle cx="487.9" cy="863.8" r="0.41" fill="#222"/><circle cx="481.4" cy="855.4" r="0.74" fill="#999"/><circle cx="484.5" cy="796.6" r="0.45" fill="#444"/><circle cx="513.4" cy="816.6" r="0.53" fill="#777"/><circle cx="519.2" cy="806.5" r="0.45" fill="#222"/><circle cx="472.2" cy="794.4" r="0.68" fill="#222"/><circle cx="552.2" cy="836.2" r="0.43" fill="#222"/><circle cx="462.4" cy="869.5" r="0.35" fill="#999"/><circle cx="474.9" cy="855.5" r="0.46" fill="#999"/><circle cx="458.8" cy="863.2" r="0.68" fill="#999"/><circle cx="564.0" cy="824.0" r="0.38" fill="#777"/><circle cx="520.4" cy="835.8" r="0.48" fill="#444"/><circle cx="517.8" cy="787.8" r="0.73" fill="#777"/><circle cx="520.7" cy="813.2" r="0.74" fill="#999"/><circle cx="474.1" cy="767.0" r="0.57" fill="#777"/><circle cx="497.3" cy="782.6" r="0.47" fill="#444"/><circle cx="503.3" cy="807.5" r="0.43" fill="#999"/><circle cx="536.1" cy="823.6" r="0.75" fill="#222"/><circle cx="563.8" cy="887.4" r="0.64" fill="#999"/><circle cx="466.8" cy="792.7" r="0.33" fill="#222"/><circle cx="466.2" cy="850.6" r="0.72" fill="#999"/><circle cx="468.7" cy="835.6" r="0.30" fill="#444"/><circle cx="551.2" cy="824.2" r="0.45" fill="#999"/><circle cx="487.3" cy="830.1" r="0.48" fill="#222"/><circle cx="459.6" cy="867.2" r="0.52" fill="#444"/><circle cx="423.3" cy="788.0" r="0.61" fill="#444"/><circle cx="476.6" cy="841.1" r="0.40" fill="#222"/><circle cx="519.7" cy="819.3" r="0.39" fill="#999"/><circle cx="561.3" cy="851.5" r="0.40" fill="#444"/><circle cx="503.4" cy="804.7" r="0.35" fill="#999"/><circle cx="469.8" cy="868.8" r="0.36" fill="#999"/><circle cx="498.9" cy="826.5" r="0.34" fill="#444"/><circle cx="544.2" cy="827.4" r="0.43" fill="#999"/><circle cx="389.3" cy="833.1" r="0.73" fill="#777"/><circle cx="496.2" cy="825.7" r="0.37" fill="#222"/><circle cx="476.4" cy="778.4" r="0.55" fill="#999"/><circle cx="503.8" cy="791.9" r="0.41" fill="#444"/><circle cx="548.7" cy="851.5" r="0.51" fill="#999"/><circle cx="488.0" cy="800.3" r="0.38" fill="#999"/><circle cx="470.8" cy="850.7" r="0.60" fill="#222"/><circle cx="469.2" cy="821.9" r="0.34" fill="#222"/><circle cx="559.2" cy="874.1" r="0.52" fill="#777"/><circle cx="545.9" cy="854.1" r="0.65" fill="#999"/><circle cx="527.3" cy="804.0" r="0.32" fill="#444"/><circle cx="500.8" cy="842.3" r="0.58" fill="#777"/><circle cx="487.5" cy="780.6" r="0.49" fill="#999"/><circle cx="494.0" cy="849.0" r="0.66" fill="#999"/><circle cx="441.3" cy="819.9" r="0.42" fill="#222"/><circle cx="464.2" cy="863.1" r="0.46" fill="#444"/><circle cx="547.7" cy="858.5" r="0.31" fill="#222"/><circle cx="529.1" cy="844.2" r="0.41" fill="#222"/><circle cx="503.7" cy="799.7" r="0.36" fill="#222"/><circle cx="525.6" cy="790.5" r="0.31" fill="#444"/><circle cx="484.3" cy="822.6" r="0.70" fill="#999"/><circle cx="527.7" cy="822.8" r="0.34" fill="#999"/><circle cx="530.3" cy="761.1" r="0.38" fill="#222"/><circle cx="540.4" cy="786.9" r="0.41" fill="#777"/><circle cx="454.6" cy="800.8" r="0.40" fill="#222"/><circle cx="551.1" cy="782.1" r="0.62" fill="#999"/><circle cx="501.0" cy="811.8" r="0.33" fill="#222"/><circle cx="527.6" cy="813.8" r="0.64" fill="#777"/><circle cx="519.7" cy="750.3" r="0.48" fill="#999"/><circle cx="510.4" cy="814.3" r="0.59" fill="#777"/><circle cx="485.8" cy="850.1" r="0.62" fill="#222"/><circle cx="515.4" cy="836.3" r="0.63" fill="#999"/><circle cx="514.6" cy="774.0" r="0.66" fill="#444"/><circle cx="507.6" cy="792.7" r="0.60" fill="#777"/><circle cx="503.7" cy="778.8" r="0.35" fill="#444"/><circle cx="536.3" cy="836.2" r="0.72" fill="#777"/><circle cx="567.5" cy="880.1" r="0.43" fill="#999"/><circle cx="563.1" cy="828.7" r="0.53" fill="#444"/><circle cx="557.6" cy="859.0" r="0.69" fill="#777"/><circle cx="561.4" cy="778.7" r="0.45" fill="#777"/><circle cx="488.9" cy="878.8" r="0.69" fill="#999"/><circle cx="537.3" cy="811.4" r="0.40" fill="#999"/><circle cx="483.1" cy="838.7" r="0.68" fill="#222"/><circle cx="489.2" cy="835.8" r="0.33" fill="#444"/><circle cx="533.9" cy="780.9" r="0.59" fill="#999"/><circle cx="499.1" cy="875.4" r="0.48" fill="#777"/><circle cx="557.5" cy="829.1" r="0.62" fill="#999"/><circle cx="498.5" cy="802.8" r="0.74" fill="#444"/>
</g>
<rect x="453.4" y="776.4" width="114.2" height="114.6" fill="none" stroke="#2a2a2a" stroke-width="1.2"/>
<defs><clipPath id="ci102"><rect x="570.4" y="776.4" width="116" height="114.6"/></clipPath></defs>
<rect x="570.4" y="776.4" width="116.0" height="114.6" fill="#fff"/>
<g clip-path="url(#ci102)">
<ellipse cx="620.9" cy="836.4" rx="0.9" ry="1.1" transform="rotate(109 620.9 836.4)" fill="#555"/><ellipse cx="588.8" cy="810.7" rx="0.8" ry="1.0" transform="rotate(112 588.8 810.7)" fill="#555"/><ellipse cx="627.3" cy="807.4" rx="1.2" ry="0.7" transform="rotate(23 627.3 807.4)" fill="#111"/><ellipse cx="596.9" cy="805.4" rx="1.2" ry="0.9" transform="rotate(40 596.9 805.4)" fill="#555"/><ellipse cx="621.3" cy="836.3" rx="1.5" ry="1.1" transform="rotate(44 621.3 836.3)" fill="#555"/><ellipse cx="592.3" cy="839.2" rx="1.3" ry="1.1" transform="rotate(78 592.3 839.2)" fill="#555"/><ellipse cx="615.1" cy="817.7" rx="0.9" ry="1.0" transform="rotate(114 615.1 817.7)" fill="#555"/><ellipse cx="587.9" cy="817.0" rx="1.5" ry="1.3" transform="rotate(149 587.9 817.0)" fill="#111"/><ellipse cx="563.1" cy="827.9" rx="1.2" ry="1.0" transform="rotate(156 563.1 827.9)" fill="#111"/><ellipse cx="583.1" cy="835.6" rx="1.4" ry="1.3" transform="rotate(112 583.1 835.6)" fill="#555"/><ellipse cx="627.8" cy="819.4" rx="1.2" ry="1.3" transform="rotate(170 627.8 819.4)" fill="#555"/><ellipse cx="637.9" cy="833.3" rx="1.8" ry="0.8" transform="rotate(46 637.9 833.3)" fill="#111"/><ellipse cx="617.6" cy="818.7" rx="1.2" ry="1.1" transform="rotate(40 617.6 818.7)" fill="#555"/><ellipse cx="618.8" cy="833.6" rx="1.0" ry="0.6" transform="rotate(70 618.8 833.6)" fill="#555"/><ellipse cx="613.5" cy="827.0" rx="1.2" ry="0.8" transform="rotate(131 613.5 827.0)" fill="#555"/><ellipse cx="606.5" cy="830.4" rx="1.1" ry="1.1" transform="rotate(36 606.5 830.4)" fill="#555"/><ellipse cx="617.8" cy="799.1" rx="1.3" ry="1.2" transform="rotate(116 617.8 799.1)" fill="#555"/><ellipse cx="615.2" cy="826.4" rx="1.6" ry="0.8" transform="rotate(151 615.2 826.4)" fill="#111"/><ellipse cx="623.7" cy="814.9" rx="0.7" ry="0.7" transform="rotate(39 623.7 814.9)" fill="#111"/><ellipse cx="593.9" cy="794.0" rx="1.5" ry="1.3" transform="rotate(115 593.9 794.0)" fill="#555"/><ellipse cx="613.5" cy="813.1" rx="1.6" ry="1.1" transform="rotate(156 613.5 813.1)" fill="#555"/><ellipse cx="622.6" cy="851.5" rx="0.9" ry="0.9" transform="rotate(108 622.6 851.5)" fill="#555"/><ellipse cx="638.6" cy="799.7" rx="1.1" ry="0.6" transform="rotate(165 638.6 799.7)" fill="#555"/><ellipse cx="606.1" cy="829.1" rx="0.7" ry="1.0" transform="rotate(51 606.1 829.1)" fill="#111"/><ellipse cx="624.4" cy="815.2" rx="1.8" ry="0.6" transform="rotate(136 624.4 815.2)" fill="#111"/><ellipse cx="610.4" cy="821.2" rx="1.3" ry="1.0" transform="rotate(108 610.4 821.2)" fill="#555"/><ellipse cx="600.4" cy="849.8" rx="1.8" ry="1.1" transform="rotate(173 600.4 849.8)" fill="#111"/><ellipse cx="630.3" cy="831.6" rx="0.8" ry="1.2" transform="rotate(117 630.3 831.6)" fill="#555"/><ellipse cx="609.9" cy="826.0" rx="0.9" ry="1.3" transform="rotate(41 609.9 826.0)" fill="#111"/><ellipse cx="616.9" cy="830.8" rx="1.3" ry="0.8" transform="rotate(174 616.9 830.8)" fill="#555"/><ellipse cx="593.9" cy="822.9" rx="0.8" ry="1.1" transform="rotate(61 593.9 822.9)" fill="#555"/><ellipse cx="603.3" cy="816.8" rx="0.8" ry="1.1" transform="rotate(179 603.3 816.8)" fill="#555"/><ellipse cx="550.4" cy="834.4" rx="1.7" ry="1.4" transform="rotate(95 550.4 834.4)" fill="#111"/><ellipse cx="625.1" cy="827.1" rx="1.7" ry="0.8" transform="rotate(79 625.1 827.1)" fill="#555"/><ellipse cx="582.0" cy="838.3" rx="1.9" ry="0.7" transform="rotate(58 582.0 838.3)" fill="#111"/><ellipse cx="604.7" cy="798.2" rx="1.5" ry="1.3" transform="rotate(152 604.7 798.2)" fill="#111"/><ellipse cx="604.4" cy="827.4" rx="1.7" ry="1.2" transform="rotate(160 604.4 827.4)" fill="#555"/><ellipse cx="603.0" cy="792.1" rx="0.9" ry="0.5" transform="rotate(31 603.0 792.1)" fill="#555"/><ellipse cx="591.8" cy="800.2" rx="1.7" ry="1.1" transform="rotate(176 591.8 800.2)" fill="#111"/><ellipse cx="568.3" cy="832.9" rx="1.6" ry="0.7" transform="rotate(105 568.3 832.9)" fill="#555"/><ellipse cx="579.4" cy="836.0" rx="0.7" ry="1.0" transform="rotate(78 579.4 836.0)" fill="#555"/><ellipse cx="626.1" cy="828.3" rx="1.1" ry="0.6" transform="rotate(72 626.1 828.3)" fill="#111"/><ellipse cx="633.7" cy="832.9" rx="0.8" ry="0.9" transform="rotate(66 633.7 832.9)" fill="#111"/><ellipse cx="629.0" cy="808.7" rx="1.1" ry="0.8" transform="rotate(148 629.0 808.7)" fill="#555"/><ellipse cx="586.9" cy="806.3" rx="0.9" ry="0.8" transform="rotate(172 586.9 806.3)" fill="#555"/><ellipse cx="612.1" cy="815.9" rx="0.7" ry="0.9" transform="rotate(51 612.1 815.9)" fill="#111"/><ellipse cx="606.6" cy="818.4" rx="1.3" ry="0.8" transform="rotate(163 606.6 818.4)" fill="#111"/><ellipse cx="628.2" cy="807.8" rx="1.1" ry="1.0" transform="rotate(98 628.2 807.8)" fill="#555"/><ellipse cx="599.5" cy="840.2" rx="1.8" ry="0.7" transform="rotate(64 599.5 840.2)" fill="#555"/><ellipse cx="594.2" cy="831.7" rx="0.8" ry="1.1" transform="rotate(62 594.2 831.7)" fill="#111"/><ellipse cx="607.3" cy="843.1" rx="1.9" ry="0.6" transform="rotate(67 607.3 843.1)" fill="#111"/><ellipse cx="592.8" cy="828.6" rx="0.9" ry="1.2" transform="rotate(59 592.8 828.6)" fill="#111"/><ellipse cx="595.4" cy="819.1" rx="1.9" ry="1.3" transform="rotate(135 595.4 819.1)" fill="#111"/><ellipse cx="607.0" cy="790.4" rx="0.9" ry="0.7" transform="rotate(137 607.0 790.4)" fill="#555"/><ellipse cx="640.0" cy="819.7" rx="1.3" ry="0.6" transform="rotate(110 640.0 819.7)" fill="#111"/><ellipse cx="578.6" cy="811.1" rx="1.3" ry="1.3" transform="rotate(107 578.6 811.1)" fill="#555"/><ellipse cx="610.7" cy="814.9" rx="1.8" ry="1.3" transform="rotate(35 610.7 814.9)" fill="#555"/><ellipse cx="600.1" cy="808.3" rx="1.1" ry="1.2" transform="rotate(60 600.1 808.3)" fill="#555"/><ellipse cx="571.0" cy="813.6" rx="1.9" ry="0.6" transform="rotate(134 571.0 813.6)" fill="#555"/><ellipse cx="623.6" cy="819.7" rx="0.8" ry="0.8" transform="rotate(93 623.6 819.7)" fill="#555"/><ellipse cx="608.0" cy="810.5" rx="1.6" ry="0.7" transform="rotate(88 608.0 810.5)" fill="#111"/><ellipse cx="610.0" cy="832.3" rx="1.7" ry="0.8" transform="rotate(63 610.0 832.3)" fill="#111"/><ellipse cx="593.0" cy="797.8" rx="1.4" ry="1.2" transform="rotate(161 593.0 797.8)" fill="#111"/><ellipse cx="630.2" cy="812.3" rx="1.5" ry="0.8" transform="rotate(19 630.2 812.3)" fill="#111"/><ellipse cx="592.0" cy="828.1" rx="1.4" ry="1.2" transform="rotate(149 592.0 828.1)" fill="#555"/><ellipse cx="613.1" cy="772.7" rx="1.9" ry="1.3" transform="rotate(103 613.1 772.7)" fill="#111"/><ellipse cx="557.5" cy="785.5" rx="1.9" ry="0.8" transform="rotate(22 557.5 785.5)" fill="#111"/><ellipse cx="652.1" cy="787.8" rx="1.3" ry="0.9" transform="rotate(22 652.1 787.8)" fill="#111"/><ellipse cx="598.2" cy="801.1" rx="0.8" ry="1.3" transform="rotate(75 598.2 801.1)" fill="#111"/><ellipse cx="626.9" cy="800.9" rx="1.6" ry="1.2" transform="rotate(34 626.9 800.9)" fill="#555"/><ellipse cx="622.1" cy="775.6" rx="0.8" ry="1.0" transform="rotate(160 622.1 775.6)" fill="#111"/><ellipse cx="604.8" cy="787.8" rx="1.3" ry="0.5" transform="rotate(144 604.8 787.8)" fill="#111"/><ellipse cx="626.0" cy="817.6" rx="1.0" ry="0.5" transform="rotate(130 626.0 817.6)" fill="#555"/><ellipse cx="592.4" cy="791.4" rx="0.7" ry="1.1" transform="rotate(110 592.4 791.4)" fill="#111"/><ellipse cx="589.4" cy="780.6" rx="0.9" ry="0.9" transform="rotate(107 589.4 780.6)" fill="#111"/><ellipse cx="581.7" cy="786.8" rx="1.7" ry="1.2" transform="rotate(45 581.7 786.8)" fill="#555"/><ellipse cx="652.7" cy="796.7" rx="1.0" ry="1.0" transform="rotate(95 652.7 796.7)" fill="#111"/><ellipse cx="635.2" cy="790.5" rx="0.9" ry="0.9" transform="rotate(33 635.2 790.5)" fill="#555"/><ellipse cx="597.7" cy="781.5" rx="1.5" ry="1.2" transform="rotate(180 597.7 781.5)" fill="#555"/><ellipse cx="588.8" cy="782.2" rx="0.7" ry="1.4" transform="rotate(72 588.8 782.2)" fill="#111"/><ellipse cx="603.5" cy="806.4" rx="0.8" ry="1.3" transform="rotate(8 603.5 806.4)" fill="#555"/><ellipse cx="595.0" cy="783.0" rx="1.1" ry="1.3" transform="rotate(126 595.0 783.0)" fill="#555"/><ellipse cx="585.4" cy="773.2" rx="1.7" ry="0.8" transform="rotate(139 585.4 773.2)" fill="#555"/><ellipse cx="538.2" cy="816.7" rx="1.6" ry="0.8" transform="rotate(98 538.2 816.7)" fill="#555"/><ellipse cx="591.6" cy="784.3" rx="1.2" ry="0.9" transform="rotate(158 591.6 784.3)" fill="#111"/><ellipse cx="601.2" cy="806.1" rx="1.8" ry="1.1" transform="rotate(108 601.2 806.1)" fill="#111"/><ellipse cx="610.1" cy="808.4" rx="1.6" ry="0.9" transform="rotate(74 610.1 808.4)" fill="#555"/><ellipse cx="585.1" cy="791.9" rx="1.7" ry="0.6" transform="rotate(139 585.1 791.9)" fill="#555"/><ellipse cx="599.9" cy="803.6" rx="1.0" ry="0.6" transform="rotate(179 599.9 803.6)" fill="#555"/><ellipse cx="632.9" cy="803.4" rx="1.9" ry="0.7" transform="rotate(42 632.9 803.4)" fill="#111"/><ellipse cx="586.7" cy="805.9" rx="1.4" ry="1.4" transform="rotate(68 586.7 805.9)" fill="#555"/><ellipse cx="591.2" cy="783.4" rx="1.8" ry="0.9" transform="rotate(114 591.2 783.4)" fill="#555"/><ellipse cx="576.0" cy="789.0" rx="0.9" ry="0.6" transform="rotate(71 576.0 789.0)" fill="#111"/><ellipse cx="569.5" cy="795.3" rx="1.2" ry="1.2" transform="rotate(64 569.5 795.3)" fill="#555"/><ellipse cx="582.6" cy="807.2" rx="1.3" ry="1.0" transform="rotate(168 582.6 807.2)" fill="#555"/><ellipse cx="542.5" cy="773.9" rx="1.6" ry="1.2" transform="rotate(146 542.5 773.9)" fill="#555"/><ellipse cx="584.0" cy="789.2" rx="1.1" ry="0.6" transform="rotate(141 584.0 789.2)" fill="#111"/><ellipse cx="618.0" cy="787.8" rx="1.8" ry="1.2" transform="rotate(111 618.0 787.8)" fill="#111"/><ellipse cx="600.7" cy="794.5" rx="1.4" ry="1.1" transform="rotate(65 600.7 794.5)" fill="#111"/><ellipse cx="599.1" cy="791.6" rx="1.2" ry="0.5" transform="rotate(67 599.1 791.6)" fill="#555"/><ellipse cx="656.8" cy="800.1" rx="1.6" ry="0.7" transform="rotate(175 656.8 800.1)" fill="#555"/><ellipse cx="650.3" cy="791.6" rx="1.8" ry="0.9" transform="rotate(151 650.3 791.6)" fill="#555"/><ellipse cx="639.6" cy="824.6" rx="0.7" ry="0.6" transform="rotate(25 639.6 824.6)" fill="#111"/><ellipse cx="645.6" cy="791.0" rx="1.4" ry="1.2" transform="rotate(1 645.6 791.0)" fill="#111"/><ellipse cx="647.1" cy="802.1" rx="1.3" ry="0.8" transform="rotate(71 647.1 802.1)" fill="#111"/><ellipse cx="664.0" cy="801.5" rx="0.9" ry="1.3" transform="rotate(85 664.0 801.5)" fill="#555"/><ellipse cx="630.7" cy="798.1" rx="0.8" ry="1.2" transform="rotate(77 630.7 798.1)" fill="#111"/><ellipse cx="646.4" cy="777.6" rx="1.8" ry="0.8" transform="rotate(102 646.4 777.6)" fill="#111"/><ellipse cx="627.9" cy="786.6" rx="1.6" ry="1.1" transform="rotate(109 627.9 786.6)" fill="#555"/><ellipse cx="652.0" cy="807.4" rx="0.8" ry="1.0" transform="rotate(109 652.0 807.4)" fill="#555"/><ellipse cx="624.8" cy="816.7" rx="0.9" ry="1.0" transform="rotate(92 624.8 816.7)" fill="#555"/><ellipse cx="637.5" cy="828.9" rx="1.4" ry="0.9" transform="rotate(14 637.5 828.9)" fill="#555"/><ellipse cx="634.2" cy="801.8" rx="1.5" ry="1.1" transform="rotate(11 634.2 801.8)" fill="#555"/><ellipse cx="637.4" cy="816.1" rx="1.4" ry="1.2" transform="rotate(7 637.4 816.1)" fill="#555"/><ellipse cx="588.5" cy="841.7" rx="0.7" ry="0.9" transform="rotate(42 588.5 841.7)" fill="#555"/><ellipse cx="607.3" cy="831.3" rx="1.5" ry="1.3" transform="rotate(132 607.3 831.3)" fill="#555"/><ellipse cx="593.8" cy="817.8" rx="1.8" ry="1.3" transform="rotate(142 593.8 817.8)" fill="#111"/><ellipse cx="613.8" cy="843.2" rx="1.2" ry="1.1" transform="rotate(175 613.8 843.2)" fill="#555"/><ellipse cx="581.0" cy="853.1" rx="0.8" ry="1.0" transform="rotate(34 581.0 853.1)" fill="#555"/><ellipse cx="570.0" cy="841.4" rx="1.3" ry="0.5" transform="rotate(24 570.0 841.4)" fill="#555"/><ellipse cx="598.0" cy="852.6" rx="1.1" ry="1.3" transform="rotate(138 598.0 852.6)" fill="#111"/><ellipse cx="591.7" cy="843.6" rx="1.6" ry="1.1" transform="rotate(166 591.7 843.6)" fill="#555"/><ellipse cx="594.4" cy="856.5" rx="1.2" ry="0.8" transform="rotate(49 594.4 856.5)" fill="#111"/><ellipse cx="629.2" cy="837.3" rx="0.8" ry="0.6" transform="rotate(81 629.2 837.3)" fill="#111"/><ellipse cx="592.6" cy="823.3" rx="0.8" ry="1.0" transform="rotate(9 592.6 823.3)" fill="#111"/><ellipse cx="597.5" cy="839.3" rx="1.2" ry="0.6" transform="rotate(158 597.5 839.3)" fill="#555"/><circle cx="680.2" cy="811.1" r="0.54" fill="#999"/><circle cx="646.6" cy="811.1" r="0.52" fill="#999"/><circle cx="589.4" cy="844.5" r="0.37" fill="#444"/><circle cx="587.1" cy="872.0" r="0.65" fill="#999"/><circle cx="583.4" cy="807.9" r="0.54" fill="#777"/><circle cx="588.4" cy="837.4" r="0.59" fill="#222"/><circle cx="606.7" cy="818.9" r="0.61" fill="#222"/><circle cx="645.2" cy="778.8" r="0.30" fill="#444"/><circle cx="681.4" cy="778.9" r="0.63" fill="#222"/><circle cx="670.2" cy="799.9" r="0.35" fill="#999"/><circle cx="644.4" cy="797.5" r="0.75" fill="#777"/><circle cx="594.4" cy="807.6" r="0.31" fill="#777"/><circle cx="615.6" cy="804.5" r="0.63" fill="#222"/><circle cx="587.5" cy="846.8" r="0.66" fill="#999"/><circle cx="551.1" cy="813.7" r="0.74" fill="#999"/><circle cx="628.1" cy="827.8" r="0.46" fill="#222"/><circle cx="592.8" cy="779.2" r="0.36" fill="#444"/><circle cx="616.1" cy="850.9" r="0.63" fill="#222"/><circle cx="627.3" cy="826.5" r="0.33" fill="#999"/><circle cx="627.5" cy="865.7" r="0.54" fill="#444"/><circle cx="560.5" cy="797.7" r="0.53" fill="#222"/><circle cx="618.1" cy="812.6" r="0.42" fill="#999"/><circle cx="587.3" cy="854.7" r="0.50" fill="#777"/><circle cx="581.9" cy="879.9" r="0.39" fill="#222"/><circle cx="619.2" cy="833.5" r="0.59" fill="#777"/><circle cx="647.5" cy="815.5" r="0.65" fill="#999"/><circle cx="585.2" cy="798.5" r="0.32" fill="#222"/><circle cx="670.0" cy="777.3" r="0.34" fill="#444"/><circle cx="632.1" cy="763.0" r="0.61" fill="#777"/><circle cx="622.1" cy="781.1" r="0.35" fill="#444"/><circle cx="656.5" cy="817.4" r="0.74" fill="#999"/><circle cx="585.7" cy="820.3" r="0.34" fill="#222"/><circle cx="580.1" cy="855.6" r="0.34" fill="#222"/><circle cx="663.4" cy="871.0" r="0.53" fill="#777"/><circle cx="591.3" cy="779.1" r="0.70" fill="#777"/><circle cx="639.7" cy="821.6" r="0.64" fill="#444"/><circle cx="684.1" cy="787.0" r="0.35" fill="#777"/><circle cx="628.5" cy="773.3" r="0.67" fill="#777"/><circle cx="629.3" cy="838.1" r="0.64" fill="#222"/><circle cx="591.1" cy="826.5" r="0.62" fill="#222"/><circle cx="578.8" cy="799.6" r="0.65" fill="#222"/><circle cx="568.8" cy="817.3" r="0.35" fill="#999"/><circle cx="603.3" cy="841.2" r="0.36" fill="#777"/><circle cx="582.1" cy="810.6" r="0.40" fill="#999"/><circle cx="647.2" cy="793.6" r="0.31" fill="#222"/><circle cx="583.6" cy="819.9" r="0.69" fill="#222"/><circle cx="653.2" cy="779.9" r="0.39" fill="#999"/><circle cx="665.7" cy="783.6" r="0.68" fill="#999"/><circle cx="602.2" cy="828.3" r="0.32" fill="#999"/><circle cx="653.8" cy="858.7" r="0.38" fill="#222"/><circle cx="655.2" cy="783.9" r="0.55" fill="#999"/><circle cx="653.2" cy="822.9" r="0.56" fill="#999"/><circle cx="556.8" cy="796.2" r="0.57" fill="#222"/><circle cx="551.1" cy="815.0" r="0.36" fill="#444"/><circle cx="571.5" cy="791.0" r="0.31" fill="#444"/><circle cx="685.7" cy="856.4" r="0.37" fill="#444"/><circle cx="659.9" cy="832.6" r="0.38" fill="#999"/><circle cx="654.7" cy="808.0" r="0.40" fill="#444"/><circle cx="681.2" cy="805.4" r="0.35" fill="#777"/><circle cx="679.1" cy="880.7" r="0.63" fill="#222"/><circle cx="661.6" cy="820.0" r="0.62" fill="#444"/><circle cx="579.1" cy="872.2" r="0.45" fill="#999"/><circle cx="659.1" cy="783.2" r="0.73" fill="#444"/><circle cx="685.5" cy="869.4" r="0.47" fill="#777"/><circle cx="576.7" cy="848.7" r="0.45" fill="#444"/><circle cx="637.5" cy="821.4" r="0.63" fill="#444"/><circle cx="584.9" cy="829.2" r="0.66" fill="#444"/><circle cx="590.6" cy="830.9" r="0.57" fill="#999"/><circle cx="631.3" cy="799.0" r="0.46" fill="#777"/><circle cx="649.7" cy="838.8" r="0.51" fill="#222"/><circle cx="607.3" cy="799.4" r="0.53" fill="#222"/><circle cx="606.6" cy="785.7" r="0.40" fill="#999"/><circle cx="606.1" cy="794.6" r="0.40" fill="#999"/><circle cx="582.3" cy="853.7" r="0.46" fill="#999"/><circle cx="603.2" cy="790.8" r="0.74" fill="#777"/><circle cx="678.1" cy="799.0" r="0.71" fill="#777"/><circle cx="640.8" cy="801.9" r="0.30" fill="#777"/><circle cx="668.7" cy="875.4" r="0.35" fill="#444"/><circle cx="661.2" cy="845.9" r="0.62" fill="#444"/><circle cx="676.0" cy="876.8" r="0.45" fill="#999"/><circle cx="628.1" cy="750.1" r="0.39" fill="#777"/><circle cx="652.7" cy="815.0" r="0.53" fill="#999"/><circle cx="620.4" cy="832.0" r="0.52" fill="#777"/><circle cx="554.7" cy="739.3" r="0.62" fill="#999"/><circle cx="621.8" cy="833.8" r="0.43" fill="#222"/><circle cx="609.9" cy="822.3" r="0.56" fill="#444"/><circle cx="656.4" cy="831.9" r="0.68" fill="#999"/><circle cx="600.5" cy="800.0" r="0.50" fill="#777"/><circle cx="679.7" cy="834.1" r="0.37" fill="#444"/><circle cx="605.0" cy="839.3" r="0.67" fill="#222"/><circle cx="638.7" cy="793.0" r="0.75" fill="#777"/><circle cx="608.5" cy="869.2" r="0.71" fill="#777"/><circle cx="630.2" cy="873.7" r="0.48" fill="#444"/><circle cx="670.8" cy="803.1" r="0.61" fill="#444"/><circle cx="589.3" cy="838.3" r="0.32" fill="#777"/><circle cx="660.9" cy="845.1" r="0.56" fill="#999"/><circle cx="674.7" cy="834.8" r="0.44" fill="#222"/><circle cx="608.3" cy="817.1" r="0.46" fill="#999"/><circle cx="599.4" cy="800.7" r="0.43" fill="#222"/><circle cx="676.1" cy="844.4" r="0.42" fill="#222"/><circle cx="630.6" cy="856.4" r="0.73" fill="#222"/><circle cx="644.1" cy="757.8" r="0.58" fill="#444"/><circle cx="643.0" cy="805.4" r="0.56" fill="#777"/><circle cx="608.5" cy="796.8" r="0.49" fill="#999"/><circle cx="583.4" cy="816.5" r="0.31" fill="#222"/><circle cx="644.1" cy="832.8" r="0.62" fill="#444"/><circle cx="664.2" cy="773.6" r="0.32" fill="#777"/><circle cx="601.3" cy="800.9" r="0.38" fill="#222"/><circle cx="596.6" cy="852.6" r="0.55" fill="#777"/><circle cx="605.9" cy="850.6" r="0.57" fill="#777"/><circle cx="621.4" cy="851.7" r="0.57" fill="#777"/><circle cx="656.1" cy="853.0" r="0.64" fill="#444"/><circle cx="626.6" cy="855.8" r="0.53" fill="#999"/><circle cx="615.5" cy="879.5" r="0.43" fill="#777"/><circle cx="605.3" cy="864.9" r="0.37" fill="#222"/><circle cx="618.7" cy="817.7" r="0.39" fill="#777"/><circle cx="594.8" cy="785.1" r="0.55" fill="#222"/><circle cx="626.7" cy="765.7" r="0.71" fill="#222"/><circle cx="581.5" cy="858.2" r="0.61" fill="#999"/><circle cx="615.6" cy="886.6" r="0.38" fill="#777"/><circle cx="628.5" cy="801.6" r="0.60" fill="#444"/><circle cx="598.1" cy="828.4" r="0.45" fill="#444"/><circle cx="644.6" cy="812.0" r="0.63" fill="#222"/><circle cx="599.9" cy="806.2" r="0.71" fill="#777"/><circle cx="685.4" cy="796.1" r="0.54" fill="#444"/><circle cx="556.0" cy="783.3" r="0.59" fill="#444"/><circle cx="574.8" cy="797.8" r="0.69" fill="#222"/><circle cx="586.7" cy="841.5" r="0.31" fill="#444"/><circle cx="617.1" cy="844.4" r="0.69" fill="#444"/><circle cx="659.4" cy="781.6" r="0.34" fill="#777"/><circle cx="603.6" cy="810.8" r="0.43" fill="#444"/><circle cx="604.2" cy="828.4" r="0.60" fill="#222"/><circle cx="649.6" cy="827.3" r="0.66" fill="#777"/><circle cx="630.9" cy="837.1" r="0.33" fill="#222"/><circle cx="575.9" cy="888.6" r="0.64" fill="#222"/><circle cx="609.7" cy="811.1" r="0.67" fill="#222"/><circle cx="559.9" cy="785.2" r="0.40" fill="#777"/><circle cx="589.6" cy="801.2" r="0.58" fill="#444"/><circle cx="632.0" cy="744.1" r="0.61" fill="#777"/><circle cx="650.9" cy="884.5" r="0.73" fill="#999"/><circle cx="654.9" cy="800.2" r="0.34" fill="#222"/><circle cx="610.7" cy="876.5" r="0.69" fill="#444"/><circle cx="692.4" cy="817.9" r="0.42" fill="#444"/><circle cx="660.7" cy="799.5" r="0.45" fill="#999"/><circle cx="573.4" cy="832.6" r="0.60" fill="#999"/><circle cx="601.1" cy="798.4" r="0.56" fill="#999"/><circle cx="625.3" cy="875.6" r="0.51" fill="#777"/><circle cx="584.3" cy="834.6" r="0.54" fill="#444"/><circle cx="646.3" cy="832.6" r="0.62" fill="#222"/><circle cx="628.4" cy="866.2" r="0.66" fill="#444"/><circle cx="597.8" cy="755.7" r="0.44" fill="#999"/><circle cx="578.2" cy="822.9" r="0.48" fill="#777"/><circle cx="630.9" cy="879.7" r="0.72" fill="#222"/><circle cx="652.0" cy="840.6" r="0.64" fill="#777"/><circle cx="641.1" cy="792.5" r="0.40" fill="#777"/><circle cx="578.1" cy="816.8" r="0.66" fill="#777"/><circle cx="637.8" cy="801.6" r="0.57" fill="#222"/><circle cx="583.1" cy="843.0" r="0.37" fill="#777"/><circle cx="557.2" cy="807.8" r="0.44" fill="#444"/><circle cx="631.2" cy="835.4" r="0.48" fill="#777"/><circle cx="600.7" cy="849.9" r="0.64" fill="#222"/><circle cx="685.0" cy="888.7" r="0.43" fill="#777"/><circle cx="582.8" cy="824.5" r="0.49" fill="#222"/><circle cx="609.3" cy="814.0" r="0.39" fill="#999"/><circle cx="565.1" cy="809.5" r="0.51" fill="#999"/><circle cx="635.5" cy="838.8" r="0.42" fill="#999"/><circle cx="631.8" cy="847.2" r="0.64" fill="#999"/><circle cx="630.8" cy="784.1" r="0.42" fill="#777"/><circle cx="619.8" cy="823.2" r="0.47" fill="#777"/><circle cx="626.3" cy="846.9" r="0.48" fill="#999"/><circle cx="621.9" cy="830.3" r="0.46" fill="#999"/><circle cx="606.8" cy="867.7" r="0.60" fill="#444"/><circle cx="682.1" cy="822.9" r="0.74" fill="#777"/><circle cx="613.2" cy="831.2" r="0.50" fill="#222"/><circle cx="622.3" cy="867.7" r="0.53" fill="#777"/><circle cx="618.4" cy="822.4" r="0.51" fill="#999"/><circle cx="645.9" cy="835.4" r="0.30" fill="#777"/><circle cx="618.2" cy="822.5" r="0.36" fill="#999"/><circle cx="652.6" cy="876.6" r="0.53" fill="#999"/><circle cx="640.7" cy="778.2" r="0.51" fill="#444"/><circle cx="559.7" cy="847.7" r="0.45" fill="#777"/><circle cx="649.6" cy="807.4" r="0.52" fill="#777"/><circle cx="582.7" cy="829.4" r="0.64" fill="#999"/><circle cx="604.5" cy="761.8" r="0.65" fill="#777"/><circle cx="610.2" cy="870.0" r="0.54" fill="#999"/><circle cx="592.2" cy="795.5" r="0.30" fill="#777"/><circle cx="618.8" cy="818.5" r="0.39" fill="#444"/><circle cx="622.6" cy="812.2" r="0.64" fill="#777"/><circle cx="685.9" cy="786.4" r="0.71" fill="#444"/><circle cx="623.6" cy="801.9" r="0.52" fill="#444"/><circle cx="642.3" cy="833.9" r="0.56" fill="#222"/><circle cx="596.8" cy="793.5" r="0.60" fill="#222"/><circle cx="653.7" cy="860.8" r="0.49" fill="#777"/><circle cx="622.2" cy="811.3" r="0.47" fill="#222"/><circle cx="622.1" cy="785.6" r="0.36" fill="#777"/><circle cx="605.4" cy="806.3" r="0.45" fill="#222"/><circle cx="617.4" cy="836.7" r="0.49" fill="#999"/><circle cx="614.4" cy="834.9" r="0.54" fill="#444"/><circle cx="669.9" cy="815.7" r="0.57" fill="#777"/><circle cx="656.0" cy="817.6" r="0.30" fill="#777"/><circle cx="634.6" cy="797.2" r="0.34" fill="#444"/><circle cx="632.9" cy="802.5" r="0.44" fill="#222"/><circle cx="637.1" cy="809.5" r="0.54" fill="#999"/><circle cx="597.5" cy="875.6" r="0.45" fill="#222"/><circle cx="587.8" cy="857.9" r="0.75" fill="#999"/><circle cx="675.3" cy="887.9" r="0.58" fill="#222"/><circle cx="587.9" cy="816.8" r="0.40" fill="#444"/><circle cx="679.8" cy="822.1" r="0.34" fill="#222"/><circle cx="617.3" cy="867.9" r="0.41" fill="#444"/><circle cx="611.9" cy="813.6" r="0.52" fill="#777"/><circle cx="601.5" cy="871.7" r="0.33" fill="#444"/><circle cx="627.8" cy="836.6" r="0.46" fill="#999"/><circle cx="626.3" cy="870.3" r="0.51" fill="#222"/><circle cx="626.7" cy="844.5" r="0.42" fill="#777"/><circle cx="632.5" cy="839.7" r="0.61" fill="#777"/><circle cx="590.3" cy="858.7" r="0.60" fill="#777"/><circle cx="592.7" cy="848.8" r="0.43" fill="#222"/><circle cx="597.8" cy="810.4" r="0.67" fill="#999"/><circle cx="608.1" cy="827.0" r="0.46" fill="#222"/><circle cx="605.9" cy="865.6" r="0.75" fill="#222"/><circle cx="612.8" cy="804.0" r="0.71" fill="#444"/><circle cx="585.0" cy="821.2" r="0.72" fill="#777"/><circle cx="560.6" cy="831.4" r="0.36" fill="#222"/><circle cx="646.7" cy="792.6" r="0.69" fill="#777"/><circle cx="668.5" cy="800.6" r="0.42" fill="#444"/><circle cx="644.4" cy="811.1" r="0.43" fill="#777"/><circle cx="618.0" cy="821.9" r="0.69" fill="#222"/><circle cx="659.9" cy="820.7" r="0.75" fill="#777"/><circle cx="623.2" cy="798.7" r="0.50" fill="#222"/><circle cx="615.0" cy="792.0" r="0.42" fill="#999"/><circle cx="602.7" cy="869.6" r="0.52" fill="#444"/><circle cx="597.3" cy="811.9" r="0.67" fill="#777"/><circle cx="581.8" cy="810.9" r="0.45" fill="#222"/><circle cx="570.4" cy="846.3" r="0.40" fill="#999"/><circle cx="610.3" cy="761.9" r="0.70" fill="#444"/><circle cx="594.0" cy="801.3" r="0.46" fill="#777"/><circle cx="608.2" cy="805.0" r="0.49" fill="#444"/><circle cx="561.6" cy="850.7" r="0.70" fill="#222"/><circle cx="609.4" cy="793.7" r="0.45" fill="#222"/><circle cx="666.4" cy="879.5" r="0.40" fill="#222"/><circle cx="589.3" cy="874.0" r="0.33" fill="#999"/><circle cx="577.9" cy="833.0" r="0.34" fill="#777"/><circle cx="600.9" cy="839.1" r="0.58" fill="#999"/><circle cx="618.8" cy="825.0" r="0.44" fill="#777"/><circle cx="562.5" cy="811.5" r="0.67" fill="#222"/><circle cx="619.0" cy="837.4" r="0.74" fill="#222"/><circle cx="593.9" cy="785.3" r="0.64" fill="#999"/><circle cx="611.4" cy="837.6" r="0.48" fill="#222"/><circle cx="605.4" cy="880.4" r="0.71" fill="#222"/><circle cx="606.9" cy="780.5" r="0.65" fill="#999"/><circle cx="576.6" cy="845.0" r="0.44" fill="#999"/><circle cx="575.2" cy="779.4" r="0.71" fill="#777"/><circle cx="674.8" cy="844.9" r="0.59" fill="#777"/><circle cx="573.2" cy="891.0" r="0.49" fill="#444"/><circle cx="567.3" cy="840.4" r="0.46" fill="#999"/><circle cx="656.7" cy="852.4" r="0.67" fill="#444"/><circle cx="655.6" cy="844.3" r="0.32" fill="#999"/><circle cx="609.4" cy="791.1" r="0.39" fill="#999"/><circle cx="564.9" cy="800.1" r="0.71" fill="#444"/><circle cx="663.2" cy="864.7" r="0.44" fill="#777"/><circle cx="670.3" cy="860.7" r="0.36" fill="#999"/><circle cx="586.6" cy="830.2" r="0.49" fill="#444"/><circle cx="674.4" cy="836.9" r="0.68" fill="#777"/><circle cx="586.0" cy="803.0" r="0.50" fill="#222"/><circle cx="583.9" cy="796.8" r="0.65" fill="#444"/><circle cx="587.1" cy="819.2" r="0.49" fill="#222"/><circle cx="625.2" cy="799.0" r="0.31" fill="#777"/><circle cx="632.0" cy="843.6" r="0.69" fill="#999"/><circle cx="605.3" cy="859.6" r="0.41" fill="#444"/><circle cx="615.3" cy="858.9" r="0.63" fill="#999"/><circle cx="633.0" cy="810.1" r="0.46" fill="#444"/><circle cx="656.1" cy="865.2" r="0.39" fill="#444"/><circle cx="685.2" cy="817.6" r="0.62" fill="#444"/><circle cx="606.5" cy="833.5" r="0.43" fill="#222"/><circle cx="683.7" cy="781.4" r="0.55" fill="#222"/><circle cx="614.0" cy="887.7" r="0.32" fill="#222"/><circle cx="585.2" cy="806.8" r="0.47" fill="#444"/><circle cx="637.9" cy="852.6" r="0.54" fill="#777"/><circle cx="638.3" cy="787.8" r="0.71" fill="#777"/><circle cx="616.7" cy="822.9" r="0.48" fill="#444"/><circle cx="634.5" cy="807.8" r="0.68" fill="#222"/><circle cx="635.0" cy="822.0" r="0.41" fill="#999"/><circle cx="638.5" cy="814.1" r="0.74" fill="#444"/><circle cx="662.4" cy="796.1" r="0.51" fill="#999"/><circle cx="676.0" cy="868.4" r="0.63" fill="#999"/><circle cx="593.0" cy="831.3" r="0.46" fill="#999"/><circle cx="599.3" cy="844.9" r="0.41" fill="#444"/><circle cx="656.4" cy="797.2" r="0.42" fill="#777"/><circle cx="620.2" cy="791.3" r="0.43" fill="#777"/><circle cx="663.3" cy="818.2" r="0.65" fill="#777"/><circle cx="670.0" cy="882.7" r="0.58" fill="#999"/><circle cx="588.5" cy="854.0" r="0.47" fill="#999"/><circle cx="678.6" cy="796.5" r="0.32" fill="#222"/><circle cx="615.9" cy="840.1" r="0.42" fill="#444"/><circle cx="601.5" cy="788.3" r="0.51" fill="#444"/><circle cx="606.1" cy="847.3" r="0.54" fill="#444"/><circle cx="587.1" cy="794.7" r="0.65" fill="#444"/><circle cx="652.3" cy="801.4" r="0.73" fill="#999"/><circle cx="658.7" cy="792.9" r="0.36" fill="#777"/><circle cx="601.9" cy="820.3" r="0.53" fill="#999"/><circle cx="628.3" cy="883.5" r="0.37" fill="#444"/><circle cx="599.5" cy="849.9" r="0.57" fill="#444"/><circle cx="579.7" cy="804.8" r="0.72" fill="#444"/><circle cx="591.1" cy="814.1" r="0.34" fill="#777"/><circle cx="668.7" cy="811.6" r="0.47" fill="#777"/><circle cx="611.5" cy="817.9" r="0.56" fill="#999"/><circle cx="645.3" cy="785.2" r="0.68" fill="#444"/><circle cx="626.4" cy="818.8" r="0.47" fill="#222"/><circle cx="579.4" cy="808.6" r="0.56" fill="#999"/><circle cx="629.3" cy="805.0" r="0.73" fill="#444"/><circle cx="602.7" cy="812.5" r="0.56" fill="#777"/><circle cx="642.9" cy="851.7" r="0.31" fill="#999"/><circle cx="622.0" cy="800.8" r="0.40" fill="#777"/><circle cx="644.3" cy="875.1" r="0.35" fill="#999"/><circle cx="620.3" cy="809.1" r="0.64" fill="#777"/><circle cx="663.1" cy="825.2" r="0.57" fill="#444"/><circle cx="608.3" cy="822.4" r="0.33" fill="#999"/><circle cx="622.0" cy="841.3" r="0.53" fill="#999"/><circle cx="648.6" cy="852.5" r="0.72" fill="#444"/><circle cx="645.2" cy="765.0" r="0.31" fill="#999"/><circle cx="638.3" cy="857.4" r="0.56" fill="#444"/><circle cx="662.8" cy="786.8" r="0.48" fill="#222"/><circle cx="616.0" cy="800.1" r="0.65" fill="#444"/><circle cx="650.3" cy="791.5" r="0.68" fill="#222"/><circle cx="630.2" cy="805.7" r="0.71" fill="#777"/><circle cx="589.4" cy="824.1" r="0.44" fill="#999"/><circle cx="626.6" cy="822.5" r="0.56" fill="#222"/><circle cx="629.3" cy="810.1" r="0.33" fill="#999"/><circle cx="611.8" cy="836.2" r="0.47" fill="#444"/><circle cx="615.0" cy="776.5" r="0.35" fill="#999"/><circle cx="611.2" cy="850.8" r="0.37" fill="#999"/><circle cx="609.8" cy="785.0" r="0.71" fill="#999"/><circle cx="590.2" cy="812.5" r="0.65" fill="#777"/><circle cx="604.0" cy="833.1" r="0.55" fill="#444"/><circle cx="557.7" cy="800.6" r="0.39" fill="#777"/><circle cx="657.0" cy="829.3" r="0.52" fill="#444"/><circle cx="628.3" cy="838.9" r="0.70" fill="#777"/><circle cx="679.5" cy="877.2" r="0.47" fill="#222"/><circle cx="624.8" cy="804.6" r="0.63" fill="#777"/><circle cx="591.0" cy="785.5" r="0.67" fill="#777"/><circle cx="639.3" cy="773.4" r="0.73" fill="#777"/><circle cx="593.6" cy="842.1" r="0.59" fill="#777"/><circle cx="648.0" cy="794.0" r="0.52" fill="#777"/><circle cx="633.2" cy="821.6" r="0.70" fill="#999"/><circle cx="575.1" cy="824.4" r="0.53" fill="#777"/><circle cx="620.0" cy="834.0" r="0.31" fill="#444"/><circle cx="672.5" cy="845.9" r="0.32" fill="#444"/><circle cx="612.9" cy="789.5" r="0.63" fill="#777"/><circle cx="580.7" cy="876.8" r="0.36" fill="#222"/><circle cx="581.9" cy="847.7" r="0.34" fill="#444"/><circle cx="676.0" cy="844.1" r="0.45" fill="#222"/><circle cx="591.2" cy="805.3" r="0.62" fill="#777"/><circle cx="579.2" cy="794.3" r="0.33" fill="#999"/><circle cx="658.0" cy="892.0" r="0.37" fill="#444"/><circle cx="605.9" cy="819.0" r="0.49" fill="#222"/><circle cx="590.1" cy="821.5" r="0.41" fill="#999"/><circle cx="568.7" cy="832.5" r="0.56" fill="#777"/><circle cx="581.1" cy="876.2" r="0.61" fill="#999"/><circle cx="611.2" cy="811.5" r="0.66" fill="#777"/><circle cx="594.6" cy="834.7" r="0.51" fill="#444"/><circle cx="614.0" cy="822.1" r="0.62" fill="#222"/><circle cx="600.6" cy="828.1" r="0.62" fill="#222"/><circle cx="664.2" cy="860.3" r="0.53" fill="#999"/><circle cx="611.3" cy="784.9" r="0.70" fill="#777"/><circle cx="614.6" cy="825.9" r="0.65" fill="#777"/><circle cx="684.0" cy="805.6" r="0.46" fill="#444"/><circle cx="601.9" cy="805.7" r="0.30" fill="#222"/><circle cx="647.8" cy="848.6" r="0.39" fill="#222"/><circle cx="602.2" cy="820.5" r="0.56" fill="#999"/><circle cx="666.9" cy="854.1" r="0.45" fill="#444"/><circle cx="637.4" cy="825.1" r="0.38" fill="#222"/><circle cx="579.8" cy="886.2" r="0.67" fill="#777"/><circle cx="605.6" cy="822.9" r="0.51" fill="#444"/><circle cx="670.3" cy="822.6" r="0.73" fill="#999"/><circle cx="618.9" cy="817.4" r="0.49" fill="#222"/><circle cx="601.6" cy="835.5" r="0.58" fill="#222"/><circle cx="642.1" cy="790.5" r="0.74" fill="#222"/><circle cx="600.5" cy="816.1" r="0.33" fill="#222"/><circle cx="613.9" cy="812.1" r="0.66" fill="#999"/><circle cx="637.8" cy="785.4" r="0.60" fill="#777"/>
</g>
<rect x="570.4" y="776.4" width="116" height="114.6" fill="none" stroke="#2a2a2a" stroke-width="1.2"/>
<defs><clipPath id="ci103"><rect x="453.4" y="894" width="114.2" height="115.5"/></clipPath></defs>
<rect x="453.4" y="894.0" width="114.2" height="115.5" fill="#fff"/>
<g clip-path="url(#ci103)">
<ellipse cx="511.7" cy="942.7" rx="1.8" ry="1.3" transform="rotate(39 511.7 942.7)" fill="#555"/><ellipse cx="484.7" cy="941.2" rx="1.3" ry="1.5" transform="rotate(157 484.7 941.2)" fill="#555"/><ellipse cx="503.1" cy="947.2" rx="1.9" ry="0.5" transform="rotate(41 503.1 947.2)" fill="#555"/><ellipse cx="507.2" cy="951.9" rx="1.0" ry="0.9" transform="rotate(132 507.2 951.9)" fill="#111"/><ellipse cx="464.8" cy="952.0" rx="1.6" ry="1.4" transform="rotate(45 464.8 952.0)" fill="#111"/><ellipse cx="453.9" cy="933.5" rx="1.6" ry="1.0" transform="rotate(45 453.9 933.5)" fill="#555"/><ellipse cx="503.3" cy="969.8" rx="2.0" ry="1.5" transform="rotate(95 503.3 969.8)" fill="#111"/><ellipse cx="486.1" cy="953.9" rx="0.9" ry="1.0" transform="rotate(45 486.1 953.9)" fill="#555"/><ellipse cx="499.1" cy="942.0" rx="1.9" ry="1.3" transform="rotate(16 499.1 942.0)" fill="#111"/><ellipse cx="545.0" cy="943.3" rx="1.5" ry="1.3" transform="rotate(128 545.0 943.3)" fill="#555"/><ellipse cx="468.9" cy="940.3" rx="1.3" ry="1.4" transform="rotate(80 468.9 940.3)" fill="#111"/><ellipse cx="509.9" cy="947.9" rx="0.8" ry="1.2" transform="rotate(157 509.9 947.9)" fill="#111"/><ellipse cx="469.0" cy="939.0" rx="1.0" ry="0.9" transform="rotate(104 469.0 939.0)" fill="#111"/><ellipse cx="477.0" cy="951.0" rx="1.2" ry="1.1" transform="rotate(122 477.0 951.0)" fill="#111"/><ellipse cx="478.1" cy="927.9" rx="1.5" ry="1.6" transform="rotate(56 478.1 927.9)" fill="#111"/><ellipse cx="499.1" cy="951.8" rx="1.9" ry="0.5" transform="rotate(111 499.1 951.8)" fill="#111"/><ellipse cx="517.6" cy="939.3" rx="1.2" ry="0.9" transform="rotate(114 517.6 939.3)" fill="#555"/><ellipse cx="528.6" cy="947.3" rx="1.6" ry="0.7" transform="rotate(77 528.6 947.3)" fill="#555"/><ellipse cx="502.1" cy="938.6" rx="1.8" ry="1.3" transform="rotate(57 502.1 938.6)" fill="#555"/><ellipse cx="474.0" cy="942.8" rx="1.6" ry="0.9" transform="rotate(143 474.0 942.8)" fill="#111"/><ellipse cx="512.4" cy="955.7" rx="2.0" ry="1.2" transform="rotate(98 512.4 955.7)" fill="#111"/><ellipse cx="494.2" cy="943.5" rx="1.4" ry="0.5" transform="rotate(60 494.2 943.5)" fill="#555"/><ellipse cx="465.7" cy="947.3" rx="2.0" ry="0.8" transform="rotate(2 465.7 947.3)" fill="#111"/><ellipse cx="496.6" cy="932.9" rx="0.9" ry="0.6" transform="rotate(168 496.6 932.9)" fill="#111"/><ellipse cx="512.1" cy="931.9" rx="1.8" ry="1.4" transform="rotate(46 512.1 931.9)" fill="#555"/><ellipse cx="463.9" cy="950.2" rx="1.9" ry="1.3" transform="rotate(104 463.9 950.2)" fill="#111"/><ellipse cx="501.2" cy="956.5" rx="1.7" ry="1.1" transform="rotate(131 501.2 956.5)" fill="#111"/><ellipse cx="500.0" cy="942.5" rx="1.1" ry="1.2" transform="rotate(124 500.0 942.5)" fill="#555"/><ellipse cx="510.1" cy="939.8" rx="1.8" ry="0.6" transform="rotate(50 510.1 939.8)" fill="#555"/><ellipse cx="497.6" cy="933.4" rx="2.1" ry="1.2" transform="rotate(59 497.6 933.4)" fill="#111"/><ellipse cx="483.5" cy="948.2" rx="0.9" ry="1.2" transform="rotate(56 483.5 948.2)" fill="#111"/><ellipse cx="488.3" cy="937.0" rx="1.4" ry="0.9" transform="rotate(58 488.3 937.0)" fill="#111"/><ellipse cx="506.8" cy="949.3" rx="0.9" ry="1.2" transform="rotate(54 506.8 949.3)" fill="#111"/><ellipse cx="465.6" cy="945.4" rx="1.5" ry="1.4" transform="rotate(126 465.6 945.4)" fill="#111"/><ellipse cx="501.8" cy="945.0" rx="1.8" ry="0.9" transform="rotate(176 501.8 945.0)" fill="#111"/><ellipse cx="505.2" cy="930.7" rx="2.1" ry="1.2" transform="rotate(169 505.2 930.7)" fill="#111"/><ellipse cx="491.1" cy="948.3" rx="1.1" ry="1.5" transform="rotate(118 491.1 948.3)" fill="#555"/><ellipse cx="511.7" cy="945.7" rx="1.5" ry="0.9" transform="rotate(4 511.7 945.7)" fill="#555"/><ellipse cx="512.7" cy="933.9" rx="1.9" ry="0.8" transform="rotate(120 512.7 933.9)" fill="#555"/><ellipse cx="477.6" cy="965.3" rx="1.0" ry="0.8" transform="rotate(39 477.6 965.3)" fill="#111"/><ellipse cx="482.8" cy="932.9" rx="2.0" ry="1.0" transform="rotate(165 482.8 932.9)" fill="#111"/><ellipse cx="488.0" cy="950.3" rx="1.5" ry="1.0" transform="rotate(142 488.0 950.3)" fill="#111"/><ellipse cx="490.9" cy="931.8" rx="1.1" ry="1.3" transform="rotate(177 490.9 931.8)" fill="#111"/><ellipse cx="488.8" cy="937.6" rx="0.9" ry="1.0" transform="rotate(107 488.8 937.6)" fill="#111"/><ellipse cx="469.8" cy="945.8" rx="0.8" ry="0.6" transform="rotate(22 469.8 945.8)" fill="#111"/><ellipse cx="492.4" cy="949.0" rx="1.2" ry="0.9" transform="rotate(148 492.4 949.0)" fill="#111"/><ellipse cx="521.4" cy="943.4" rx="0.7" ry="0.8" transform="rotate(180 521.4 943.4)" fill="#111"/><ellipse cx="499.5" cy="939.3" rx="1.1" ry="0.6" transform="rotate(94 499.5 939.3)" fill="#111"/><ellipse cx="503.9" cy="923.8" rx="0.7" ry="0.9" transform="rotate(167 503.9 923.8)" fill="#111"/><ellipse cx="510.2" cy="919.2" rx="1.4" ry="0.9" transform="rotate(114 510.2 919.2)" fill="#111"/><ellipse cx="527.7" cy="908.3" rx="1.8" ry="0.5" transform="rotate(26 527.7 908.3)" fill="#111"/><ellipse cx="535.4" cy="909.8" rx="1.0" ry="1.5" transform="rotate(107 535.4 909.8)" fill="#555"/><ellipse cx="558.7" cy="920.4" rx="1.1" ry="1.0" transform="rotate(67 558.7 920.4)" fill="#111"/><ellipse cx="495.0" cy="931.0" rx="1.8" ry="0.8" transform="rotate(149 495.0 931.0)" fill="#111"/><ellipse cx="536.3" cy="918.4" rx="2.0" ry="1.3" transform="rotate(33 536.3 918.4)" fill="#111"/><ellipse cx="501.2" cy="921.8" rx="1.0" ry="1.6" transform="rotate(144 501.2 921.8)" fill="#555"/><ellipse cx="526.5" cy="918.9" rx="1.7" ry="1.2" transform="rotate(156 526.5 918.9)" fill="#111"/><ellipse cx="513.4" cy="887.6" rx="1.4" ry="1.5" transform="rotate(77 513.4 887.6)" fill="#111"/><ellipse cx="490.1" cy="964.8" rx="1.9" ry="1.3" transform="rotate(29 490.1 964.8)" fill="#111"/><ellipse cx="469.9" cy="976.2" rx="0.7" ry="1.3" transform="rotate(71 469.9 976.2)" fill="#111"/><ellipse cx="490.2" cy="977.0" rx="1.4" ry="1.2" transform="rotate(140 490.2 977.0)" fill="#111"/><ellipse cx="496.6" cy="970.9" rx="0.9" ry="0.9" transform="rotate(118 496.6 970.9)" fill="#111"/><ellipse cx="508.6" cy="980.4" rx="1.2" ry="1.1" transform="rotate(18 508.6 980.4)" fill="#555"/><circle cx="526.1" cy="933.4" r="0.53" fill="#777"/><circle cx="536.0" cy="943.7" r="0.47" fill="#999"/><circle cx="536.8" cy="928.1" r="0.37" fill="#222"/><circle cx="529.2" cy="942.2" r="0.68" fill="#777"/><circle cx="560.2" cy="984.0" r="0.57" fill="#222"/><circle cx="468.2" cy="954.1" r="0.31" fill="#777"/><circle cx="504.8" cy="911.6" r="0.61" fill="#222"/><circle cx="501.7" cy="919.1" r="0.56" fill="#777"/><circle cx="536.0" cy="902.0" r="0.73" fill="#999"/><circle cx="548.7" cy="982.8" r="0.49" fill="#999"/><circle cx="506.8" cy="922.5" r="0.70" fill="#777"/><circle cx="527.8" cy="952.1" r="0.36" fill="#777"/><circle cx="500.1" cy="931.3" r="0.54" fill="#999"/><circle cx="494.7" cy="902.1" r="0.53" fill="#444"/><circle cx="555.5" cy="951.3" r="0.40" fill="#222"/><circle cx="500.0" cy="964.6" r="0.44" fill="#222"/><circle cx="457.0" cy="1007.7" r="0.36" fill="#999"/><circle cx="481.3" cy="956.6" r="0.66" fill="#999"/><circle cx="507.0" cy="920.5" r="0.59" fill="#444"/><circle cx="492.8" cy="957.4" r="0.66" fill="#444"/><circle cx="505.5" cy="909.7" r="0.44" fill="#999"/><circle cx="528.9" cy="900.1" r="0.60" fill="#222"/><circle cx="536.1" cy="962.1" r="0.68" fill="#777"/><circle cx="526.1" cy="951.3" r="0.42" fill="#444"/><circle cx="498.7" cy="942.1" r="0.64" fill="#777"/><circle cx="531.8" cy="910.1" r="0.55" fill="#999"/><circle cx="524.1" cy="918.4" r="0.32" fill="#444"/><circle cx="546.0" cy="959.7" r="0.56" fill="#777"/><circle cx="564.2" cy="988.6" r="0.61" fill="#777"/><circle cx="485.1" cy="945.4" r="0.46" fill="#222"/><circle cx="530.6" cy="931.3" r="0.72" fill="#999"/><circle cx="530.1" cy="929.4" r="0.45" fill="#999"/><circle cx="505.9" cy="936.9" r="0.64" fill="#777"/><circle cx="516.9" cy="960.1" r="0.70" fill="#999"/><circle cx="475.8" cy="975.5" r="0.67" fill="#222"/><circle cx="534.4" cy="995.7" r="0.35" fill="#777"/><circle cx="482.7" cy="895.3" r="0.56" fill="#999"/><circle cx="484.1" cy="907.7" r="0.66" fill="#777"/><circle cx="492.2" cy="935.5" r="0.74" fill="#777"/><circle cx="565.7" cy="902.7" r="0.43" fill="#444"/><circle cx="510.4" cy="931.3" r="0.71" fill="#222"/><circle cx="565.6" cy="914.4" r="0.35" fill="#999"/><circle cx="553.0" cy="935.3" r="0.37" fill="#999"/><circle cx="532.5" cy="959.4" r="0.58" fill="#777"/><circle cx="468.9" cy="954.1" r="0.54" fill="#777"/><circle cx="560.0" cy="903.1" r="0.66" fill="#999"/><circle cx="504.0" cy="967.8" r="0.46" fill="#777"/><circle cx="485.6" cy="926.1" r="0.45" fill="#999"/><circle cx="515.0" cy="901.7" r="0.54" fill="#999"/><circle cx="469.4" cy="912.8" r="0.59" fill="#444"/><circle cx="498.6" cy="895.9" r="0.67" fill="#444"/><circle cx="457.6" cy="1005.8" r="0.34" fill="#999"/><circle cx="549.6" cy="906.8" r="0.56" fill="#777"/><circle cx="498.3" cy="929.4" r="0.31" fill="#444"/><circle cx="482.0" cy="932.1" r="0.66" fill="#222"/><circle cx="535.1" cy="906.0" r="0.58" fill="#777"/><circle cx="488.9" cy="953.4" r="0.73" fill="#777"/><circle cx="502.2" cy="922.4" r="0.31" fill="#777"/><circle cx="515.1" cy="999.1" r="0.48" fill="#999"/><circle cx="542.6" cy="937.5" r="0.69" fill="#222"/><circle cx="563.0" cy="997.3" r="0.51" fill="#777"/><circle cx="485.4" cy="901.4" r="0.41" fill="#777"/><circle cx="459.2" cy="1005.3" r="0.48" fill="#999"/><circle cx="518.3" cy="959.4" r="0.60" fill="#222"/><circle cx="465.2" cy="918.6" r="0.65" fill="#222"/><circle cx="554.8" cy="980.3" r="0.53" fill="#999"/><circle cx="491.5" cy="933.5" r="0.69" fill="#777"/><circle cx="453.9" cy="949.8" r="0.60" fill="#222"/><circle cx="528.7" cy="909.4" r="0.37" fill="#444"/><circle cx="551.2" cy="934.7" r="0.66" fill="#777"/><circle cx="472.4" cy="924.1" r="0.64" fill="#777"/><circle cx="473.9" cy="933.6" r="0.54" fill="#222"/><circle cx="472.5" cy="976.0" r="0.47" fill="#222"/><circle cx="485.4" cy="1000.7" r="0.38" fill="#777"/><circle cx="520.1" cy="921.6" r="0.69" fill="#777"/><circle cx="505.0" cy="918.1" r="0.65" fill="#222"/><circle cx="463.3" cy="913.1" r="0.53" fill="#222"/><circle cx="507.2" cy="954.3" r="0.73" fill="#999"/><circle cx="539.4" cy="926.9" r="0.52" fill="#999"/><circle cx="536.9" cy="966.9" r="0.66" fill="#222"/><circle cx="475.9" cy="945.5" r="0.44" fill="#777"/><circle cx="511.8" cy="960.4" r="0.72" fill="#999"/><circle cx="492.9" cy="945.5" r="0.55" fill="#777"/><circle cx="458.8" cy="919.7" r="0.41" fill="#444"/><circle cx="456.8" cy="928.0" r="0.34" fill="#999"/><circle cx="510.8" cy="945.3" r="0.50" fill="#999"/><circle cx="509.6" cy="954.7" r="0.68" fill="#777"/><circle cx="450.2" cy="934.6" r="0.46" fill="#444"/><circle cx="534.3" cy="918.8" r="0.33" fill="#444"/><circle cx="469.0" cy="924.7" r="0.60" fill="#777"/><circle cx="509.7" cy="956.5" r="0.59" fill="#999"/><circle cx="485.9" cy="949.5" r="0.39" fill="#777"/><circle cx="519.3" cy="983.4" r="0.34" fill="#999"/><circle cx="486.8" cy="961.1" r="0.38" fill="#222"/><circle cx="503.2" cy="891.4" r="0.49" fill="#999"/><circle cx="458.1" cy="915.5" r="0.63" fill="#444"/><circle cx="501.4" cy="906.6" r="0.58" fill="#222"/><circle cx="458.8" cy="978.8" r="0.32" fill="#444"/><circle cx="558.8" cy="952.8" r="0.69" fill="#777"/><circle cx="559.0" cy="983.1" r="0.75" fill="#999"/><circle cx="515.4" cy="902.1" r="0.32" fill="#999"/><circle cx="557.2" cy="956.1" r="0.60" fill="#999"/><circle cx="456.7" cy="961.7" r="0.60" fill="#999"/><circle cx="487.2" cy="967.5" r="0.57" fill="#999"/><circle cx="513.2" cy="934.4" r="0.65" fill="#222"/><circle cx="535.1" cy="924.5" r="0.42" fill="#444"/><circle cx="479.0" cy="949.3" r="0.69" fill="#777"/><circle cx="489.8" cy="975.8" r="0.67" fill="#444"/><circle cx="507.6" cy="975.5" r="0.44" fill="#444"/><circle cx="520.4" cy="951.7" r="0.65" fill="#777"/><circle cx="494.6" cy="952.7" r="0.63" fill="#444"/><circle cx="495.6" cy="942.1" r="0.43" fill="#777"/><circle cx="504.2" cy="928.2" r="0.62" fill="#222"/><circle cx="470.2" cy="994.3" r="0.73" fill="#999"/><circle cx="540.9" cy="933.2" r="0.33" fill="#444"/><circle cx="475.2" cy="932.2" r="0.57" fill="#222"/><circle cx="491.2" cy="914.8" r="0.50" fill="#222"/><circle cx="471.4" cy="953.0" r="0.32" fill="#222"/><circle cx="491.7" cy="1003.0" r="0.51" fill="#999"/><circle cx="501.2" cy="967.1" r="0.37" fill="#777"/><circle cx="525.0" cy="904.5" r="0.67" fill="#999"/><circle cx="519.3" cy="940.7" r="0.59" fill="#222"/><circle cx="450.5" cy="919.9" r="0.63" fill="#444"/><circle cx="535.2" cy="952.9" r="0.34" fill="#222"/><circle cx="456.4" cy="903.7" r="0.57" fill="#222"/><circle cx="463.3" cy="926.3" r="0.69" fill="#777"/><circle cx="509.9" cy="959.2" r="0.42" fill="#444"/><circle cx="501.2" cy="939.2" r="0.40" fill="#222"/><circle cx="516.6" cy="913.3" r="0.73" fill="#444"/><circle cx="515.0" cy="915.7" r="0.43" fill="#222"/><circle cx="506.7" cy="910.1" r="0.48" fill="#444"/><circle cx="481.8" cy="1006.6" r="0.62" fill="#777"/><circle cx="543.0" cy="987.3" r="0.67" fill="#444"/><circle cx="511.1" cy="954.5" r="0.36" fill="#999"/><circle cx="511.5" cy="930.0" r="0.50" fill="#444"/><circle cx="485.8" cy="973.5" r="0.42" fill="#777"/><circle cx="502.9" cy="894.8" r="0.53" fill="#777"/><circle cx="477.2" cy="899.0" r="0.60" fill="#999"/><circle cx="453.8" cy="976.1" r="0.51" fill="#999"/><circle cx="500.8" cy="919.6" r="0.43" fill="#999"/><circle cx="519.3" cy="941.5" r="0.60" fill="#444"/><circle cx="481.7" cy="907.7" r="0.34" fill="#999"/><circle cx="510.2" cy="949.7" r="0.46" fill="#444"/><circle cx="500.9" cy="973.6" r="0.38" fill="#777"/><circle cx="502.9" cy="947.8" r="0.34" fill="#444"/><circle cx="482.3" cy="930.5" r="0.63" fill="#999"/><circle cx="448.1" cy="940.1" r="0.35" fill="#999"/><circle cx="514.2" cy="903.5" r="0.44" fill="#777"/><circle cx="494.8" cy="1006.2" r="0.37" fill="#777"/><circle cx="542.1" cy="888.3" r="0.40" fill="#222"/><circle cx="496.3" cy="950.0" r="0.40" fill="#777"/><circle cx="485.5" cy="936.7" r="0.33" fill="#444"/><circle cx="481.2" cy="926.1" r="0.57" fill="#999"/><circle cx="564.8" cy="946.3" r="0.52" fill="#444"/><circle cx="497.4" cy="950.9" r="0.43" fill="#222"/><circle cx="541.8" cy="921.3" r="0.53" fill="#999"/><circle cx="521.9" cy="925.1" r="0.49" fill="#777"/><circle cx="546.0" cy="906.4" r="0.74" fill="#222"/><circle cx="556.3" cy="976.5" r="0.38" fill="#444"/><circle cx="537.4" cy="932.1" r="0.30" fill="#444"/><circle cx="471.2" cy="952.2" r="0.59" fill="#444"/><circle cx="475.9" cy="916.1" r="0.53" fill="#777"/><circle cx="502.8" cy="958.4" r="0.41" fill="#222"/><circle cx="474.8" cy="939.0" r="0.63" fill="#777"/><circle cx="516.1" cy="938.6" r="0.59" fill="#444"/><circle cx="525.5" cy="934.3" r="0.67" fill="#777"/><circle cx="531.3" cy="946.2" r="0.68" fill="#999"/><circle cx="521.0" cy="972.3" r="0.53" fill="#999"/><circle cx="545.7" cy="924.7" r="0.54" fill="#999"/><circle cx="466.3" cy="989.3" r="0.61" fill="#777"/><circle cx="509.4" cy="958.8" r="0.68" fill="#999"/><circle cx="526.0" cy="944.3" r="0.73" fill="#777"/><circle cx="507.5" cy="912.5" r="0.33" fill="#222"/><circle cx="489.1" cy="908.0" r="0.41" fill="#999"/><circle cx="461.6" cy="937.7" r="0.54" fill="#777"/><circle cx="512.0" cy="921.4" r="0.71" fill="#222"/><circle cx="516.8" cy="935.7" r="0.32" fill="#999"/><circle cx="515.2" cy="963.2" r="0.32" fill="#999"/><circle cx="460.1" cy="931.0" r="0.60" fill="#444"/><circle cx="466.0" cy="935.7" r="0.34" fill="#777"/><circle cx="537.9" cy="994.0" r="0.46" fill="#777"/><circle cx="496.7" cy="945.0" r="0.71" fill="#444"/><circle cx="542.2" cy="939.8" r="0.73" fill="#999"/><circle cx="535.9" cy="927.4" r="0.46" fill="#777"/><circle cx="563.4" cy="934.5" r="0.34" fill="#999"/><circle cx="441.0" cy="911.1" r="0.53" fill="#999"/><circle cx="567.5" cy="901.8" r="0.46" fill="#777"/><circle cx="492.4" cy="925.5" r="0.35" fill="#222"/><circle cx="493.5" cy="924.6" r="0.42" fill="#222"/><circle cx="506.3" cy="934.7" r="0.37" fill="#444"/>
</g>
<rect x="453.4" y="894" width="114.2" height="115.5" fill="none" stroke="#2a2a2a" stroke-width="1.2"/>
<defs><filter id="nz" x="0" y="0" width="1" height="1"><feTurbulence type="fractalNoise" baseFrequency="0.32" numOctaves="2" seed="4" result="t"/><feColorMatrix type="matrix" values="1.45 0 0 0 -0.2  1.45 0 0 0 -0.2  1.35 0 0 0 -0.12  0 0 0 0 1" in="t" result="n"/><feComposite in="n" in2="SourceGraphic" operator="in"/></filter><filter id="bl"><feGaussianBlur stdDeviation="1.6"/></filter><clipPath id="cm"><rect x="570.4" y="894" width="116" height="115.5"/></clipPath></defs>
<rect x="570.4" y="894.0" width="116.0" height="115.5" fill="#000"/>
<g clip-path="url(#cm)">
<path d="M570,893 L640,893 C641,905 641,915 637,924 C633,931 625,933 612,934 L582,936 C576,936 572,935 570,934 Z" fill="#a6a6ac"/>
<path d="M570,893 L640,893 C641,905 641,915 637,924 C633,931 625,933 612,934 L582,936 C576,936 572,935 570,934 Z" fill="#fff" filter="url(#nz)" opacity="0.9"/>
<circle cx="604" cy="901" r="3.6" fill="#2a2a34" opacity="0.7" filter="url(#bl)"/><circle cx="588" cy="910" r="3.4" fill="#2a2a34" opacity="0.7" filter="url(#bl)"/><circle cx="626" cy="903" r="3.2" fill="#2a2a34" opacity="0.7" filter="url(#bl)"/><circle cx="614" cy="913" r="3.0" fill="#2a2a34" opacity="0.7" filter="url(#bl)"/><circle cx="583" cy="925" r="3.3" fill="#2a2a34" opacity="0.7" filter="url(#bl)"/><circle cx="601" cy="921" r="2.8" fill="#2a2a34" opacity="0.7" filter="url(#bl)"/><circle cx="631" cy="918" r="2.6" fill="#2a2a34" opacity="0.7" filter="url(#bl)"/><circle cx="577.1" cy="931.1" r="0.5" fill="#ffffff" opacity="0.8"/><circle cx="628.2" cy="923.4" r="0.6" fill="#ffffff" opacity="0.8"/><circle cx="633.3" cy="930.0" r="0.8" fill="#44c060" opacity="0.8"/><circle cx="607.8" cy="909.7" r="0.6" fill="#44c060" opacity="0.8"/><circle cx="638.3" cy="924.4" r="0.4" fill="#ffffff" opacity="0.8"/><circle cx="573.8" cy="903.8" r="0.8" fill="#b060c0" opacity="0.8"/><circle cx="602.6" cy="903.5" r="0.6" fill="#5a6ad8" opacity="0.8"/><circle cx="605.1" cy="923.4" r="0.5" fill="#5a6ad8" opacity="0.8"/><circle cx="598.9" cy="906.6" r="0.8" fill="#5a6ad8" opacity="0.8"/><circle cx="627.2" cy="910.6" r="0.6" fill="#b060c0" opacity="0.8"/><circle cx="584.8" cy="912.8" r="0.8" fill="#5a6ad8" opacity="0.8"/><circle cx="592.0" cy="901.2" r="0.5" fill="#5a6ad8" opacity="0.8"/><circle cx="627.3" cy="922.3" r="0.8" fill="#b060c0" opacity="0.8"/><circle cx="612.0" cy="899.1" r="0.8" fill="#5a6ad8" opacity="0.8"/><circle cx="588.3" cy="926.0" r="0.7" fill="#ffffff" opacity="0.8"/><circle cx="592.4" cy="899.8" r="0.7" fill="#44c060" opacity="0.8"/><circle cx="604.8" cy="897.6" r="0.5" fill="#ffffff" opacity="0.8"/><circle cx="579.5" cy="903.5" r="0.7" fill="#44c060" opacity="0.8"/><circle cx="611.1" cy="919.2" r="0.4" fill="#5a6ad8" opacity="0.8"/><circle cx="625.3" cy="922.6" r="0.6" fill="#44c060" opacity="0.8"/><circle cx="593.0" cy="908.4" r="0.9" fill="#5a6ad8" opacity="0.8"/><circle cx="573.4" cy="922.1" r="0.5" fill="#ffffff" opacity="0.8"/><circle cx="602.9" cy="906.1" r="0.7" fill="#ffffff" opacity="0.8"/><circle cx="614.9" cy="902.9" r="0.9" fill="#5a6ad8" opacity="0.8"/><circle cx="583.5" cy="902.9" r="0.9" fill="#ffffff" opacity="0.8"/><circle cx="601.3" cy="919.6" r="0.4" fill="#5a6ad8" opacity="0.8"/><circle cx="609.0" cy="917.6" r="0.5" fill="#44c060" opacity="0.8"/><circle cx="585.4" cy="920.4" r="0.9" fill="#44c060" opacity="0.8"/><circle cx="584.4" cy="928.2" r="0.5" fill="#b060c0" opacity="0.8"/><circle cx="572.9" cy="918.8" r="0.6" fill="#b060c0" opacity="0.8"/><circle cx="603.4" cy="931.0" r="0.5" fill="#44c060" opacity="0.8"/><circle cx="572.8" cy="911.7" r="0.4" fill="#ffffff" opacity="0.8"/><circle cx="600.0" cy="910.0" r="0.8" fill="#ffffff" opacity="0.8"/><circle cx="576.2" cy="926.8" r="0.5" fill="#5a6ad8" opacity="0.8"/><circle cx="572.7" cy="923.7" r="0.8" fill="#ffffff" opacity="0.8"/><circle cx="621.5" cy="921.7" r="0.4" fill="#b060c0" opacity="0.8"/><circle cx="575.7" cy="915.5" r="0.5" fill="#5a6ad8" opacity="0.8"/><circle cx="605.4" cy="898.1" r="0.6" fill="#5a6ad8" opacity="0.8"/><circle cx="626.7" cy="914.1" r="0.8" fill="#5a6ad8" opacity="0.8"/><circle cx="588.7" cy="900.2" r="0.7" fill="#b060c0" opacity="0.8"/><circle cx="618.6" cy="915.5" r="0.7" fill="#b060c0" opacity="0.8"/><circle cx="615.2" cy="915.6" r="0.4" fill="#44c060" opacity="0.8"/><circle cx="608.5" cy="907.1" r="0.5" fill="#b060c0" opacity="0.8"/><circle cx="578.2" cy="917.7" r="0.7" fill="#ffffff" opacity="0.8"/><circle cx="575.9" cy="929.8" r="0.8" fill="#5a6ad8" opacity="0.8"/><circle cx="603.7" cy="922.0" r="0.6" fill="#5a6ad8" opacity="0.8"/><circle cx="576.4" cy="920.7" r="0.4" fill="#b060c0" opacity="0.8"/><circle cx="580.7" cy="913.5" r="0.4" fill="#44c060" opacity="0.8"/><circle cx="621.6" cy="897.7" r="0.4" fill="#b060c0" opacity="0.8"/><circle cx="626.7" cy="932.7" r="0.5" fill="#ffffff" opacity="0.8"/><circle cx="637.7" cy="923.0" r="0.5" fill="#b060c0" opacity="0.8"/><circle cx="597.9" cy="896.0" r="0.5" fill="#ffffff" opacity="0.8"/><circle cx="603.9" cy="908.2" r="0.4" fill="#5a6ad8" opacity="0.8"/><circle cx="637.3" cy="922.5" r="0.7" fill="#ffffff" opacity="0.8"/><circle cx="634.0" cy="898.7" r="0.4" fill="#b060c0" opacity="0.8"/><circle cx="629.0" cy="920.0" r="0.6" fill="#ffffff" opacity="0.8"/><circle cx="610.9" cy="905.0" r="0.6" fill="#5a6ad8" opacity="0.8"/><circle cx="615.9" cy="927.5" r="0.5" fill="#b060c0" opacity="0.8"/><circle cx="577.5" cy="907.4" r="0.6" fill="#b060c0" opacity="0.8"/><circle cx="608.8" cy="901.5" r="0.6" fill="#ffffff" opacity="0.8"/><circle cx="627.4" cy="930.5" r="0.8" fill="#b060c0" opacity="0.8"/><circle cx="586.6" cy="895.7" r="0.7" fill="#5a6ad8" opacity="0.8"/><circle cx="598.8" cy="923.0" r="0.4" fill="#5a6ad8" opacity="0.8"/><circle cx="587.3" cy="915.9" r="0.6" fill="#b060c0" opacity="0.8"/><circle cx="638.6" cy="907.5" r="0.4" fill="#5a6ad8" opacity="0.8"/><circle cx="595.3" cy="931.7" r="0.7" fill="#b060c0" opacity="0.8"/><circle cx="587.9" cy="932.0" r="0.6" fill="#ffffff" opacity="0.8"/><circle cx="634.4" cy="910.2" r="0.4" fill="#b060c0" opacity="0.8"/><circle cx="619.3" cy="918.9" r="0.8" fill="#ffffff" opacity="0.8"/><circle cx="628.0" cy="908.1" r="0.6" fill="#5a6ad8" opacity="0.8"/><circle cx="607.0" cy="953.9" r="1.5" fill="#d8b8f0"/><circle cx="598.5" cy="963.7" r="1.7" fill="#d8b8f0"/><circle cx="603.6" cy="959.0" r="1.9" fill="#c8d0ff"/><circle cx="605.0" cy="965.2" r="1.4" fill="#c8d0ff"/><circle cx="579.6" cy="959.8" r="1.9" fill="#c8d0ff"/><circle cx="608.7" cy="954.0" r="1.5" fill="#e8ecff"/><circle cx="602.8" cy="932.2" r="1.1" fill="#c8d0ff"/><circle cx="604.2" cy="957.9" r="1.1" fill="#c8d0ff"/><circle cx="596.0" cy="958.8" r="1.9" fill="#ffffff"/><circle cx="611.3" cy="930.0" r="1.4" fill="#c8d0ff"/><circle cx="570.3" cy="951.6" r="1.7" fill="#c8d0ff"/><circle cx="646.9" cy="947.9" r="1.8" fill="#d8b8f0"/><circle cx="597.3" cy="957.5" r="1.6" fill="#d8b8f0"/><circle cx="618.8" cy="938.7" r="1.7" fill="#ffffff"/><circle cx="603.7" cy="944.3" r="1.4" fill="#d8b8f0"/><circle cx="620.0" cy="941.8" r="1.4" fill="#ffffff"/><circle cx="602.3" cy="946.8" r="1.1" fill="#ffffff"/><circle cx="603.6" cy="947.6" r="1.2" fill="#e8ecff"/><circle cx="608.4" cy="924.5" r="1.5" fill="#e8ecff"/><circle cx="587.4" cy="944.2" r="1.5" fill="#c8d0ff"/><circle cx="602.4" cy="944.8" r="1.3" fill="#c8d0ff"/><circle cx="628.4" cy="957.0" r="1.2" fill="#c8d0ff"/><circle cx="594.5" cy="946.9" r="1.2" fill="#c8d0ff"/><circle cx="606.9" cy="943.3" r="1.6" fill="#ffffff"/><circle cx="616.8" cy="962.2" r="1.6" fill="#e8ecff"/><circle cx="597.1" cy="942.9" r="1.3" fill="#c8d0ff"/><circle cx="602.7" cy="968.5" r="1.7" fill="#c8d0ff"/><circle cx="635.5" cy="946.2" r="1.0" fill="#c8d0ff"/><circle cx="592.7" cy="943.4" r="0.9" fill="#c8d0ff"/><circle cx="592.1" cy="952.9" r="1.5" fill="#ffffff"/><circle cx="597.6" cy="948.2" r="1.7" fill="#c8d0ff"/><circle cx="615.8" cy="943.9" r="0.9" fill="#e8ecff"/><circle cx="617.2" cy="956.0" r="1.1" fill="#d8b8f0"/><circle cx="600.5" cy="949.6" r="0.9" fill="#e8ecff"/><circle cx="625.4" cy="940.4" r="1.8" fill="#ffffff"/><circle cx="614.6" cy="955.7" r="1.8" fill="#c8d0ff"/><circle cx="589.1" cy="951.5" r="1.4" fill="#ffffff"/><circle cx="611.0" cy="959.6" r="1.8" fill="#d8b8f0"/><circle cx="602.5" cy="954.4" r="2.0" fill="#e8ecff"/><circle cx="612.9" cy="949.6" r="1.8" fill="#ffffff"/><circle cx="572.1" cy="942.1" r="1.2" fill="#e8ecff"/><circle cx="605.9" cy="944.2" r="1.8" fill="#ffffff"/><circle cx="584.6" cy="949.9" r="1.1" fill="#d8b8f0"/><circle cx="585.2" cy="966.6" r="1.4" fill="#c8d0ff"/><circle cx="620.1" cy="928.3" r="1.0" fill="#e8ecff"/><circle cx="592.3" cy="955.3" r="1.7" fill="#ffffff"/><circle cx="639.2" cy="953.2" r="1.5" fill="#e8ecff"/><circle cx="551.7" cy="941.8" r="1.8" fill="#e8ecff"/><circle cx="624.5" cy="944.3" r="1.6" fill="#c8d0ff"/><circle cx="606.1" cy="946.5" r="1.4" fill="#d8b8f0"/><circle cx="601.2" cy="951.6" r="1.8" fill="#d8b8f0"/><circle cx="634.8" cy="960.3" r="1.9" fill="#c8d0ff"/><circle cx="608.8" cy="935.9" r="1.1" fill="#e8ecff"/><circle cx="619.0" cy="943.3" r="1.5" fill="#e8ecff"/><circle cx="601.9" cy="946.0" r="1.4" fill="#c8d0ff"/><circle cx="606.3" cy="941.8" r="0.8" fill="#4858c8"/><circle cx="594.1" cy="948.1" r="0.8" fill="#2a8a40"/><circle cx="612.1" cy="956.8" r="0.7" fill="#7a3a9a"/><circle cx="584.8" cy="964.9" r="0.8" fill="#4858c8"/><circle cx="622.3" cy="956.3" r="0.5" fill="#2a8a40"/><circle cx="578.1" cy="1004.2" r="0.7" fill="#6070d0"/><circle cx="620.5" cy="988.5" r="0.5" fill="#2a8a40"/><circle cx="608.3" cy="992.6" r="0.7" fill="#6070d0"/><circle cx="660.7" cy="985.1" r="0.5" fill="#2a8a40"/><circle cx="639.3" cy="936.2" r="0.6" fill="#2a8a40"/><circle cx="595.3" cy="976.8" r="0.6" fill="#2a8a40"/><circle cx="667.2" cy="982.7" r="0.5" fill="#2a8a40"/><circle cx="640.2" cy="978.5" r="0.6" fill="#3848b0"/><circle cx="602.8" cy="947.0" r="0.7" fill="#4858c8"/><circle cx="594.9" cy="952.3" r="0.7" fill="#4858c8"/><circle cx="591.5" cy="973.8" r="0.7" fill="#4858c8"/><circle cx="632.5" cy="949.0" r="0.4" fill="#4858c8"/><circle cx="629.5" cy="995.8" r="0.6" fill="#6070d0"/><circle cx="627.0" cy="972.2" r="0.7" fill="#4858c8"/><circle cx="649.4" cy="934.8" r="0.4" fill="#2a8a40"/><circle cx="600.3" cy="939.5" r="0.8" fill="#7a3a9a"/><circle cx="601.4" cy="967.7" r="0.6" fill="#6070d0"/><circle cx="610.6" cy="965.5" r="0.9" fill="#7a3a9a"/><circle cx="620.5" cy="969.5" r="0.8" fill="#4858c8"/><circle cx="568.3" cy="992.5" r="0.9" fill="#6070d0"/><circle cx="598.8" cy="993.1" r="0.7" fill="#2a8a40"/><circle cx="617.9" cy="980.5" r="0.7" fill="#4858c8"/><circle cx="634.4" cy="965.9" r="0.6" fill="#2a8a40"/><circle cx="622.0" cy="948.1" r="0.7" fill="#7a3a9a"/><circle cx="620.2" cy="959.3" r="0.7" fill="#7a3a9a"/><circle cx="663.2" cy="1005.2" r="0.5" fill="#6070d0"/><circle cx="644.3" cy="924.5" r="0.6" fill="#6070d0"/><circle cx="584.8" cy="930.1" r="0.9" fill="#7a3a9a"/><circle cx="579.3" cy="1005.6" r="0.9" fill="#4858c8"/><circle cx="614.6" cy="971.1" r="0.6" fill="#6070d0"/><circle cx="580.6" cy="943.0" r="0.6" fill="#4858c8"/><circle cx="593.0" cy="964.4" r="0.5" fill="#4858c8"/><circle cx="679.4" cy="972.9" r="0.5" fill="#6070d0"/><circle cx="614.3" cy="919.3" r="0.5" fill="#7a3a9a"/><circle cx="680.8" cy="989.5" r="0.4" fill="#7a3a9a"/><circle cx="625.6" cy="957.7" r="0.9" fill="#7a3a9a"/><circle cx="584.4" cy="978.0" r="0.6" fill="#4858c8"/><circle cx="598.5" cy="938.8" r="0.4" fill="#4858c8"/><circle cx="674.1" cy="986.8" r="0.4" fill="#4858c8"/><circle cx="619.0" cy="986.8" r="0.6" fill="#4858c8"/><circle cx="652.9" cy="962.0" r="0.6" fill="#4858c8"/><circle cx="663.7" cy="970.0" r="0.6" fill="#7a3a9a"/><circle cx="611.7" cy="968.2" r="0.5" fill="#2a8a40"/><circle cx="592.2" cy="955.0" r="0.7" fill="#2a8a40"/><circle cx="616.5" cy="957.5" r="0.5" fill="#2a8a40"/><circle cx="613.4" cy="979.3" r="0.6" fill="#7a3a9a"/><circle cx="613.9" cy="955.0" r="0.9" fill="#6070d0"/><circle cx="584.2" cy="966.1" r="0.8" fill="#7a3a9a"/><circle cx="596.5" cy="934.4" r="0.6" fill="#2a8a40"/><circle cx="614.3" cy="917.5" r="0.6" fill="#7a3a9a"/><circle cx="611.2" cy="1004.7" r="0.6" fill="#7a3a9a"/><circle cx="575.5" cy="967.4" r="0.5" fill="#4858c8"/><circle cx="676.7" cy="981.2" r="0.7" fill="#3848b0"/><circle cx="670.5" cy="993.9" r="0.8" fill="#7a3a9a"/><circle cx="606.9" cy="964.1" r="0.6" fill="#3848b0"/><circle cx="609.7" cy="965.9" r="0.6" fill="#2a8a40"/><circle cx="631.1" cy="943.4" r="0.8" fill="#4858c8"/><circle cx="679.0" cy="954.2" r="0.9" fill="#6070d0"/><circle cx="597.9" cy="989.1" r="0.7" fill="#3848b0"/><circle cx="672.5" cy="962.3" r="0.5" fill="#6070d0"/><circle cx="615.2" cy="940.9" r="0.7" fill="#7a3a9a"/><circle cx="683.5" cy="985.7" r="0.5" fill="#6070d0"/><circle cx="627.9" cy="939.7" r="0.6" fill="#2a8a40"/><circle cx="594.3" cy="943.4" r="0.8" fill="#7a3a9a"/><circle cx="679.0" cy="973.8" r="0.4" fill="#3848b0"/><circle cx="646.4" cy="935.7" r="0.6" fill="#3848b0"/><circle cx="593.4" cy="948.5" r="0.7" fill="#3848b0"/><circle cx="622.1" cy="957.1" r="0.9" fill="#3848b0"/><circle cx="603.1" cy="990.4" r="0.8" fill="#3848b0"/><circle cx="586.9" cy="952.9" r="0.5" fill="#3848b0"/><circle cx="608.4" cy="971.1" r="0.5" fill="#3848b0"/><circle cx="601.3" cy="963.0" r="0.4" fill="#6070d0"/><circle cx="580.5" cy="968.1" r="0.8" fill="#6070d0"/><circle cx="638.3" cy="948.0" r="0.8" fill="#6070d0"/><circle cx="636.0" cy="967.3" r="0.8" fill="#3848b0"/><circle cx="624.6" cy="951.0" r="0.7" fill="#4858c8"/><circle cx="607.5" cy="959.9" r="0.6" fill="#3848b0"/><circle cx="679.7" cy="1002.4" r="0.8" fill="#6070d0"/><circle cx="674.6" cy="981.1" r="0.7" fill="#3848b0"/><circle cx="627.4" cy="972.3" r="0.6" fill="#2a8a40"/><circle cx="586.4" cy="953.6" r="0.5" fill="#3848b0"/><circle cx="578.1" cy="965.2" r="0.5" fill="#7a3a9a"/><circle cx="606.3" cy="945.6" r="0.5" fill="#7a3a9a"/><circle cx="596.9" cy="956.2" r="0.4" fill="#6070d0"/><circle cx="565.9" cy="942.0" r="0.9" fill="#6070d0"/><circle cx="680.5" cy="985.2" r="0.9" fill="#4858c8"/><circle cx="601.6" cy="955.4" r="0.6" fill="#6070d0"/><circle cx="601.3" cy="998.5" r="0.5" fill="#2a8a40"/><circle cx="630.9" cy="975.9" r="0.7" fill="#2a8a40"/><circle cx="582.5" cy="992.5" r="0.7" fill="#7a3a9a"/><circle cx="659.7" cy="998.8" r="0.7" fill="#3848b0"/><circle cx="611.1" cy="976.1" r="0.9" fill="#3848b0"/><circle cx="684.3" cy="943.3" r="0.7" fill="#6070d0"/><circle cx="628.4" cy="953.0" r="0.7" fill="#4858c8"/><circle cx="621.1" cy="938.1" r="0.8" fill="#3848b0"/><circle cx="574.4" cy="1003.2" r="0.9" fill="#4858c8"/><circle cx="591.0" cy="962.6" r="0.4" fill="#6070d0"/><circle cx="659.2" cy="956.6" r="0.8" fill="#4858c8"/><circle cx="577.5" cy="962.3" r="0.7" fill="#3848b0"/><circle cx="655.7" cy="1005.9" r="0.6" fill="#6070d0"/><circle cx="590.2" cy="976.3" r="0.4" fill="#4858c8"/><circle cx="639.0" cy="1001.6" r="0.9" fill="#2a8a40"/><circle cx="660.4" cy="946.1" r="0.7" fill="#4858c8"/><circle cx="619.7" cy="970.8" r="0.6" fill="#4858c8"/><circle cx="593.9" cy="979.4" r="0.8" fill="#4858c8"/><circle cx="602.0" cy="959.6" r="0.5" fill="#3848b0"/><circle cx="608.2" cy="951.2" r="0.9" fill="#2a8a40"/><circle cx="666.4" cy="984.2" r="0.5" fill="#4858c8"/><circle cx="577.7" cy="967.2" r="0.7" fill="#4858c8"/><circle cx="656.5" cy="956.0" r="0.8" fill="#4858c8"/><circle cx="591.4" cy="943.7" r="0.6" fill="#3848b0"/><circle cx="672.3" cy="937.6" r="0.7" fill="#3848b0"/><circle cx="613.4" cy="966.3" r="0.5" fill="#6070d0"/><circle cx="641.8" cy="962.3" r="0.9" fill="#6070d0"/><circle cx="630.6" cy="983.5" r="0.6" fill="#7a3a9a"/><circle cx="559.2" cy="979.8" r="0.8" fill="#7a3a9a"/><circle cx="620.2" cy="972.5" r="0.4" fill="#6070d0"/><circle cx="652.3" cy="939.0" r="0.7" fill="#3848b0"/><circle cx="677.7" cy="936.8" r="0.7" fill="#6070d0"/><circle cx="656.4" cy="978.0" r="0.4" fill="#6070d0"/><circle cx="579.7" cy="990.1" r="0.6" fill="#6070d0"/><circle cx="669.3" cy="960.7" r="0.6" fill="#7a3a9a"/><circle cx="644.7" cy="966.0" r="0.8" fill="#4858c8"/><circle cx="683.9" cy="960.5" r="0.5" fill="#2a8a40"/><circle cx="584.5" cy="973.3" r="0.5" fill="#6070d0"/><circle cx="605.1" cy="961.3" r="0.5" fill="#4858c8"/><circle cx="676.2" cy="1008.7" r="0.7" fill="#6070d0"/><circle cx="598.6" cy="949.3" r="0.7" fill="#4858c8"/><circle cx="574.3" cy="960.0" r="0.6" fill="#3848b0"/><circle cx="586.8" cy="958.7" r="0.6" fill="#2a8a40"/><circle cx="672.0" cy="989.2" r="0.5" fill="#3848b0"/><circle cx="634.5" cy="970.6" r="0.5" fill="#3848b0"/><circle cx="642.3" cy="990.7" r="0.5" fill="#6070d0"/><circle cx="621.3" cy="961.8" r="0.7" fill="#2a8a40"/><circle cx="658.2" cy="946.9" r="0.8" fill="#6070d0"/><circle cx="663.9" cy="963.7" r="0.8" fill="#7a3a9a"/><circle cx="612.6" cy="1003.6" r="0.6" fill="#6070d0"/><circle cx="615.0" cy="950.3" r="0.9" fill="#3848b0"/><circle cx="617.0" cy="970.2" r="0.7" fill="#4858c8"/><circle cx="600.1" cy="982.7" r="0.8" fill="#2a8a40"/><circle cx="663.0" cy="990.5" r="0.5" fill="#6070d0"/><circle cx="625.1" cy="934.0" r="0.7" fill="#2a8a40"/><circle cx="599.5" cy="946.5" r="0.8" fill="#4858c8"/><circle cx="587.2" cy="973.9" r="0.6" fill="#7a3a9a"/><circle cx="656.6" cy="968.7" r="0.9" fill="#4858c8"/><circle cx="603.9" cy="969.7" r="0.4" fill="#7a3a9a"/><circle cx="666.4" cy="984.5" r="0.6" fill="#6070d0"/><circle cx="600.8" cy="951.8" r="0.7" fill="#3848b0"/><circle cx="660.8" cy="953.0" r="0.7" fill="#2a8a40"/><circle cx="607.5" cy="935.7" r="0.7" fill="#6070d0"/><circle cx="648.9" cy="940.0" r="0.6" fill="#2a8a40"/><circle cx="624.7" cy="958.7" r="0.5" fill="#2a8a40"/><circle cx="624.6" cy="941.0" r="0.8" fill="#2a8a40"/><circle cx="592.6" cy="932.9" r="0.5" fill="#4858c8"/><circle cx="647.2" cy="992.2" r="0.8" fill="#6070d0"/>
</g>
<text x="566.5" y="888.0" font-size="13" font-family='"Liberation Serif", serif' font-weight="bold" fill="#4cb444" text-anchor="end">SNX27</text>
<text x="686.0" y="888.0" font-size="13" font-family='"Liberation Serif", serif' font-weight="bold" fill="#3563b4" text-anchor="end">SNX1</text>
<text x="566.5" y="1005.5" font-size="13" font-family='"Liberation Serif", serif' font-weight="bold" fill="#a451b0" text-anchor="end">VPS35</text>
<rect x="455.5" y="879.4" width="14.0" height="2.2" fill="#000"/>
<text x="455.8" y="887.4" font-size="4.6" font-family='"Liberation Sans", sans-serif' font-weight="bold" fill="#111">2 µm</text>
</svg></body></html>
